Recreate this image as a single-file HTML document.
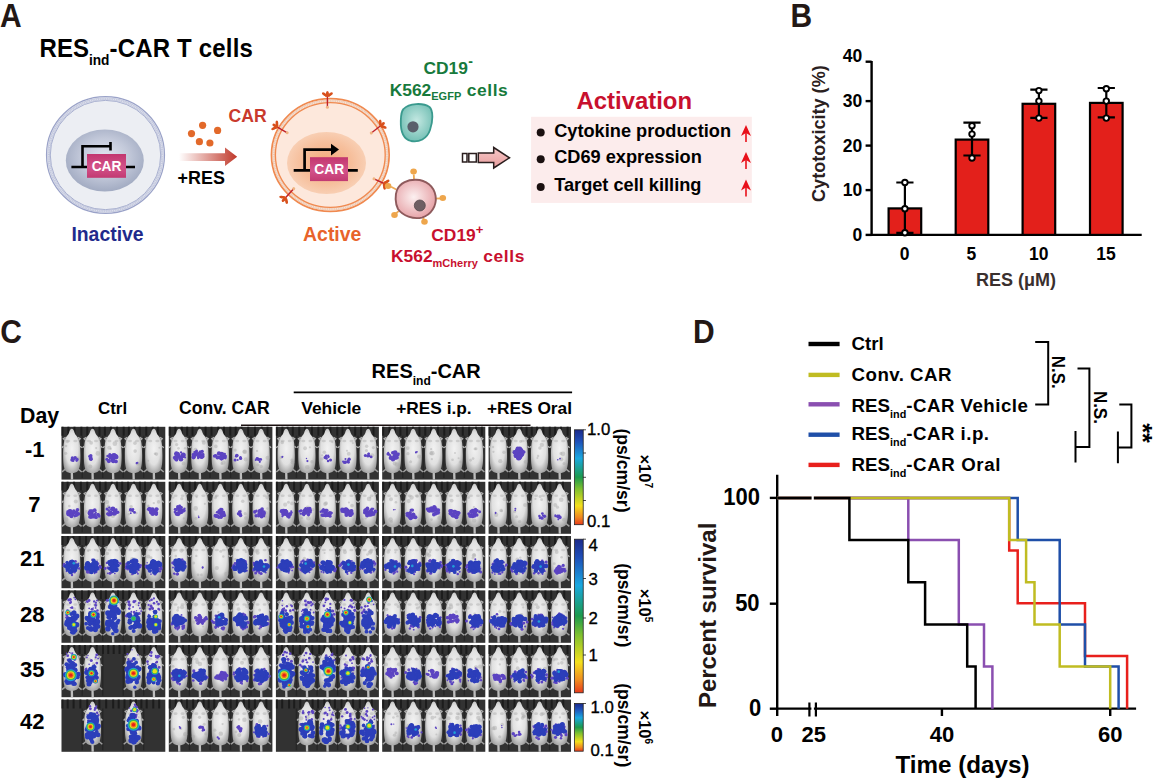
<!DOCTYPE html>
<html><head><meta charset="utf-8"><style>
html,body{margin:0;padding:0;background:#fff;width:1170px;height:782px;overflow:hidden}
svg{display:block}
text{font-family:"Liberation Sans", sans-serif}
</style></head><body>
<svg width="1170" height="782" viewBox="0 0 1170 782">
<rect width="1170" height="782" fill="#fff"/>
<text transform="translate(0,27.1) scale(1,1.09)" font-size="30" font-weight="bold" fill="#231815">A</text>
<text transform="translate(39.6,56.6) scale(1,1.05)" font-size="24" font-weight="bold" fill="#000">RES<tspan font-size="13.7" dy="7.6">ind</tspan><tspan dy="-7.6" letter-spacing="0.2">-CAR T cells</tspan></text>
<defs>
<radialGradient id="nucI" cx="50%" cy="45%" r="55%"><stop offset="0" stop-color="#e2e6f0"/><stop offset="0.55" stop-color="#c3c9da"/><stop offset="1" stop-color="#a2abc2"/></radialGradient>
<radialGradient id="nucA" cx="50%" cy="50%" r="55%"><stop offset="0" stop-color="#f3a979"/><stop offset="0.6" stop-color="#f6bf9c"/><stop offset="1" stop-color="#f9d3ba"/></radialGradient>
<linearGradient id="carG" x1="0" y1="0" x2="0" y2="1"><stop offset="0" stop-color="#c2366e"/><stop offset="0.55" stop-color="#d3528a"/><stop offset="1" stop-color="#c23a72"/></linearGradient>
<linearGradient id="arrG" x1="179" y1="0" x2="237" y2="0" gradientUnits="userSpaceOnUse"><stop offset="0" stop-color="#c0392b" stop-opacity="0"/><stop offset="1" stop-color="#c0392b"/></linearGradient>
<radialGradient id="pinkG" cx="45%" cy="45%" r="60%"><stop offset="0" stop-color="#fcf0f0"/><stop offset="1" stop-color="#e59ea3"/></radialGradient>
<radialGradient id="tealG" cx="50%" cy="45%" r="60%"><stop offset="0" stop-color="#c4e8e2"/><stop offset="1" stop-color="#6fbdb2"/></radialGradient>
<linearGradient id="hollowG" x1="0" y1="0" x2="0" y2="1"><stop offset="0" stop-color="#f7c9c9"/><stop offset="1" stop-color="#e79c9c"/></linearGradient>
</defs>
<ellipse cx="105.5" cy="155" rx="59" ry="58.4" fill="#eceef3" stroke="#9aa2c8" stroke-width="1.2"/>
<ellipse cx="105.5" cy="155" rx="56.8" ry="56.2" fill="none" stroke="#c3c8de" stroke-width="2.6"/><ellipse cx="105.5" cy="155" rx="56.8" ry="56.2" fill="none" stroke="#fff" stroke-opacity="0.5" stroke-width="1.3" stroke-dasharray="0.9 0.9"/>
<ellipse cx="105.5" cy="155" rx="55.2" ry="54.6" fill="none" stroke="#a2a9cc" stroke-width="0.9"/>
<ellipse cx="104.8" cy="160.5" rx="39" ry="31" fill="url(#nucI)"/>
<path d="M71.4,167 H135 M82.5,167 V146.2 H110.5 M110.5,142 V150.5" stroke="#000" stroke-width="2.6" fill="none"/>
<rect x="87" y="154" width="39" height="23.8" fill="url(#carG)"/>
<text transform="translate(106.6,170.9) scale(1,1.12)" font-size="13.8" font-weight="bold" fill="#fff" text-anchor="middle">CAR</text>
<text x="107.5" y="241" font-size="19.4" fill="#1f2a8c" text-anchor="middle" font-weight="bold" >Inactive</text>
<path d="M179,153.2 H225 V147.5 L237.2,156.8 L225,166 V160.9 H179 Z" fill="url(#arrG)"/>
<circle cx="202.6" cy="125.3" r="3.6" fill="#e2692a"/>
<circle cx="191.5" cy="133.6" r="3.6" fill="#e2692a"/>
<circle cx="217.6" cy="130.4" r="3.6" fill="#e2692a"/>
<circle cx="199.4" cy="141.7" r="3.6" fill="#e2692a"/>
<circle cx="209.9" cy="143" r="3.6" fill="#e2692a"/>
<text x="228.6" y="122.2" font-size="17.6" fill="#c9392c" text-anchor="start" font-weight="bold" >CAR</text>
<text x="177.6" y="184" font-size="17.9" fill="#000" text-anchor="start" font-weight="bold" >+RES</text>
<ellipse cx="330.3" cy="155" rx="58.8" ry="56.3" fill="#fde8dc" stroke="#f0894f" stroke-width="1.8"/>
<ellipse cx="330.3" cy="155" rx="56.6" ry="54.1" fill="none" stroke="#eecab4" stroke-width="2.8"/><ellipse cx="330.3" cy="155" rx="56.6" ry="54.1" fill="none" stroke="#fff" stroke-opacity="0.55" stroke-width="1.4" stroke-dasharray="0.9 0.9"/>
<ellipse cx="330.3" cy="155" rx="54.9" ry="52.4" fill="none" stroke="#f0894f" stroke-width="1.3"/>
<ellipse cx="326.5" cy="163" rx="39.5" ry="31" fill="url(#nucA)"/>
<path d="M293.7,170.4 H357.8 M304.6,170.4 V149.6 H332" stroke="#000" stroke-width="2.7" fill="none"/>
<path d="M331,143.8 L339,149.6 L331,155.6 Z" fill="#000"/>
<rect x="310" y="157.2" width="38" height="23.9" fill="url(#carG)"/>
<text transform="translate(329.2,174.3) scale(1,1.12)" font-size="13.8" font-weight="bold" fill="#fff" text-anchor="middle">CAR</text>
<text x="332.2" y="241" font-size="19.4" fill="#e8632a" text-anchor="middle" font-weight="bold" >Active</text>
<g transform="translate(327.4,107.2) rotate(0.0)"><line x1="0" y1="0" x2="0" y2="-11.0" stroke="#c0202a" stroke-width="1.4"/><circle cx="0" cy="0" r="1.5" fill="#f0b482"/><ellipse cx="0" cy="-13.6" rx="1.5" ry="2.6" fill="#d8501c"/><ellipse cx="-3.2" cy="-13.0" rx="1.4" ry="2.6" transform="rotate(-55 -3.2 -13.0)" fill="#d8501c"/><ellipse cx="3.2" cy="-13.0" rx="1.4" ry="2.6" transform="rotate(55 3.2 -13.0)" fill="#d8501c"/><ellipse cx="0" cy="-11.6" rx="2.8" ry="1.5" fill="#d8501c"/></g>
<g transform="translate(287.2,132.8) rotate(-59.53445508054003)"><line x1="0" y1="0" x2="0" y2="-11.83384975398961" stroke="#c0202a" stroke-width="1.4"/><circle cx="0" cy="0" r="1.5" fill="#f0b482"/><ellipse cx="0" cy="-14.433849753989609" rx="1.5" ry="2.6" fill="#d8501c"/><ellipse cx="-3.2" cy="-13.83384975398961" rx="1.4" ry="2.6" transform="rotate(-55 -3.2 -13.83384975398961)" fill="#d8501c"/><ellipse cx="3.2" cy="-13.83384975398961" rx="1.4" ry="2.6" transform="rotate(55 3.2 -13.83384975398961)" fill="#d8501c"/><ellipse cx="0" cy="-12.433849753989609" rx="2.8" ry="1.5" fill="#d8501c"/></g>
<g transform="translate(371.3,133) rotate(52.25319461272536)"><line x1="0" y1="0" x2="0" y2="-11.761377470347606" stroke="#c0202a" stroke-width="1.4"/><circle cx="0" cy="0" r="1.5" fill="#f0b482"/><ellipse cx="0" cy="-14.361377470347605" rx="1.5" ry="2.6" fill="#d8501c"/><ellipse cx="-3.2" cy="-13.761377470347606" rx="1.4" ry="2.6" transform="rotate(-55 -3.2 -13.761377470347606)" fill="#d8501c"/><ellipse cx="3.2" cy="-13.761377470347606" rx="1.4" ry="2.6" transform="rotate(55 3.2 -13.761377470347606)" fill="#d8501c"/><ellipse cx="0" cy="-12.361377470347605" rx="2.8" ry="1.5" fill="#d8501c"/></g>
<g transform="translate(293.7,188.7) rotate(222.02197934805014)"><line x1="0" y1="0" x2="0" y2="-12.24948978529311" stroke="#c0202a" stroke-width="1.4"/><circle cx="0" cy="0" r="1.5" fill="#f0b482"/><ellipse cx="0" cy="-14.849489785293109" rx="1.5" ry="2.6" fill="#d8501c"/><ellipse cx="-3.2" cy="-14.24948978529311" rx="1.4" ry="2.6" transform="rotate(-55 -3.2 -14.24948978529311)" fill="#d8501c"/><ellipse cx="3.2" cy="-14.24948978529311" rx="1.4" ry="2.6" transform="rotate(55 3.2 -14.24948978529311)" fill="#d8501c"/><ellipse cx="0" cy="-12.849489785293109" rx="2.8" ry="1.5" fill="#d8501c"/></g>
<g transform="translate(374.0,178.8) rotate(115.17352452453011)"><line x1="0" y1="0" x2="0" y2="-11.049434374663704" stroke="#c0202a" stroke-width="1.4"/><circle cx="0" cy="0" r="1.5" fill="#f0b482"/><ellipse cx="0" cy="-13.649434374663704" rx="1.5" ry="2.6" fill="#d8501c"/><ellipse cx="-3.2" cy="-13.049434374663704" rx="1.4" ry="2.6" transform="rotate(-55 -3.2 -13.049434374663704)" fill="#d8501c"/><ellipse cx="3.2" cy="-13.049434374663704" rx="1.4" ry="2.6" transform="rotate(55 3.2 -13.049434374663704)" fill="#d8501c"/><ellipse cx="0" cy="-11.649434374663704" rx="2.8" ry="1.5" fill="#d8501c"/></g>
<text x="423.4" y="73.9" font-size="17.4" fill="#177a3c" text-anchor="start" font-weight="bold" >CD19<tspan font-size="14" dy="-8" dx="0.5">-</tspan></text>
<text x="389.7" y="95.8" font-size="17.4" font-weight="bold" fill="#177a3c">K562<tspan font-size="11" dy="4.5">EGFP</tspan><tspan dy="-4.5" letter-spacing="0.6"> cells</tspan></text>
<path d="M403.5,109 C409,103 423,102.5 429.5,107 C433.5,111 433,121 430,130 C427,139 419,142.5 411,141 C403,139 400.5,130 400.8,121 C401,115 401,111.5 403.5,109 Z" fill="url(#tealG)" stroke="#3a9a8e" stroke-width="1.8"/>
<circle cx="413" cy="126.8" r="5.6" fill="#5a5f6b"/>
<rect x="462.5" y="153.5" width="4.5" height="8.5" fill="#fff" stroke="#2a1e1e" stroke-width="1.5"/>
<rect x="468.8" y="153.5" width="7.5" height="8.5" fill="#fff" stroke="#2a1e1e" stroke-width="1.5"/>
<path d="M478.3,153 H493.7 V147.5 L509.5,157.8 L493.7,168 V162.5 H478.3 Z" fill="url(#hollowG)" stroke="#2a1e1e" stroke-width="1.5"/>
<line x1="414" y1="180" x2="413.8" y2="174.5" stroke="#eeaa55" stroke-width="1.8"/>
<ellipse cx="413.6" cy="171.6" rx="3.3" ry="3" fill="#eea64c"/>
<line x1="396.3" y1="189.5" x2="391" y2="186.8" stroke="#eeaa55" stroke-width="1.8"/>
<ellipse cx="388.1" cy="186" rx="3.3" ry="3" fill="#eea64c"/>
<line x1="435.7" y1="198.5" x2="440.2" y2="198.5" stroke="#eeaa55" stroke-width="1.8"/>
<ellipse cx="442.8" cy="198" rx="3.3" ry="3" fill="#eea64c"/>
<line x1="399.4" y1="210.6" x2="395.4" y2="213.7" stroke="#eeaa55" stroke-width="1.8"/>
<ellipse cx="394.5" cy="215" rx="3.3" ry="3" fill="#eea64c"/>
<line x1="423.2" y1="217.3" x2="424" y2="220.8" stroke="#eeaa55" stroke-width="1.8"/>
<ellipse cx="424.5" cy="221.7" rx="3.3" ry="3" fill="#eea64c"/>
<path d="M397,190 C400,183 408,179.5 416,179.8 C426,180 434,186 435.6,196 C437,206 431,215 422,217.6 C413,219.5 403,216 398,209 C395,203 395,195 397,190 Z" fill="url(#pinkG)" stroke="#8e5a5c" stroke-width="1.9"/>
<circle cx="419.8" cy="205.5" r="5.5" fill="#6e5f63" stroke="#574a4e" stroke-width="0.8"/>
<text x="431.3" y="241.2" font-size="17.4" fill="#c8102e" text-anchor="start" font-weight="bold" >CD19<tspan font-size="13" dy="-7.5">+</tspan></text>
<text x="391" y="262.3" font-size="17.4" font-weight="bold" fill="#c8102e">K562<tspan font-size="11" dy="4.5">mCherry</tspan><tspan dy="-4.5" letter-spacing="0.6"> cells</tspan></text>
<text x="634.3" y="108.8" font-size="23.9" fill="#c8102e" text-anchor="middle" font-weight="bold" >Activation</text>
<rect x="531.1" y="116.8" width="220.7" height="86.1" fill="#fcecec"/>
<circle cx="540.7" cy="132.5" r="4" fill="#1a1010"/>
<text x="554.2" y="136.6" font-size="18.2" fill="#000" text-anchor="start" font-weight="bold" >Cytokine production</text>
<path d="M746,141.9 V128.9" stroke="#e8101a" stroke-width="1.6"/>
<path d="M746,124.9 L751,135.9 L746,132.9 L741,135.9 Z" fill="#e8101a"/>
<circle cx="540.7" cy="159.20000000000002" r="4" fill="#1a1010"/>
<text x="554.2" y="163.3" font-size="18.2" fill="#000" text-anchor="start" font-weight="bold" >CD69 expression</text>
<path d="M746,169 V156" stroke="#e8101a" stroke-width="1.6"/>
<path d="M746,152 L751,163 L746,160 L741,163 Z" fill="#e8101a"/>
<circle cx="540.7" cy="187.0" r="4" fill="#1a1010"/>
<text x="554.2" y="191.1" font-size="18.2" fill="#000" text-anchor="start" font-weight="bold" >Target cell killing</text>
<path d="M746,196.4 V183.4" stroke="#e8101a" stroke-width="1.6"/>
<path d="M746,179.4 L751,190.4 L746,187.4 L741,190.4 Z" fill="#e8101a"/>
<text transform="translate(790.6,27) scale(1,1.09)" font-size="30" font-weight="bold" fill="#231815">B</text>
<path d="M871.6,61 V234.9 H1141.7" stroke="#000" stroke-width="2.4" fill="none"/>
<line x1="865.6" y1="61.7" x2="871.6" y2="61.7" stroke="#000" stroke-width="2.4"/>
<line x1="865.6" y1="101.1" x2="871.6" y2="101.1" stroke="#000" stroke-width="2.4"/>
<line x1="865.6" y1="145.6" x2="871.6" y2="145.6" stroke="#000" stroke-width="2.4"/>
<line x1="865.6" y1="190.1" x2="871.6" y2="190.1" stroke="#000" stroke-width="2.4"/>
<line x1="865.6" y1="234.9" x2="871.6" y2="234.9" stroke="#000" stroke-width="2.4"/>
<text x="862.2" y="62.2" font-size="17.5" fill="#000" text-anchor="end" font-weight="bold" >40</text>
<text x="862.2" y="107" font-size="17.5" fill="#000" text-anchor="end" font-weight="bold" >30</text>
<text x="862.2" y="151.5" font-size="17.5" fill="#000" text-anchor="end" font-weight="bold" >20</text>
<text x="862.2" y="196" font-size="17.5" fill="#000" text-anchor="end" font-weight="bold" >10</text>
<text x="862.2" y="240.8" font-size="17.5" fill="#000" text-anchor="end" font-weight="bold" >0</text>
<text transform="translate(825.3,133.6) rotate(-90)" x="0" y="0" font-size="18.1" font-weight="bold" fill="#2a2020" text-anchor="middle">Cytotoxicity (%)</text>
<rect x="888.6" y="208.4" width="32.6" height="26.499999999999993" fill="#e3201b" stroke="#000" stroke-width="2.2"/>
<path d="M904.9,182.5 V232.8 M896.3,182.5 H913.5 M896.3,232.8 H913.5" stroke="#000" stroke-width="2.2" fill="none"/>
<circle cx="904.9" cy="182.5" r="2.75" fill="#fff" stroke="#000" stroke-width="1.9"/>
<circle cx="904.9" cy="208.7" r="2.75" fill="#fff" stroke="#000" stroke-width="1.9"/>
<circle cx="904.9" cy="232.8" r="2.75" fill="#fff" stroke="#000" stroke-width="1.9"/>
<rect x="955.7" y="139.6" width="32.6" height="95.30000000000001" fill="#e3201b" stroke="#000" stroke-width="2.2"/>
<path d="M972,122.6 V155.5 M963.4,122.6 H980.6 M963.4,155.5 H980.6" stroke="#000" stroke-width="2.2" fill="none"/>
<circle cx="972" cy="125.8" r="2.75" fill="#fff" stroke="#000" stroke-width="1.9"/>
<circle cx="972" cy="134.1" r="2.75" fill="#fff" stroke="#000" stroke-width="1.9"/>
<circle cx="972" cy="158" r="2.75" fill="#fff" stroke="#000" stroke-width="1.9"/>
<rect x="1022.6000000000001" y="103.8" width="32.6" height="131.1" fill="#e3201b" stroke="#000" stroke-width="2.2"/>
<path d="M1038.9,89.6 V117.8 M1030.3000000000002,89.6 H1047.5 M1030.3000000000002,117.8 H1047.5" stroke="#000" stroke-width="2.2" fill="none"/>
<circle cx="1038.9" cy="90.6" r="2.75" fill="#fff" stroke="#000" stroke-width="1.9"/>
<circle cx="1038.9" cy="101.1" r="2.75" fill="#fff" stroke="#000" stroke-width="1.9"/>
<circle cx="1038.9" cy="118.1" r="2.75" fill="#fff" stroke="#000" stroke-width="1.9"/>
<rect x="1090.0" y="102.89999999999999" width="32.6" height="132.00000000000003" fill="#e3201b" stroke="#000" stroke-width="2.2"/>
<path d="M1106.3,88 V117.4 M1097.7,88 H1114.8999999999999 M1097.7,117.4 H1114.8999999999999" stroke="#000" stroke-width="2.2" fill="none"/>
<circle cx="1106.3" cy="88.7" r="2.75" fill="#fff" stroke="#000" stroke-width="1.9"/>
<circle cx="1106.3" cy="101.1" r="2.75" fill="#fff" stroke="#000" stroke-width="1.9"/>
<circle cx="1106.3" cy="118.1" r="2.75" fill="#fff" stroke="#000" stroke-width="1.9"/>
<text x="904.6" y="259.6" font-size="17.5" fill="#000" text-anchor="middle" font-weight="bold" >0</text>
<text x="971.4" y="259.6" font-size="17.5" fill="#000" text-anchor="middle" font-weight="bold" >5</text>
<text x="1038.8" y="259.6" font-size="17.5" fill="#000" text-anchor="middle" font-weight="bold" >10</text>
<text x="1105.9" y="259.6" font-size="17.5" fill="#000" text-anchor="middle" font-weight="bold" >15</text>
<text x="1016" y="285.5" font-size="18" fill="#3a302e" text-anchor="middle" font-weight="bold" >RES (μM)</text>
<text transform="translate(0.2,342.9) scale(1,1.09)" font-size="30" font-weight="bold" fill="#231815">C</text>
<text x="20" y="422.8" font-size="21.3" fill="#000" text-anchor="start" font-weight="bold" >Day</text>
<text x="112.6" y="413.8" font-size="16.9" fill="#000" text-anchor="middle" font-weight="bold" >Ctrl</text>
<text x="224.4" y="413.8" font-size="17.6" fill="#000" text-anchor="middle" font-weight="bold" >Conv. CAR</text>
<text x="331.3" y="413.8" font-size="17.4" fill="#000" text-anchor="middle" font-weight="bold" >Vehicle</text>
<text x="433.9" y="413.8" font-size="17.3" fill="#000" text-anchor="middle" font-weight="bold" >+RES i.p.</text>
<text x="529.5" y="413.8" font-size="17.3" fill="#000" text-anchor="middle" font-weight="bold" >+RES Oral</text>
<text x="371.6" y="378.2" font-size="20" font-weight="bold" fill="#000">RES<tspan font-size="12" dy="6.5">ind</tspan><tspan dy="-6.5">-CAR</tspan></text>
<line x1="293.7" y1="392.4" x2="572.1" y2="392.4" stroke="#000" stroke-width="1.6"/>
<text x="44.6" y="456.6" font-size="22" fill="#000" text-anchor="end" font-weight="bold" >-1</text>
<text x="44.6" y="566.2" font-size="22" fill="#000" text-anchor="end" font-weight="bold" >21</text>
<text x="44.6" y="622" font-size="22" fill="#000" text-anchor="end" font-weight="bold" >28</text>
<text x="44.6" y="677.3" font-size="22" fill="#000" text-anchor="end" font-weight="bold" >35</text>
<text x="44.6" y="729.3" font-size="22" fill="#000" text-anchor="end" font-weight="bold" >42</text>
<text x="34.4" y="511.6" font-size="22" fill="#000" text-anchor="middle" font-weight="bold" >7</text>
<style>.p{fill:#5c44c2}.b{fill:#2c3eba}.c{fill:#1f9fd8}.g{fill:#3cb850}.y{fill:#e8e020}.o{fill:#f07820}.r{fill:#e82018}.s{fill:#a8a8a8;opacity:.45}</style>
<defs><radialGradient id="mouseG" cx="50%" cy="45%" r="60%"><stop offset="0" stop-color="#f2f2f2"/><stop offset="0.6" stop-color="#e0e0e0"/><stop offset="1" stop-color="#9c9c9c"/></radialGradient>
<g id="mb"><path d="M-5.5,41 L-9.8,44.5 M5.5,41 L9.8,44.5" stroke="#a0a0a0" stroke-width="1.5"/><path d="M0,44 L0.2,52" stroke="#bdbdbd" stroke-width="2.3"/><path d="M0,2 C1.2,2 2,3.5 2.8,6 C3.5,8 5.5,9.5 6.8,12 C8,14.5 8.4,20 8.5,28 C8.5,36 8,41 6,43.5 C4.5,45 2.5,45.5 0,45.5 C-2.5,45.5 -4.5,45 -6,43.5 C-8,41 -8.5,36 -8.5,28 C-8.4,20 -8,14.5 -6.8,12 C-5.5,9.5 -3.5,8 -2.8,6 C-2,3.5 -1.2,2 0,2 Z" fill="url(#mouseG)"/><path d="M-6,10.5 l-2.2,1.2 l1.6,1.8 M6,10.5 l2.2,1.2 l-1.6,1.8 M-8.3,19 l-1.5,1.8 M8.3,19 l1.5,1.8" stroke="#b0b0b0" stroke-width="1.4" fill="none"/><ellipse cx="-3.5" cy="14" rx="2" ry="1.3" fill="#9a9a9a" opacity="0.35"/><ellipse cx="3.5" cy="14" rx="2" ry="1.3" fill="#9a9a9a" opacity="0.35"/></g>
<linearGradient id="cb" x1="0" y1="0" x2="0" y2="1"><stop offset="0" stop-color="#1c2a8a"/><stop offset="0.12" stop-color="#1f4fb8"/><stop offset="0.3" stop-color="#1aa8e0"/><stop offset="0.5" stop-color="#1c9a4c"/><stop offset="0.62" stop-color="#7cc030"/><stop offset="0.8" stop-color="#f4e01c"/><stop offset="0.92" stop-color="#f08a20"/><stop offset="1" stop-color="#e83a1c"/></linearGradient></defs>
<rect x="61.5" y="426.8" width="103.8" height="52.8" fill="#323232"/><path d="M62.5,426.8v9M68.4,426.8v9M74.5,426.8v9M81.4,426.8v9M87.3,426.8v9M93.3,426.8v9M99.5,426.8v9M104.9,426.8v9M110.9,426.8v9M117.1,426.8v9M123.7,426.8v9M128.9,426.8v9M134.5,426.8v9M139.7,426.8v9M146.3,426.8v9M152.7,426.8v9M157.8,426.8v9" stroke="#1c1c1c" stroke-width="2"/><path d="M82.2,435.8v42.2M102.8,435.8v42.2M123.2,435.8v42.2M143.7,435.8v42.2" stroke="#262626" stroke-width="1.4"/><g transform="translate(71.8,426.8) scale(1.015)"><use href="#mb"/><circle class="s" cx="6" cy="31" r="1.8"/><circle class="s" cx="-4.5" cy="14.4" r="1.7"/><circle class="s" cx="-5.7" cy="18.9" r="1.3"/><circle class="s" cx="-6.1" cy="26.1" r="1.6"/><circle class="p" cx="0.5" cy="30.5" r="1.5"/><circle class="p" cx="0.3" cy="32.6" r="1.8"/><circle class="p" cx="5.3" cy="32.1" r="1.5"/><circle class="p" cx="1.4" cy="33.5" r="1.2"/><circle class="p" cx="4.8" cy="33.3" r="1.3"/><circle class="p" cx="3.3" cy="30.6" r="1.8"/><circle class="p" cx="2.1" cy="32.1" r="1.1"/></g><g transform="translate(92.5,426.8) scale(1.015)"><use href="#mb"/><circle class="s" cx="5.3" cy="26.2" r="2.3"/><circle class="s" cx="-1.3" cy="15.9" r="1.8"/><circle class="s" cx="3.6" cy="21" r="1.1"/><circle class="s" cx="-2.2" cy="39.1" r="2"/><circle class="p" cx="-1.6" cy="30.4" r="1.6"/><circle class="p" cx="-1.1" cy="32" r="1.3"/><circle class="p" cx="-1.2" cy="32.4" r="1"/><circle class="p" cx="-3" cy="29.2" r="1.3"/><circle class="p" cx="-1.9" cy="31.5" r="1.8"/><circle class="p" cx="-1.7" cy="28.4" r="1.7"/><circle class="p" cx="-1.8" cy="31.8" r="1.7"/></g><g transform="translate(113,426.8) scale(1.015)"><use href="#mb"/><circle class="s" cx="1.8" cy="16.6" r="2.3"/><circle class="s" cx="-3.7" cy="20.7" r="2"/><circle class="s" cx="-2.2" cy="21.7" r="1.1"/><circle class="s" cx="-5.3" cy="29.2" r="1.3"/><circle class="p" cx="-6" cy="31.9" r="1.5"/><circle class="p" cx="-5.4" cy="28.7" r="1.2"/><circle class="p" cx="2.9" cy="34.1" r="1.9"/><circle class="p" cx="-0.4" cy="32.6" r="1.8"/><circle class="p" cx="2.1" cy="29.9" r="2"/><circle class="p" cx="3.1" cy="28.2" r="1.5"/><circle class="p" cx="0.6" cy="31.1" r="2.1"/><circle class="p" cx="-0" cy="34.4" r="1.3"/><circle class="p" cx="1.7" cy="27.5" r="1.3"/><circle class="p" cx="1.9" cy="34" r="1.1"/><circle class="p" cx="0.2" cy="33.9" r="1.9"/><circle class="p" cx="-2.8" cy="29" r="2"/><circle class="p" cx="-0.2" cy="31.2" r="1.3"/><circle class="p" cx="-1.8" cy="31" r="1.2"/><circle class="p" cx="-3.5" cy="33.1" r="1.1"/><circle class="p" cx="-4.1" cy="33.8" r="2.1"/><circle class="p" cx="-3.1" cy="27.5" r="1.6"/><circle class="p" cx="0.3" cy="31.3" r="1"/><circle class="p" cx="0" cy="27.8" r="1.5"/><circle class="p" cx="-0.6" cy="29" r="2.2"/><circle class="p" cx="-0.4" cy="33.3" r="1.6"/><circle class="p" cx="-2.1" cy="29.9" r="2.4"/><circle class="p" cx="1" cy="28.1" r="2.3"/><circle class="p" cx="3.3" cy="29.7" r="2.2"/></g><g transform="translate(133.5,426.8) scale(1.015)"><use href="#mb"/><circle class="s" cx="5.2" cy="36.6" r="1.5"/><circle class="s" cx="3.8" cy="36.5" r="1.7"/><circle class="s" cx="1.6" cy="23.9" r="1.8"/><circle class="s" cx="1.4" cy="16.1" r="1.8"/><circle class="p" cx="3.8" cy="35.4" r="1"/><circle class="p" cx="3.1" cy="35.8" r="1"/></g><g transform="translate(153.8,426.8) scale(1.015)"><use href="#mb"/><circle class="s" cx="-5.4" cy="33.5" r="1"/><circle class="s" cx="1.3" cy="26.5" r="1.3"/><circle class="s" cx="2.6" cy="26.9" r="1.8"/><circle class="s" cx="5.5" cy="20.7" r="1"/></g>
<rect x="168.8" y="426.8" width="103.6" height="52.8" fill="#323232"/><path d="M169.8,426.8v9M175.4,426.8v9M181.8,426.8v9M187.2,426.8v9M192.5,426.8v9M199.3,426.8v9M205.6,426.8v9M211.5,426.8v9M218.3,426.8v9M224,426.8v9M230.3,426.8v9M235.7,426.8v9M241.5,426.8v9M248.2,426.8v9M255,426.8v9M261.7,426.8v9M267.5,426.8v9" stroke="#1c1c1c" stroke-width="2"/><path d="M189.5,435.8v42.2M210.1,435.8v42.2M230.6,435.8v42.2M251,435.8v42.2" stroke="#262626" stroke-width="1.4"/><g transform="translate(179.1,426.8) scale(1.015)"><use href="#mb"/><circle class="s" cx="-2.4" cy="17.5" r="1.6"/><circle class="s" cx="4.4" cy="36.1" r="1.9"/><circle class="s" cx="5.9" cy="21.2" r="1.2"/><circle class="s" cx="-0.6" cy="21.2" r="1.3"/><circle class="p" cx="-3" cy="29.6" r="1.9"/><circle class="p" cx="4.4" cy="29.1" r="1.1"/><circle class="p" cx="5.9" cy="30.3" r="1"/><circle class="p" cx="-0.8" cy="26.2" r="1.3"/><circle class="p" cx="0.6" cy="28.9" r="1.1"/><circle class="p" cx="-0.5" cy="29.7" r="1.9"/><circle class="p" cx="0.6" cy="31.2" r="1.1"/><circle class="p" cx="-2.4" cy="27.3" r="1.7"/><circle class="p" cx="-2.7" cy="26.1" r="2.1"/><circle class="p" cx="-0.7" cy="27.6" r="1.5"/><circle class="p" cx="0.6" cy="29.9" r="1.5"/><circle class="p" cx="-0.2" cy="27.6" r="1.3"/><circle class="p" cx="-2.5" cy="32.6" r="1.6"/><circle class="p" cx="-3.5" cy="26.9" r="1.4"/><circle class="p" cx="1.9" cy="25.3" r="1.1"/><circle class="p" cx="5" cy="27.9" r="1.1"/><circle class="p" cx="-4.2" cy="30.5" r="2"/><circle class="p" cx="-2.9" cy="31.9" r="2"/><circle class="p" cx="3.4" cy="28.8" r="2.2"/><circle class="p" cx="1.8" cy="31.9" r="2.3"/><circle class="p" cx="-1.2" cy="27.5" r="1.7"/><circle class="p" cx="4.1" cy="27.7" r="2.5"/><circle class="p" cx="-2.6" cy="28.9" r="1.8"/><circle class="p" cx="4" cy="28" r="1.8"/></g><g transform="translate(199.8,426.8) scale(1.015)"><use href="#mb"/><circle class="s" cx="-5.4" cy="25.5" r="1.7"/><circle class="s" cx="3.5" cy="26.7" r="1"/><circle class="s" cx="4" cy="15.7" r="2"/><circle class="s" cx="-4.3" cy="22.7" r="2"/><circle class="p" cx="-6.1" cy="27.4" r="1.9"/><circle class="p" cx="-3.2" cy="23.8" r="1.5"/><circle class="p" cx="0.6" cy="27.4" r="1.2"/><circle class="p" cx="-4.2" cy="27.4" r="1.8"/><circle class="p" cx="-3.8" cy="25.4" r="1.9"/><circle class="p" cx="-4.2" cy="26.9" r="1.4"/><circle class="p" cx="2.2" cy="24.3" r="1.2"/><circle class="p" cx="2.4" cy="24.3" r="1.6"/><circle class="p" cx="-3.5" cy="26.9" r="1.6"/><circle class="p" cx="-5.7" cy="27.8" r="1"/><circle class="p" cx="3.2" cy="27.2" r="1.4"/><circle class="p" cx="0.4" cy="24.6" r="1.5"/><circle class="p" cx="-1.6" cy="26.8" r="1.6"/><circle class="p" cx="-6.1" cy="30.1" r="2"/><circle class="p" cx="-1.6" cy="30.9" r="1.1"/><circle class="p" cx="-6" cy="29.5" r="2"/><circle class="p" cx="-4.4" cy="28.2" r="1.2"/><circle class="p" cx="-5.3" cy="24.9" r="1.1"/><circle class="p" cx="2.6" cy="28" r="1.7"/><circle class="p" cx="-0" cy="26.3" r="1.9"/><circle class="p" cx="-0.1" cy="27.2" r="2.2"/><circle class="p" cx="2.9" cy="29.3" r="1.8"/><circle class="p" cx="1.8" cy="29.9" r="1.9"/><circle class="p" cx="-1" cy="29.2" r="2"/></g><g transform="translate(220.3,426.8) scale(1.015)"><use href="#mb"/><circle class="s" cx="-4.4" cy="19.3" r="1.8"/><circle class="s" cx="1.8" cy="27.8" r="2.1"/><circle class="s" cx="1.5" cy="36.3" r="1.3"/><circle class="s" cx="3.1" cy="35.1" r="2.2"/><circle class="p" cx="1.9" cy="27.9" r="2.1"/><circle class="p" cx="1.1" cy="27.8" r="1.3"/><circle class="p" cx="-1" cy="26.6" r="1.1"/><circle class="p" cx="1.4" cy="26.4" r="1.9"/><circle class="p" cx="2.1" cy="30.9" r="1.8"/><circle class="p" cx="2.1" cy="29.1" r="1.8"/><circle class="p" cx="4.5" cy="26.6" r="1.1"/><circle class="p" cx="-5.8" cy="28.8" r="1.6"/><circle class="p" cx="-1.6" cy="27.1" r="1.1"/><circle class="p" cx="0.4" cy="29.4" r="1.6"/><circle class="p" cx="-5.1" cy="28.6" r="1.2"/><circle class="p" cx="0.5" cy="30.8" r="1.9"/><circle class="p" cx="5.2" cy="28.6" r="1.1"/><circle class="p" cx="4.9" cy="30.6" r="1.5"/><circle class="p" cx="-0.2" cy="26.3" r="1.5"/><circle class="p" cx="-4.5" cy="28.6" r="1.7"/><circle class="p" cx="4.5" cy="29.2" r="1.9"/><circle class="p" cx="1.1" cy="31.6" r="1.8"/><circle class="p" cx="0.3" cy="30" r="2"/><circle class="p" cx="3.5" cy="29.2" r="2.3"/><circle class="p" cx="-1.3" cy="26.2" r="2.1"/><circle class="p" cx="-2.8" cy="30.2" r="2"/><circle class="p" cx="3.3" cy="28.6" r="1.8"/><circle class="p" cx="2.6" cy="27.5" r="2.3"/></g><g transform="translate(240.8,426.8) scale(1.015)"><use href="#mb"/><circle class="s" cx="4.1" cy="24.5" r="2.2"/><circle class="s" cx="4.9" cy="32.1" r="2"/><circle class="s" cx="3.4" cy="24.5" r="1.9"/><circle class="s" cx="-5.6" cy="22.9" r="1.6"/><circle class="p" cx="-4.7" cy="29" r="1.1"/><circle class="p" cx="-0.3" cy="30" r="1.2"/><circle class="p" cx="-4.4" cy="28.9" r="1.4"/><circle class="p" cx="-5.6" cy="32.8" r="1.5"/><circle class="p" cx="-3.9" cy="28.3" r="1.8"/><circle class="p" cx="-0.2" cy="31.2" r="1.6"/><circle class="p" cx="-3" cy="32.7" r="0.9"/></g><g transform="translate(261.1,426.8) scale(1.015)"><use href="#mb"/><circle class="s" cx="-4" cy="23.8" r="1.1"/><circle class="s" cx="-3.2" cy="37.5" r="1.7"/><circle class="s" cx="0.1" cy="39.1" r="1.7"/><circle class="s" cx="6.4" cy="30.6" r="2.1"/><circle class="p" cx="-2.5" cy="32.1" r="1.7"/><circle class="p" cx="-1.3" cy="34.5" r="1.1"/><circle class="p" cx="-5.3" cy="32.8" r="1"/><circle class="p" cx="-0.4" cy="32.1" r="1.4"/><circle class="p" cx="-4.3" cy="31.7" r="1.2"/><circle class="p" cx="-4" cy="30.9" r="1.2"/><circle class="p" cx="-2.9" cy="31.2" r="0.9"/></g>
<rect x="275.9" y="426.8" width="103" height="52.8" fill="#323232"/><path d="M276.9,426.8v9M282.4,426.8v9M287.5,426.8v9M292.8,426.8v9M299.3,426.8v9M305.1,426.8v9M311.9,426.8v9M318.4,426.8v9M323.5,426.8v9M330.4,426.8v9M337.3,426.8v9M342.5,426.8v9M349.3,426.8v9M355.2,426.8v9M361.1,426.8v9M368.1,426.8v9M373.5,426.8v9" stroke="#1c1c1c" stroke-width="2"/><path d="M296.5,435.8v42.2M317.1,435.8v42.2M337.6,435.8v42.2M358,435.8v42.2" stroke="#262626" stroke-width="1.4"/><g transform="translate(286.2,426.8) scale(1.015)"><use href="#mb"/><circle class="s" cx="5.7" cy="32.8" r="1.6"/><circle class="s" cx="6.2" cy="35.2" r="1.8"/><circle class="s" cx="-5" cy="30.2" r="1.6"/><circle class="s" cx="-3.9" cy="15.4" r="1.7"/><circle class="p" cx="-3.5" cy="29.3" r="0.7"/><circle class="p" cx="-3.9" cy="29.7" r="1"/></g><g transform="translate(306.9,426.8) scale(1.015)"><use href="#mb"/><circle class="s" cx="0.4" cy="39.9" r="2.2"/><circle class="s" cx="3" cy="20.2" r="1.1"/><circle class="s" cx="5.1" cy="34.4" r="1.8"/><circle class="s" cx="-1.8" cy="21.1" r="1.9"/><circle class="p" cx="-0.4" cy="31.3" r="0.7"/><circle class="p" cx="0.5" cy="33.8" r="1.1"/></g><g transform="translate(327.4,426.8) scale(1.015)"><use href="#mb"/><circle class="s" cx="4.9" cy="15" r="1.1"/><circle class="s" cx="-3" cy="25.1" r="1.8"/><circle class="s" cx="-5.2" cy="28.1" r="1.1"/><circle class="s" cx="-5.4" cy="31.6" r="1.7"/><circle class="p" cx="-0.8" cy="31.2" r="1.2"/><circle class="p" cx="0.7" cy="28.2" r="1"/><circle class="p" cx="3.1" cy="32.8" r="1.5"/><circle class="p" cx="1" cy="29.6" r="1.3"/><circle class="p" cx="0.6" cy="33.7" r="1.2"/><circle class="p" cx="-1.2" cy="28.5" r="1.2"/><circle class="p" cx="-2.1" cy="30.2" r="1.7"/></g><g transform="translate(347.9,426.8) scale(1.015)"><use href="#mb"/><circle class="s" cx="-0.9" cy="23.6" r="1.1"/><circle class="s" cx="4.9" cy="16" r="1.1"/><circle class="s" cx="0.8" cy="26.6" r="1.9"/><circle class="s" cx="-2.6" cy="34.2" r="1.1"/><circle class="p" cx="-0" cy="34.1" r="1.6"/><circle class="p" cx="-2.4" cy="31.8" r="1"/><circle class="p" cx="-3.6" cy="35.3" r="1.2"/><circle class="p" cx="0.5" cy="35" r="1.4"/><circle class="p" cx="1.2" cy="31.9" r="1.7"/><circle class="p" cx="-4.6" cy="34.3" r="1.2"/><circle class="p" cx="-2.6" cy="35" r="1.7"/></g><g transform="translate(368.2,426.8) scale(1.015)"><use href="#mb"/><circle class="s" cx="5.1" cy="20.5" r="1.5"/><circle class="s" cx="-1.7" cy="23.4" r="1.5"/><circle class="s" cx="-1.5" cy="19.1" r="1.7"/><circle class="s" cx="3.9" cy="28.1" r="2.1"/><circle class="p" cx="0.6" cy="26.6" r="1.2"/><circle class="p" cx="2.9" cy="29.7" r="1.4"/><circle class="p" cx="-2.8" cy="28.2" r="1.5"/><circle class="p" cx="0.7" cy="28.7" r="1.4"/><circle class="p" cx="0.6" cy="28.6" r="1"/><circle class="p" cx="0.1" cy="26.6" r="1"/><circle class="p" cx="-0.5" cy="28.6" r="1.6"/></g>
<rect x="382.2" y="426.8" width="103.1" height="52.8" fill="#323232"/><path d="M383.2,426.8v9M389.5,426.8v9M395,426.8v9M400.4,426.8v9M407,426.8v9M413,426.8v9M419.5,426.8v9M425.3,426.8v9M431,426.8v9M437.9,426.8v9M444.3,426.8v9M450.3,426.8v9M456.3,426.8v9M462.8,426.8v9M469.2,426.8v9M476,426.8v9M481.9,426.8v9" stroke="#1c1c1c" stroke-width="2"/><path d="M402.8,435.8v42.2M423.4,435.8v42.2M443.9,435.8v42.2M464.4,435.8v42.2" stroke="#262626" stroke-width="1.4"/><g transform="translate(392.5,426.8) scale(1.015)"><use href="#mb"/><circle class="s" cx="2.2" cy="36.2" r="2"/><circle class="s" cx="4.3" cy="37.1" r="2.2"/><circle class="s" cx="1.8" cy="27.6" r="1.9"/><circle class="s" cx="3.9" cy="25" r="1.5"/><circle class="p" cx="4.4" cy="27.7" r="1.2"/><circle class="p" cx="1.8" cy="30.7" r="1.3"/><circle class="p" cx="2.2" cy="27.7" r="1.3"/><circle class="p" cx="4.4" cy="30.3" r="1.9"/><circle class="p" cx="1.4" cy="28.9" r="1.5"/><circle class="p" cx="-4.2" cy="25.7" r="1"/><circle class="p" cx="2.7" cy="29.1" r="1.2"/><circle class="p" cx="1.2" cy="31.7" r="1.7"/><circle class="p" cx="1.1" cy="29.8" r="1.3"/><circle class="p" cx="3.2" cy="31.3" r="1.3"/><circle class="p" cx="-4.5" cy="26.7" r="1.5"/><circle class="p" cx="0.4" cy="32.1" r="2"/><circle class="p" cx="-1.7" cy="30.7" r="2.1"/><circle class="p" cx="-2.1" cy="28.1" r="1.1"/><circle class="p" cx="5.8" cy="26.6" r="1.4"/><circle class="p" cx="-3.5" cy="27.3" r="1.3"/><circle class="p" cx="5.6" cy="27.7" r="1.3"/><circle class="p" cx="4.8" cy="28.1" r="1.4"/><circle class="p" cx="0.2" cy="25.6" r="1.7"/><circle class="p" cx="2.1" cy="29.3" r="1.8"/><circle class="p" cx="2.8" cy="26.3" r="2.1"/><circle class="p" cx="3" cy="27.8" r="2"/><circle class="p" cx="2.9" cy="30" r="1.5"/><circle class="p" cx="2.5" cy="25.4" r="2.3"/></g><g transform="translate(413.2,426.8) scale(1.015)"><use href="#mb"/><circle class="s" cx="-5.4" cy="21" r="1.9"/><circle class="s" cx="-5.2" cy="26.5" r="1.6"/><circle class="s" cx="5.9" cy="29.3" r="2.1"/><circle class="s" cx="-2.6" cy="34.5" r="1.5"/><circle class="p" cx="3.7" cy="24.7" r="0.9"/><circle class="p" cx="2.7" cy="25.2" r="1"/></g><g transform="translate(433.7,426.8) scale(1.015)"><use href="#mb"/><circle class="s" cx="-2.5" cy="22.1" r="1.1"/><circle class="s" cx="-2.5" cy="26.1" r="1.9"/><circle class="s" cx="-1.8" cy="31.9" r="1.1"/><circle class="s" cx="-1.4" cy="26" r="2.3"/></g><g transform="translate(454.2,426.8) scale(1.015)"><use href="#mb"/><circle class="s" cx="4.3" cy="31" r="1"/><circle class="s" cx="-1.6" cy="32.5" r="1.3"/><circle class="s" cx="0.8" cy="25.9" r="1"/><circle class="s" cx="6.4" cy="34.8" r="1.3"/></g><g transform="translate(474.5,426.8) scale(1.015)"><use href="#mb"/><circle class="s" cx="1.5" cy="21.6" r="1.5"/><circle class="s" cx="0.5" cy="21.8" r="1.4"/><circle class="s" cx="-1.4" cy="31.3" r="1.3"/><circle class="s" cx="-3.9" cy="33" r="1.4"/></g>
<rect x="488.6" y="426.8" width="82.4" height="52.8" fill="#323232"/><path d="M489.6,426.8v9M496.5,426.8v9M502.6,426.8v9M509.1,426.8v9M514.7,426.8v9M521.4,426.8v9M526.6,426.8v9M531.8,426.8v9M537,426.8v9M543.4,426.8v9M549.8,426.8v9M555.2,426.8v9M561,426.8v9M567.6,426.8v9" stroke="#1c1c1c" stroke-width="2"/><path d="M508.8,435.8v42.2M529.4,435.8v42.2M549.6,435.8v42.2" stroke="#262626" stroke-width="1.4"/><g transform="translate(498.4,426.8) scale(1.015)"><use href="#mb"/><circle class="s" cx="-5.3" cy="19.9" r="1.2"/><circle class="s" cx="-4.9" cy="24.6" r="1.1"/><circle class="s" cx="5.5" cy="25.1" r="1.7"/><circle class="s" cx="1.9" cy="33.9" r="2.1"/></g><g transform="translate(519.2,426.8) scale(1.015)"><use href="#mb"/><circle class="s" cx="-1.5" cy="22.6" r="1.5"/><circle class="s" cx="-6.3" cy="24.4" r="1.9"/><circle class="s" cx="6.3" cy="34.5" r="1.9"/><circle class="s" cx="1.4" cy="14.5" r="1.4"/><circle class="p" cx="-2.7" cy="29" r="1.7"/><circle class="p" cx="-3.1" cy="28.2" r="2.5"/><circle class="p" cx="2.1" cy="22.9" r="1.8"/><circle class="p" cx="0.6" cy="21.7" r="2.3"/><circle class="p" cx="-2.5" cy="28.5" r="1.8"/><circle class="p" cx="-1.4" cy="21.6" r="2.2"/><circle class="p" cx="-1.2" cy="22" r="1.8"/><circle class="p" cx="4.5" cy="24.8" r="1.8"/><circle class="p" cx="2.6" cy="27.1" r="2.3"/><circle class="p" cx="-1.1" cy="23.6" r="2.7"/><circle class="p" cx="-2.6" cy="28.3" r="1.7"/><circle class="p" cx="2.2" cy="25.7" r="2.7"/><circle class="p" cx="-4.3" cy="25.1" r="2.3"/><circle class="p" cx="-0.5" cy="30.3" r="2.8"/><circle class="p" cx="1.9" cy="22.8" r="1.7"/><circle class="p" cx="1.5" cy="23.8" r="2.7"/><circle class="p" cx="0.3" cy="29.4" r="2.6"/><circle class="p" cx="1.7" cy="29.1" r="1.7"/><circle class="p" cx="1.2" cy="26.3" r="3.5"/><circle class="p" cx="2.3" cy="25.1" r="2.8"/><circle class="p" cx="-1.2" cy="23.7" r="2.9"/><circle class="p" cx="-2.3" cy="24.5" r="2.5"/><circle class="p" cx="0.6" cy="28" r="2.6"/></g><g transform="translate(539.6,426.8) scale(1.015)"><use href="#mb"/><circle class="s" cx="-1.5" cy="28.8" r="1.2"/><circle class="s" cx="0.3" cy="20.9" r="1.7"/><circle class="s" cx="-2.2" cy="30.7" r="1"/><circle class="s" cx="2.2" cy="17.8" r="2.2"/></g><g transform="translate(559.6,426.8) scale(1.015)"><use href="#mb"/><circle class="s" cx="1.3" cy="26.2" r="1.5"/><circle class="s" cx="1.6" cy="31.9" r="2"/><circle class="s" cx="3.3" cy="26.6" r="2.3"/><circle class="s" cx="4.4" cy="36.2" r="1.5"/><circle class="p" cx="0.4" cy="31.3" r="0.9"/><circle class="p" cx="-1.8" cy="32.5" r="0.8"/></g>
<rect x="61.5" y="481.8" width="103.8" height="52" fill="#323232"/><path d="M62.5,481.8v8.8M67.6,481.8v8.8M74.1,481.8v8.8M80.9,481.8v8.8M87.3,481.8v8.8M93.5,481.8v8.8M100,481.8v8.8M105.6,481.8v8.8M111.8,481.8v8.8M117,481.8v8.8M122.2,481.8v8.8M128.1,481.8v8.8M134.1,481.8v8.8M139.9,481.8v8.8M145,481.8v8.8M151.4,481.8v8.8M157.4,481.8v8.8" stroke="#1c1c1c" stroke-width="2"/><path d="M82.2,490.6v41.6M102.8,490.6v41.6M123.2,490.6v41.6M143.7,490.6v41.6" stroke="#262626" stroke-width="1.4"/><g transform="translate(71.8,481.8) scale(1.000)"><use href="#mb"/><circle class="s" cx="-2.5" cy="24.3" r="1.3"/><circle class="s" cx="-5.6" cy="37.7" r="2.3"/><circle class="s" cx="2.2" cy="36.5" r="1.5"/><circle class="s" cx="4" cy="19.8" r="2"/><circle class="p" cx="5.6" cy="32.7" r="1.1"/><circle class="p" cx="-4.5" cy="29.4" r="1"/><circle class="p" cx="1.3" cy="32.9" r="1.4"/><circle class="p" cx="6.5" cy="32" r="1.9"/><circle class="p" cx="-1.7" cy="32" r="1.6"/><circle class="p" cx="2.2" cy="30.6" r="2"/><circle class="p" cx="-0.3" cy="33.4" r="2"/><circle class="p" cx="5.3" cy="30" r="1.2"/><circle class="p" cx="-0.4" cy="34.5" r="2"/><circle class="p" cx="3.1" cy="34.3" r="1.4"/><circle class="p" cx="-1.2" cy="30.7" r="2"/><circle class="p" cx="3.9" cy="30.3" r="1.7"/><circle class="p" cx="3.2" cy="34.3" r="1.1"/><circle class="p" cx="5.2" cy="32.8" r="1.3"/><circle class="p" cx="5.7" cy="27.9" r="1.8"/><circle class="p" cx="4.5" cy="33.2" r="2"/><circle class="p" cx="-0.4" cy="30.8" r="1.2"/><circle class="p" cx="-0.6" cy="34" r="1.2"/><circle class="p" cx="-0.7" cy="32.8" r="2.3"/><circle class="p" cx="-3.2" cy="32.2" r="2.4"/><circle class="p" cx="-2.6" cy="29.6" r="1.8"/><circle class="p" cx="2" cy="29.3" r="1.8"/><circle class="p" cx="-1.7" cy="29.7" r="2.5"/><circle class="p" cx="-3.7" cy="31.2" r="2"/></g><g transform="translate(92.5,481.8) scale(1.000)"><use href="#mb"/><circle class="s" cx="-5.9" cy="29.6" r="1.4"/><circle class="s" cx="-3.2" cy="34.9" r="1.1"/><circle class="s" cx="-2.8" cy="33.6" r="1.3"/><circle class="s" cx="-2.9" cy="28.3" r="1.2"/><circle class="p" cx="5.4" cy="33" r="1.8"/><circle class="p" cx="-2.9" cy="35.3" r="1.5"/><circle class="p" cx="3.4" cy="35.4" r="1.7"/><circle class="p" cx="-1.6" cy="35.2" r="1.9"/><circle class="p" cx="-2.8" cy="32" r="1.9"/><circle class="p" cx="-0.3" cy="29.4" r="2"/><circle class="p" cx="3.9" cy="35.9" r="1.2"/><circle class="p" cx="-0.8" cy="31" r="1.5"/><circle class="p" cx="2.2" cy="28.4" r="1.9"/><circle class="p" cx="1.8" cy="35.5" r="1.2"/><circle class="p" cx="-2.2" cy="30.8" r="1"/><circle class="p" cx="-2.7" cy="30.2" r="1.6"/><circle class="p" cx="3.2" cy="31" r="1.2"/><circle class="p" cx="5.7" cy="32.7" r="1.5"/><circle class="p" cx="-1.4" cy="33.2" r="1.9"/><circle class="p" cx="6.6" cy="34.3" r="1.6"/><circle class="p" cx="-3.7" cy="31.3" r="1.3"/><circle class="p" cx="3.5" cy="34.4" r="1"/><circle class="p" cx="-2.7" cy="30.9" r="1.8"/><circle class="p" cx="-1.6" cy="31.9" r="2.3"/><circle class="p" cx="0.4" cy="33.7" r="1.7"/><circle class="p" cx="-1.9" cy="29.8" r="2.3"/><circle class="p" cx="1.8" cy="33.1" r="1.9"/><circle class="p" cx="0.3" cy="35.3" r="1.5"/></g><g transform="translate(113,481.8) scale(1.000)"><use href="#mb"/><circle class="s" cx="-0.1" cy="33.8" r="2.3"/><circle class="s" cx="-4.6" cy="25.8" r="2"/><circle class="s" cx="-6" cy="20.3" r="2.2"/><circle class="s" cx="-4.7" cy="24.2" r="1.4"/><circle class="p" cx="4.6" cy="30.5" r="1.8"/><circle class="p" cx="-1.6" cy="27.4" r="1.3"/><circle class="p" cx="-4.1" cy="28.8" r="1.5"/><circle class="p" cx="2" cy="28.4" r="1.4"/><circle class="p" cx="3.4" cy="29.1" r="1"/><circle class="p" cx="-5.2" cy="31.6" r="1.1"/><circle class="p" cx="-4" cy="32.7" r="2"/><circle class="p" cx="-6" cy="27.3" r="1.5"/><circle class="p" cx="-5.6" cy="32.1" r="1.4"/><circle class="p" cx="-0.7" cy="27.5" r="1.4"/><circle class="p" cx="0.5" cy="32.6" r="1.2"/><circle class="p" cx="-0.5" cy="31.5" r="1.5"/><circle class="p" cx="-2.7" cy="32.4" r="2.1"/><circle class="p" cx="-3.7" cy="25.8" r="1.2"/><circle class="p" cx="-2.5" cy="30.4" r="1.8"/><circle class="p" cx="-3.3" cy="31.3" r="1"/><circle class="p" cx="0" cy="31.6" r="1.4"/><circle class="p" cx="3.2" cy="27.8" r="1.3"/><circle class="p" cx="1.8" cy="31.9" r="1.9"/><circle class="p" cx="-0.1" cy="27" r="2.4"/><circle class="p" cx="1.8" cy="29.8" r="1.9"/><circle class="p" cx="2.8" cy="31" r="1.8"/><circle class="p" cx="-0" cy="27.4" r="1.6"/><circle class="p" cx="-2" cy="30.5" r="1.5"/></g><g transform="translate(133.5,481.8) scale(1.000)"><use href="#mb"/><circle class="s" cx="-4.5" cy="29.5" r="1"/><circle class="s" cx="-2.4" cy="25" r="1.7"/><circle class="s" cx="-4.7" cy="32.4" r="1.3"/><circle class="s" cx="2.9" cy="31.3" r="1.2"/><circle class="p" cx="-2.3" cy="28.4" r="1.2"/><circle class="p" cx="-0.7" cy="29.2" r="1.2"/><circle class="p" cx="-2.7" cy="31.4" r="0.9"/><circle class="p" cx="1" cy="30.6" r="1.4"/><circle class="p" cx="-0.5" cy="27.5" r="1.2"/><circle class="p" cx="-3.4" cy="27.7" r="1.1"/><circle class="p" cx="-2.8" cy="28" r="1.8"/></g><g transform="translate(153.8,481.8) scale(1.000)"><use href="#mb"/><circle class="s" cx="4.8" cy="20.1" r="1.8"/><circle class="s" cx="-5.3" cy="25.1" r="1.5"/><circle class="s" cx="-5.7" cy="24" r="1.4"/><circle class="s" cx="-0" cy="21.3" r="1.2"/><circle class="p" cx="2.4" cy="32.6" r="1.3"/><circle class="p" cx="2.9" cy="30.9" r="1.5"/><circle class="p" cx="2.6" cy="32.2" r="1.8"/><circle class="p" cx="-4.8" cy="28.2" r="1"/><circle class="p" cx="-2.9" cy="31.1" r="1.1"/><circle class="p" cx="-1.2" cy="30" r="1.5"/><circle class="p" cx="-3.6" cy="27.8" r="1.4"/><circle class="p" cx="-0.1" cy="30.1" r="1.4"/><circle class="p" cx="3.4" cy="27.3" r="1.3"/><circle class="p" cx="-1.3" cy="27.7" r="1.5"/><circle class="p" cx="-4.5" cy="26.5" r="1.4"/><circle class="p" cx="-5.2" cy="27.4" r="1.8"/><circle class="p" cx="-3.4" cy="26.9" r="1.5"/><circle class="p" cx="-2.8" cy="30.6" r="1.9"/><circle class="p" cx="2.6" cy="27.5" r="2"/><circle class="p" cx="2.1" cy="29.8" r="1.6"/><circle class="p" cx="-1.4" cy="31.9" r="2.1"/><circle class="p" cx="1.5" cy="31" r="1.3"/><circle class="p" cx="0.6" cy="29.5" r="2"/><circle class="p" cx="-1" cy="30.3" r="2"/><circle class="p" cx="-1.2" cy="27.6" r="2.1"/><circle class="p" cx="-2.8" cy="28.4" r="2.5"/><circle class="p" cx="-0.6" cy="30.9" r="2.4"/><circle class="p" cx="-0.8" cy="31.8" r="2.2"/></g>
<rect x="168.8" y="481.8" width="103.6" height="52" fill="#323232"/><path d="M169.8,481.8v8.8M176.2,481.8v8.8M183.1,481.8v8.8M189.7,481.8v8.8M195.1,481.8v8.8M201.3,481.8v8.8M207.3,481.8v8.8M213.4,481.8v8.8M219.2,481.8v8.8M224.7,481.8v8.8M231.2,481.8v8.8M237.3,481.8v8.8M242.8,481.8v8.8M248.3,481.8v8.8M253.9,481.8v8.8M259.3,481.8v8.8M265.3,481.8v8.8" stroke="#1c1c1c" stroke-width="2"/><path d="M189.5,490.6v41.6M210.1,490.6v41.6M230.6,490.6v41.6M251,490.6v41.6" stroke="#262626" stroke-width="1.4"/><g transform="translate(179.1,481.8) scale(1.000)"><use href="#mb"/><circle class="s" cx="-5.7" cy="15.8" r="1.1"/><circle class="s" cx="2.7" cy="16.9" r="1.6"/><circle class="s" cx="3.5" cy="26.5" r="1.2"/><circle class="s" cx="4.8" cy="36.6" r="1.1"/><circle class="p" cx="1.1" cy="25.8" r="1.8"/><circle class="p" cx="-0" cy="32.3" r="1.4"/><circle class="p" cx="-2.6" cy="31.9" r="1.9"/><circle class="p" cx="2.2" cy="25.5" r="1.5"/><circle class="p" cx="-1.2" cy="25.1" r="1.9"/><circle class="p" cx="0.7" cy="27" r="1.4"/><circle class="p" cx="-1.4" cy="26.6" r="1.2"/><circle class="p" cx="4.6" cy="28.8" r="2"/><circle class="p" cx="2.2" cy="28.2" r="1.8"/><circle class="p" cx="-4.1" cy="30.3" r="1.4"/><circle class="p" cx="5.5" cy="26.7" r="1.1"/><circle class="p" cx="-0.4" cy="27" r="1"/><circle class="p" cx="-1.1" cy="32.3" r="2.1"/><circle class="p" cx="2.5" cy="30.3" r="1"/><circle class="p" cx="-4" cy="27.7" r="1.4"/><circle class="p" cx="-1.9" cy="32.3" r="1.9"/><circle class="p" cx="-0.8" cy="31.3" r="1.7"/><circle class="p" cx="0.6" cy="24.1" r="1.4"/><circle class="p" cx="-2.8" cy="27.8" r="1.6"/><circle class="p" cx="1.2" cy="29.4" r="2.4"/><circle class="p" cx="0.6" cy="30.6" r="1.6"/><circle class="p" cx="0.3" cy="28.9" r="2.1"/><circle class="p" cx="2.5" cy="30.4" r="1.8"/><circle class="p" cx="1" cy="30.6" r="1.9"/></g><g transform="translate(199.8,481.8) scale(1.000)"><use href="#mb"/><circle class="s" cx="-3.1" cy="15.3" r="1.1"/><circle class="s" cx="5.1" cy="22" r="1.1"/><circle class="s" cx="-4.1" cy="26.6" r="2.3"/><circle class="s" cx="-3.9" cy="36.5" r="1.6"/><circle class="p" cx="-1" cy="35.5" r="0.9"/><circle class="p" cx="-1.3" cy="34.3" r="0.7"/></g><g transform="translate(220.3,481.8) scale(1.000)"><use href="#mb"/><circle class="s" cx="5.7" cy="36.5" r="2.3"/><circle class="s" cx="-0.7" cy="35.7" r="1.9"/><circle class="s" cx="-4.2" cy="14.7" r="1.2"/><circle class="s" cx="-5" cy="15.9" r="1.5"/><circle class="p" cx="-1.2" cy="31.5" r="1.2"/><circle class="p" cx="0" cy="31.4" r="1.6"/><circle class="p" cx="1.4" cy="27.8" r="1.8"/><circle class="p" cx="-4.9" cy="33.9" r="1.9"/><circle class="p" cx="0.1" cy="27.1" r="1.1"/><circle class="p" cx="3.1" cy="30.6" r="1.8"/><circle class="p" cx="-0.6" cy="35.8" r="1"/><circle class="p" cx="-3.1" cy="30.5" r="1.4"/><circle class="p" cx="-3.9" cy="34.2" r="1.9"/><circle class="p" cx="-3.7" cy="34.2" r="1.4"/><circle class="p" cx="-1.6" cy="35.7" r="1.4"/><circle class="p" cx="2.3" cy="33" r="1.8"/><circle class="p" cx="0.7" cy="35.3" r="1.6"/><circle class="p" cx="-1.6" cy="29.8" r="1.1"/><circle class="p" cx="1.6" cy="33.6" r="1.5"/><circle class="p" cx="3.7" cy="31.7" r="1.4"/><circle class="p" cx="-2.5" cy="34.5" r="2"/><circle class="p" cx="1" cy="35.6" r="1.4"/><circle class="p" cx="3.9" cy="33.4" r="1.9"/><circle class="p" cx="2.6" cy="31.2" r="1.9"/><circle class="p" cx="0.3" cy="30.3" r="1.8"/><circle class="p" cx="-1" cy="28.9" r="1.8"/><circle class="p" cx="1.7" cy="33.2" r="2.5"/><circle class="p" cx="2.7" cy="33.4" r="1.9"/></g><g transform="translate(240.8,481.8) scale(1.000)"><use href="#mb"/><circle class="s" cx="1.9" cy="19.5" r="1.8"/><circle class="s" cx="5" cy="36.3" r="1.8"/><circle class="s" cx="0.1" cy="28.8" r="1.1"/><circle class="s" cx="4.4" cy="31.9" r="1.6"/><circle class="p" cx="-0.3" cy="32.3" r="1.4"/><circle class="p" cx="-1.3" cy="30.4" r="0.9"/><circle class="p" cx="-0.6" cy="29.9" r="1.4"/><circle class="p" cx="-1.8" cy="29.7" r="1"/><circle class="p" cx="-2.4" cy="31.9" r="1.6"/><circle class="p" cx="-0.2" cy="33.7" r="1.8"/><circle class="p" cx="-1.7" cy="33" r="1"/></g><g transform="translate(261.1,481.8) scale(1.000)"><use href="#mb"/><circle class="s" cx="6.4" cy="26.8" r="1.3"/><circle class="s" cx="4.4" cy="30.9" r="2.2"/><circle class="s" cx="4.3" cy="34.7" r="1.7"/><circle class="s" cx="6.4" cy="15.7" r="2.1"/><circle class="p" cx="0.7" cy="28.4" r="1.6"/><circle class="p" cx="1" cy="29.8" r="1.3"/><circle class="p" cx="-1.8" cy="30.3" r="1.6"/><circle class="p" cx="0.2" cy="28.2" r="1.3"/><circle class="p" cx="1" cy="27.3" r="1.8"/><circle class="p" cx="-6.2" cy="30" r="1.9"/><circle class="p" cx="1.4" cy="33.5" r="1.1"/><circle class="p" cx="2.7" cy="31.9" r="2"/><circle class="p" cx="0.3" cy="29.9" r="1.2"/><circle class="p" cx="-5" cy="33.9" r="1.7"/><circle class="p" cx="0.6" cy="30.6" r="2.1"/><circle class="p" cx="0.5" cy="34.7" r="2"/><circle class="p" cx="-1.1" cy="29.3" r="1.7"/><circle class="p" cx="-1.4" cy="31.5" r="1.4"/><circle class="p" cx="-2.6" cy="34.5" r="1.3"/><circle class="p" cx="-4.7" cy="29" r="1.2"/><circle class="p" cx="2.7" cy="34" r="1.5"/><circle class="p" cx="0.7" cy="32.4" r="2"/><circle class="p" cx="-0.8" cy="32.3" r="2.5"/><circle class="p" cx="-0.9" cy="28.9" r="1.9"/><circle class="p" cx="-0.6" cy="33.1" r="1.6"/><circle class="p" cx="-1.4" cy="29.8" r="2.3"/><circle class="p" cx="-1.9" cy="32.4" r="2"/><circle class="p" cx="2.5" cy="30.6" r="2.2"/></g>
<rect x="275.9" y="481.8" width="103" height="52" fill="#323232"/><path d="M276.9,481.8v8.8M282.4,481.8v8.8M288.5,481.8v8.8M294.1,481.8v8.8M300.8,481.8v8.8M306.4,481.8v8.8M313.1,481.8v8.8M319.5,481.8v8.8M325.4,481.8v8.8M332.3,481.8v8.8M338,481.8v8.8M344.5,481.8v8.8M350.7,481.8v8.8M356.6,481.8v8.8M361.7,481.8v8.8M367.6,481.8v8.8M373.1,481.8v8.8" stroke="#1c1c1c" stroke-width="2"/><path d="M296.5,490.6v41.6M317.1,490.6v41.6M337.6,490.6v41.6M358,490.6v41.6" stroke="#262626" stroke-width="1.4"/><g transform="translate(286.2,481.8) scale(1.000)"><use href="#mb"/><circle class="s" cx="5.9" cy="21.6" r="1.9"/><circle class="s" cx="2.2" cy="20.4" r="1.5"/><circle class="s" cx="-4.8" cy="37.3" r="1.3"/><circle class="s" cx="-1" cy="22.9" r="2.1"/><circle class="p" cx="-1.5" cy="31.7" r="2"/><circle class="p" cx="3.3" cy="33.5" r="1.4"/><circle class="p" cx="-0.6" cy="28.5" r="1.4"/><circle class="p" cx="5" cy="29.5" r="1"/><circle class="p" cx="-2.5" cy="29.8" r="1.4"/><circle class="p" cx="-3" cy="32.7" r="1.7"/><circle class="p" cx="-4.4" cy="29.4" r="2.1"/><circle class="p" cx="4" cy="32" r="1.9"/><circle class="p" cx="-2.7" cy="29.1" r="2.1"/><circle class="p" cx="4" cy="33.3" r="1.4"/><circle class="p" cx="-1.3" cy="30.4" r="2.1"/><circle class="p" cx="1.2" cy="34.8" r="1.2"/><circle class="p" cx="-3.8" cy="34.5" r="1.1"/><circle class="p" cx="2.7" cy="35.2" r="1.7"/><circle class="p" cx="0.1" cy="29.8" r="1.9"/><circle class="p" cx="-0.4" cy="28.2" r="1.1"/><circle class="p" cx="-0.5" cy="32.2" r="1.9"/><circle class="p" cx="5.6" cy="30.6" r="1"/><circle class="p" cx="-3.3" cy="31.6" r="1.6"/><circle class="p" cx="0.1" cy="30.5" r="2"/><circle class="p" cx="1.7" cy="33.7" r="1.6"/><circle class="p" cx="2" cy="33.2" r="1.8"/><circle class="p" cx="-0.1" cy="30.6" r="1.9"/><circle class="p" cx="1.3" cy="32.6" r="2"/></g><g transform="translate(306.9,481.8) scale(1.000)"><use href="#mb"/><circle class="s" cx="0.8" cy="25.9" r="2.1"/><circle class="s" cx="-5.1" cy="36.1" r="1.2"/><circle class="s" cx="6.1" cy="27.6" r="1.5"/><circle class="s" cx="1.5" cy="36.5" r="2.3"/><circle class="p" cx="1.6" cy="32.8" r="1.8"/><circle class="p" cx="-2" cy="27.7" r="1.6"/><circle class="p" cx="0.5" cy="29.7" r="1.3"/><circle class="p" cx="3.2" cy="28.7" r="1.9"/><circle class="p" cx="2.2" cy="30.3" r="1.1"/><circle class="p" cx="-1.6" cy="31" r="2"/><circle class="p" cx="-3.5" cy="32.2" r="1.7"/><circle class="p" cx="3" cy="26.6" r="1.6"/><circle class="p" cx="-7.2" cy="29.5" r="1.4"/><circle class="p" cx="-3" cy="33.2" r="1.3"/><circle class="p" cx="-4.1" cy="31.7" r="1.5"/><circle class="p" cx="-3.9" cy="31.8" r="1.5"/><circle class="p" cx="3.8" cy="30.7" r="1.1"/><circle class="p" cx="-5.8" cy="28.9" r="1.4"/><circle class="p" cx="-1.1" cy="30.9" r="1.4"/><circle class="p" cx="-3.1" cy="32.4" r="1.3"/><circle class="p" cx="-1.5" cy="26.3" r="1"/><circle class="p" cx="-6.4" cy="31.9" r="1"/><circle class="p" cx="2.6" cy="29" r="2.1"/><circle class="p" cx="-1.2" cy="30.7" r="2.1"/><circle class="p" cx="-1.6" cy="28.6" r="2"/><circle class="p" cx="-3.2" cy="29.2" r="1.6"/><circle class="p" cx="2" cy="30.3" r="1.8"/><circle class="p" cx="1" cy="27.6" r="2.4"/></g><g transform="translate(327.4,481.8) scale(1.000)"><use href="#mb"/><circle class="s" cx="-1.3" cy="21.4" r="1.9"/><circle class="s" cx="-5.4" cy="39.6" r="2.1"/><circle class="s" cx="-2.2" cy="22.3" r="2.1"/><circle class="s" cx="3.7" cy="30.7" r="1.1"/><circle class="p" cx="-4.5" cy="29.2" r="2"/><circle class="p" cx="-1.9" cy="31.1" r="2"/><circle class="p" cx="-1.3" cy="28.2" r="1"/><circle class="p" cx="-1.7" cy="28.7" r="1.7"/><circle class="p" cx="4.4" cy="31.1" r="1.1"/><circle class="p" cx="-0.6" cy="28.7" r="1.8"/><circle class="p" cx="-4.2" cy="33.7" r="1.5"/><circle class="p" cx="1.1" cy="33.3" r="1.8"/><circle class="p" cx="0.5" cy="32.2" r="1.9"/><circle class="p" cx="-3.6" cy="28.7" r="1.1"/><circle class="p" cx="1.1" cy="33.3" r="2"/><circle class="p" cx="-6.7" cy="30" r="1.2"/><circle class="p" cx="-5.1" cy="33.3" r="1.9"/><circle class="p" cx="2.7" cy="34.5" r="1.5"/><circle class="p" cx="2.5" cy="32.2" r="1.4"/><circle class="p" cx="-4" cy="27.7" r="1.5"/><circle class="p" cx="-2.7" cy="29" r="1.9"/><circle class="p" cx="2.7" cy="34" r="1.2"/><circle class="p" cx="1" cy="33.3" r="1.7"/><circle class="p" cx="-1.5" cy="33.5" r="2"/><circle class="p" cx="-2.1" cy="33" r="2.3"/><circle class="p" cx="-1.7" cy="33.4" r="2"/><circle class="p" cx="2.5" cy="31.4" r="2.2"/><circle class="p" cx="0.5" cy="33.1" r="2.2"/></g><g transform="translate(347.9,481.8) scale(1.000)"><use href="#mb"/><circle class="s" cx="1" cy="20.7" r="1.1"/><circle class="s" cx="4.2" cy="23.8" r="1.9"/><circle class="s" cx="-0.9" cy="30.1" r="1.7"/><circle class="s" cx="6.2" cy="37.7" r="1.6"/><circle class="p" cx="-0.8" cy="28.5" r="1.3"/><circle class="p" cx="-0.2" cy="29.2" r="1.8"/><circle class="p" cx="-4.9" cy="28.5" r="1.4"/><circle class="p" cx="2.6" cy="33.5" r="1.8"/><circle class="p" cx="-0.2" cy="28.6" r="1.9"/><circle class="p" cx="-0.3" cy="31.9" r="1.6"/><circle class="p" cx="-2.4" cy="28.9" r="1.8"/><circle class="p" cx="-5.7" cy="27.8" r="2"/><circle class="p" cx="-2.2" cy="27.4" r="2"/><circle class="p" cx="-1.4" cy="27.5" r="1.9"/><circle class="p" cx="-1.3" cy="27.6" r="1.3"/><circle class="p" cx="3.6" cy="30.3" r="1.3"/><circle class="p" cx="-1.6" cy="32.1" r="1.1"/><circle class="p" cx="-3.9" cy="30.1" r="1.3"/><circle class="p" cx="-1.5" cy="33.1" r="2"/><circle class="p" cx="2.2" cy="33.4" r="1.9"/><circle class="p" cx="-4.2" cy="27.8" r="1.8"/><circle class="p" cx="-5.6" cy="29.1" r="2"/><circle class="p" cx="0.8" cy="30.6" r="2.4"/><circle class="p" cx="-1.5" cy="31.9" r="1.7"/><circle class="p" cx="-1.5" cy="30.5" r="2.2"/><circle class="p" cx="3.5" cy="29.2" r="2.1"/><circle class="p" cx="-0.3" cy="31.1" r="2.4"/><circle class="p" cx="3.8" cy="31.8" r="2.2"/></g><g transform="translate(368.2,481.8) scale(1.000)"><use href="#mb"/><circle class="s" cx="-5.6" cy="37.4" r="1.1"/><circle class="s" cx="0.9" cy="17.1" r="2.3"/><circle class="s" cx="-2.5" cy="36.7" r="1.1"/><circle class="s" cx="2.2" cy="15.8" r="1"/><circle class="p" cx="-0.8" cy="26.6" r="1.9"/><circle class="p" cx="-0.2" cy="30.3" r="1.6"/><circle class="p" cx="3.2" cy="33.4" r="1.4"/><circle class="p" cx="-1.2" cy="30.4" r="1.8"/><circle class="p" cx="-2.2" cy="32" r="1.1"/><circle class="p" cx="-3" cy="30.7" r="2.1"/><circle class="p" cx="-0.6" cy="29.8" r="1.3"/><circle class="p" cx="-1.1" cy="33.7" r="2"/><circle class="p" cx="7.2" cy="29.8" r="2"/><circle class="p" cx="5.1" cy="27" r="1"/><circle class="p" cx="-3.2" cy="30.6" r="1.8"/><circle class="p" cx="-2.1" cy="28.1" r="2"/><circle class="p" cx="5.2" cy="32.1" r="2.1"/><circle class="p" cx="3.4" cy="30.7" r="2"/><circle class="p" cx="2.3" cy="30.2" r="1"/><circle class="p" cx="3.8" cy="27.2" r="1.6"/><circle class="p" cx="-3.1" cy="28.5" r="1.9"/><circle class="p" cx="3" cy="30.4" r="1.9"/><circle class="p" cx="2.7" cy="28.8" r="1.8"/><circle class="p" cx="1.1" cy="30.7" r="2.3"/><circle class="p" cx="1.2" cy="32.7" r="2"/><circle class="p" cx="-0.3" cy="32.5" r="2"/><circle class="p" cx="1.8" cy="33.2" r="1.7"/><circle class="p" cx="2.6" cy="31.6" r="2"/></g>
<rect x="382.2" y="481.8" width="103.1" height="52" fill="#323232"/><path d="M383.2,481.8v8.8M389.8,481.8v8.8M395.4,481.8v8.8M400.9,481.8v8.8M407.2,481.8v8.8M412.7,481.8v8.8M418.8,481.8v8.8M424.3,481.8v8.8M431,481.8v8.8M436.4,481.8v8.8M441.9,481.8v8.8M447.5,481.8v8.8M453.1,481.8v8.8M459.6,481.8v8.8M465.9,481.8v8.8M472.5,481.8v8.8M478.6,481.8v8.8" stroke="#1c1c1c" stroke-width="2"/><path d="M402.8,490.6v41.6M423.4,490.6v41.6M443.9,490.6v41.6M464.4,490.6v41.6" stroke="#262626" stroke-width="1.4"/><g transform="translate(392.5,481.8) scale(1.000)"><use href="#mb"/><circle class="s" cx="3.4" cy="20.4" r="1.3"/><circle class="s" cx="-1.1" cy="39.7" r="1.5"/><circle class="s" cx="-1.9" cy="37.7" r="2.3"/><circle class="s" cx="-1.5" cy="17.5" r="2"/><circle class="p" cx="2.5" cy="27.8" r="0.7"/><circle class="p" cx="1.2" cy="28" r="0.8"/></g><g transform="translate(413.2,481.8) scale(1.000)"><use href="#mb"/><circle class="s" cx="4.1" cy="14.4" r="1.6"/><circle class="s" cx="-1.6" cy="15.7" r="2.2"/><circle class="s" cx="-4.6" cy="19.3" r="2.1"/><circle class="s" cx="6" cy="38.2" r="1.4"/><circle class="p" cx="-2.4" cy="28.3" r="1.2"/><circle class="p" cx="2.2" cy="35.4" r="2"/><circle class="p" cx="-1.9" cy="28.2" r="1.5"/><circle class="p" cx="-2.5" cy="33.7" r="1.3"/><circle class="p" cx="0.4" cy="32.1" r="1.2"/><circle class="p" cx="-1.8" cy="33.4" r="1.3"/><circle class="p" cx="-0.2" cy="34" r="1.6"/><circle class="p" cx="-5.5" cy="31.7" r="1.8"/><circle class="p" cx="-6.8" cy="31.9" r="1.1"/><circle class="p" cx="-0.8" cy="33.8" r="1.3"/><circle class="p" cx="-0.7" cy="28.3" r="1.6"/><circle class="p" cx="0.8" cy="34.8" r="1.6"/><circle class="p" cx="-2.5" cy="36.4" r="2.1"/><circle class="p" cx="-5.6" cy="33.5" r="1.9"/><circle class="p" cx="-3.6" cy="33" r="2"/><circle class="p" cx="-0.1" cy="32.5" r="1.8"/><circle class="p" cx="-2.2" cy="33.2" r="1.2"/><circle class="p" cx="1.3" cy="36" r="1.2"/><circle class="p" cx="-0.8" cy="35.2" r="2"/><circle class="p" cx="-3" cy="30.9" r="1.7"/><circle class="p" cx="0.8" cy="32.7" r="1.5"/><circle class="p" cx="-1.7" cy="34.9" r="1.9"/><circle class="p" cx="-4.6" cy="33" r="1.8"/><circle class="p" cx="-3.8" cy="34.8" r="2.1"/></g><g transform="translate(433.7,481.8) scale(1.000)"><use href="#mb"/><circle class="s" cx="-1.1" cy="28" r="1.6"/><circle class="s" cx="-2.2" cy="37.8" r="1.3"/><circle class="s" cx="5.7" cy="36.2" r="2.1"/><circle class="s" cx="-4.4" cy="27.2" r="2.3"/><circle class="p" cx="-1.5" cy="26.6" r="1.6"/><circle class="p" cx="2.2" cy="32.4" r="1.3"/><circle class="p" cx="3.1" cy="30.9" r="1.4"/><circle class="p" cx="-4.9" cy="27.6" r="2"/><circle class="p" cx="-4.7" cy="28.5" r="1"/><circle class="p" cx="-4.1" cy="28.8" r="1.6"/><circle class="p" cx="-3.7" cy="26.5" r="1.1"/><circle class="p" cx="-5.2" cy="28.8" r="1.7"/><circle class="p" cx="2.1" cy="28.3" r="1.5"/><circle class="p" cx="3.6" cy="30.8" r="1.3"/><circle class="p" cx="1.6" cy="25.2" r="1.3"/><circle class="p" cx="2.5" cy="26.9" r="1.5"/><circle class="p" cx="-6.5" cy="27.2" r="1.5"/><circle class="p" cx="-4.2" cy="29" r="1.9"/><circle class="p" cx="-4.5" cy="28.7" r="1.2"/><circle class="p" cx="0.2" cy="32.7" r="1.9"/><circle class="p" cx="4.7" cy="28.2" r="1.8"/><circle class="p" cx="0.5" cy="25.1" r="1.9"/><circle class="p" cx="2.5" cy="31.2" r="1.8"/><circle class="p" cx="1" cy="31.6" r="1.5"/><circle class="p" cx="-1.4" cy="28.6" r="2.3"/><circle class="p" cx="-2" cy="26.9" r="2.4"/><circle class="p" cx="0.3" cy="28.1" r="2.2"/><circle class="p" cx="4" cy="30.6" r="2.4"/></g><g transform="translate(454.2,481.8) scale(1.000)"><use href="#mb"/><circle class="s" cx="-2.5" cy="18.8" r="1.9"/><circle class="s" cx="3.4" cy="39.6" r="1.8"/><circle class="s" cx="-4.9" cy="32.9" r="1.1"/><circle class="s" cx="4.8" cy="34" r="2"/><circle class="p" cx="4.7" cy="31" r="1.5"/><circle class="p" cx="-2.5" cy="34" r="1"/><circle class="p" cx="3" cy="35.6" r="1.3"/><circle class="p" cx="-2.8" cy="29" r="1.8"/><circle class="p" cx="-3.1" cy="32" r="1.3"/><circle class="p" cx="2.1" cy="35.6" r="1.8"/><circle class="p" cx="3.4" cy="31.3" r="2"/><circle class="p" cx="3" cy="31" r="2"/><circle class="p" cx="-4.1" cy="29.2" r="1.9"/><circle class="p" cx="-1.4" cy="34.3" r="1.6"/><circle class="p" cx="-0.9" cy="32.3" r="1.9"/><circle class="p" cx="-3.8" cy="31.6" r="1.8"/><circle class="p" cx="0.2" cy="34.3" r="1.6"/><circle class="p" cx="0.4" cy="34.8" r="1.1"/><circle class="p" cx="3.6" cy="33.1" r="1.6"/><circle class="p" cx="4.8" cy="31.1" r="1.5"/><circle class="p" cx="-2.2" cy="33.4" r="1.5"/><circle class="p" cx="2.2" cy="31.8" r="1.5"/><circle class="p" cx="0.8" cy="30" r="2.1"/><circle class="p" cx="4.1" cy="31.2" r="1.8"/><circle class="p" cx="-3.3" cy="31.5" r="2"/><circle class="p" cx="1.9" cy="34.7" r="1.6"/><circle class="p" cx="2.3" cy="34" r="1.8"/><circle class="p" cx="-0.1" cy="29.7" r="1.8"/></g><g transform="translate(474.5,481.8) scale(1.000)"><use href="#mb"/><circle class="s" cx="3.5" cy="30.8" r="1.9"/><circle class="s" cx="-0.6" cy="25.2" r="1.1"/><circle class="s" cx="-0.3" cy="38.8" r="2.2"/><circle class="s" cx="-5.8" cy="15.8" r="1.4"/><circle class="p" cx="2.5" cy="33.3" r="1.6"/><circle class="p" cx="-0.3" cy="28.3" r="1.7"/><circle class="p" cx="-2.2" cy="28" r="1.1"/><circle class="p" cx="-0.7" cy="29.6" r="1.1"/><circle class="p" cx="-1" cy="31.3" r="1.1"/><circle class="p" cx="-3.4" cy="33.1" r="1.1"/><circle class="p" cx="5.1" cy="30" r="1.5"/><circle class="p" cx="-3.1" cy="29.8" r="2.1"/><circle class="p" cx="2.2" cy="32.9" r="1.2"/><circle class="p" cx="2.7" cy="28.8" r="1.5"/><circle class="p" cx="-4.7" cy="33.7" r="1.3"/><circle class="p" cx="1.1" cy="27.5" r="1.5"/><circle class="p" cx="-2.8" cy="33.4" r="1.5"/><circle class="p" cx="-2.1" cy="34.4" r="1.5"/><circle class="p" cx="-1.9" cy="34.9" r="1.5"/><circle class="p" cx="-5.7" cy="31.9" r="1.5"/><circle class="p" cx="-4.2" cy="34.2" r="2.1"/><circle class="p" cx="0.7" cy="28.4" r="1.7"/><circle class="p" cx="-0.3" cy="33.6" r="2.4"/><circle class="p" cx="-1.1" cy="29.1" r="1.9"/><circle class="p" cx="-0.4" cy="30" r="2.3"/><circle class="p" cx="-3.1" cy="30.4" r="1.8"/><circle class="p" cx="0.6" cy="30.8" r="1.9"/><circle class="p" cx="0.9" cy="29.6" r="2.1"/></g>
<rect x="488.6" y="481.8" width="82.4" height="52" fill="#323232"/><path d="M489.6,481.8v8.8M495,481.8v8.8M500.8,481.8v8.8M507.8,481.8v8.8M513.2,481.8v8.8M520,481.8v8.8M525.2,481.8v8.8M531.3,481.8v8.8M538,481.8v8.8M544.6,481.8v8.8M550.4,481.8v8.8M556.6,481.8v8.8M563,481.8v8.8" stroke="#1c1c1c" stroke-width="2"/><path d="M508.8,490.6v41.6M529.4,490.6v41.6M549.6,490.6v41.6" stroke="#262626" stroke-width="1.4"/><g transform="translate(498.4,481.8) scale(1.000)"><use href="#mb"/><circle class="s" cx="3.2" cy="29.1" r="1.3"/><circle class="s" cx="2.7" cy="28.6" r="1.7"/><circle class="s" cx="6.3" cy="17.5" r="2"/><circle class="s" cx="-2.3" cy="32.9" r="2.2"/><circle class="p" cx="-2.8" cy="31.8" r="0.7"/><circle class="p" cx="-2.8" cy="30.9" r="0.9"/></g><g transform="translate(519.2,481.8) scale(1.000)"><use href="#mb"/><circle class="s" cx="-2.7" cy="35" r="1.5"/><circle class="s" cx="-4.6" cy="29.8" r="1.6"/><circle class="s" cx="0.4" cy="39.8" r="1.7"/><circle class="s" cx="5.9" cy="23.2" r="2"/><circle class="p" cx="-3.8" cy="27" r="1"/><circle class="p" cx="-4" cy="28.7" r="0.8"/></g><g transform="translate(539.6,481.8) scale(1.000)"><use href="#mb"/><circle class="s" cx="0.5" cy="14.6" r="1.5"/><circle class="s" cx="2" cy="17.9" r="1.4"/><circle class="s" cx="4.8" cy="38.3" r="1.3"/><circle class="s" cx="-4.2" cy="17.1" r="1.1"/><circle class="p" cx="1.5" cy="36" r="1.5"/><circle class="p" cx="4.9" cy="34.4" r="1.7"/><circle class="p" cx="2.5" cy="36.4" r="1.5"/><circle class="p" cx="0.1" cy="36.3" r="1.1"/><circle class="p" cx="-0.2" cy="34.2" r="1.3"/><circle class="p" cx="2.8" cy="31.8" r="1.4"/><circle class="p" cx="3.4" cy="33.8" r="1.1"/></g><g transform="translate(559.6,481.8) scale(1.000)"><use href="#mb"/><circle class="s" cx="1.6" cy="17.9" r="2.3"/><circle class="s" cx="-2.1" cy="25.4" r="1.6"/><circle class="s" cx="4.3" cy="37.8" r="1.9"/><circle class="s" cx="-4.3" cy="23.2" r="1.9"/><circle class="p" cx="-0.5" cy="34" r="1.2"/><circle class="p" cx="-1.3" cy="37.6" r="0.9"/><circle class="p" cx="-2" cy="34.4" r="1.7"/><circle class="p" cx="-4.3" cy="34.4" r="1"/><circle class="p" cx="0.3" cy="35.6" r="1.8"/><circle class="p" cx="-4.3" cy="33.4" r="1"/><circle class="p" cx="-1.3" cy="35.3" r="1.5"/></g>
<rect x="61.5" y="536" width="103.8" height="52.2" fill="#323232"/><path d="M62.5,536v8.9M67.9,536v8.9M73.4,536v8.9M79.7,536v8.9M86.1,536v8.9M91.8,536v8.9M97.7,536v8.9M103.3,536v8.9M109.4,536v8.9M115.1,536v8.9M120.8,536v8.9M126.3,536v8.9M131.9,536v8.9M137.4,536v8.9M142.5,536v8.9M148.1,536v8.9M154.3,536v8.9M159.8,536v8.9" stroke="#1c1c1c" stroke-width="2"/><path d="M82.2,544.9v41.8M102.8,544.9v41.8M123.2,544.9v41.8M143.7,544.9v41.8" stroke="#262626" stroke-width="1.4"/><g transform="translate(71.8,536) scale(1.004)"><use href="#mb"/><circle class="s" cx="4.5" cy="26.2" r="1.7"/><circle class="s" cx="-2.4" cy="37.1" r="2"/><circle class="s" cx="1.6" cy="31.1" r="1.9"/><circle class="s" cx="0" cy="24.7" r="1.5"/><circle class="p" cx="-5.8" cy="30.9" r="1.2"/><circle class="p" cx="-7.4" cy="29.5" r="1.5"/><circle class="p" cx="0.2" cy="32.2" r="1"/><circle class="p" cx="7.4" cy="32.4" r="1.3"/><circle class="p" cx="-0.8" cy="34.4" r="1.5"/><circle class="p" cx="3.6" cy="25.3" r="1.4"/><circle class="p" cx="-0.2" cy="25.6" r="1.1"/><circle class="p" cx="-7.5" cy="28.6" r="1.6"/><circle class="p" cx="6.7" cy="27.4" r="0.9"/><circle class="p" cx="0.2" cy="38.9" r="1.2"/><circle class="p" cx="-4.7" cy="30.6" r="1.5"/><circle class="p" cx="-8.4" cy="30.2" r="0.9"/><circle class="p" cx="1" cy="31" r="0.9"/><circle class="p" cx="-5.2" cy="35.1" r="0.9"/><circle class="p" cx="-7.6" cy="28" r="1.1"/><circle class="p" cx="0.5" cy="24.9" r="1.3"/><circle class="p" cx="2.7" cy="35.8" r="1.5"/><circle class="p" cx="-1.8" cy="27.7" r="1.2"/><circle class="p" cx="-4.7" cy="29.7" r="1.3"/><circle class="p" cx="-0.8" cy="30.2" r="1"/><circle class="p" cx="-2.2" cy="27.9" r="0.9"/><circle class="p" cx="0.4" cy="26.4" r="1.6"/><circle class="b" cx="-1.9" cy="29.3" r="2.2"/><circle class="b" cx="-0.5" cy="35.4" r="2.3"/><circle class="b" cx="0.1" cy="28.6" r="1.6"/><circle class="b" cx="0.7" cy="27.9" r="1.8"/><circle class="b" cx="2.6" cy="30.5" r="2.1"/><circle class="b" cx="3.6" cy="29.1" r="1.9"/><circle class="b" cx="1.3" cy="27.7" r="2.2"/><circle class="b" cx="-4.7" cy="26.2" r="1.6"/><circle class="b" cx="-3.7" cy="28.6" r="2.4"/><circle class="b" cx="-0.1" cy="35.1" r="1.8"/><circle class="b" cx="-6.4" cy="30.2" r="1.8"/><circle class="b" cx="-1.1" cy="35.7" r="2.3"/><circle class="b" cx="2.6" cy="31" r="1.8"/><circle class="b" cx="-1.5" cy="35.3" r="2.3"/><circle class="b" cx="5.3" cy="29.4" r="2.2"/><circle class="b" cx="-4.1" cy="33.4" r="2.1"/><circle class="b" cx="4.3" cy="31.5" r="2"/><circle class="b" cx="-1.4" cy="29.7" r="1.6"/><circle class="b" cx="3.9" cy="29.6" r="1.9"/><circle class="b" cx="3" cy="33.7" r="2.5"/><circle class="b" cx="1.9" cy="33.8" r="2.1"/><circle class="b" cx="0.5" cy="25.5" r="1.8"/><circle class="b" cx="1.3" cy="32.8" r="2.6"/><circle class="b" cx="0.5" cy="29.5" r="2.7"/><circle class="b" cx="-3.6" cy="30.6" r="3.1"/><circle class="b" cx="-0.1" cy="26.9" r="3.2"/><circle class="c" cx="2" cy="27.2" r="1.3"/></g><g transform="translate(92.5,536) scale(1.004)"><use href="#mb"/><circle class="s" cx="-4.4" cy="15" r="1"/><circle class="s" cx="4.9" cy="23.9" r="1.1"/><circle class="s" cx="-5.9" cy="36" r="1.8"/><circle class="s" cx="5.4" cy="15" r="1.1"/><circle class="p" cx="-0.8" cy="34.4" r="0.9"/><circle class="p" cx="2.1" cy="37.1" r="0.9"/><circle class="p" cx="3" cy="36.1" r="1.1"/><circle class="p" cx="3.8" cy="35.9" r="1.2"/><circle class="p" cx="-4.5" cy="34.6" r="0.8"/><circle class="p" cx="-2.8" cy="28.7" r="1.1"/><circle class="p" cx="8" cy="31.4" r="1.3"/><circle class="p" cx="-4.9" cy="34.7" r="1.6"/><circle class="p" cx="3.6" cy="34.7" r="1.4"/><circle class="p" cx="-5" cy="35.8" r="1.5"/><circle class="p" cx="4.4" cy="32.1" r="1"/><circle class="p" cx="0" cy="23.9" r="1.4"/><circle class="p" cx="3.3" cy="29.4" r="1.1"/><circle class="p" cx="4.5" cy="25.4" r="0.9"/><circle class="p" cx="7.3" cy="30.1" r="1.5"/><circle class="p" cx="-4.3" cy="35.7" r="1.6"/><circle class="p" cx="5.2" cy="27.4" r="1.5"/><circle class="p" cx="7.8" cy="31" r="1.3"/><circle class="p" cx="3.1" cy="30.3" r="1.1"/><circle class="p" cx="-2.8" cy="29.9" r="1.4"/><circle class="p" cx="6.2" cy="33.4" r="1"/><circle class="p" cx="-2.9" cy="36.6" r="1"/><circle class="b" cx="-5.7" cy="31.8" r="2.6"/><circle class="b" cx="-0.3" cy="33.6" r="2.3"/><circle class="b" cx="2.2" cy="35.1" r="1.8"/><circle class="b" cx="-3.5" cy="28.8" r="1.6"/><circle class="b" cx="0.3" cy="30" r="1.9"/><circle class="b" cx="-1" cy="35.9" r="2.2"/><circle class="b" cx="5" cy="32" r="1.8"/><circle class="b" cx="-5.5" cy="30.6" r="2.5"/><circle class="b" cx="3.9" cy="28.5" r="1.9"/><circle class="b" cx="-2.9" cy="32" r="2.3"/><circle class="b" cx="-5.2" cy="31.1" r="1.8"/><circle class="b" cx="1.3" cy="24.2" r="1.8"/><circle class="b" cx="-1.9" cy="28.4" r="1.6"/><circle class="b" cx="-2.4" cy="31.3" r="2.3"/><circle class="b" cx="-4.8" cy="27.8" r="2.6"/><circle class="b" cx="1.9" cy="30.7" r="1.6"/><circle class="b" cx="-5.7" cy="31.4" r="2.3"/><circle class="b" cx="-5.7" cy="28.4" r="2"/><circle class="b" cx="3.9" cy="33.1" r="1.6"/><circle class="b" cx="0.1" cy="31" r="1.8"/><circle class="b" cx="4.4" cy="31.7" r="1.7"/><circle class="b" cx="-4.7" cy="26.7" r="1.9"/><circle class="b" cx="2.4" cy="32" r="3.2"/><circle class="b" cx="2.2" cy="28.3" r="3.1"/><circle class="b" cx="2.1" cy="27.8" r="3.5"/><circle class="b" cx="-0.8" cy="33" r="3.1"/></g><g transform="translate(113,536) scale(1.004)"><use href="#mb"/><circle class="s" cx="-6.4" cy="26.4" r="1.3"/><circle class="s" cx="1.3" cy="27.2" r="1.7"/><circle class="s" cx="-5.7" cy="17.4" r="1.8"/><circle class="s" cx="2.4" cy="39.8" r="2"/><circle class="p" cx="-1.4" cy="36.2" r="1.2"/><circle class="p" cx="1.8" cy="26.3" r="1.5"/><circle class="p" cx="-5.3" cy="31.5" r="1.2"/><circle class="p" cx="-5.3" cy="37.2" r="0.8"/><circle class="p" cx="-1.9" cy="32.3" r="1.3"/><circle class="p" cx="1.9" cy="33.5" r="1.1"/><circle class="p" cx="-6" cy="26.8" r="1.2"/><circle class="p" cx="-1.4" cy="35.7" r="1.5"/><circle class="p" cx="0.2" cy="31.8" r="1.5"/><circle class="p" cx="-3.1" cy="31.3" r="0.9"/><circle class="p" cx="5.7" cy="26.6" r="0.9"/><circle class="p" cx="-1.8" cy="27.7" r="1.2"/><circle class="p" cx="-1.5" cy="29.9" r="1.5"/><circle class="p" cx="-1.6" cy="33.6" r="1.4"/><circle class="p" cx="1.3" cy="32" r="1.3"/><circle class="p" cx="-7.9" cy="32.4" r="1.4"/><circle class="p" cx="0.5" cy="32.6" r="1.3"/><circle class="p" cx="-4.6" cy="31.8" r="1.5"/><circle class="p" cx="1.8" cy="37.2" r="0.9"/><circle class="p" cx="7.3" cy="27.4" r="1.3"/><circle class="p" cx="-3.1" cy="37.2" r="1.5"/><circle class="p" cx="0.5" cy="29.4" r="1.2"/><circle class="b" cx="3.1" cy="33.4" r="2.6"/><circle class="b" cx="2.1" cy="27.8" r="2.2"/><circle class="b" cx="-1.1" cy="32.2" r="2.3"/><circle class="b" cx="0.2" cy="26.5" r="2"/><circle class="b" cx="-1.8" cy="25.2" r="2.1"/><circle class="b" cx="1.5" cy="31.3" r="1.8"/><circle class="b" cx="2.1" cy="26.3" r="2.2"/><circle class="b" cx="-2.6" cy="32.7" r="1.8"/><circle class="b" cx="5" cy="29.3" r="1.7"/><circle class="b" cx="-1.5" cy="25.6" r="2.2"/><circle class="b" cx="0.6" cy="25.4" r="2.5"/><circle class="b" cx="4.1" cy="29.3" r="2.2"/><circle class="b" cx="-2.9" cy="32.7" r="2"/><circle class="b" cx="-2.3" cy="27.2" r="2"/><circle class="b" cx="3.3" cy="25.6" r="2.3"/><circle class="b" cx="2.2" cy="26.9" r="2.2"/><circle class="b" cx="-0" cy="33.4" r="1.7"/><circle class="b" cx="1.9" cy="24.5" r="1.9"/><circle class="b" cx="-1.6" cy="31.4" r="1.7"/><circle class="b" cx="-4" cy="25.7" r="1.7"/><circle class="b" cx="-0.2" cy="35.2" r="1.8"/><circle class="b" cx="2.8" cy="27.5" r="2.1"/><circle class="b" cx="0.6" cy="31.8" r="2.9"/><circle class="b" cx="-0.6" cy="32.9" r="2.5"/><circle class="b" cx="-2.3" cy="27.6" r="2.8"/><circle class="b" cx="0.5" cy="31.1" r="2.6"/></g><g transform="translate(133.5,536) scale(1.004)"><use href="#mb"/><circle class="s" cx="1.3" cy="14.4" r="1.6"/><circle class="s" cx="1.3" cy="22.3" r="1"/><circle class="s" cx="-1" cy="23.2" r="2.3"/><circle class="s" cx="-1.8" cy="38" r="2.1"/><circle class="p" cx="-2.7" cy="29.7" r="1.4"/><circle class="p" cx="5.4" cy="34.2" r="0.9"/><circle class="p" cx="4.6" cy="33.8" r="0.9"/><circle class="p" cx="6.5" cy="30.7" r="1.5"/><circle class="p" cx="7.1" cy="29.1" r="1.3"/><circle class="p" cx="-7.4" cy="32.2" r="1.3"/><circle class="p" cx="3.4" cy="35.9" r="1.1"/><circle class="p" cx="-7.1" cy="30.3" r="1.4"/><circle class="p" cx="-6.8" cy="28" r="1.5"/><circle class="p" cx="2.7" cy="32.7" r="0.8"/><circle class="p" cx="4.4" cy="37.6" r="1"/><circle class="p" cx="-5.4" cy="33" r="1.3"/><circle class="p" cx="-1.4" cy="37.9" r="1.1"/><circle class="p" cx="4.3" cy="25.1" r="0.8"/><circle class="p" cx="-2.5" cy="30.3" r="1.5"/><circle class="p" cx="4" cy="32.7" r="1.4"/><circle class="p" cx="-5.8" cy="27.5" r="1.1"/><circle class="p" cx="-3.8" cy="30.5" r="1.2"/><circle class="p" cx="-0.3" cy="37.6" r="0.9"/><circle class="p" cx="2.5" cy="33.7" r="1.2"/><circle class="p" cx="-0.4" cy="30.8" r="1.6"/><circle class="p" cx="2.7" cy="26.8" r="0.9"/><circle class="b" cx="2.9" cy="24.7" r="1.8"/><circle class="b" cx="0.2" cy="24.6" r="2.5"/><circle class="b" cx="0.6" cy="32" r="1.8"/><circle class="b" cx="0.7" cy="35.7" r="2.5"/><circle class="b" cx="-2.3" cy="30.4" r="2"/><circle class="b" cx="0.3" cy="34.8" r="2.3"/><circle class="b" cx="0.7" cy="26.1" r="2.1"/><circle class="b" cx="-3.9" cy="30.7" r="2.1"/><circle class="b" cx="-2.2" cy="25.4" r="1.9"/><circle class="b" cx="-2.3" cy="29.1" r="1.6"/><circle class="b" cx="-3" cy="32.3" r="1.6"/><circle class="b" cx="3.7" cy="31.9" r="2.5"/><circle class="b" cx="0.6" cy="29.1" r="1.9"/><circle class="b" cx="-2.5" cy="32.5" r="1.7"/><circle class="b" cx="-5" cy="27" r="2"/><circle class="b" cx="0.9" cy="31.7" r="1.6"/><circle class="b" cx="0.3" cy="27.1" r="2.3"/><circle class="b" cx="0.5" cy="28.3" r="1.8"/><circle class="b" cx="-2.3" cy="34.8" r="2.3"/><circle class="b" cx="-1.4" cy="33.8" r="2"/><circle class="b" cx="-5.7" cy="30.9" r="1.9"/><circle class="b" cx="2.3" cy="24.7" r="2.2"/><circle class="b" cx="3.7" cy="29.1" r="2.7"/><circle class="b" cx="1.8" cy="29.9" r="3.3"/><circle class="b" cx="1.6" cy="31.3" r="2.9"/><circle class="b" cx="1.8" cy="27.6" r="2.7"/></g><g transform="translate(153.8,536) scale(1.004)"><use href="#mb"/><circle class="s" cx="4.8" cy="27.3" r="1.1"/><circle class="s" cx="-2.8" cy="21.6" r="1.5"/><circle class="s" cx="5.8" cy="29.5" r="2.1"/><circle class="s" cx="-5.6" cy="20.4" r="2"/><circle class="p" cx="-2.2" cy="34.2" r="0.9"/><circle class="p" cx="5.2" cy="32.6" r="1.2"/><circle class="p" cx="-5.2" cy="34.5" r="1"/><circle class="p" cx="6.9" cy="31.7" r="1.1"/><circle class="p" cx="-5.2" cy="31.3" r="1"/><circle class="p" cx="4.4" cy="32.4" r="1"/><circle class="p" cx="1.1" cy="31.9" r="1.2"/><circle class="p" cx="7.9" cy="31.9" r="1.1"/><circle class="p" cx="-5.8" cy="33" r="0.8"/><circle class="p" cx="6.1" cy="35.2" r="1.2"/><circle class="p" cx="-5" cy="31.2" r="1.4"/><circle class="p" cx="-7.6" cy="30.9" r="1.5"/><circle class="p" cx="5.7" cy="26.8" r="1.3"/><circle class="p" cx="-6" cy="32.4" r="1.3"/><circle class="p" cx="-7.6" cy="29.9" r="1.5"/><circle class="p" cx="7" cy="33.2" r="1.3"/><circle class="p" cx="-6.6" cy="26.6" r="0.8"/><circle class="p" cx="-5.1" cy="31.8" r="1.6"/><circle class="p" cx="3.3" cy="36.2" r="0.9"/><circle class="p" cx="0.1" cy="25.4" r="1.4"/><circle class="p" cx="-2.8" cy="38" r="0.8"/><circle class="p" cx="1.2" cy="37.8" r="1.5"/><circle class="b" cx="0.6" cy="26.9" r="1.7"/><circle class="b" cx="-1.4" cy="25" r="1.7"/><circle class="b" cx="4.3" cy="28.3" r="1.6"/><circle class="b" cx="-3.7" cy="30.4" r="1.7"/><circle class="b" cx="4.7" cy="26.2" r="1.7"/><circle class="b" cx="-3.2" cy="31.1" r="2.3"/><circle class="b" cx="2.9" cy="32.2" r="2"/><circle class="b" cx="-4.2" cy="30.7" r="2.2"/><circle class="b" cx="5.8" cy="27.9" r="2.5"/><circle class="b" cx="1.5" cy="27.5" r="1.8"/><circle class="b" cx="-5" cy="31.2" r="2.2"/><circle class="b" cx="-3.8" cy="34.8" r="1.9"/><circle class="b" cx="1.9" cy="30.2" r="1.8"/><circle class="b" cx="-0.7" cy="24.5" r="1.6"/><circle class="b" cx="0.3" cy="32.9" r="2.4"/><circle class="b" cx="2.7" cy="28.2" r="1.7"/><circle class="b" cx="6.3" cy="28.8" r="2.3"/><circle class="b" cx="-5.5" cy="30.9" r="2.4"/><circle class="b" cx="-3.4" cy="29.8" r="2.1"/><circle class="b" cx="-1.9" cy="27.1" r="2.2"/><circle class="b" cx="3.9" cy="34.7" r="1.8"/><circle class="b" cx="0.9" cy="35.8" r="2.6"/><circle class="b" cx="3.3" cy="28.5" r="3.3"/><circle class="b" cx="1.3" cy="27.6" r="2.6"/><circle class="b" cx="-0.4" cy="26.8" r="3.3"/><circle class="b" cx="1" cy="30.2" r="3.2"/></g>
<rect x="168.8" y="536" width="103.6" height="52.2" fill="#323232"/><path d="M169.8,536v8.9M176.6,536v8.9M183.6,536v8.9M189.5,536v8.9M195.8,536v8.9M202.1,536v8.9M208.5,536v8.9M214.3,536v8.9M220.5,536v8.9M225.7,536v8.9M232.5,536v8.9M238.9,536v8.9M245.5,536v8.9M251.5,536v8.9M256.9,536v8.9M262.8,536v8.9M269.1,536v8.9" stroke="#1c1c1c" stroke-width="2"/><path d="M189.5,544.9v41.8M210.1,544.9v41.8M230.6,544.9v41.8M251,544.9v41.8" stroke="#262626" stroke-width="1.4"/><g transform="translate(179.1,536) scale(1.004)"><use href="#mb"/><circle class="s" cx="-5.1" cy="14.1" r="1.5"/><circle class="s" cx="-3.3" cy="19.9" r="1.3"/><circle class="s" cx="-1.1" cy="32.1" r="2.2"/><circle class="s" cx="2.3" cy="14.5" r="2.1"/><circle class="p" cx="-5.6" cy="26.7" r="1.3"/><circle class="p" cx="-3" cy="34.7" r="0.9"/><circle class="p" cx="-1" cy="29.4" r="1.3"/><circle class="p" cx="5.9" cy="27.5" r="1.3"/><circle class="p" cx="3" cy="23.7" r="1.5"/><circle class="p" cx="5.8" cy="30.7" r="0.8"/><circle class="p" cx="-5.1" cy="26.8" r="1.5"/><circle class="p" cx="-3.9" cy="27.9" r="0.8"/><circle class="p" cx="3.3" cy="25.5" r="1.6"/><circle class="p" cx="-6.5" cy="26.9" r="1.4"/><circle class="p" cx="5.8" cy="30.7" r="1.5"/><circle class="p" cx="-0.7" cy="31.5" r="1.1"/><circle class="p" cx="-5" cy="37.4" r="1.1"/><circle class="p" cx="-1.1" cy="37.6" r="0.9"/><circle class="p" cx="-1.8" cy="35.7" r="0.9"/><circle class="p" cx="-4.5" cy="28" r="1.4"/><circle class="p" cx="-4.5" cy="37.7" r="1"/><circle class="p" cx="-4" cy="30.3" r="0.8"/><circle class="p" cx="-2.6" cy="38.2" r="1"/><circle class="p" cx="-6.1" cy="31.4" r="1"/><circle class="p" cx="-2.1" cy="30.6" r="1.1"/><circle class="p" cx="-1.7" cy="38.1" r="1.4"/><circle class="b" cx="-1.5" cy="25.6" r="2.5"/><circle class="b" cx="-0.1" cy="28.6" r="1.7"/><circle class="b" cx="-0.1" cy="24.5" r="2.6"/><circle class="b" cx="0.4" cy="27.6" r="2.2"/><circle class="b" cx="-3.6" cy="26.7" r="1.7"/><circle class="b" cx="4.6" cy="29.2" r="1.9"/><circle class="b" cx="4" cy="29.6" r="1.7"/><circle class="b" cx="-1.6" cy="27.3" r="1.8"/><circle class="b" cx="-1.6" cy="34.4" r="1.9"/><circle class="b" cx="-3.2" cy="25.1" r="2.6"/><circle class="b" cx="4.8" cy="26.3" r="1.9"/><circle class="b" cx="0.9" cy="28.4" r="2.2"/><circle class="b" cx="1.8" cy="30.9" r="2.5"/><circle class="b" cx="3.8" cy="33.6" r="2.1"/><circle class="b" cx="5.8" cy="30" r="1.7"/><circle class="b" cx="4.5" cy="26.5" r="2.1"/><circle class="b" cx="-1" cy="30.3" r="2.3"/><circle class="b" cx="4.6" cy="31.1" r="2.5"/><circle class="b" cx="-1" cy="28.2" r="2.3"/><circle class="b" cx="-1.1" cy="26.7" r="2.4"/><circle class="b" cx="-3.7" cy="28.2" r="2.1"/><circle class="b" cx="-0.6" cy="33.2" r="2.5"/><circle class="b" cx="-2.1" cy="32.5" r="2.9"/><circle class="b" cx="0.1" cy="30.1" r="3.5"/><circle class="b" cx="0" cy="26.5" r="3.1"/><circle class="b" cx="1.5" cy="30.5" r="2.5"/></g><g transform="translate(199.8,536) scale(1.004)"><use href="#mb"/><circle class="s" cx="1.6" cy="38.8" r="1.4"/><circle class="s" cx="-3.5" cy="19.8" r="1.2"/><circle class="s" cx="-6.1" cy="26.8" r="1.5"/><circle class="s" cx="-1.7" cy="38.7" r="1.4"/><circle class="p" cx="2.8" cy="31.6" r="0.9"/><circle class="p" cx="2.9" cy="31.2" r="1"/></g><g transform="translate(220.3,536) scale(1.004)"><use href="#mb"/><circle class="s" cx="-3.5" cy="31.9" r="2.1"/><circle class="s" cx="3" cy="20.4" r="1.2"/><circle class="s" cx="6.1" cy="37.8" r="2.2"/><circle class="s" cx="0.5" cy="15.3" r="1.5"/></g><g transform="translate(240.8,536) scale(1.004)"><use href="#mb"/><circle class="s" cx="5.3" cy="15.7" r="1.4"/><circle class="s" cx="-6" cy="36.9" r="1.5"/><circle class="s" cx="-5.4" cy="23.3" r="1.3"/><circle class="s" cx="-0.9" cy="30" r="1.9"/><circle class="p" cx="5.1" cy="34.3" r="0.8"/><circle class="p" cx="-7.1" cy="33.6" r="1"/><circle class="p" cx="1.8" cy="27.5" r="1.1"/><circle class="p" cx="0.1" cy="30.5" r="1.2"/><circle class="p" cx="-7" cy="29.5" r="1.6"/><circle class="p" cx="-1.4" cy="27.4" r="1"/><circle class="p" cx="-4.5" cy="31.5" r="1.2"/><circle class="p" cx="6" cy="34.6" r="1.1"/><circle class="p" cx="2.8" cy="31.9" r="1.5"/><circle class="p" cx="4.7" cy="24.9" r="1.1"/><circle class="p" cx="3.5" cy="30.7" r="1.4"/><circle class="p" cx="3.6" cy="29.7" r="0.8"/><circle class="p" cx="1.7" cy="32.6" r="1.4"/><circle class="p" cx="-4.6" cy="27.6" r="0.9"/><circle class="p" cx="-2" cy="28.7" r="0.9"/><circle class="p" cx="-5.7" cy="27.4" r="1.4"/><circle class="p" cx="1.5" cy="28.4" r="1"/><circle class="p" cx="3.7" cy="35.4" r="0.8"/><circle class="p" cx="4.7" cy="26.1" r="1.4"/><circle class="p" cx="-8.1" cy="31.6" r="1.5"/><circle class="p" cx="3.6" cy="24.7" r="1"/><circle class="p" cx="-1.1" cy="32.6" r="1.4"/><circle class="b" cx="-6.4" cy="31" r="1.9"/><circle class="b" cx="-5.5" cy="32.3" r="2.6"/><circle class="b" cx="0.3" cy="24.4" r="2.5"/><circle class="b" cx="-0.7" cy="34.7" r="1.7"/><circle class="b" cx="-2.8" cy="24.8" r="2.1"/><circle class="b" cx="3" cy="33.6" r="1.7"/><circle class="b" cx="-1.8" cy="30.4" r="2"/><circle class="b" cx="2.3" cy="25.3" r="2.5"/><circle class="b" cx="-4.2" cy="31.1" r="1.7"/><circle class="b" cx="1.2" cy="25.6" r="2"/><circle class="b" cx="2.7" cy="33.2" r="1.7"/><circle class="b" cx="1.3" cy="31.2" r="2"/><circle class="b" cx="3.8" cy="34.1" r="2.2"/><circle class="b" cx="3.2" cy="26.7" r="1.8"/><circle class="b" cx="-1" cy="35.4" r="2.2"/><circle class="b" cx="-3.1" cy="26.2" r="1.6"/><circle class="b" cx="1.3" cy="33.7" r="2.4"/><circle class="b" cx="4.7" cy="28.4" r="1.9"/><circle class="b" cx="4.7" cy="31.3" r="2"/><circle class="b" cx="2.7" cy="28.9" r="1.8"/><circle class="b" cx="1.1" cy="30.1" r="2.4"/><circle class="b" cx="1.8" cy="28.3" r="1.6"/><circle class="b" cx="-1.8" cy="29.2" r="3.1"/><circle class="b" cx="2.9" cy="28.4" r="2.8"/><circle class="b" cx="-1.7" cy="28.8" r="3.3"/><circle class="b" cx="-0.2" cy="33.3" r="3.2"/></g><g transform="translate(261.1,536) scale(1.004)"><use href="#mb"/><circle class="s" cx="-2" cy="38.8" r="1.8"/><circle class="s" cx="-3.2" cy="30.8" r="1.4"/><circle class="s" cx="-5" cy="15" r="1.8"/><circle class="s" cx="-3.4" cy="16.6" r="2"/><circle class="p" cx="4.6" cy="36.4" r="1"/><circle class="p" cx="-5.4" cy="36.8" r="1.5"/><circle class="p" cx="4.3" cy="24.2" r="1.3"/><circle class="p" cx="6.2" cy="28.5" r="1.3"/><circle class="p" cx="-2.3" cy="35.4" r="1.3"/><circle class="p" cx="0.1" cy="37.4" r="1.5"/><circle class="p" cx="-0.7" cy="27.3" r="0.8"/><circle class="p" cx="-3.8" cy="34.9" r="1.5"/><circle class="p" cx="-5.9" cy="29.3" r="1.3"/><circle class="p" cx="-6.6" cy="28.8" r="1.2"/><circle class="p" cx="-3.9" cy="29.7" r="0.9"/><circle class="p" cx="-7.4" cy="33.8" r="1.6"/><circle class="p" cx="-1.7" cy="36.8" r="1.2"/><circle class="p" cx="-3.4" cy="32" r="1.4"/><circle class="p" cx="3.5" cy="33" r="1"/><circle class="p" cx="1.1" cy="34.4" r="0.9"/><circle class="p" cx="-3.5" cy="30.5" r="1.3"/><circle class="p" cx="-5.4" cy="27.3" r="1.2"/><circle class="p" cx="-3.5" cy="28.2" r="1.2"/><circle class="p" cx="-1.5" cy="27.6" r="1.4"/><circle class="p" cx="-7.2" cy="27" r="1.3"/><circle class="p" cx="-7.1" cy="28.9" r="1"/><circle class="b" cx="-3" cy="32.8" r="2.3"/><circle class="b" cx="-0.5" cy="27.5" r="2.6"/><circle class="b" cx="4.5" cy="29.5" r="2.6"/><circle class="b" cx="-2.9" cy="27.4" r="1.7"/><circle class="b" cx="5" cy="30.5" r="2.3"/><circle class="b" cx="-4.3" cy="26.5" r="2"/><circle class="b" cx="-0.3" cy="25.3" r="2.2"/><circle class="b" cx="-5.1" cy="28.5" r="2.2"/><circle class="b" cx="4.5" cy="32.7" r="2.3"/><circle class="b" cx="-5.8" cy="32.6" r="2.1"/><circle class="b" cx="2.3" cy="33.7" r="2"/><circle class="b" cx="3.1" cy="34.9" r="1.8"/><circle class="b" cx="-0.6" cy="27.6" r="2.1"/><circle class="b" cx="1.9" cy="30" r="2.5"/><circle class="b" cx="6.4" cy="30.2" r="2.5"/><circle class="b" cx="-4.9" cy="31.5" r="2.1"/><circle class="b" cx="2" cy="33.1" r="2"/><circle class="b" cx="1.5" cy="28.5" r="2.1"/><circle class="b" cx="-4.8" cy="30.8" r="2.4"/><circle class="b" cx="-3" cy="28" r="2.6"/><circle class="b" cx="-2.8" cy="28.2" r="2.1"/><circle class="b" cx="0.9" cy="29" r="2.2"/><circle class="b" cx="-2.1" cy="30.1" r="2.7"/><circle class="b" cx="0.3" cy="32.3" r="2.9"/><circle class="b" cx="-1.7" cy="28.9" r="3.1"/><circle class="b" cx="-3.5" cy="30.5" r="3.3"/><circle class="c" cx="2.9" cy="30.4" r="1.3"/></g>
<rect x="275.9" y="536" width="103" height="52.2" fill="#323232"/><path d="M276.9,536v8.9M282.6,536v8.9M288.1,536v8.9M294.5,536v8.9M300.4,536v8.9M306.7,536v8.9M312.3,536v8.9M319,536v8.9M324.5,536v8.9M331.2,536v8.9M337.1,536v8.9M342.9,536v8.9M349.1,536v8.9M355.1,536v8.9M361.2,536v8.9M367.3,536v8.9M374.2,536v8.9" stroke="#1c1c1c" stroke-width="2"/><path d="M296.5,544.9v41.8M317.1,544.9v41.8M337.6,544.9v41.8M358,544.9v41.8" stroke="#262626" stroke-width="1.4"/><g transform="translate(286.2,536) scale(1.004)"><use href="#mb"/><circle class="s" cx="-5.3" cy="39.7" r="1"/><circle class="s" cx="-5.8" cy="35.3" r="1.4"/><circle class="s" cx="-6.1" cy="18.6" r="1.6"/><circle class="s" cx="4.5" cy="14.5" r="1.2"/><circle class="p" cx="2" cy="31.1" r="1.1"/><circle class="p" cx="-8.4" cy="31.4" r="1.3"/><circle class="p" cx="4" cy="26.1" r="1.5"/><circle class="p" cx="-1.9" cy="27.5" r="1.1"/><circle class="p" cx="-2.8" cy="31.3" r="1.5"/><circle class="p" cx="-3.8" cy="31.4" r="1.2"/><circle class="p" cx="1.5" cy="27.1" r="1.3"/><circle class="p" cx="3.5" cy="33.1" r="0.9"/><circle class="p" cx="-7" cy="30.8" r="1"/><circle class="p" cx="-2.4" cy="25.3" r="1.4"/><circle class="p" cx="4.9" cy="30.9" r="1.6"/><circle class="p" cx="-5.8" cy="32.6" r="0.9"/><circle class="p" cx="5.9" cy="34.3" r="0.9"/><circle class="p" cx="2.4" cy="31.5" r="1.2"/><circle class="p" cx="1.5" cy="34.9" r="1.4"/><circle class="p" cx="-3.1" cy="32" r="1.3"/><circle class="p" cx="6.7" cy="30.8" r="1.2"/><circle class="p" cx="-6.9" cy="29.4" r="1.5"/><circle class="p" cx="0.9" cy="27.1" r="1.4"/><circle class="p" cx="2.4" cy="32.7" r="1.2"/><circle class="p" cx="2.5" cy="36.5" r="1"/><circle class="p" cx="5.2" cy="29.2" r="1.5"/><circle class="b" cx="4.1" cy="28.6" r="2.4"/><circle class="b" cx="-4.1" cy="30.2" r="1.7"/><circle class="b" cx="-3.4" cy="25.2" r="2.3"/><circle class="b" cx="-1.9" cy="34" r="2"/><circle class="b" cx="-4.4" cy="33.3" r="1.6"/><circle class="b" cx="-4.6" cy="30.5" r="1.7"/><circle class="b" cx="-0.4" cy="27" r="2"/><circle class="b" cx="0.1" cy="34.6" r="2"/><circle class="b" cx="-1.7" cy="26.4" r="2.4"/><circle class="b" cx="-2" cy="29.4" r="2.1"/><circle class="b" cx="-0.1" cy="33.3" r="2.5"/><circle class="b" cx="-5.5" cy="30.6" r="1.8"/><circle class="b" cx="-1.5" cy="28.5" r="1.8"/><circle class="b" cx="0.7" cy="30.7" r="2.5"/><circle class="b" cx="3.8" cy="29.2" r="1.6"/><circle class="b" cx="-0.5" cy="25.1" r="1.6"/><circle class="b" cx="0.2" cy="28.4" r="1.8"/><circle class="b" cx="1" cy="24.8" r="1.8"/><circle class="b" cx="-5.8" cy="29.7" r="2.2"/><circle class="b" cx="-2.8" cy="29.6" r="1.7"/><circle class="b" cx="1.8" cy="34" r="2.2"/><circle class="b" cx="-5" cy="31.2" r="2.2"/><circle class="b" cx="-1.6" cy="28.2" r="3.3"/><circle class="b" cx="-3.7" cy="29.4" r="3.5"/><circle class="b" cx="1.7" cy="27.3" r="3.2"/><circle class="b" cx="-1.9" cy="29.4" r="2.6"/></g><g transform="translate(306.9,536) scale(1.004)"><use href="#mb"/><circle class="s" cx="-3.3" cy="29.9" r="1.7"/><circle class="s" cx="1.4" cy="25.2" r="1.3"/><circle class="s" cx="-2.6" cy="32.1" r="2.2"/><circle class="s" cx="-2.4" cy="22.2" r="1.6"/><circle class="p" cx="-6.1" cy="33.7" r="1.4"/><circle class="p" cx="0.8" cy="23.8" r="1.4"/><circle class="p" cx="5.6" cy="30.1" r="1.2"/><circle class="p" cx="-2.8" cy="27.4" r="1.5"/><circle class="p" cx="-5.5" cy="33.9" r="1.2"/><circle class="p" cx="-0.6" cy="31.6" r="1"/><circle class="p" cx="-8.2" cy="32.2" r="0.9"/><circle class="p" cx="6.9" cy="26.5" r="1.4"/><circle class="p" cx="-0.2" cy="32.1" r="1.5"/><circle class="p" cx="4.2" cy="32.8" r="1.6"/><circle class="p" cx="-3.6" cy="24.6" r="1.5"/><circle class="p" cx="2.6" cy="36.1" r="0.9"/><circle class="p" cx="-4.3" cy="34.9" r="1.5"/><circle class="p" cx="-1.7" cy="37.3" r="0.9"/><circle class="p" cx="-0.1" cy="32.9" r="1.3"/><circle class="p" cx="-6.1" cy="27.5" r="1.1"/><circle class="p" cx="6.7" cy="28.4" r="1.3"/><circle class="p" cx="2.5" cy="28.6" r="1"/><circle class="p" cx="-6.2" cy="29" r="1.6"/><circle class="p" cx="-0.8" cy="29.4" r="1.6"/><circle class="p" cx="-3.8" cy="31.7" r="1.4"/><circle class="p" cx="-5.4" cy="25.7" r="1.2"/><circle class="b" cx="-0.2" cy="34.1" r="2.1"/><circle class="b" cx="-3" cy="33.7" r="1.7"/><circle class="b" cx="-0" cy="32.1" r="1.6"/><circle class="b" cx="-5.5" cy="29.2" r="2"/><circle class="b" cx="4.1" cy="27.3" r="2.3"/><circle class="b" cx="-1.4" cy="35.5" r="1.9"/><circle class="b" cx="1.8" cy="27.5" r="2.6"/><circle class="b" cx="-1.1" cy="27.7" r="2.3"/><circle class="b" cx="2.3" cy="33.1" r="2"/><circle class="b" cx="-2" cy="33.1" r="1.8"/><circle class="b" cx="-1.6" cy="31.1" r="2.4"/><circle class="b" cx="-3.3" cy="34" r="2"/><circle class="b" cx="6" cy="29.1" r="2.3"/><circle class="b" cx="3.4" cy="25.2" r="2.5"/><circle class="b" cx="-4.3" cy="32.4" r="1.7"/><circle class="b" cx="-2.5" cy="32.6" r="2.2"/><circle class="b" cx="5.6" cy="30.2" r="1.7"/><circle class="b" cx="-4" cy="31.9" r="2.4"/><circle class="b" cx="-1.7" cy="28.3" r="2.3"/><circle class="b" cx="0.5" cy="34.7" r="2"/><circle class="b" cx="4.2" cy="28.9" r="1.9"/><circle class="b" cx="-2.3" cy="35.5" r="1.9"/><circle class="b" cx="0.1" cy="32.6" r="3.2"/><circle class="b" cx="1.1" cy="29.6" r="2.8"/><circle class="b" cx="-0.5" cy="27.6" r="3.2"/><circle class="b" cx="-0.6" cy="29.1" r="2.6"/><circle class="c" cx="-1.2" cy="27.5" r="1.3"/></g><g transform="translate(327.4,536) scale(1.004)"><use href="#mb"/><circle class="s" cx="-2.8" cy="17" r="1"/><circle class="s" cx="0.3" cy="33.7" r="1.2"/><circle class="s" cx="-5.3" cy="32.9" r="1.1"/><circle class="s" cx="-4.7" cy="26.8" r="1.4"/><circle class="p" cx="1.3" cy="25.4" r="1.2"/><circle class="p" cx="-1" cy="31.9" r="1.5"/><circle class="p" cx="-5.9" cy="35.7" r="0.9"/><circle class="p" cx="-5.7" cy="33.4" r="0.9"/><circle class="p" cx="7.3" cy="34.5" r="1.6"/><circle class="p" cx="6.3" cy="31" r="1.4"/><circle class="p" cx="-4.7" cy="27.7" r="0.9"/><circle class="p" cx="-3.6" cy="26.9" r="1.3"/><circle class="p" cx="4.4" cy="32.1" r="0.9"/><circle class="p" cx="0.5" cy="25.5" r="1"/><circle class="p" cx="1.2" cy="25.3" r="1"/><circle class="p" cx="-0.3" cy="31.2" r="0.8"/><circle class="p" cx="8.1" cy="32.8" r="1.5"/><circle class="p" cx="-7.9" cy="28.9" r="1.2"/><circle class="p" cx="-1.1" cy="28.6" r="1.1"/><circle class="p" cx="-4.2" cy="27.7" r="1.3"/><circle class="p" cx="-3.8" cy="36.4" r="1"/><circle class="p" cx="-5.5" cy="31.3" r="1.2"/><circle class="p" cx="3.9" cy="32.3" r="1.4"/><circle class="p" cx="3" cy="35.8" r="1.6"/><circle class="p" cx="-5.6" cy="26.6" r="1.4"/><circle class="p" cx="5.2" cy="30" r="1.1"/><circle class="b" cx="0" cy="29" r="2.1"/><circle class="b" cx="-0.7" cy="34.4" r="2.3"/><circle class="b" cx="3" cy="26.7" r="2.3"/><circle class="b" cx="4.6" cy="32.3" r="2.5"/><circle class="b" cx="-3.4" cy="27.2" r="2.1"/><circle class="b" cx="-2.3" cy="31.3" r="1.8"/><circle class="b" cx="1.3" cy="25.9" r="1.6"/><circle class="b" cx="-4.4" cy="26.4" r="2.3"/><circle class="b" cx="2.7" cy="35.3" r="1.8"/><circle class="b" cx="-4.4" cy="29.8" r="1.8"/><circle class="b" cx="-0.3" cy="32.6" r="1.8"/><circle class="b" cx="5" cy="31.2" r="2.3"/><circle class="b" cx="-0.1" cy="35.9" r="2"/><circle class="b" cx="-6" cy="31.6" r="2.2"/><circle class="b" cx="-5.5" cy="31.1" r="2.3"/><circle class="b" cx="-0.6" cy="31.5" r="2.3"/><circle class="b" cx="-0.1" cy="25.4" r="1.7"/><circle class="b" cx="-0.1" cy="27.5" r="2.4"/><circle class="b" cx="-3.7" cy="26.7" r="1.7"/><circle class="b" cx="-3.7" cy="33.9" r="1.7"/><circle class="b" cx="4.1" cy="30.9" r="2.5"/><circle class="b" cx="-2.1" cy="27.9" r="1.7"/><circle class="b" cx="1.9" cy="27.3" r="3.2"/><circle class="b" cx="0.9" cy="32.9" r="2.5"/><circle class="b" cx="1.1" cy="31.7" r="3.5"/><circle class="b" cx="1.6" cy="30.3" r="3.2"/></g><g transform="translate(347.9,536) scale(1.004)"><use href="#mb"/><circle class="s" cx="-3" cy="16" r="2.1"/><circle class="s" cx="6.1" cy="37.6" r="1.7"/><circle class="s" cx="-5.4" cy="33.2" r="1.8"/><circle class="s" cx="4.3" cy="33.7" r="1.7"/><circle class="p" cx="5.7" cy="30.2" r="1.2"/><circle class="p" cx="-4.9" cy="25.6" r="1.3"/><circle class="p" cx="4.1" cy="29.5" r="1.5"/><circle class="p" cx="3.6" cy="27.7" r="0.8"/><circle class="p" cx="-5.4" cy="27.3" r="1.6"/><circle class="p" cx="-6.8" cy="28.6" r="1.4"/><circle class="p" cx="3.4" cy="36.7" r="1.2"/><circle class="p" cx="0.9" cy="35.1" r="1.1"/><circle class="p" cx="-0.6" cy="25.1" r="1.1"/><circle class="p" cx="7.1" cy="33.4" r="1.4"/><circle class="p" cx="3.9" cy="24.9" r="0.9"/><circle class="p" cx="-1.1" cy="36.3" r="1"/><circle class="p" cx="1.7" cy="27.8" r="0.8"/><circle class="p" cx="-1.8" cy="31.5" r="0.8"/><circle class="p" cx="-5.2" cy="27.2" r="1.2"/><circle class="p" cx="5.8" cy="33.6" r="1.2"/><circle class="p" cx="-1.3" cy="34.6" r="0.9"/><circle class="p" cx="-5.1" cy="31.5" r="1.3"/><circle class="p" cx="-2.1" cy="27.3" r="1.3"/><circle class="p" cx="-0.4" cy="37.9" r="1"/><circle class="p" cx="-6" cy="27.2" r="1.4"/><circle class="p" cx="-8" cy="29.5" r="1.6"/><circle class="b" cx="1" cy="26.5" r="1.9"/><circle class="b" cx="-1.6" cy="28.5" r="1.8"/><circle class="b" cx="4.3" cy="32.7" r="2"/><circle class="b" cx="5.1" cy="27.4" r="2.1"/><circle class="b" cx="-2" cy="32.9" r="1.7"/><circle class="b" cx="4.7" cy="33.6" r="1.9"/><circle class="b" cx="6.4" cy="30.3" r="2"/><circle class="b" cx="0.7" cy="26" r="2.6"/><circle class="b" cx="3.9" cy="32" r="2.2"/><circle class="b" cx="6.2" cy="30.9" r="1.9"/><circle class="b" cx="-0.8" cy="28.5" r="1.7"/><circle class="b" cx="4.9" cy="32.8" r="2.5"/><circle class="b" cx="4.1" cy="27.8" r="1.7"/><circle class="b" cx="0.8" cy="25.8" r="2.4"/><circle class="b" cx="-3.3" cy="26.6" r="1.8"/><circle class="b" cx="1.2" cy="31.3" r="2"/><circle class="b" cx="-1.5" cy="35.7" r="1.6"/><circle class="b" cx="0.1" cy="27.9" r="1.7"/><circle class="b" cx="2.7" cy="28.7" r="2.2"/><circle class="b" cx="-3.5" cy="28.1" r="1.9"/><circle class="b" cx="3.4" cy="33.9" r="2"/><circle class="b" cx="-4.7" cy="26.8" r="1.7"/><circle class="b" cx="-2.1" cy="31" r="3.4"/><circle class="b" cx="-1.3" cy="28.9" r="3"/><circle class="b" cx="2.9" cy="30.2" r="2.6"/><circle class="b" cx="1.8" cy="31.9" r="3"/><circle class="c" cx="0.5" cy="28.5" r="1.3"/></g><g transform="translate(368.2,536) scale(1.004)"><use href="#mb"/><circle class="s" cx="2.6" cy="15.4" r="2.1"/><circle class="s" cx="-0.7" cy="18.5" r="1.4"/><circle class="s" cx="1.7" cy="16.5" r="2.2"/><circle class="s" cx="-3.6" cy="24.7" r="1.1"/><circle class="p" cx="-8" cy="33.1" r="0.9"/><circle class="p" cx="2.7" cy="36.3" r="1.3"/><circle class="p" cx="2.5" cy="33.9" r="1.3"/><circle class="p" cx="0.1" cy="32.3" r="1.4"/><circle class="p" cx="5.2" cy="25.7" r="1.5"/><circle class="p" cx="1.1" cy="35.3" r="1.3"/><circle class="p" cx="-5" cy="26.8" r="1.2"/><circle class="p" cx="0.4" cy="34.9" r="0.9"/><circle class="p" cx="6.1" cy="33.2" r="0.9"/><circle class="p" cx="5.9" cy="25.5" r="0.9"/><circle class="p" cx="6.6" cy="29.7" r="0.8"/><circle class="p" cx="-3.8" cy="34.2" r="1"/><circle class="p" cx="3.8" cy="32.6" r="0.8"/><circle class="p" cx="-5.6" cy="32.8" r="1"/><circle class="p" cx="7.1" cy="27.6" r="1.2"/><circle class="p" cx="1.6" cy="26.5" r="1.4"/><circle class="p" cx="0.9" cy="26.3" r="1.4"/><circle class="p" cx="-2.1" cy="33.7" r="1.1"/><circle class="p" cx="5.4" cy="35.4" r="1"/><circle class="p" cx="-7.6" cy="31.1" r="1.3"/><circle class="p" cx="6.1" cy="27.3" r="1.4"/><circle class="p" cx="-0.4" cy="24.4" r="1.5"/><circle class="b" cx="-4.4" cy="27.3" r="2.1"/><circle class="b" cx="-6.2" cy="28.8" r="1.9"/><circle class="b" cx="1.7" cy="34" r="1.9"/><circle class="b" cx="-1.2" cy="25.3" r="1.6"/><circle class="b" cx="1.3" cy="34.6" r="2"/><circle class="b" cx="-1.9" cy="26.3" r="1.7"/><circle class="b" cx="-2.4" cy="24.5" r="1.7"/><circle class="b" cx="-3.8" cy="26.9" r="2.2"/><circle class="b" cx="-4.6" cy="29.9" r="2.6"/><circle class="b" cx="3" cy="27.2" r="2.4"/><circle class="b" cx="-2.9" cy="25.3" r="2.6"/><circle class="b" cx="2.7" cy="31.2" r="1.8"/><circle class="b" cx="2.6" cy="24.8" r="1.8"/><circle class="b" cx="-6.1" cy="30.5" r="2.3"/><circle class="b" cx="-5.3" cy="27.1" r="2.5"/><circle class="b" cx="5.4" cy="33.2" r="1.9"/><circle class="b" cx="-4.2" cy="26.6" r="1.9"/><circle class="b" cx="-2.1" cy="35.4" r="2.4"/><circle class="b" cx="2" cy="29.7" r="2.2"/><circle class="b" cx="-0.4" cy="24.1" r="2.3"/><circle class="b" cx="-0.4" cy="31.9" r="1.8"/><circle class="b" cx="-0.3" cy="34.5" r="1.9"/><circle class="b" cx="0.7" cy="30.8" r="3.2"/><circle class="b" cx="0.6" cy="28.9" r="3"/><circle class="b" cx="2.4" cy="29.7" r="3"/><circle class="b" cx="0.2" cy="29.5" r="3.4"/></g>
<rect x="382.2" y="536" width="103.1" height="52.2" fill="#323232"/><path d="M383.2,536v8.9M389.7,536v8.9M395.4,536v8.9M401.3,536v8.9M408.2,536v8.9M413.3,536v8.9M418.5,536v8.9M424.8,536v8.9M431.7,536v8.9M437,536v8.9M442.4,536v8.9M448.3,536v8.9M454.9,536v8.9M461,536v8.9M467.3,536v8.9M472.4,536v8.9M477.8,536v8.9" stroke="#1c1c1c" stroke-width="2"/><path d="M402.8,544.9v41.8M423.4,544.9v41.8M443.9,544.9v41.8M464.4,544.9v41.8" stroke="#262626" stroke-width="1.4"/><g transform="translate(392.5,536) scale(1.004)"><use href="#mb"/><circle class="s" cx="2.9" cy="16.4" r="1.1"/><circle class="s" cx="-2.4" cy="24.8" r="1.4"/><circle class="s" cx="-4.3" cy="15.9" r="1.8"/><circle class="s" cx="5.9" cy="30.5" r="2.2"/><circle class="p" cx="4.7" cy="35.5" r="1.1"/><circle class="p" cx="3.8" cy="25.9" r="1.3"/><circle class="p" cx="7.1" cy="27" r="0.9"/><circle class="p" cx="-2.3" cy="31.9" r="1.2"/><circle class="p" cx="1.1" cy="37.6" r="1.1"/><circle class="p" cx="8" cy="31.4" r="0.9"/><circle class="p" cx="-0.7" cy="36.7" r="0.8"/><circle class="p" cx="1" cy="24.3" r="0.9"/><circle class="p" cx="-2.2" cy="29" r="1.2"/><circle class="p" cx="3.8" cy="33.4" r="1.2"/><circle class="p" cx="-6.6" cy="29.2" r="1.5"/><circle class="p" cx="-2.6" cy="35.1" r="1"/><circle class="p" cx="-0.4" cy="26.2" r="1"/><circle class="p" cx="2" cy="35.9" r="1.5"/><circle class="p" cx="-7.1" cy="33.7" r="1.2"/><circle class="p" cx="-3.7" cy="29" r="1.1"/><circle class="p" cx="-0.4" cy="28.7" r="1.2"/><circle class="p" cx="-0.1" cy="35.3" r="1.1"/><circle class="p" cx="2.1" cy="36.8" r="0.8"/><circle class="p" cx="0.3" cy="35.1" r="0.9"/><circle class="p" cx="3.6" cy="25.3" r="1.5"/><circle class="p" cx="2.5" cy="33.6" r="1.1"/><circle class="b" cx="-5.9" cy="29.7" r="2.4"/><circle class="b" cx="0.5" cy="29.4" r="1.6"/><circle class="b" cx="-2.2" cy="33.4" r="1.6"/><circle class="b" cx="-1.4" cy="31.7" r="2.5"/><circle class="b" cx="0.9" cy="33.3" r="1.8"/><circle class="b" cx="1.3" cy="28.4" r="2"/><circle class="b" cx="0.6" cy="32.9" r="2.6"/><circle class="b" cx="-1.2" cy="25" r="2"/><circle class="b" cx="6.3" cy="29.2" r="2.2"/><circle class="b" cx="0.2" cy="31.3" r="2.1"/><circle class="b" cx="-6" cy="30.5" r="2.6"/><circle class="b" cx="1.3" cy="27.3" r="2.6"/><circle class="b" cx="-1" cy="29.2" r="1.8"/><circle class="b" cx="5.6" cy="28.6" r="2.3"/><circle class="b" cx="-0.5" cy="29.2" r="2.5"/><circle class="b" cx="-1.7" cy="35" r="2.1"/><circle class="b" cx="-4.7" cy="30.3" r="2.5"/><circle class="b" cx="2.1" cy="26.8" r="2.5"/><circle class="b" cx="1.7" cy="33.2" r="1.9"/><circle class="b" cx="3.9" cy="31.1" r="1.6"/><circle class="b" cx="5.8" cy="28.9" r="2.1"/><circle class="b" cx="3.1" cy="31.2" r="2.4"/><circle class="b" cx="-0.3" cy="31" r="2.9"/><circle class="b" cx="-1.3" cy="29.4" r="2.9"/><circle class="b" cx="-3.2" cy="28.9" r="2.9"/><circle class="b" cx="2" cy="29.9" r="3.3"/><circle class="c" cx="2.5" cy="30.4" r="1.3"/></g><g transform="translate(413.2,536) scale(1.004)"><use href="#mb"/><circle class="s" cx="-4.2" cy="35.2" r="2.1"/><circle class="s" cx="-4.8" cy="36.9" r="2.2"/><circle class="s" cx="-1.9" cy="34.6" r="1.9"/><circle class="s" cx="0.9" cy="24.1" r="1.4"/><circle class="p" cx="3" cy="24.5" r="1.6"/><circle class="p" cx="5.8" cy="33.5" r="1.4"/><circle class="p" cx="0.2" cy="32.1" r="1.5"/><circle class="p" cx="1.4" cy="24.4" r="1.1"/><circle class="p" cx="-7.1" cy="33.7" r="0.9"/><circle class="p" cx="-1.2" cy="24.4" r="1.2"/><circle class="p" cx="6.5" cy="29.1" r="1.5"/><circle class="p" cx="1.9" cy="35.8" r="1"/><circle class="p" cx="-7.4" cy="31.1" r="1.6"/><circle class="p" cx="6.6" cy="27.1" r="1.6"/><circle class="p" cx="-0.8" cy="24.2" r="0.9"/><circle class="p" cx="-5" cy="34.1" r="0.9"/><circle class="p" cx="4.2" cy="28.2" r="1"/><circle class="p" cx="5.4" cy="33.9" r="1.1"/><circle class="p" cx="6.4" cy="29" r="1.1"/><circle class="p" cx="1" cy="32.5" r="1.4"/><circle class="p" cx="-4.6" cy="27.4" r="1.2"/><circle class="p" cx="-6.8" cy="35.1" r="0.8"/><circle class="p" cx="0.9" cy="38.1" r="1.1"/><circle class="p" cx="-2.7" cy="35.6" r="1"/><circle class="p" cx="0.2" cy="28.5" r="1.2"/><circle class="p" cx="-1.1" cy="26.4" r="1.4"/><circle class="b" cx="-3.1" cy="33.7" r="1.7"/><circle class="b" cx="-2" cy="34.1" r="2.2"/><circle class="b" cx="-1.2" cy="30.3" r="2.1"/><circle class="b" cx="2.2" cy="27.7" r="1.8"/><circle class="b" cx="-2.3" cy="28" r="1.7"/><circle class="b" cx="4.6" cy="32.1" r="2.5"/><circle class="b" cx="0.7" cy="25.4" r="2.5"/><circle class="b" cx="2" cy="27.5" r="2"/><circle class="b" cx="6.2" cy="29" r="2.2"/><circle class="b" cx="-2.6" cy="27.4" r="1.7"/><circle class="b" cx="-1.5" cy="32.5" r="2.2"/><circle class="b" cx="-2.9" cy="26.1" r="2.5"/><circle class="b" cx="2.9" cy="30" r="1.7"/><circle class="b" cx="-4.2" cy="34.2" r="2.1"/><circle class="b" cx="0.8" cy="27.6" r="2"/><circle class="b" cx="1.1" cy="26.9" r="2.3"/><circle class="b" cx="-4.3" cy="27.2" r="1.6"/><circle class="b" cx="-4.1" cy="34.6" r="2"/><circle class="b" cx="-1.2" cy="35.9" r="2.2"/><circle class="b" cx="-1.5" cy="26.1" r="2.2"/><circle class="b" cx="-2.6" cy="32" r="1.9"/><circle class="b" cx="0.8" cy="34.9" r="1.7"/><circle class="b" cx="2.1" cy="31.7" r="3.5"/><circle class="b" cx="0.6" cy="27.2" r="3.2"/><circle class="b" cx="0.8" cy="32.4" r="2.5"/><circle class="b" cx="-0.7" cy="29.9" r="2.6"/><circle class="c" cx="-0.9" cy="29.8" r="1.3"/></g><g transform="translate(433.7,536) scale(1.004)"><use href="#mb"/><circle class="s" cx="-3.7" cy="16" r="1.2"/><circle class="s" cx="5.8" cy="39.6" r="2.2"/><circle class="s" cx="-4.7" cy="19.2" r="2.1"/><circle class="s" cx="-6.3" cy="17.9" r="1.8"/><circle class="p" cx="8" cy="29.3" r="1.5"/><circle class="p" cx="-3" cy="37.2" r="1.5"/><circle class="p" cx="6.8" cy="26.4" r="1.4"/><circle class="p" cx="1.6" cy="24.5" r="1.1"/><circle class="p" cx="-7.3" cy="27.6" r="1.3"/><circle class="p" cx="5.6" cy="31.9" r="1.5"/><circle class="p" cx="-1.5" cy="25.6" r="1.5"/><circle class="p" cx="0.2" cy="27.2" r="1.4"/><circle class="p" cx="0.5" cy="30.5" r="1.5"/><circle class="p" cx="-7.1" cy="34.1" r="0.8"/><circle class="p" cx="-2" cy="35" r="1"/><circle class="p" cx="-4.2" cy="25" r="1.3"/><circle class="p" cx="2.4" cy="29.6" r="1"/><circle class="p" cx="-6.2" cy="35.1" r="1.4"/><circle class="p" cx="7.9" cy="30.6" r="1.2"/><circle class="p" cx="-0.5" cy="23.8" r="1.2"/><circle class="p" cx="-3.4" cy="24.3" r="1.5"/><circle class="p" cx="0.8" cy="32.2" r="1.4"/><circle class="p" cx="1.5" cy="27.8" r="1.5"/><circle class="p" cx="0.1" cy="27.8" r="0.9"/><circle class="p" cx="-3.7" cy="25.7" r="0.9"/><circle class="p" cx="3.3" cy="29" r="1.5"/><circle class="b" cx="2.1" cy="29.3" r="2.3"/><circle class="b" cx="-5.9" cy="28.2" r="2"/><circle class="b" cx="-2.7" cy="31.5" r="2.4"/><circle class="b" cx="-2.6" cy="35.2" r="1.6"/><circle class="b" cx="0.7" cy="29.5" r="2.3"/><circle class="b" cx="3.5" cy="28.9" r="2.2"/><circle class="b" cx="-1.4" cy="30.8" r="2.4"/><circle class="b" cx="-5.8" cy="30.2" r="1.6"/><circle class="b" cx="1.6" cy="32.5" r="2.4"/><circle class="b" cx="1" cy="30.1" r="2"/><circle class="b" cx="-4.5" cy="33.6" r="2.5"/><circle class="b" cx="0.4" cy="35.2" r="2"/><circle class="b" cx="0.5" cy="25.2" r="1.7"/><circle class="b" cx="-4.2" cy="30.7" r="2.1"/><circle class="b" cx="-5.1" cy="28.3" r="2"/><circle class="b" cx="-5.9" cy="29.3" r="2.3"/><circle class="b" cx="0.8" cy="32.1" r="1.9"/><circle class="b" cx="3.9" cy="28.9" r="2.5"/><circle class="b" cx="5.3" cy="28.9" r="2"/><circle class="b" cx="-0.1" cy="25.8" r="2.6"/><circle class="b" cx="-5.2" cy="30" r="2.3"/><circle class="b" cx="-1.9" cy="28.2" r="2.2"/><circle class="b" cx="-3" cy="31.3" r="3.3"/><circle class="b" cx="0.7" cy="32" r="2.8"/><circle class="b" cx="2.7" cy="29.4" r="2.9"/><circle class="b" cx="3.5" cy="29.3" r="3.4"/></g><g transform="translate(454.2,536) scale(1.004)"><use href="#mb"/><circle class="s" cx="-4.9" cy="23.7" r="1.1"/><circle class="s" cx="-1.3" cy="25.7" r="1.6"/><circle class="s" cx="6.2" cy="27.8" r="1.2"/><circle class="s" cx="-4.2" cy="31.7" r="1.7"/><circle class="p" cx="-5" cy="34" r="1.1"/><circle class="p" cx="-2.9" cy="25.5" r="0.8"/><circle class="p" cx="-4.2" cy="31.1" r="1.3"/><circle class="p" cx="-7.2" cy="32.6" r="1.6"/><circle class="p" cx="-0.3" cy="24.7" r="1.2"/><circle class="p" cx="5.5" cy="35.5" r="1"/><circle class="p" cx="-4.7" cy="35.2" r="1"/><circle class="p" cx="4.1" cy="26.5" r="1.6"/><circle class="p" cx="5.7" cy="31.8" r="1.1"/><circle class="p" cx="-6.1" cy="28.1" r="1.3"/><circle class="p" cx="5.2" cy="29" r="1.1"/><circle class="p" cx="-0" cy="25" r="1"/><circle class="p" cx="3.6" cy="29.2" r="0.9"/><circle class="p" cx="-7.9" cy="29.2" r="1.5"/><circle class="p" cx="2.7" cy="25.3" r="1.2"/><circle class="p" cx="-0.9" cy="34.1" r="1.2"/><circle class="p" cx="3.2" cy="25.8" r="1.6"/><circle class="p" cx="1.9" cy="25.4" r="1.3"/><circle class="p" cx="-7" cy="34.8" r="1.5"/><circle class="p" cx="3.5" cy="37.8" r="1.3"/><circle class="p" cx="-4.7" cy="36.3" r="1.1"/><circle class="p" cx="-2.1" cy="25.7" r="1.3"/><circle class="b" cx="5.4" cy="27.3" r="2.1"/><circle class="b" cx="-4.2" cy="33.3" r="2.3"/><circle class="b" cx="3.8" cy="32.4" r="1.9"/><circle class="b" cx="-1.6" cy="28" r="1.9"/><circle class="b" cx="-0" cy="33.2" r="2.2"/><circle class="b" cx="3.4" cy="26.4" r="2.2"/><circle class="b" cx="0.3" cy="26.3" r="2"/><circle class="b" cx="-1.7" cy="27.8" r="2.4"/><circle class="b" cx="5.4" cy="27.3" r="1.7"/><circle class="b" cx="2.7" cy="28.6" r="1.7"/><circle class="b" cx="-2.8" cy="27.6" r="1.8"/><circle class="b" cx="-3.7" cy="27.2" r="2.1"/><circle class="b" cx="-5.1" cy="29.7" r="2.4"/><circle class="b" cx="-1" cy="25" r="2.4"/><circle class="b" cx="-5.1" cy="30.9" r="1.7"/><circle class="b" cx="3.8" cy="32" r="2.3"/><circle class="b" cx="0.6" cy="35.9" r="1.9"/><circle class="b" cx="-4.4" cy="30.2" r="2.6"/><circle class="b" cx="1.9" cy="32.5" r="2.2"/><circle class="b" cx="-2.5" cy="32.7" r="1.7"/><circle class="b" cx="3.7" cy="28" r="2.2"/><circle class="b" cx="0.2" cy="35.8" r="1.7"/><circle class="b" cx="-0.3" cy="29.2" r="3"/><circle class="b" cx="-1.8" cy="33" r="2.9"/><circle class="b" cx="0.4" cy="29.5" r="2.7"/><circle class="b" cx="2.4" cy="29.8" r="2.5"/><circle class="c" cx="-0.8" cy="30.2" r="1.3"/></g><g transform="translate(474.5,536) scale(1.004)"><use href="#mb"/><circle class="s" cx="-1.5" cy="21.9" r="1.6"/><circle class="s" cx="-0.4" cy="18.8" r="1.7"/><circle class="s" cx="1" cy="28.9" r="2"/><circle class="s" cx="-0.6" cy="19.5" r="2.2"/><circle class="p" cx="3.5" cy="34" r="1.1"/><circle class="p" cx="-3.3" cy="32.9" r="1.5"/><circle class="p" cx="-2" cy="36.6" r="1.3"/><circle class="p" cx="3.8" cy="34.8" r="0.9"/><circle class="p" cx="-7" cy="29.2" r="1.5"/><circle class="p" cx="2.7" cy="30" r="1.2"/><circle class="p" cx="-2.6" cy="26.8" r="1.6"/><circle class="p" cx="-7.9" cy="31.3" r="0.9"/><circle class="p" cx="-5.4" cy="35.3" r="1.5"/><circle class="p" cx="-7.9" cy="31.2" r="1.4"/><circle class="p" cx="-6.1" cy="34.5" r="1.2"/><circle class="p" cx="6.1" cy="35.9" r="1.5"/><circle class="p" cx="3.2" cy="28.6" r="1.4"/><circle class="p" cx="5.8" cy="32.4" r="1"/><circle class="p" cx="-5.3" cy="30.8" r="1.2"/><circle class="p" cx="-6.8" cy="33.8" r="1.3"/><circle class="p" cx="-0.7" cy="34.5" r="1"/><circle class="p" cx="-2.6" cy="35.6" r="1.2"/><circle class="p" cx="0.8" cy="23.1" r="1"/><circle class="p" cx="-1.7" cy="36.5" r="0.8"/><circle class="p" cx="-1.1" cy="29.8" r="1.3"/><circle class="p" cx="-4.5" cy="28.4" r="1.6"/><circle class="b" cx="-0.3" cy="30.7" r="1.7"/><circle class="b" cx="0.3" cy="35.1" r="2.3"/><circle class="b" cx="-3.7" cy="34.5" r="1.8"/><circle class="b" cx="0.7" cy="34.5" r="2.1"/><circle class="b" cx="0.9" cy="26.8" r="2.5"/><circle class="b" cx="-3.6" cy="26.3" r="2.2"/><circle class="b" cx="1.2" cy="34.4" r="2.5"/><circle class="b" cx="3.7" cy="30.3" r="1.9"/><circle class="b" cx="-0.2" cy="35.3" r="2.2"/><circle class="b" cx="3.6" cy="33.8" r="2.5"/><circle class="b" cx="0.8" cy="30.3" r="2.2"/><circle class="b" cx="3.5" cy="27" r="2.1"/><circle class="b" cx="-4.1" cy="32.5" r="2.5"/><circle class="b" cx="-4.6" cy="27" r="2.1"/><circle class="b" cx="4.2" cy="26.5" r="2.1"/><circle class="b" cx="-1.1" cy="33.1" r="2.6"/><circle class="b" cx="-1.1" cy="28.8" r="2.1"/><circle class="b" cx="-4.5" cy="32" r="1.9"/><circle class="b" cx="3.7" cy="27.6" r="2.4"/><circle class="b" cx="-0.4" cy="35.6" r="2.1"/><circle class="b" cx="-4.1" cy="28.9" r="2.5"/><circle class="b" cx="-4.4" cy="28.3" r="2"/><circle class="b" cx="-2" cy="30.5" r="2.9"/><circle class="b" cx="-0.1" cy="31" r="2.9"/><circle class="b" cx="3.2" cy="30.5" r="2.6"/><circle class="b" cx="1.9" cy="28.9" r="2.8"/></g>
<rect x="488.6" y="536" width="82.4" height="52.2" fill="#323232"/><path d="M489.6,536v8.9M495.2,536v8.9M501.6,536v8.9M507.2,536v8.9M514.1,536v8.9M519.2,536v8.9M524.3,536v8.9M531,536v8.9M537.4,536v8.9M542.9,536v8.9M549.2,536v8.9M555,536v8.9M561,536v8.9M566.5,536v8.9" stroke="#1c1c1c" stroke-width="2"/><path d="M508.8,544.9v41.8M529.4,544.9v41.8M549.6,544.9v41.8" stroke="#262626" stroke-width="1.4"/><g transform="translate(498.4,536) scale(1.004)"><use href="#mb"/><circle class="s" cx="1.9" cy="36" r="1.3"/><circle class="s" cx="0.9" cy="28.7" r="2.1"/><circle class="s" cx="-0.3" cy="36.5" r="2.2"/><circle class="s" cx="-1.2" cy="24.6" r="2.3"/><circle class="p" cx="-5.4" cy="28.2" r="1.4"/><circle class="p" cx="-4.8" cy="27.5" r="1.3"/><circle class="p" cx="-0.4" cy="35.9" r="0.8"/><circle class="p" cx="-1.4" cy="23.9" r="1.4"/><circle class="p" cx="7.3" cy="29.8" r="0.9"/><circle class="p" cx="-3.5" cy="37.9" r="0.9"/><circle class="p" cx="5.5" cy="26" r="0.9"/><circle class="p" cx="1.8" cy="37.6" r="1.3"/><circle class="p" cx="6.1" cy="32.1" r="1"/><circle class="p" cx="3.9" cy="26.5" r="0.8"/><circle class="p" cx="-0.7" cy="31.5" r="1.5"/><circle class="p" cx="5.5" cy="26.6" r="0.8"/><circle class="p" cx="4" cy="29.4" r="1.3"/><circle class="p" cx="0.5" cy="25" r="0.9"/><circle class="p" cx="0.2" cy="37.8" r="0.9"/><circle class="p" cx="-5.9" cy="36.4" r="1.1"/><circle class="p" cx="3.9" cy="36.3" r="1.1"/><circle class="p" cx="1.3" cy="26.3" r="1.5"/><circle class="p" cx="1.6" cy="28" r="1.2"/><circle class="p" cx="-2.8" cy="31.9" r="1.5"/><circle class="p" cx="-3.6" cy="36.2" r="0.8"/><circle class="p" cx="8" cy="28.6" r="1.3"/><circle class="b" cx="3.6" cy="33.6" r="2.1"/><circle class="b" cx="-3" cy="30.5" r="1.8"/><circle class="b" cx="2.8" cy="26.1" r="2.3"/><circle class="b" cx="-0.3" cy="26.2" r="2.1"/><circle class="b" cx="-1.7" cy="34.6" r="2"/><circle class="b" cx="0.7" cy="26.8" r="2"/><circle class="b" cx="1.1" cy="30.6" r="1.8"/><circle class="b" cx="4.2" cy="30.4" r="2"/><circle class="b" cx="1" cy="29.2" r="2.6"/><circle class="b" cx="4.9" cy="33.1" r="2"/><circle class="b" cx="0.1" cy="34.7" r="2"/><circle class="b" cx="2.3" cy="30.2" r="2.3"/><circle class="b" cx="-1.2" cy="24.1" r="1.9"/><circle class="b" cx="0.5" cy="26.5" r="2.1"/><circle class="b" cx="-0.7" cy="33.8" r="2.5"/><circle class="b" cx="-0" cy="33.9" r="2.5"/><circle class="b" cx="-5.6" cy="31.6" r="2.1"/><circle class="b" cx="-3.2" cy="34.1" r="2.3"/><circle class="b" cx="-4.7" cy="34.1" r="1.7"/><circle class="b" cx="3.2" cy="25.9" r="2.3"/><circle class="b" cx="-5.5" cy="30.9" r="1.6"/><circle class="b" cx="-2.9" cy="25.1" r="2"/><circle class="b" cx="-0.2" cy="27.1" r="3"/><circle class="b" cx="0.4" cy="27.6" r="2.6"/><circle class="b" cx="-3.4" cy="29.6" r="2.7"/><circle class="b" cx="-3.5" cy="30.8" r="2.5"/></g><g transform="translate(519.2,536) scale(1.004)"><use href="#mb"/><circle class="s" cx="-1.9" cy="23.4" r="1.9"/><circle class="s" cx="1" cy="21.5" r="1.2"/><circle class="s" cx="-1" cy="37.1" r="2.3"/><circle class="s" cx="2.8" cy="32.1" r="1.9"/><circle class="p" cx="2.9" cy="29.3" r="0.9"/><circle class="p" cx="0.7" cy="30.1" r="1.2"/><circle class="p" cx="-6.7" cy="35.4" r="1.3"/><circle class="p" cx="0.3" cy="33" r="1.2"/><circle class="p" cx="-5.5" cy="29.2" r="1.3"/><circle class="p" cx="4.7" cy="32.8" r="1.5"/><circle class="p" cx="-0.9" cy="34.4" r="0.9"/><circle class="p" cx="7.3" cy="28.2" r="1.1"/><circle class="p" cx="-2.5" cy="35.3" r="1.5"/><circle class="p" cx="7" cy="26.8" r="1.5"/><circle class="p" cx="-1.2" cy="28.5" r="1.6"/><circle class="p" cx="3.6" cy="37" r="1.1"/><circle class="p" cx="6.7" cy="32.5" r="1"/><circle class="p" cx="2.8" cy="28.8" r="1.3"/><circle class="p" cx="-1.7" cy="31.7" r="1"/><circle class="p" cx="-2.7" cy="37.6" r="1.4"/><circle class="p" cx="3.2" cy="29.7" r="1"/><circle class="p" cx="-3.4" cy="34.2" r="1"/><circle class="p" cx="0" cy="30.4" r="1.2"/><circle class="p" cx="3.2" cy="34.3" r="1"/><circle class="p" cx="-8" cy="32.8" r="1.4"/><circle class="p" cx="-7.6" cy="34.4" r="1"/><circle class="b" cx="2" cy="34.4" r="2.4"/><circle class="b" cx="-0.8" cy="25.8" r="2.3"/><circle class="b" cx="-3.1" cy="35.1" r="2.3"/><circle class="b" cx="1.5" cy="25.8" r="2.5"/><circle class="b" cx="-6.2" cy="31.1" r="2"/><circle class="b" cx="3.5" cy="29" r="2.1"/><circle class="b" cx="-4.5" cy="28.4" r="2.4"/><circle class="b" cx="1.6" cy="27.9" r="2.3"/><circle class="b" cx="-4.1" cy="29.4" r="1.7"/><circle class="b" cx="5.4" cy="26.8" r="2.3"/><circle class="b" cx="-1.7" cy="29.3" r="1.9"/><circle class="b" cx="-0.9" cy="31.6" r="2"/><circle class="b" cx="-2.8" cy="32.9" r="1.7"/><circle class="b" cx="4.3" cy="34.3" r="2.2"/><circle class="b" cx="0.5" cy="34" r="2"/><circle class="b" cx="-2.7" cy="30.2" r="2.3"/><circle class="b" cx="4.7" cy="28.1" r="2.6"/><circle class="b" cx="1.9" cy="26" r="2.1"/><circle class="b" cx="-1.4" cy="26.6" r="1.7"/><circle class="b" cx="-5.6" cy="31.6" r="2.3"/><circle class="b" cx="5.7" cy="31.4" r="1.6"/><circle class="b" cx="-2.7" cy="29.7" r="1.9"/><circle class="b" cx="0.4" cy="32.7" r="3.2"/><circle class="b" cx="2.1" cy="28.3" r="2.6"/><circle class="b" cx="1.1" cy="30.2" r="2.6"/><circle class="b" cx="1" cy="31.7" r="2.7"/></g><g transform="translate(539.6,536) scale(1.004)"><use href="#mb"/><circle class="s" cx="-1.8" cy="26.5" r="2"/><circle class="s" cx="-4.2" cy="27" r="1.1"/><circle class="s" cx="-0.2" cy="38.1" r="1.7"/><circle class="s" cx="-2.6" cy="30.5" r="1.7"/><circle class="p" cx="-6.8" cy="31.1" r="1.4"/><circle class="p" cx="6.5" cy="26" r="1.6"/><circle class="p" cx="2.6" cy="24.9" r="1.4"/><circle class="p" cx="1.3" cy="34.3" r="1.5"/><circle class="p" cx="-1.1" cy="31.5" r="1.4"/><circle class="p" cx="3" cy="34.1" r="1.5"/><circle class="p" cx="2.9" cy="37.8" r="1"/><circle class="p" cx="1.4" cy="26.2" r="1.2"/><circle class="p" cx="-2.9" cy="24.8" r="1"/><circle class="p" cx="-1.6" cy="28.1" r="1"/><circle class="p" cx="0.6" cy="27.9" r="1.1"/><circle class="p" cx="4.9" cy="35" r="0.9"/><circle class="p" cx="-5.4" cy="37.1" r="1.2"/><circle class="p" cx="-1.5" cy="31" r="1"/><circle class="p" cx="5.3" cy="34.9" r="0.9"/><circle class="p" cx="1.4" cy="33.7" r="1.4"/><circle class="p" cx="-2.6" cy="27.5" r="1.1"/><circle class="p" cx="-1" cy="36.8" r="1.3"/><circle class="p" cx="2.2" cy="33.3" r="1.3"/><circle class="p" cx="-1.3" cy="37.4" r="0.9"/><circle class="p" cx="1.8" cy="32.2" r="1.5"/><circle class="p" cx="-1.2" cy="30.7" r="1.1"/><circle class="b" cx="-2.1" cy="27.9" r="2.4"/><circle class="b" cx="4.7" cy="30.1" r="2.2"/><circle class="b" cx="2.4" cy="35.5" r="2.1"/><circle class="b" cx="3.8" cy="33.8" r="1.6"/><circle class="b" cx="-2.5" cy="25" r="2.2"/><circle class="b" cx="1.6" cy="30.2" r="2.4"/><circle class="b" cx="1.9" cy="27.4" r="2.5"/><circle class="b" cx="0.8" cy="28.2" r="2.5"/><circle class="b" cx="3.7" cy="30.3" r="1.8"/><circle class="b" cx="1.1" cy="34.1" r="1.6"/><circle class="b" cx="2.9" cy="29.4" r="2.3"/><circle class="b" cx="-3.7" cy="34.6" r="2.2"/><circle class="b" cx="-5.7" cy="30.1" r="2.2"/><circle class="b" cx="-2.6" cy="30.8" r="2.4"/><circle class="b" cx="-3.1" cy="27" r="2.6"/><circle class="b" cx="-5.5" cy="31.1" r="1.8"/><circle class="b" cx="-3.3" cy="33.7" r="1.9"/><circle class="b" cx="6.5" cy="29.9" r="2.2"/><circle class="b" cx="-0.7" cy="26.9" r="2.4"/><circle class="b" cx="2.8" cy="26.9" r="2.2"/><circle class="b" cx="-1.8" cy="27.5" r="1.6"/><circle class="b" cx="1.9" cy="34" r="2.2"/><circle class="b" cx="1.3" cy="28.6" r="2.7"/><circle class="b" cx="-1.4" cy="30.7" r="2.8"/><circle class="b" cx="-3.3" cy="30.2" r="2.6"/><circle class="b" cx="1.3" cy="32.1" r="3"/><circle class="c" cx="1" cy="30.5" r="1.3"/></g><g transform="translate(559.6,536) scale(1.004)"><use href="#mb"/><circle class="s" cx="6" cy="38.8" r="1.8"/><circle class="s" cx="-5.3" cy="27.6" r="1.4"/><circle class="s" cx="-2.9" cy="16" r="1.9"/><circle class="s" cx="2" cy="21.1" r="1.3"/><circle class="p" cx="-0.8" cy="30.8" r="2"/><circle class="p" cx="-0.7" cy="29.8" r="1.1"/><circle class="p" cx="-0.7" cy="33.2" r="1.2"/><circle class="p" cx="0.6" cy="31.5" r="1.2"/><circle class="p" cx="-3.1" cy="36.7" r="1.2"/><circle class="p" cx="-3.6" cy="34.6" r="1.1"/><circle class="p" cx="-1.3" cy="32.5" r="1.4"/><circle class="p" cx="-2.5" cy="37" r="1.5"/><circle class="p" cx="-0.9" cy="35.4" r="1.3"/><circle class="p" cx="1.9" cy="35.1" r="1.8"/><circle class="p" cx="-1.6" cy="34.7" r="1"/><circle class="p" cx="0.9" cy="30.6" r="1.3"/><circle class="p" cx="3.6" cy="29.3" r="1.6"/><circle class="p" cx="5.1" cy="34.7" r="1.8"/><circle class="p" cx="3.4" cy="33.2" r="1.9"/><circle class="p" cx="-2.3" cy="33.2" r="2.1"/><circle class="p" cx="0.8" cy="34.8" r="1.8"/><circle class="p" cx="5.2" cy="32.6" r="1"/><circle class="p" cx="-0.7" cy="35.3" r="2.5"/><circle class="p" cx="1" cy="34.6" r="2.2"/><circle class="p" cx="2.3" cy="33.5" r="1.8"/><circle class="p" cx="-3.9" cy="34.9" r="2"/><circle class="p" cx="-2.1" cy="32.4" r="2.1"/><circle class="p" cx="0.7" cy="35.1" r="2.3"/></g>
<rect x="61.5" y="590.4" width="103.8" height="52.4" fill="#323232"/><path d="M62.5,590.4v8.9M68.8,590.4v8.9M75.1,590.4v8.9M82,590.4v8.9M88.7,590.4v8.9M95.1,590.4v8.9M100.9,590.4v8.9M105.9,590.4v8.9M112.9,590.4v8.9M118,590.4v8.9M123.1,590.4v8.9M129.3,590.4v8.9M136.3,590.4v8.9M142.2,590.4v8.9M147.6,590.4v8.9M152.6,590.4v8.9M157.9,590.4v8.9" stroke="#1c1c1c" stroke-width="2"/><path d="M82.2,599.3v41.9M102.8,599.3v41.9M123.2,599.3v41.9M143.7,599.3v41.9" stroke="#262626" stroke-width="1.4"/><g transform="translate(71.8,590.4) scale(1.008)"><use href="#mb"/><circle class="s" cx="-2" cy="21" r="2.1"/><circle class="s" cx="6.5" cy="39.4" r="1.3"/><circle class="s" cx="2.6" cy="18.3" r="1.6"/><circle class="s" cx="0" cy="22.2" r="2"/><circle class="p" cx="1.2" cy="32.3" r="1.3"/><circle class="p" cx="-1.3" cy="17.2" r="0.8"/><circle class="p" cx="2.4" cy="7.1" r="0.9"/><circle class="p" cx="-3.1" cy="9.5" r="1.4"/><circle class="p" cx="2.1" cy="24.8" r="0.8"/><circle class="p" cx="-1.5" cy="12.2" r="1.3"/><circle class="p" cx="2.9" cy="29.6" r="0.9"/><circle class="p" cx="-5" cy="24.1" r="1.5"/><circle class="p" cx="2.2" cy="31.6" r="0.7"/><circle class="p" cx="2.6" cy="30.5" r="0.8"/><circle class="p" cx="3.6" cy="8.9" r="0.9"/><circle class="p" cx="-1.5" cy="9.1" r="1.5"/><circle class="p" cx="-4.2" cy="20.2" r="1.4"/><circle class="p" cx="-0.7" cy="33.3" r="1"/><circle class="p" cx="-5.3" cy="27" r="1.3"/><circle class="p" cx="2.3" cy="30.4" r="1.5"/><circle class="p" cx="-4.2" cy="26.1" r="1.2"/><circle class="p" cx="-0.8" cy="11.4" r="1"/><circle class="p" cx="2.5" cy="29.9" r="1"/><circle class="p" cx="0.3" cy="17.1" r="1.3"/><circle class="b" cx="3.2" cy="39.7" r="2.4"/><circle class="b" cx="-1.3" cy="33.7" r="1.9"/><circle class="b" cx="1.7" cy="41.5" r="2.4"/><circle class="b" cx="0.6" cy="31.2" r="2.2"/><circle class="b" cx="-4.6" cy="33.3" r="2.5"/><circle class="b" cx="1.2" cy="27.6" r="2.6"/><circle class="b" cx="-4.3" cy="32.9" r="1.8"/><circle class="b" cx="0.2" cy="35.7" r="2"/><circle class="b" cx="-3.2" cy="29.5" r="1.9"/><circle class="b" cx="1.3" cy="32.9" r="2.5"/><circle class="b" cx="-4" cy="33.8" r="1.8"/><circle class="b" cx="0.7" cy="30.9" r="2.4"/><circle class="b" cx="3.4" cy="32.6" r="2.1"/><circle class="b" cx="-5.2" cy="33.6" r="2.2"/><circle class="b" cx="-0.5" cy="28.3" r="2"/><circle class="b" cx="-0.7" cy="38.5" r="2.1"/><circle class="b" cx="1.8" cy="33.5" r="1.8"/><circle class="b" cx="4.9" cy="34" r="2.6"/><circle class="b" cx="-2.4" cy="28.3" r="2.2"/><circle class="b" cx="-3.5" cy="31.2" r="2.4"/><circle class="b" cx="-0.3" cy="37.1" r="1.7"/><circle class="b" cx="0.3" cy="41.6" r="2.1"/><circle class="b" cx="-0.6" cy="23.4" r="1.9"/><circle class="b" cx="-2.8" cy="37.2" r="2"/><circle class="b" cx="-1" cy="30.8" r="2"/><circle class="b" cx="3.4" cy="36" r="2.2"/><circle class="b" cx="5.1" cy="25.5" r="2.5"/><circle class="b" cx="-3.3" cy="33" r="2.5"/><circle class="b" cx="2.9" cy="35.6" r="1.8"/><circle class="b" cx="2.2" cy="22.2" r="2.5"/><circle class="b" cx="1.4" cy="36.9" r="3.4"/><circle class="b" cx="-2.6" cy="29.7" r="3.4"/><circle class="b" cx="-3.8" cy="32.2" r="3.5"/><circle class="b" cx="-2" cy="34.8" r="3.1"/><circle class="b" cx="3" cy="27.2" r="3.1"/><circle class="c" cx="-4" cy="22" r="2.5"/><circle class="g" cx="-4" cy="22" r="2.1"/><circle class="y" cx="-4" cy="22" r="1.6"/><circle class="o" cx="-4" cy="22" r="1.1"/><circle class="r" cx="-4" cy="22" r="0.7"/><circle class="c" cx="2" cy="34" r="2.2"/><circle class="g" cx="2" cy="34" r="1.8"/><circle class="y" cx="2" cy="34" r="1.4"/></g><g transform="translate(92.5,590.4) scale(1.008)"><use href="#mb"/><circle class="s" cx="-1.7" cy="22.2" r="1.9"/><circle class="s" cx="2.1" cy="30.1" r="1.7"/><circle class="s" cx="2.2" cy="14.2" r="1.6"/><circle class="s" cx="2.5" cy="33" r="2.1"/><circle class="p" cx="1" cy="33.3" r="1.5"/><circle class="p" cx="-4.6" cy="11.3" r="0.9"/><circle class="p" cx="1.2" cy="26" r="1.1"/><circle class="p" cx="3.2" cy="14.9" r="1.4"/><circle class="p" cx="0.7" cy="17.4" r="0.7"/><circle class="p" cx="4.9" cy="19.9" r="1.3"/><circle class="p" cx="2.5" cy="14.1" r="0.7"/><circle class="p" cx="4.5" cy="10" r="1"/><circle class="p" cx="-0.4" cy="18.7" r="1.5"/><circle class="p" cx="-5.3" cy="11.1" r="1.3"/><circle class="p" cx="-1.9" cy="24.6" r="1.1"/><circle class="p" cx="3.4" cy="12.3" r="1.1"/><circle class="p" cx="0.5" cy="25.3" r="0.9"/><circle class="p" cx="-1.6" cy="29.1" r="1.5"/><circle class="p" cx="-0.5" cy="26.6" r="1.3"/><circle class="p" cx="3.1" cy="17.4" r="0.9"/><circle class="p" cx="-1.5" cy="21.8" r="0.8"/><circle class="p" cx="-3.3" cy="17.8" r="0.9"/><circle class="p" cx="1.7" cy="10.9" r="1.2"/><circle class="p" cx="-3.4" cy="10" r="1.4"/><circle class="b" cx="2.1" cy="30.3" r="2.4"/><circle class="b" cx="2.2" cy="31.6" r="1.9"/><circle class="b" cx="1.7" cy="34.1" r="1.9"/><circle class="b" cx="2.2" cy="22" r="2.2"/><circle class="b" cx="-5.3" cy="28.1" r="2.2"/><circle class="b" cx="3.9" cy="34.5" r="1.9"/><circle class="b" cx="-6.3" cy="33" r="1.9"/><circle class="b" cx="-2.2" cy="38.5" r="2.3"/><circle class="b" cx="-1.4" cy="37.5" r="2.1"/><circle class="b" cx="1.3" cy="30" r="2.5"/><circle class="b" cx="-5.8" cy="27.3" r="2.1"/><circle class="b" cx="-0.6" cy="29.6" r="1.9"/><circle class="b" cx="-2.2" cy="25.9" r="2.2"/><circle class="b" cx="4.8" cy="30.1" r="2.3"/><circle class="b" cx="-3" cy="28.8" r="2.6"/><circle class="b" cx="-0.7" cy="32.2" r="2.1"/><circle class="b" cx="-2.5" cy="33.6" r="2.1"/><circle class="b" cx="5.7" cy="35.7" r="2.2"/><circle class="b" cx="-1.1" cy="38.9" r="2.2"/><circle class="b" cx="-4.5" cy="37.3" r="2.1"/><circle class="b" cx="5" cy="26.5" r="2.3"/><circle class="b" cx="2.8" cy="38.9" r="2.6"/><circle class="b" cx="0.5" cy="28.9" r="2"/><circle class="b" cx="5.3" cy="31.1" r="2.5"/><circle class="b" cx="-2.1" cy="22.7" r="2.2"/><circle class="b" cx="-0.6" cy="22.9" r="2.4"/><circle class="b" cx="2.5" cy="37.3" r="2.3"/><circle class="b" cx="4.4" cy="34.4" r="2.5"/><circle class="b" cx="4.7" cy="35.9" r="2.3"/><circle class="b" cx="4.9" cy="24.1" r="2.3"/><circle class="b" cx="-2.3" cy="28.2" r="3.2"/><circle class="b" cx="-1.9" cy="28.6" r="3.4"/><circle class="b" cx="-2.5" cy="29.7" r="3.2"/><circle class="b" cx="-0.9" cy="24.8" r="3.5"/><circle class="b" cx="-0.5" cy="27.7" r="2.8"/><circle class="c" cx="1" cy="24" r="3.2"/><circle class="g" cx="1" cy="24" r="2.6"/><circle class="y" cx="1" cy="24" r="2"/><circle class="o" cx="1" cy="24" r="1.5"/><circle class="r" cx="1" cy="24" r="0.9"/></g><g transform="translate(113,590.4) scale(1.008)"><use href="#mb"/><circle class="s" cx="-4.9" cy="16.2" r="1.7"/><circle class="s" cx="-5.5" cy="26.3" r="2"/><circle class="s" cx="-0.8" cy="36.7" r="1.5"/><circle class="s" cx="-0.2" cy="20.9" r="1.2"/><circle class="p" cx="-2.2" cy="12.3" r="0.8"/><circle class="p" cx="-1.5" cy="22.3" r="1.5"/><circle class="p" cx="0.7" cy="18.8" r="1.5"/><circle class="p" cx="-5.5" cy="9.7" r="1.5"/><circle class="p" cx="-1.9" cy="9.8" r="1.5"/><circle class="p" cx="0.3" cy="13.7" r="1.5"/><circle class="p" cx="-2" cy="10.1" r="1.1"/><circle class="p" cx="-2" cy="22.3" r="1"/><circle class="p" cx="5.7" cy="18.8" r="1"/><circle class="p" cx="2.7" cy="21.4" r="0.8"/><circle class="p" cx="-3.7" cy="9.9" r="0.8"/><circle class="p" cx="5.6" cy="11.7" r="0.7"/><circle class="p" cx="4.5" cy="9.3" r="1.4"/><circle class="p" cx="0.4" cy="9.9" r="1"/><circle class="b" cx="2.9" cy="39.9" r="2.7"/><circle class="b" cx="-5" cy="22.5" r="2.8"/><circle class="b" cx="-4.5" cy="26.7" r="2"/><circle class="b" cx="2.4" cy="27.5" r="1.9"/><circle class="b" cx="0.7" cy="26" r="1.9"/><circle class="b" cx="-3.3" cy="26.7" r="2.1"/><circle class="b" cx="5.5" cy="29.9" r="1.8"/><circle class="b" cx="-0.5" cy="32.6" r="2.5"/><circle class="b" cx="1" cy="38.9" r="1.7"/><circle class="b" cx="-3.6" cy="24.5" r="2.7"/><circle class="b" cx="1.3" cy="35.7" r="2.7"/><circle class="b" cx="4.4" cy="31.9" r="2.2"/><circle class="b" cx="-0.7" cy="33.9" r="2.2"/><circle class="b" cx="0.7" cy="28.3" r="2"/><circle class="b" cx="-2.5" cy="33.3" r="2.5"/><circle class="b" cx="-4.6" cy="33.9" r="2.3"/><circle class="b" cx="-1.6" cy="14" r="2.3"/><circle class="b" cx="-1.7" cy="17.5" r="1.8"/><circle class="b" cx="2.5" cy="18.6" r="1.7"/><circle class="b" cx="-0.2" cy="17.4" r="2.7"/><circle class="b" cx="-4" cy="33.1" r="2.7"/><circle class="b" cx="5.4" cy="22.3" r="2.2"/><circle class="b" cx="-5.3" cy="33.4" r="2.7"/><circle class="b" cx="-5.5" cy="31.3" r="2.3"/><circle class="b" cx="-3" cy="25.8" r="2"/><circle class="b" cx="-0.2" cy="42.9" r="1.7"/><circle class="b" cx="0.6" cy="34.6" r="2.6"/><circle class="b" cx="-1.8" cy="20.7" r="1.8"/><circle class="b" cx="-2.7" cy="16.5" r="2.4"/><circle class="b" cx="-1.2" cy="16.7" r="1.7"/><circle class="b" cx="1.8" cy="14.6" r="1.9"/><circle class="b" cx="-5" cy="38" r="2.8"/><circle class="b" cx="2.5" cy="15.4" r="1.9"/><circle class="b" cx="4.4" cy="18.4" r="1.9"/><circle class="b" cx="5.2" cy="20.9" r="2.7"/><circle class="b" cx="1.7" cy="25.3" r="1.9"/><circle class="b" cx="0.6" cy="24.1" r="3.2"/><circle class="b" cx="0.9" cy="19.2" r="3.3"/><circle class="b" cx="-2.8" cy="32.3" r="4"/><circle class="b" cx="-1.6" cy="23.8" r="3.1"/><circle class="b" cx="1.2" cy="35.2" r="3.7"/><circle class="c" cx="1" cy="10" r="5"/><circle class="g" cx="1" cy="10" r="4.1"/><circle class="y" cx="1" cy="10" r="3.2"/><circle class="o" cx="1" cy="10" r="2.3"/><circle class="r" cx="1" cy="10" r="1.4"/></g><g transform="translate(133.5,590.4) scale(1.008)"><use href="#mb"/><circle class="s" cx="-3.6" cy="33.3" r="1.8"/><circle class="s" cx="0.9" cy="27.7" r="1.5"/><circle class="s" cx="-6.3" cy="28" r="1.9"/><circle class="s" cx="5" cy="39.3" r="1.8"/><circle class="p" cx="4" cy="36.5" r="1.1"/><circle class="p" cx="7.6" cy="20.5" r="0.9"/><circle class="p" cx="1.7" cy="25.1" r="1.3"/><circle class="p" cx="-6.3" cy="24.6" r="1.1"/><circle class="p" cx="-2.1" cy="21.3" r="1"/><circle class="p" cx="-0.4" cy="16.4" r="0.9"/><circle class="p" cx="-4.7" cy="11.2" r="1.5"/><circle class="p" cx="5" cy="14.9" r="0.8"/><circle class="p" cx="3.4" cy="34.1" r="1.2"/><circle class="p" cx="0.7" cy="21.6" r="1.3"/><circle class="p" cx="6.3" cy="30.1" r="0.9"/><circle class="p" cx="-7" cy="25.2" r="1.6"/><circle class="p" cx="2" cy="10.5" r="1"/><circle class="p" cx="-3.8" cy="15" r="1.2"/><circle class="p" cx="-4.4" cy="18" r="1.1"/><circle class="p" cx="0.5" cy="11.2" r="1.6"/><circle class="p" cx="6.4" cy="17.7" r="0.9"/><circle class="p" cx="-5.6" cy="23.8" r="1.4"/><circle class="p" cx="3" cy="20.2" r="0.8"/><circle class="p" cx="5.4" cy="12.5" r="1.1"/><circle class="p" cx="-4" cy="18.1" r="1.1"/><circle class="p" cx="-4.3" cy="13.9" r="1.5"/><circle class="p" cx="-3.7" cy="32.4" r="1.2"/><circle class="p" cx="5.7" cy="23" r="1.5"/><circle class="p" cx="1.3" cy="23.5" r="1.4"/><circle class="p" cx="4.3" cy="31.3" r="1.3"/><circle class="b" cx="4.7" cy="34.6" r="2.5"/><circle class="b" cx="-3" cy="37" r="2.2"/><circle class="b" cx="2" cy="35.1" r="2.7"/><circle class="b" cx="-3.4" cy="25.4" r="2.6"/><circle class="b" cx="3.1" cy="23.6" r="2.2"/><circle class="b" cx="-3.8" cy="29.6" r="1.9"/><circle class="b" cx="1.8" cy="29.7" r="2.2"/><circle class="b" cx="2.3" cy="26.5" r="2.7"/><circle class="b" cx="2.7" cy="31.5" r="2.2"/><circle class="b" cx="-4.1" cy="24.3" r="2.7"/><circle class="b" cx="1.3" cy="27.1" r="2.8"/><circle class="b" cx="4.6" cy="33" r="2.1"/><circle class="b" cx="3.1" cy="31.7" r="2.8"/><circle class="b" cx="4" cy="29.9" r="2.8"/><circle class="b" cx="-0.1" cy="29.2" r="2.4"/><circle class="b" cx="1" cy="36.1" r="2.5"/><circle class="b" cx="1.1" cy="36.7" r="1.8"/><circle class="b" cx="-1.7" cy="36" r="1.9"/><circle class="b" cx="3.7" cy="34.7" r="1.9"/><circle class="b" cx="3.3" cy="29" r="2.2"/><circle class="b" cx="5.8" cy="34.5" r="2"/><circle class="b" cx="3.8" cy="33.8" r="2.7"/><circle class="b" cx="4.2" cy="27.6" r="2.4"/><circle class="b" cx="6" cy="35.2" r="2.6"/><circle class="b" cx="0.2" cy="40.2" r="2"/><circle class="b" cx="-3.7" cy="31.6" r="2.4"/><circle class="c" cx="0" cy="28" r="2.5"/><circle class="g" cx="0" cy="28" r="2.1"/></g><g transform="translate(153.8,590.4) scale(1.008)"><use href="#mb"/><circle class="s" cx="-3.2" cy="28.1" r="1.3"/><circle class="s" cx="-6.3" cy="16.9" r="2"/><circle class="s" cx="-0.7" cy="27.3" r="1.9"/><circle class="s" cx="-3.2" cy="18.9" r="1.5"/><circle class="p" cx="0.1" cy="8" r="1.1"/><circle class="p" cx="-2.8" cy="15.6" r="1.5"/><circle class="p" cx="-4" cy="10.3" r="1"/><circle class="p" cx="-5.2" cy="14.4" r="1.1"/><circle class="p" cx="0.2" cy="12.7" r="1.3"/><circle class="p" cx="-2.1" cy="29.1" r="0.8"/><circle class="p" cx="-5.4" cy="27.5" r="0.7"/><circle class="p" cx="2" cy="29.5" r="1.2"/><circle class="p" cx="-2.2" cy="9.3" r="1.3"/><circle class="p" cx="-2.2" cy="16.7" r="1.1"/><circle class="p" cx="-0.1" cy="21" r="1.1"/><circle class="p" cx="4.7" cy="18.5" r="1.3"/><circle class="p" cx="-1" cy="18.1" r="1.1"/><circle class="p" cx="5.6" cy="19.2" r="0.9"/><circle class="p" cx="4.7" cy="13.6" r="1.4"/><circle class="p" cx="3.1" cy="11.3" r="1.1"/><circle class="p" cx="-3.9" cy="18.5" r="1.4"/><circle class="p" cx="4.8" cy="30" r="1"/><circle class="p" cx="-5.1" cy="24" r="0.9"/><circle class="p" cx="-1.3" cy="17.9" r="1.4"/><circle class="b" cx="4.8" cy="37.3" r="2.5"/><circle class="b" cx="1.3" cy="21.7" r="1.9"/><circle class="b" cx="-1.5" cy="29.9" r="2.4"/><circle class="b" cx="0.7" cy="26.1" r="2.1"/><circle class="b" cx="4.5" cy="35.9" r="2.3"/><circle class="b" cx="4.7" cy="34.2" r="2.5"/><circle class="b" cx="2.7" cy="40.4" r="1.9"/><circle class="b" cx="1.9" cy="31.3" r="2.4"/><circle class="b" cx="2.1" cy="40.5" r="2.1"/><circle class="b" cx="5.1" cy="35.9" r="2"/><circle class="b" cx="0.3" cy="31.5" r="2"/><circle class="b" cx="-4.4" cy="32.9" r="2.2"/><circle class="b" cx="0.3" cy="31.3" r="2.5"/><circle class="b" cx="-4.9" cy="35.3" r="2.5"/><circle class="b" cx="-4.6" cy="25.7" r="1.9"/><circle class="b" cx="1.1" cy="38.7" r="2.6"/><circle class="b" cx="3.1" cy="30" r="2.3"/><circle class="b" cx="-1" cy="37.4" r="2"/><circle class="b" cx="4" cy="30.8" r="2.1"/><circle class="b" cx="5.1" cy="36.2" r="1.8"/><circle class="b" cx="1.5" cy="26.3" r="1.9"/><circle class="b" cx="3.7" cy="32.7" r="2.6"/><circle class="b" cx="-2.4" cy="35.8" r="2.4"/><circle class="b" cx="0.7" cy="40.5" r="2.6"/><circle class="b" cx="0.8" cy="29.3" r="2.4"/><circle class="b" cx="1.4" cy="21.5" r="2.2"/><circle class="b" cx="4.2" cy="36.6" r="2.2"/><circle class="b" cx="-5.7" cy="31.9" r="1.9"/><circle class="b" cx="-3.7" cy="37.2" r="2.5"/><circle class="b" cx="6.1" cy="30.4" r="1.9"/><circle class="b" cx="-2.6" cy="33.4" r="3.2"/><circle class="b" cx="2.1" cy="33" r="3.5"/><circle class="b" cx="-2.7" cy="35.6" r="3.5"/><circle class="b" cx="-3.8" cy="30.4" r="3.6"/><circle class="b" cx="3.1" cy="31.3" r="3.6"/><circle class="c" cx="2" cy="26" r="2.2"/><circle class="g" cx="2" cy="26" r="1.8"/><circle class="y" cx="2" cy="26" r="1.4"/><circle class="c" cx="2" cy="34" r="2"/><circle class="g" cx="2" cy="34" r="1.6"/><circle class="y" cx="2" cy="34" r="1.3"/></g>
<rect x="168.8" y="590.4" width="103.6" height="52.4" fill="#323232"/><path d="M169.8,590.4v8.9M175.4,590.4v8.9M181.1,590.4v8.9M186.4,590.4v8.9M193.2,590.4v8.9M199.3,590.4v8.9M205.5,590.4v8.9M211.7,590.4v8.9M218.5,590.4v8.9M224.5,590.4v8.9M230.6,590.4v8.9M236.5,590.4v8.9M242.2,590.4v8.9M249.2,590.4v8.9M255.4,590.4v8.9M261.4,590.4v8.9M266.6,590.4v8.9" stroke="#1c1c1c" stroke-width="2"/><path d="M189.5,599.3v41.9M210.1,599.3v41.9M230.6,599.3v41.9M251,599.3v41.9" stroke="#262626" stroke-width="1.4"/><g transform="translate(179.1,590.4) scale(1.008)"><use href="#mb"/><circle class="s" cx="-5.9" cy="26.3" r="1.3"/><circle class="s" cx="-1.4" cy="19.8" r="1.3"/><circle class="s" cx="-0.8" cy="17.1" r="1.3"/><circle class="s" cx="2.9" cy="16.6" r="2.1"/><circle class="p" cx="-3.3" cy="32.9" r="1.4"/><circle class="p" cx="-3.7" cy="34.4" r="0.8"/><circle class="p" cx="3.6" cy="38" r="1.2"/><circle class="p" cx="-6" cy="33.4" r="0.9"/><circle class="p" cx="4.6" cy="37" r="1.3"/><circle class="p" cx="-3.3" cy="37.7" r="1"/><circle class="p" cx="-7.1" cy="33.3" r="1.5"/><circle class="p" cx="-1.6" cy="38.8" r="1"/><circle class="p" cx="-0.6" cy="36.7" r="1.2"/><circle class="p" cx="-5.6" cy="29.6" r="1.4"/><circle class="p" cx="-0.1" cy="36.3" r="1.3"/><circle class="p" cx="3.3" cy="28.4" r="1.1"/><circle class="p" cx="-4.3" cy="31.8" r="1.2"/><circle class="p" cx="3.8" cy="29.6" r="1.5"/><circle class="p" cx="4.6" cy="27.4" r="1.1"/><circle class="p" cx="4.6" cy="35" r="1.5"/><circle class="p" cx="-3.2" cy="33.7" r="1.5"/><circle class="p" cx="3.5" cy="36" r="1.4"/><circle class="p" cx="-4.6" cy="30.7" r="1.3"/><circle class="p" cx="-3.6" cy="36.6" r="1.4"/><circle class="p" cx="2.4" cy="24.3" r="0.9"/><circle class="p" cx="-0.9" cy="37.5" r="1.3"/><circle class="b" cx="3.4" cy="27.5" r="1.7"/><circle class="b" cx="1.3" cy="30.6" r="2.1"/><circle class="b" cx="-0.6" cy="31" r="2.5"/><circle class="b" cx="3.5" cy="31.4" r="2.4"/><circle class="b" cx="-1.2" cy="27.4" r="2.6"/><circle class="b" cx="-5.6" cy="31.8" r="2"/><circle class="b" cx="-3.8" cy="25.3" r="1.7"/><circle class="b" cx="-4.6" cy="28.1" r="2.6"/><circle class="b" cx="-2.7" cy="28.2" r="1.7"/><circle class="b" cx="-2.5" cy="29.2" r="2"/><circle class="b" cx="2.7" cy="29.3" r="1.8"/><circle class="b" cx="-2.2" cy="26.3" r="2.5"/><circle class="b" cx="-2.6" cy="34.6" r="2"/><circle class="b" cx="6.2" cy="29.8" r="1.8"/><circle class="b" cx="-3.1" cy="33" r="2.1"/><circle class="b" cx="-4.5" cy="27.3" r="1.7"/><circle class="b" cx="-3.5" cy="25.6" r="2"/><circle class="b" cx="-0.4" cy="33" r="2.2"/><circle class="b" cx="2.2" cy="31.9" r="1.9"/><circle class="b" cx="-2.1" cy="25.2" r="2.1"/><circle class="b" cx="2.3" cy="32.9" r="1.7"/><circle class="b" cx="4.4" cy="29.9" r="2.4"/><circle class="b" cx="0.1" cy="31.8" r="2.6"/><circle class="b" cx="-2.5" cy="31.9" r="3.1"/><circle class="b" cx="-0.6" cy="31.1" r="2.8"/><circle class="b" cx="0.2" cy="28.5" r="3.5"/></g><g transform="translate(199.8,590.4) scale(1.008)"><use href="#mb"/><circle class="s" cx="-4.3" cy="14.1" r="2.1"/><circle class="s" cx="-5.9" cy="31.4" r="1.7"/><circle class="s" cx="-1.1" cy="29.1" r="1"/><circle class="s" cx="3.3" cy="35.9" r="1"/><circle class="p" cx="1.8" cy="30.3" r="1.9"/><circle class="p" cx="7" cy="28.4" r="1.2"/><circle class="p" cx="1.4" cy="29" r="1.1"/><circle class="p" cx="-1.8" cy="32.6" r="1.8"/><circle class="p" cx="2.6" cy="31.3" r="1.6"/><circle class="p" cx="1.8" cy="29.6" r="1.2"/><circle class="p" cx="0.7" cy="29.5" r="2.1"/><circle class="p" cx="5.1" cy="28.2" r="1.5"/><circle class="p" cx="-4.2" cy="27.3" r="1.5"/><circle class="p" cx="6.2" cy="26.6" r="1.3"/><circle class="p" cx="-4.2" cy="26.6" r="1.3"/><circle class="p" cx="5.3" cy="28.5" r="1.7"/><circle class="p" cx="4.1" cy="30.3" r="1.7"/><circle class="p" cx="2.7" cy="32.9" r="1.4"/><circle class="p" cx="-3.8" cy="27.1" r="1.3"/><circle class="p" cx="-0.5" cy="25" r="1.9"/><circle class="p" cx="-0.4" cy="31.1" r="1.6"/><circle class="p" cx="-2.9" cy="29.7" r="1.6"/><circle class="p" cx="1.9" cy="29.8" r="1.6"/><circle class="p" cx="-1" cy="28.5" r="2.4"/><circle class="p" cx="1.5" cy="30.6" r="2.3"/><circle class="p" cx="0.5" cy="29.5" r="1.7"/><circle class="p" cx="0.1" cy="27" r="2.4"/><circle class="p" cx="2" cy="30.1" r="2"/></g><g transform="translate(220.3,590.4) scale(1.008)"><use href="#mb"/><circle class="s" cx="-2.2" cy="21.7" r="1.1"/><circle class="s" cx="0.1" cy="33.5" r="1.5"/><circle class="s" cx="6.3" cy="30.2" r="1.5"/><circle class="s" cx="-1.7" cy="21.2" r="1.1"/><circle class="p" cx="-6.1" cy="32" r="1.4"/><circle class="p" cx="1.3" cy="31.7" r="1.5"/><circle class="p" cx="-4.6" cy="36.2" r="1.5"/><circle class="p" cx="-0.7" cy="34.3" r="1.4"/><circle class="p" cx="-2" cy="36.4" r="0.8"/><circle class="p" cx="-4.9" cy="28.4" r="1"/><circle class="p" cx="2.9" cy="38.2" r="1.5"/><circle class="p" cx="-1.8" cy="35.2" r="1.1"/><circle class="p" cx="-3" cy="35.1" r="1.6"/><circle class="p" cx="5.1" cy="31.5" r="1.2"/><circle class="p" cx="-3.8" cy="28" r="1.4"/><circle class="p" cx="-3" cy="32.3" r="1.5"/><circle class="p" cx="1.9" cy="37.5" r="1.5"/><circle class="p" cx="3.6" cy="37.1" r="1.4"/><circle class="p" cx="-4.6" cy="37.3" r="0.9"/><circle class="p" cx="-8.4" cy="30.1" r="1.2"/><circle class="p" cx="3.8" cy="27.4" r="1.3"/><circle class="p" cx="-7.1" cy="31.6" r="1.4"/><circle class="p" cx="-1.5" cy="24.2" r="1"/><circle class="p" cx="-4.3" cy="25.2" r="1.4"/><circle class="p" cx="2.8" cy="36.3" r="0.8"/><circle class="p" cx="6.7" cy="29.8" r="1"/><circle class="b" cx="-2.9" cy="28" r="2.2"/><circle class="b" cx="1.4" cy="24.6" r="2.6"/><circle class="b" cx="-2.6" cy="26.3" r="2.1"/><circle class="b" cx="0.7" cy="30.9" r="2.5"/><circle class="b" cx="5.8" cy="29.1" r="1.8"/><circle class="b" cx="-2" cy="28.1" r="1.9"/><circle class="b" cx="1.6" cy="24.4" r="1.6"/><circle class="b" cx="1" cy="25" r="2.3"/><circle class="b" cx="2.3" cy="32.8" r="2.3"/><circle class="b" cx="0.8" cy="32.4" r="2.1"/><circle class="b" cx="1.6" cy="32.7" r="1.8"/><circle class="b" cx="0.5" cy="31.9" r="2"/><circle class="b" cx="-1.3" cy="31.9" r="1.8"/><circle class="b" cx="-1.4" cy="30.9" r="1.9"/><circle class="b" cx="5.4" cy="31.4" r="1.7"/><circle class="b" cx="-2.4" cy="30.4" r="2.3"/><circle class="b" cx="5.4" cy="29.2" r="1.7"/><circle class="b" cx="0.9" cy="32.3" r="2.5"/><circle class="b" cx="4.9" cy="32.6" r="2.4"/><circle class="b" cx="2.1" cy="26.6" r="2"/><circle class="b" cx="-3.1" cy="33.9" r="2.1"/><circle class="b" cx="-1.2" cy="26.2" r="2.4"/><circle class="b" cx="-1.7" cy="28.9" r="2.9"/><circle class="b" cx="0.4" cy="33.3" r="2.5"/><circle class="b" cx="-2.1" cy="31.3" r="3.1"/><circle class="b" cx="2.6" cy="31.7" r="2.6"/><circle class="c" cx="-1.1" cy="26.6" r="1.3"/></g><g transform="translate(240.8,590.4) scale(1.008)"><use href="#mb"/><circle class="s" cx="6.5" cy="15.6" r="2.2"/><circle class="s" cx="2.4" cy="38.2" r="1.8"/><circle class="s" cx="0.6" cy="25.6" r="1.7"/><circle class="s" cx="-2.2" cy="18.6" r="1.8"/><circle class="p" cx="2.3" cy="23.4" r="1.5"/><circle class="p" cx="-3" cy="28.8" r="1.2"/><circle class="p" cx="4.1" cy="37.3" r="1.4"/><circle class="p" cx="-3.4" cy="34.2" r="1.5"/><circle class="p" cx="-2.2" cy="31.9" r="1.3"/><circle class="p" cx="-2.6" cy="32.3" r="1.5"/><circle class="p" cx="0.9" cy="34.4" r="1.2"/><circle class="p" cx="0" cy="35.6" r="1.2"/><circle class="p" cx="5.9" cy="28.4" r="1.1"/><circle class="p" cx="4" cy="24.3" r="1.5"/><circle class="p" cx="7.5" cy="32.1" r="1.4"/><circle class="p" cx="-1.7" cy="24.4" r="1.3"/><circle class="p" cx="2.2" cy="38.4" r="1.4"/><circle class="p" cx="0.4" cy="36.8" r="1"/><circle class="p" cx="0.6" cy="37.3" r="0.9"/><circle class="p" cx="6.7" cy="31.3" r="1.3"/><circle class="p" cx="1.2" cy="30.3" r="1"/><circle class="p" cx="5.9" cy="36.2" r="1.4"/><circle class="p" cx="3.4" cy="35.5" r="1.4"/><circle class="p" cx="-4.3" cy="27.2" r="1.2"/><circle class="p" cx="0.5" cy="32.9" r="0.9"/><circle class="p" cx="-3.2" cy="30.8" r="1.5"/><circle class="b" cx="-0.2" cy="30.7" r="2.2"/><circle class="b" cx="-2.9" cy="25.6" r="2"/><circle class="b" cx="4.6" cy="27.5" r="2.5"/><circle class="b" cx="0.9" cy="27" r="2"/><circle class="b" cx="1.4" cy="34.6" r="2"/><circle class="b" cx="-3.8" cy="30.9" r="1.8"/><circle class="b" cx="-4.7" cy="27.3" r="1.9"/><circle class="b" cx="3.5" cy="33.4" r="2.2"/><circle class="b" cx="-5.6" cy="28.4" r="2.5"/><circle class="b" cx="0.4" cy="25.4" r="2.5"/><circle class="b" cx="-4.3" cy="28.3" r="1.8"/><circle class="b" cx="-1.7" cy="33.3" r="1.9"/><circle class="b" cx="-0.4" cy="32.5" r="1.7"/><circle class="b" cx="-4" cy="28.6" r="2.4"/><circle class="b" cx="-1" cy="24.3" r="2.5"/><circle class="b" cx="4.1" cy="33.1" r="2.5"/><circle class="b" cx="2.1" cy="31.1" r="1.6"/><circle class="b" cx="2.7" cy="35.3" r="2.5"/><circle class="b" cx="0.3" cy="30.3" r="1.7"/><circle class="b" cx="2.4" cy="27.4" r="2.2"/><circle class="b" cx="-2.7" cy="33" r="2.2"/><circle class="b" cx="1.5" cy="29.4" r="2"/><circle class="b" cx="-0.8" cy="27" r="3.1"/><circle class="b" cx="-0.1" cy="30.6" r="2.7"/><circle class="b" cx="-3.5" cy="28.8" r="3.1"/><circle class="b" cx="-2" cy="28.8" r="3.3"/></g><g transform="translate(261.1,590.4) scale(1.008)"><use href="#mb"/><circle class="s" cx="-0.3" cy="30.7" r="1.7"/><circle class="s" cx="-3.2" cy="37.6" r="1.1"/><circle class="s" cx="-1" cy="38" r="1.7"/><circle class="s" cx="-1.4" cy="19.4" r="1.5"/><circle class="p" cx="-0.1" cy="24.4" r="1.3"/><circle class="p" cx="4.9" cy="29.5" r="1"/><circle class="p" cx="-5.9" cy="25.7" r="1.4"/><circle class="p" cx="4.8" cy="25.3" r="0.8"/><circle class="p" cx="-2.7" cy="28" r="1.3"/><circle class="p" cx="1.8" cy="24" r="1"/><circle class="p" cx="-2.3" cy="33.3" r="1.5"/><circle class="p" cx="-1.8" cy="25.3" r="1.2"/><circle class="p" cx="-0.5" cy="25.6" r="0.9"/><circle class="p" cx="7.2" cy="29" r="1.2"/><circle class="p" cx="-3.6" cy="29.6" r="1"/><circle class="p" cx="6.5" cy="33.2" r="1.5"/><circle class="p" cx="-0.3" cy="34.5" r="1.1"/><circle class="p" cx="-1.6" cy="37.8" r="1"/><circle class="p" cx="-0.3" cy="36.1" r="1.5"/><circle class="p" cx="-0.7" cy="28.3" r="0.9"/><circle class="p" cx="6.6" cy="33.1" r="1.3"/><circle class="p" cx="2.3" cy="34.7" r="1.5"/><circle class="p" cx="6.9" cy="33.1" r="1.5"/><circle class="p" cx="-2.7" cy="27.3" r="1.4"/><circle class="p" cx="5.6" cy="28.2" r="1.3"/><circle class="p" cx="-6.6" cy="26.4" r="1.6"/><circle class="b" cx="-2.3" cy="26.4" r="1.7"/><circle class="b" cx="-4.2" cy="30.3" r="2.3"/><circle class="b" cx="-3.2" cy="30.3" r="1.8"/><circle class="b" cx="-0" cy="25.5" r="2.4"/><circle class="b" cx="1.5" cy="33.8" r="1.7"/><circle class="b" cx="1.8" cy="33.1" r="1.9"/><circle class="b" cx="2" cy="29.4" r="2.1"/><circle class="b" cx="5.1" cy="33.1" r="1.7"/><circle class="b" cx="2.3" cy="27.4" r="2"/><circle class="b" cx="4.2" cy="32.7" r="1.7"/><circle class="b" cx="-2.3" cy="26.2" r="1.9"/><circle class="b" cx="-3.2" cy="25.9" r="1.7"/><circle class="b" cx="5.2" cy="27.1" r="2.4"/><circle class="b" cx="3.4" cy="28.4" r="1.7"/><circle class="b" cx="-5.7" cy="32.4" r="2.3"/><circle class="b" cx="4.4" cy="33.3" r="2.4"/><circle class="b" cx="-5.1" cy="31.2" r="2.5"/><circle class="b" cx="-5.1" cy="32.5" r="2.2"/><circle class="b" cx="1.3" cy="24.6" r="1.7"/><circle class="b" cx="1.9" cy="34.3" r="1.9"/><circle class="b" cx="-0" cy="30.1" r="2"/><circle class="b" cx="4.2" cy="29.9" r="1.8"/><circle class="b" cx="-2.2" cy="31.9" r="2.5"/><circle class="b" cx="1.4" cy="32.2" r="2.9"/><circle class="b" cx="-0.5" cy="28.8" r="2.6"/><circle class="b" cx="3" cy="28.4" r="3.1"/></g>
<rect x="275.9" y="590.4" width="103" height="52.4" fill="#323232"/><path d="M276.9,590.4v8.9M282.3,590.4v8.9M287.6,590.4v8.9M293.5,590.4v8.9M299.8,590.4v8.9M305.8,590.4v8.9M311.8,590.4v8.9M316.9,590.4v8.9M323.8,590.4v8.9M329.3,590.4v8.9M335.1,590.4v8.9M341.7,590.4v8.9M348.6,590.4v8.9M354.3,590.4v8.9M360.2,590.4v8.9M366.9,590.4v8.9M372.9,590.4v8.9" stroke="#1c1c1c" stroke-width="2"/><path d="M296.5,599.3v41.9M317.1,599.3v41.9M337.6,599.3v41.9M358,599.3v41.9" stroke="#262626" stroke-width="1.4"/><g transform="translate(286.2,590.4) scale(1.008)"><use href="#mb"/><circle class="s" cx="-3.7" cy="22.8" r="1"/><circle class="s" cx="-5.7" cy="37.2" r="2.1"/><circle class="s" cx="4.3" cy="21.9" r="1.5"/><circle class="s" cx="5.7" cy="15.4" r="1.6"/><circle class="p" cx="-3.9" cy="29.1" r="1.2"/><circle class="p" cx="6.9" cy="19.5" r="1.2"/><circle class="p" cx="4.7" cy="14.6" r="0.9"/><circle class="p" cx="-3.6" cy="19.6" r="1.4"/><circle class="p" cx="0.7" cy="15.8" r="1.2"/><circle class="p" cx="-3.8" cy="10.3" r="0.8"/><circle class="p" cx="-2" cy="17.7" r="1"/><circle class="p" cx="-2.7" cy="26.4" r="1"/><circle class="p" cx="-2.3" cy="19.6" r="1.1"/><circle class="p" cx="5.2" cy="25.3" r="0.7"/><circle class="p" cx="-0.4" cy="20.1" r="1.3"/><circle class="p" cx="5.7" cy="15.7" r="1.1"/><circle class="p" cx="-5.9" cy="22.8" r="0.8"/><circle class="p" cx="-3" cy="27.7" r="0.8"/><circle class="p" cx="-4" cy="22.2" r="0.8"/><circle class="p" cx="-3.9" cy="15.1" r="0.8"/><circle class="p" cx="-3.2" cy="18.6" r="1.2"/><circle class="p" cx="-2.5" cy="30.8" r="1.2"/><circle class="p" cx="4.1" cy="20.1" r="1.3"/><circle class="p" cx="-3.2" cy="30.5" r="1.4"/><circle class="b" cx="5" cy="26.7" r="2.1"/><circle class="b" cx="-1.9" cy="31.4" r="2"/><circle class="b" cx="-0.4" cy="40.8" r="2.4"/><circle class="b" cx="-3.9" cy="24" r="2.1"/><circle class="b" cx="-2.5" cy="25.9" r="1.7"/><circle class="b" cx="-6" cy="29.5" r="2.1"/><circle class="b" cx="3.3" cy="27.1" r="1.9"/><circle class="b" cx="2.3" cy="37.1" r="2"/><circle class="b" cx="2.8" cy="34.9" r="2.6"/><circle class="b" cx="0.8" cy="24" r="1.9"/><circle class="b" cx="-3.7" cy="31.1" r="2.3"/><circle class="b" cx="-1" cy="39.5" r="2.4"/><circle class="b" cx="-0.6" cy="36.1" r="2.2"/><circle class="b" cx="-5.5" cy="26.4" r="2.4"/><circle class="b" cx="-4.4" cy="32.8" r="2.4"/><circle class="b" cx="-2" cy="29.3" r="2"/><circle class="b" cx="4" cy="37" r="2.4"/><circle class="b" cx="-1" cy="29.1" r="2.1"/><circle class="b" cx="5.3" cy="32" r="2.4"/><circle class="b" cx="1.7" cy="39.9" r="1.7"/><circle class="b" cx="3.8" cy="39.4" r="1.9"/><circle class="b" cx="-3.7" cy="22.4" r="2.4"/><circle class="b" cx="-4.1" cy="33" r="2.1"/><circle class="b" cx="3.2" cy="39.1" r="2.2"/><circle class="b" cx="0.4" cy="23.4" r="1.9"/><circle class="b" cx="-0.1" cy="34.8" r="2.3"/><circle class="b" cx="-4" cy="31" r="2.6"/><circle class="b" cx="-2.6" cy="35.9" r="1.9"/><circle class="b" cx="-0.6" cy="36.4" r="2.2"/><circle class="b" cx="-3.9" cy="34.6" r="2.5"/><circle class="b" cx="-1.8" cy="35.4" r="3.2"/><circle class="b" cx="2.9" cy="29.2" r="3.5"/><circle class="b" cx="-1.1" cy="33.4" r="3"/><circle class="b" cx="0.6" cy="28.9" r="3"/><circle class="b" cx="0.6" cy="29.6" r="3.4"/><circle class="c" cx="-5" cy="26" r="2.5"/><circle class="g" cx="-5" cy="26" r="2.1"/><circle class="y" cx="-5" cy="26" r="1.6"/><circle class="o" cx="-5" cy="26" r="1.1"/><circle class="r" cx="-5" cy="26" r="0.7"/><circle class="c" cx="3" cy="34" r="2"/><circle class="g" cx="3" cy="34" r="1.6"/><circle class="y" cx="3" cy="34" r="1.3"/><circle class="o" cx="3" cy="34" r="0.9"/></g><g transform="translate(306.9,590.4) scale(1.008)"><use href="#mb"/><circle class="s" cx="-1.4" cy="19.8" r="2.2"/><circle class="s" cx="4.7" cy="19.5" r="1.2"/><circle class="s" cx="0.7" cy="15.9" r="2.2"/><circle class="s" cx="-2.2" cy="22.2" r="1.1"/><circle class="p" cx="-5.2" cy="20.8" r="0.8"/><circle class="p" cx="-1.5" cy="10.5" r="1.4"/><circle class="p" cx="5.7" cy="13.7" r="1.1"/><circle class="p" cx="-3.2" cy="29.2" r="1"/><circle class="p" cx="-3.3" cy="21.9" r="0.8"/><circle class="p" cx="4.5" cy="26.7" r="1.4"/><circle class="p" cx="3.6" cy="19.2" r="0.9"/><circle class="p" cx="1.9" cy="22.3" r="1.4"/><circle class="p" cx="-2.4" cy="27" r="0.9"/><circle class="p" cx="-0.9" cy="14.2" r="1.5"/><circle class="p" cx="6.7" cy="22" r="1"/><circle class="p" cx="-4.6" cy="23.5" r="0.9"/><circle class="p" cx="4.4" cy="14.9" r="1.1"/><circle class="p" cx="3.9" cy="11.8" r="1.4"/><circle class="p" cx="2.8" cy="25.2" r="0.9"/><circle class="p" cx="-3.6" cy="19.5" r="1.4"/><circle class="p" cx="1.1" cy="28.4" r="1"/><circle class="p" cx="-2.4" cy="30.7" r="1.1"/><circle class="p" cx="1.2" cy="12" r="1.4"/><circle class="p" cx="2.2" cy="12.3" r="1.4"/><circle class="b" cx="2.8" cy="28.7" r="2.2"/><circle class="b" cx="2.1" cy="27.2" r="2.5"/><circle class="b" cx="-1.9" cy="40.4" r="2"/><circle class="b" cx="5.7" cy="27.5" r="2"/><circle class="b" cx="5.1" cy="31.7" r="2.2"/><circle class="b" cx="-1.8" cy="41.1" r="2.1"/><circle class="b" cx="-3" cy="30.1" r="2.4"/><circle class="b" cx="-2.4" cy="30.1" r="2.5"/><circle class="b" cx="-0.4" cy="35" r="2.4"/><circle class="b" cx="-5.1" cy="35.8" r="2.1"/><circle class="b" cx="-5.2" cy="27.9" r="2.5"/><circle class="b" cx="1.1" cy="34.2" r="2.1"/><circle class="b" cx="3.3" cy="39.1" r="2"/><circle class="b" cx="-1.2" cy="33.5" r="1.9"/><circle class="b" cx="-2.2" cy="35.3" r="1.9"/><circle class="b" cx="-1.1" cy="40.2" r="1.8"/><circle class="b" cx="-5.2" cy="30.7" r="1.7"/><circle class="b" cx="2.4" cy="22.3" r="1.9"/><circle class="b" cx="1.6" cy="32.1" r="2.5"/><circle class="b" cx="4.9" cy="33.2" r="2.2"/><circle class="b" cx="-2.4" cy="24.8" r="2.1"/><circle class="b" cx="-5.5" cy="33.2" r="1.8"/><circle class="b" cx="-0.5" cy="38.7" r="2.1"/><circle class="b" cx="-3.1" cy="26.5" r="2.6"/><circle class="b" cx="1.4" cy="41.3" r="1.7"/><circle class="b" cx="0.8" cy="27.8" r="2"/><circle class="b" cx="-5.5" cy="35.8" r="1.8"/><circle class="b" cx="-5.8" cy="30.4" r="2.1"/><circle class="b" cx="-1.1" cy="20.2" r="2.4"/><circle class="b" cx="-0" cy="37.3" r="2.2"/><circle class="b" cx="0" cy="24.1" r="3.5"/><circle class="b" cx="0.6" cy="25.6" r="3.4"/><circle class="b" cx="2.5" cy="26.5" r="2.9"/><circle class="b" cx="0.4" cy="35.4" r="3.6"/><circle class="b" cx="-1.4" cy="36.8" r="3"/><circle class="c" cx="0" cy="28" r="3"/><circle class="g" cx="0" cy="28" r="2.5"/><circle class="y" cx="0" cy="28" r="1.9"/><circle class="o" cx="0" cy="28" r="1.4"/><circle class="c" cx="1" cy="36" r="2"/><circle class="g" cx="1" cy="36" r="1.6"/><circle class="y" cx="1" cy="36" r="1.3"/><circle class="o" cx="1" cy="36" r="0.9"/><circle class="r" cx="1" cy="36" r="0.6"/></g><g transform="translate(327.4,590.4) scale(1.008)"><use href="#mb"/><circle class="s" cx="2.7" cy="36.7" r="2.3"/><circle class="s" cx="0.9" cy="29.5" r="1.2"/><circle class="s" cx="4.6" cy="19.5" r="1.2"/><circle class="s" cx="4.7" cy="27.6" r="1.6"/><circle class="p" cx="2.4" cy="32.5" r="1.2"/><circle class="p" cx="2.9" cy="13.4" r="1.1"/><circle class="p" cx="-2.1" cy="19.7" r="0.7"/><circle class="p" cx="-3.5" cy="15.3" r="1.4"/><circle class="p" cx="0.5" cy="8.6" r="1.2"/><circle class="p" cx="0.3" cy="30.7" r="1.2"/><circle class="p" cx="-0.2" cy="29.5" r="0.8"/><circle class="p" cx="-2.1" cy="11.8" r="0.9"/><circle class="p" cx="-1.5" cy="7.9" r="0.9"/><circle class="p" cx="5.3" cy="20.5" r="1.5"/><circle class="p" cx="5.3" cy="26.5" r="1.2"/><circle class="p" cx="-0.2" cy="18.5" r="1"/><circle class="p" cx="6.6" cy="23.6" r="1.5"/><circle class="p" cx="-1.3" cy="9.5" r="1.3"/><circle class="p" cx="4.7" cy="30.2" r="1"/><circle class="p" cx="-0.7" cy="20.7" r="0.8"/><circle class="p" cx="2.8" cy="17.2" r="1.1"/><circle class="p" cx="-0.9" cy="8.2" r="1.1"/><circle class="p" cx="-2.3" cy="8.1" r="0.9"/><circle class="p" cx="-4" cy="27" r="1.3"/><circle class="b" cx="-1.1" cy="30.2" r="1.9"/><circle class="b" cx="-3.8" cy="39" r="2.3"/><circle class="b" cx="-0.6" cy="39.2" r="2"/><circle class="b" cx="5.3" cy="29.1" r="2.5"/><circle class="b" cx="-1.8" cy="33.5" r="2.4"/><circle class="b" cx="2.5" cy="40.2" r="2.4"/><circle class="b" cx="3.2" cy="24.7" r="2.3"/><circle class="b" cx="3.4" cy="32" r="1.8"/><circle class="b" cx="4.4" cy="34.1" r="1.8"/><circle class="b" cx="-2.6" cy="31.1" r="1.9"/><circle class="b" cx="2" cy="20.6" r="2.3"/><circle class="b" cx="-2.1" cy="27.9" r="2.1"/><circle class="b" cx="1.3" cy="29.1" r="2"/><circle class="b" cx="0.1" cy="36.2" r="1.8"/><circle class="b" cx="-0.4" cy="24.6" r="2.6"/><circle class="b" cx="-2.4" cy="39.3" r="2"/><circle class="b" cx="0.2" cy="28.3" r="2.6"/><circle class="b" cx="0.1" cy="40.5" r="2"/><circle class="b" cx="4.7" cy="31.9" r="1.8"/><circle class="b" cx="0.6" cy="26" r="1.7"/><circle class="b" cx="-4.8" cy="29" r="2.3"/><circle class="b" cx="-0.3" cy="28.6" r="2.5"/><circle class="b" cx="2" cy="22.1" r="1.7"/><circle class="b" cx="-0.7" cy="35.8" r="2.5"/><circle class="b" cx="-0.5" cy="37.9" r="1.9"/><circle class="b" cx="-0.3" cy="27.2" r="2.1"/><circle class="b" cx="0.1" cy="24.4" r="1.9"/><circle class="b" cx="-2.8" cy="30.6" r="2.4"/><circle class="b" cx="1.2" cy="26.1" r="1.7"/><circle class="b" cx="-0.5" cy="31.8" r="2.5"/><circle class="b" cx="2.9" cy="29.4" r="3.2"/><circle class="b" cx="-2" cy="28.8" r="3.2"/><circle class="b" cx="-2.8" cy="26.8" r="3"/><circle class="b" cx="1.6" cy="34.7" r="2.8"/><circle class="b" cx="-1.1" cy="35.6" r="3.5"/><circle class="c" cx="0" cy="24" r="3.5"/><circle class="g" cx="0" cy="24" r="2.9"/><circle class="y" cx="0" cy="24" r="2.2"/><circle class="o" cx="0" cy="24" r="1.6"/><circle class="r" cx="0" cy="24" r="1"/></g><g transform="translate(347.9,590.4) scale(1.008)"><use href="#mb"/><circle class="s" cx="1.1" cy="39.7" r="2"/><circle class="s" cx="6.3" cy="36.9" r="1.4"/><circle class="s" cx="-4.2" cy="32.1" r="2"/><circle class="s" cx="-1.2" cy="35.3" r="1.8"/><circle class="p" cx="0.1" cy="19.5" r="1.4"/><circle class="p" cx="2.5" cy="15.3" r="1.4"/><circle class="p" cx="-0.5" cy="32.9" r="1.4"/><circle class="p" cx="1" cy="16.2" r="0.9"/><circle class="p" cx="-3.3" cy="18" r="1"/><circle class="p" cx="6.5" cy="16.6" r="0.8"/><circle class="p" cx="3" cy="30.7" r="1.2"/><circle class="p" cx="6.8" cy="20.8" r="0.8"/><circle class="p" cx="5.7" cy="26.7" r="1.4"/><circle class="p" cx="4.3" cy="26.3" r="1.5"/><circle class="p" cx="6.7" cy="19.7" r="1.4"/><circle class="p" cx="4.1" cy="16.6" r="1.3"/><circle class="p" cx="3.9" cy="10" r="1.2"/><circle class="p" cx="3.2" cy="9.7" r="1.4"/><circle class="p" cx="5.4" cy="12.8" r="0.8"/><circle class="p" cx="-2.6" cy="28.3" r="0.7"/><circle class="p" cx="-1.4" cy="32.8" r="1.5"/><circle class="p" cx="-5" cy="20.6" r="0.8"/><circle class="p" cx="-6.6" cy="16.9" r="0.9"/><circle class="p" cx="-3.5" cy="9.5" r="1.1"/><circle class="b" cx="-5" cy="34.8" r="1.9"/><circle class="b" cx="-1.6" cy="35.5" r="1.8"/><circle class="b" cx="0.2" cy="41" r="2.4"/><circle class="b" cx="-1.8" cy="33.1" r="2.2"/><circle class="b" cx="-1.2" cy="39.5" r="2.5"/><circle class="b" cx="-2.4" cy="35.8" r="2.4"/><circle class="b" cx="3.4" cy="23.8" r="2"/><circle class="b" cx="1.5" cy="29.8" r="2.6"/><circle class="b" cx="-0.3" cy="28.3" r="1.9"/><circle class="b" cx="1.8" cy="20.8" r="1.8"/><circle class="b" cx="-4.4" cy="24.1" r="2.3"/><circle class="b" cx="5.5" cy="26.5" r="1.9"/><circle class="b" cx="5.3" cy="36.3" r="1.9"/><circle class="b" cx="4.5" cy="23.5" r="2"/><circle class="b" cx="0.3" cy="26" r="2.2"/><circle class="b" cx="3.7" cy="37.1" r="1.8"/><circle class="b" cx="-0.9" cy="31.8" r="2.6"/><circle class="b" cx="-2.8" cy="26.8" r="1.9"/><circle class="b" cx="1" cy="23.5" r="2.2"/><circle class="b" cx="3.8" cy="32.7" r="2.1"/><circle class="b" cx="1.6" cy="26.8" r="1.7"/><circle class="b" cx="-2.9" cy="29.8" r="1.7"/><circle class="b" cx="3.5" cy="35.8" r="2.1"/><circle class="b" cx="-0.5" cy="40.2" r="1.7"/><circle class="b" cx="-1.2" cy="38.5" r="1.9"/><circle class="b" cx="3.7" cy="29.7" r="2.1"/><circle class="b" cx="4.5" cy="28.6" r="1.9"/><circle class="b" cx="-6.4" cy="32.6" r="2.4"/><circle class="b" cx="-0.7" cy="33.8" r="2.5"/><circle class="b" cx="-0.6" cy="34" r="2.1"/><circle class="b" cx="0.2" cy="26.7" r="3.4"/><circle class="b" cx="3" cy="28.8" r="3.5"/><circle class="b" cx="-1" cy="29.9" r="3.3"/><circle class="b" cx="-0.1" cy="37.3" r="3.5"/><circle class="b" cx="-3.3" cy="32.2" r="2.8"/><circle class="c" cx="-2" cy="22" r="2.8"/><circle class="g" cx="-2" cy="22" r="2.3"/><circle class="y" cx="-2" cy="22" r="1.8"/><circle class="o" cx="-2" cy="22" r="1.3"/><circle class="r" cx="-2" cy="22" r="0.8"/><circle class="c" cx="2" cy="32" r="2"/><circle class="g" cx="2" cy="32" r="1.6"/><circle class="y" cx="2" cy="32" r="1.3"/></g><g transform="translate(368.2,590.4) scale(1.008)"><use href="#mb"/><circle class="s" cx="1" cy="31.2" r="2.2"/><circle class="s" cx="-5.6" cy="19.1" r="2"/><circle class="s" cx="1.5" cy="25.7" r="2.3"/><circle class="s" cx="-5.6" cy="36.6" r="1.1"/><circle class="p" cx="0.3" cy="31.3" r="0.7"/><circle class="p" cx="0.4" cy="12.3" r="1.3"/><circle class="p" cx="-2.9" cy="15.8" r="1.3"/><circle class="p" cx="5.4" cy="13.9" r="0.8"/><circle class="p" cx="-1.7" cy="21.3" r="1.1"/><circle class="p" cx="-1" cy="30" r="1.4"/><circle class="p" cx="-0.2" cy="7.5" r="0.7"/><circle class="p" cx="-4.5" cy="20.8" r="1.3"/><circle class="p" cx="0.5" cy="19.2" r="1.4"/><circle class="p" cx="-0.6" cy="22.2" r="1.2"/><circle class="p" cx="-6.7" cy="17" r="1.3"/><circle class="p" cx="-6.1" cy="22.4" r="1.4"/><circle class="p" cx="-3.9" cy="19.2" r="1.2"/><circle class="p" cx="3.5" cy="10.5" r="1.2"/><circle class="p" cx="3.1" cy="30.2" r="1.2"/><circle class="p" cx="-0.8" cy="10.6" r="0.7"/><circle class="p" cx="-0.2" cy="30.8" r="0.8"/><circle class="p" cx="-2" cy="28" r="0.8"/><circle class="p" cx="-0.9" cy="29.2" r="1.4"/><circle class="p" cx="-0.4" cy="15.6" r="1"/><circle class="b" cx="0" cy="31" r="2.3"/><circle class="b" cx="-0.6" cy="25.6" r="1.7"/><circle class="b" cx="-1.4" cy="36.9" r="2.3"/><circle class="b" cx="2.4" cy="33.1" r="2.3"/><circle class="b" cx="4.9" cy="33.1" r="2"/><circle class="b" cx="-2.1" cy="37" r="2"/><circle class="b" cx="1.7" cy="20.9" r="2.2"/><circle class="b" cx="-2.4" cy="21.7" r="1.8"/><circle class="b" cx="-1" cy="31.4" r="2.4"/><circle class="b" cx="1.9" cy="28.5" r="2.1"/><circle class="b" cx="-3.4" cy="25.5" r="1.7"/><circle class="b" cx="-3.2" cy="34.5" r="2.2"/><circle class="b" cx="1.4" cy="29.1" r="2.2"/><circle class="b" cx="-3.9" cy="32.6" r="1.9"/><circle class="b" cx="-2.1" cy="32.1" r="2.3"/><circle class="b" cx="-1.7" cy="40.9" r="1.9"/><circle class="b" cx="0.7" cy="35.6" r="2.4"/><circle class="b" cx="3.3" cy="22.4" r="2.2"/><circle class="b" cx="-2.5" cy="26" r="2.2"/><circle class="b" cx="4.6" cy="37.7" r="2.1"/><circle class="b" cx="-2.1" cy="31.4" r="2.2"/><circle class="b" cx="2.1" cy="41.3" r="1.8"/><circle class="b" cx="-1.1" cy="33.4" r="1.9"/><circle class="b" cx="-1.7" cy="31" r="2.3"/><circle class="b" cx="-4.6" cy="25.4" r="2"/><circle class="b" cx="-2.5" cy="26.2" r="2.3"/><circle class="b" cx="2.7" cy="30.6" r="2.3"/><circle class="b" cx="0.9" cy="25.8" r="1.7"/><circle class="b" cx="-4.6" cy="30.4" r="2.3"/><circle class="b" cx="0.3" cy="24.7" r="2.4"/><circle class="b" cx="-0.5" cy="27.6" r="3"/><circle class="b" cx="-3.5" cy="32.9" r="3.5"/><circle class="b" cx="-2.9" cy="30" r="3.2"/><circle class="b" cx="-0" cy="30" r="3.4"/><circle class="b" cx="-3" cy="30.5" r="3.5"/><circle class="c" cx="1" cy="9" r="3"/><circle class="g" cx="1" cy="9" r="2.5"/><circle class="y" cx="1" cy="9" r="1.9"/><circle class="o" cx="1" cy="9" r="1.4"/><circle class="r" cx="1" cy="9" r="0.8"/></g>
<rect x="382.2" y="590.4" width="103.1" height="52.4" fill="#323232"/><path d="M383.2,590.4v8.9M388.4,590.4v8.9M394.4,590.4v8.9M401.3,590.4v8.9M406.8,590.4v8.9M413.1,590.4v8.9M418.6,590.4v8.9M425.2,590.4v8.9M431.4,590.4v8.9M436.7,590.4v8.9M442,590.4v8.9M447.7,590.4v8.9M453.6,590.4v8.9M460.2,590.4v8.9M467.1,590.4v8.9M473.2,590.4v8.9M478.3,590.4v8.9" stroke="#1c1c1c" stroke-width="2"/><path d="M402.8,599.3v41.9M423.4,599.3v41.9M443.9,599.3v41.9M464.4,599.3v41.9" stroke="#262626" stroke-width="1.4"/><g transform="translate(392.5,590.4) scale(1.008)"><use href="#mb"/><circle class="s" cx="5.8" cy="16" r="1.6"/><circle class="s" cx="-3" cy="30.8" r="1.3"/><circle class="s" cx="-5.9" cy="18.8" r="1.7"/><circle class="s" cx="-1" cy="35.9" r="1.3"/><circle class="p" cx="-4.8" cy="24.7" r="0.8"/><circle class="p" cx="-3.9" cy="31.2" r="1.1"/><circle class="p" cx="-0.4" cy="38" r="1"/><circle class="p" cx="3.8" cy="30.6" r="1"/><circle class="p" cx="-1.9" cy="28.8" r="0.9"/><circle class="p" cx="-3.5" cy="36.6" r="1.5"/><circle class="p" cx="-3.8" cy="28.7" r="1.3"/><circle class="p" cx="5.1" cy="30.5" r="0.9"/><circle class="p" cx="5.6" cy="32.3" r="1.6"/><circle class="p" cx="6.6" cy="28.6" r="1"/><circle class="p" cx="-2.8" cy="33.6" r="1.2"/><circle class="p" cx="0.2" cy="29.6" r="1.2"/><circle class="p" cx="1.5" cy="37.1" r="1.4"/><circle class="p" cx="0.5" cy="26.3" r="1.5"/><circle class="p" cx="4.6" cy="31.4" r="0.9"/><circle class="p" cx="-2.4" cy="25.9" r="1.3"/><circle class="p" cx="2.6" cy="31.9" r="1.4"/><circle class="p" cx="-4.9" cy="24.8" r="1.1"/><circle class="p" cx="-4.6" cy="28" r="1.5"/><circle class="p" cx="-1.7" cy="36.4" r="1.4"/><circle class="p" cx="-3.9" cy="34.8" r="0.9"/><circle class="p" cx="5.8" cy="29.6" r="1.2"/><circle class="b" cx="2.1" cy="33.3" r="2"/><circle class="b" cx="1.5" cy="33.3" r="2"/><circle class="b" cx="-1.1" cy="28.7" r="2.6"/><circle class="b" cx="0.4" cy="29.5" r="2.1"/><circle class="b" cx="-0.1" cy="28.8" r="2.5"/><circle class="b" cx="1.7" cy="29.7" r="1.9"/><circle class="b" cx="3.4" cy="29.4" r="2.3"/><circle class="b" cx="0.1" cy="29.6" r="2.1"/><circle class="b" cx="-2.8" cy="34.8" r="1.7"/><circle class="b" cx="-0.5" cy="29.2" r="2.2"/><circle class="b" cx="-6.2" cy="30.9" r="2.6"/><circle class="b" cx="2.4" cy="25.5" r="2"/><circle class="b" cx="-3.6" cy="27.9" r="2.3"/><circle class="b" cx="5.2" cy="29.3" r="1.7"/><circle class="b" cx="-4.5" cy="28.6" r="2.5"/><circle class="b" cx="-1.8" cy="33.4" r="2.3"/><circle class="b" cx="-3.6" cy="27.4" r="2.2"/><circle class="b" cx="0.3" cy="31.8" r="2"/><circle class="b" cx="-5.5" cy="29" r="2"/><circle class="b" cx="-3.3" cy="35" r="2.5"/><circle class="b" cx="1.5" cy="35.4" r="1.9"/><circle class="b" cx="5.5" cy="31.7" r="2.1"/><circle class="b" cx="2.4" cy="29" r="2.5"/><circle class="b" cx="-2.6" cy="31.8" r="2.7"/><circle class="b" cx="-1" cy="28.6" r="3.2"/><circle class="b" cx="3.4" cy="30.2" r="2.7"/></g><g transform="translate(413.2,590.4) scale(1.008)"><use href="#mb"/><circle class="s" cx="6.1" cy="16.7" r="1.1"/><circle class="s" cx="6.1" cy="35.1" r="1.7"/><circle class="s" cx="0.3" cy="26" r="1.8"/><circle class="s" cx="4.1" cy="17.5" r="1.5"/><circle class="p" cx="-3.4" cy="30.9" r="0.9"/><circle class="p" cx="-5.2" cy="24.8" r="1.5"/><circle class="p" cx="-2" cy="35.2" r="1.6"/><circle class="p" cx="2.8" cy="25.4" r="0.9"/><circle class="p" cx="5" cy="36.1" r="1.1"/><circle class="p" cx="-1.8" cy="28.2" r="1.3"/><circle class="p" cx="-2.8" cy="30.8" r="0.9"/><circle class="p" cx="0" cy="36" r="1.2"/><circle class="p" cx="3.5" cy="29.8" r="1"/><circle class="p" cx="-3.9" cy="30.3" r="0.8"/><circle class="p" cx="-5.5" cy="30.8" r="1.3"/><circle class="p" cx="-2.3" cy="30.9" r="1.2"/><circle class="p" cx="2" cy="32.2" r="1.5"/><circle class="p" cx="6.9" cy="26.7" r="1.4"/><circle class="p" cx="-4.6" cy="27.3" r="1.2"/><circle class="p" cx="-3.3" cy="37.8" r="1.2"/><circle class="p" cx="4.4" cy="28.5" r="1"/><circle class="p" cx="-4.6" cy="25.9" r="1.2"/><circle class="p" cx="0.5" cy="33.3" r="1.3"/><circle class="p" cx="5.2" cy="36.5" r="1.2"/><circle class="p" cx="-0.7" cy="26.9" r="1.5"/><circle class="p" cx="0.5" cy="39" r="0.9"/><circle class="b" cx="-0.3" cy="26.7" r="2.5"/><circle class="b" cx="-4.4" cy="26.9" r="2.1"/><circle class="b" cx="0.3" cy="26.8" r="2"/><circle class="b" cx="-0.8" cy="28.7" r="1.9"/><circle class="b" cx="0.9" cy="32.4" r="1.9"/><circle class="b" cx="4.8" cy="30.7" r="2"/><circle class="b" cx="-0.4" cy="24.1" r="2.2"/><circle class="b" cx="-3.4" cy="25.3" r="2.6"/><circle class="b" cx="-5.7" cy="32" r="2"/><circle class="b" cx="-3.2" cy="30.7" r="2.3"/><circle class="b" cx="-0" cy="33.4" r="2"/><circle class="b" cx="5.9" cy="30.6" r="1.6"/><circle class="b" cx="4.1" cy="34.2" r="2.4"/><circle class="b" cx="3" cy="30.4" r="2"/><circle class="b" cx="3.1" cy="30.3" r="1.9"/><circle class="b" cx="1.5" cy="29.8" r="2.3"/><circle class="b" cx="1.2" cy="34.6" r="1.6"/><circle class="b" cx="0.1" cy="24.2" r="1.7"/><circle class="b" cx="5.9" cy="29.1" r="1.9"/><circle class="b" cx="-0.5" cy="30" r="1.8"/><circle class="b" cx="3.6" cy="31.2" r="1.9"/><circle class="b" cx="1.5" cy="30.6" r="1.8"/><circle class="b" cx="1.4" cy="30.5" r="3.3"/><circle class="b" cx="-1.1" cy="30.5" r="3.4"/><circle class="b" cx="0.9" cy="31.5" r="2.5"/><circle class="b" cx="1.4" cy="28" r="3.1"/></g><g transform="translate(433.7,590.4) scale(1.008)"><use href="#mb"/><circle class="s" cx="4.6" cy="37.4" r="2"/><circle class="s" cx="0.4" cy="32.1" r="1.3"/><circle class="s" cx="4.7" cy="27.4" r="1"/><circle class="s" cx="-2.2" cy="38.6" r="1.4"/><circle class="p" cx="6.2" cy="36.4" r="1.1"/><circle class="p" cx="-4.6" cy="28.8" r="1"/><circle class="p" cx="-3.6" cy="37.9" r="1.2"/><circle class="p" cx="-1.6" cy="24.9" r="1"/><circle class="p" cx="6.8" cy="26.7" r="0.9"/><circle class="p" cx="6.9" cy="33" r="0.9"/><circle class="p" cx="4" cy="26.9" r="1.2"/><circle class="p" cx="-1" cy="36.9" r="1"/><circle class="p" cx="6.2" cy="31.6" r="1.5"/><circle class="p" cx="-2.9" cy="26.3" r="1.5"/><circle class="p" cx="3.7" cy="32.1" r="1.1"/><circle class="p" cx="2.5" cy="31.3" r="1.4"/><circle class="p" cx="-6.8" cy="32.2" r="0.9"/><circle class="p" cx="6.9" cy="26.9" r="1.1"/><circle class="p" cx="1.6" cy="35.5" r="1"/><circle class="p" cx="-5.2" cy="35.4" r="1.4"/><circle class="p" cx="5.4" cy="27.3" r="1.5"/><circle class="p" cx="-1.4" cy="29.2" r="0.9"/><circle class="p" cx="0.2" cy="33.6" r="1"/><circle class="p" cx="-3.6" cy="25" r="1.2"/><circle class="p" cx="-6.5" cy="29.2" r="1.3"/><circle class="p" cx="-4.6" cy="33.1" r="1.2"/><circle class="b" cx="-2.1" cy="28.9" r="2.1"/><circle class="b" cx="-5.7" cy="30" r="1.9"/><circle class="b" cx="5.3" cy="28.7" r="2.2"/><circle class="b" cx="-2.7" cy="30" r="1.9"/><circle class="b" cx="-1.7" cy="33.9" r="1.7"/><circle class="b" cx="6.4" cy="30.8" r="1.6"/><circle class="b" cx="-1.3" cy="33.6" r="2.6"/><circle class="b" cx="-1.9" cy="32.7" r="2.1"/><circle class="b" cx="-4.2" cy="26" r="2.3"/><circle class="b" cx="5.5" cy="32.6" r="2.5"/><circle class="b" cx="4.7" cy="33.3" r="2.5"/><circle class="b" cx="3.4" cy="25.1" r="1.9"/><circle class="b" cx="-3.8" cy="26" r="2.4"/><circle class="b" cx="-4.9" cy="26.6" r="2.3"/><circle class="b" cx="-4.7" cy="33.9" r="2"/><circle class="b" cx="4.9" cy="33.5" r="2"/><circle class="b" cx="1.7" cy="24.6" r="2.4"/><circle class="b" cx="-1.4" cy="26.8" r="2.1"/><circle class="b" cx="-4.6" cy="33.3" r="1.9"/><circle class="b" cx="-5.3" cy="32" r="1.7"/><circle class="b" cx="1.1" cy="25.7" r="2.3"/><circle class="b" cx="-1.4" cy="27.3" r="2.5"/><circle class="b" cx="-1.7" cy="28.6" r="2.6"/><circle class="b" cx="0.2" cy="30.6" r="2.8"/><circle class="b" cx="0.5" cy="30.5" r="2.6"/><circle class="b" cx="1.5" cy="31" r="2.6"/></g><g transform="translate(454.2,590.4) scale(1.008)"><use href="#mb"/><circle class="s" cx="-5.1" cy="18.1" r="1.8"/><circle class="s" cx="-1.6" cy="31.8" r="1.3"/><circle class="s" cx="2" cy="21.3" r="1.6"/><circle class="s" cx="-3.2" cy="16.4" r="2.3"/><circle class="p" cx="-2.6" cy="27.8" r="1.1"/><circle class="p" cx="-1.1" cy="30.6" r="1.4"/><circle class="p" cx="-3.2" cy="30.7" r="1.9"/><circle class="p" cx="-5.7" cy="31.4" r="1.8"/><circle class="p" cx="1.5" cy="26.6" r="1.4"/><circle class="p" cx="-6.7" cy="26.4" r="1.1"/><circle class="p" cx="-3.8" cy="24.8" r="1.6"/><circle class="p" cx="2.8" cy="31.7" r="1.4"/><circle class="p" cx="2.2" cy="27.1" r="1.1"/><circle class="p" cx="-4.7" cy="28" r="1.3"/><circle class="p" cx="2.9" cy="25.8" r="1.6"/><circle class="p" cx="-4.2" cy="25.5" r="1.5"/><circle class="p" cx="-1" cy="25.1" r="2.1"/><circle class="p" cx="0.3" cy="24.5" r="1"/><circle class="p" cx="-3.8" cy="28.9" r="1.3"/><circle class="p" cx="3.5" cy="30.4" r="1.5"/><circle class="p" cx="-6.6" cy="27.1" r="1.8"/><circle class="p" cx="-0.7" cy="27.9" r="1.1"/><circle class="p" cx="-3.5" cy="27" r="1.9"/><circle class="p" cx="1.2" cy="29.7" r="1.6"/><circle class="p" cx="-0.1" cy="26.3" r="1.7"/><circle class="p" cx="0" cy="26.7" r="1.7"/><circle class="p" cx="3.1" cy="29.7" r="2.3"/><circle class="p" cx="-1" cy="25.7" r="2.5"/></g><g transform="translate(474.5,590.4) scale(1.008)"><use href="#mb"/><circle class="s" cx="-6.4" cy="17.5" r="1.7"/><circle class="s" cx="0.2" cy="23.2" r="1.3"/><circle class="s" cx="-3" cy="39.4" r="1.6"/><circle class="s" cx="-1" cy="33.2" r="2"/><circle class="p" cx="2.3" cy="24.3" r="1"/><circle class="p" cx="0.2" cy="36.7" r="1.4"/><circle class="p" cx="-0.9" cy="38.6" r="0.9"/><circle class="p" cx="0.6" cy="35.9" r="0.9"/><circle class="p" cx="3.2" cy="34.3" r="0.8"/><circle class="p" cx="-5.1" cy="27.5" r="0.9"/><circle class="p" cx="-0.3" cy="25.9" r="1.2"/><circle class="p" cx="4.5" cy="27.2" r="0.9"/><circle class="p" cx="-1.7" cy="33.7" r="1.5"/><circle class="p" cx="0.2" cy="33.1" r="1.2"/><circle class="p" cx="-3.8" cy="37.1" r="0.8"/><circle class="p" cx="0.8" cy="35.4" r="0.9"/><circle class="p" cx="-8" cy="30.4" r="1.5"/><circle class="p" cx="-0.8" cy="30.6" r="1.3"/><circle class="p" cx="3.7" cy="35.7" r="1.3"/><circle class="p" cx="6" cy="29" r="1"/><circle class="p" cx="6.3" cy="34.6" r="1.1"/><circle class="p" cx="-2.4" cy="36.4" r="1.3"/><circle class="p" cx="-0.7" cy="30.5" r="1.5"/><circle class="p" cx="-4.2" cy="24.7" r="1.3"/><circle class="p" cx="-2.4" cy="27.5" r="1.1"/><circle class="p" cx="4.4" cy="29.2" r="1.5"/><circle class="b" cx="-0.3" cy="34" r="2.6"/><circle class="b" cx="-3" cy="26.7" r="1.6"/><circle class="b" cx="-1.9" cy="31.3" r="2.2"/><circle class="b" cx="3.3" cy="29.6" r="2.5"/><circle class="b" cx="2.4" cy="28.9" r="2.5"/><circle class="b" cx="-0.6" cy="27.6" r="1.7"/><circle class="b" cx="-4.6" cy="26.3" r="1.9"/><circle class="b" cx="0.7" cy="25.2" r="1.7"/><circle class="b" cx="-1" cy="26.9" r="1.8"/><circle class="b" cx="-1.2" cy="30.3" r="2.5"/><circle class="b" cx="6.3" cy="31.3" r="2.6"/><circle class="b" cx="3.9" cy="27.1" r="2.6"/><circle class="b" cx="3.8" cy="31" r="2.1"/><circle class="b" cx="2.8" cy="34.2" r="2.4"/><circle class="b" cx="-1.4" cy="30.5" r="1.9"/><circle class="b" cx="4.1" cy="25.4" r="2"/><circle class="b" cx="6" cy="30.5" r="2.3"/><circle class="b" cx="4.4" cy="31.1" r="2"/><circle class="b" cx="4.9" cy="29.7" r="2.5"/><circle class="b" cx="-3.3" cy="31.8" r="2.1"/><circle class="b" cx="3.5" cy="32" r="1.9"/><circle class="b" cx="2.6" cy="34.9" r="2.2"/><circle class="b" cx="-0.6" cy="27.3" r="2.7"/><circle class="b" cx="-0.3" cy="31.5" r="3.1"/><circle class="b" cx="-0.5" cy="31.2" r="3.3"/><circle class="b" cx="2.7" cy="32.5" r="2.8"/></g>
<rect x="488.6" y="590.4" width="82.4" height="52.4" fill="#323232"/><path d="M489.6,590.4v8.9M496.6,590.4v8.9M502.1,590.4v8.9M508.8,590.4v8.9M514.5,590.4v8.9M520.5,590.4v8.9M526.5,590.4v8.9M532.5,590.4v8.9M538.9,590.4v8.9M545.4,590.4v8.9M551.2,590.4v8.9M557.6,590.4v8.9M564.3,590.4v8.9" stroke="#1c1c1c" stroke-width="2"/><path d="M508.8,599.3v41.9M529.4,599.3v41.9M549.6,599.3v41.9" stroke="#262626" stroke-width="1.4"/><g transform="translate(498.4,590.4) scale(1.008)"><use href="#mb"/><circle class="s" cx="-0.4" cy="26.1" r="1.2"/><circle class="s" cx="1.4" cy="20.8" r="1.5"/><circle class="s" cx="5.6" cy="21.5" r="1.4"/><circle class="s" cx="2.1" cy="29.7" r="2.1"/><circle class="p" cx="3.1" cy="33.9" r="0.9"/><circle class="p" cx="3.3" cy="34.9" r="1.4"/><circle class="p" cx="1.9" cy="27.9" r="1.4"/><circle class="p" cx="2.2" cy="36" r="0.9"/><circle class="p" cx="0.6" cy="38.2" r="1.4"/><circle class="p" cx="-8" cy="31.3" r="0.9"/><circle class="p" cx="-2" cy="37.3" r="0.9"/><circle class="p" cx="-5.3" cy="32.7" r="0.9"/><circle class="p" cx="-0.7" cy="35" r="1.2"/><circle class="p" cx="-3.4" cy="36.1" r="1.1"/><circle class="p" cx="-1.4" cy="23.6" r="1.3"/><circle class="p" cx="2.9" cy="26.3" r="0.9"/><circle class="p" cx="3" cy="28.8" r="0.9"/><circle class="p" cx="-0.1" cy="28.5" r="1.2"/><circle class="p" cx="-1.7" cy="31.8" r="1.2"/><circle class="p" cx="5.4" cy="35.4" r="1.5"/><circle class="p" cx="-5.5" cy="33.9" r="1.1"/><circle class="p" cx="-6.8" cy="26.5" r="1"/><circle class="p" cx="-0.8" cy="30.5" r="1.5"/><circle class="p" cx="5.2" cy="32.8" r="1.1"/><circle class="p" cx="-4.1" cy="29.9" r="0.9"/><circle class="p" cx="-7.6" cy="29.8" r="1.6"/><circle class="b" cx="-2.7" cy="31.5" r="1.9"/><circle class="b" cx="4.5" cy="33.8" r="2.4"/><circle class="b" cx="4" cy="34.4" r="2.1"/><circle class="b" cx="-4.3" cy="27.4" r="2.3"/><circle class="b" cx="0.9" cy="33.5" r="2.1"/><circle class="b" cx="-3.8" cy="26.3" r="1.8"/><circle class="b" cx="1.8" cy="34.6" r="2"/><circle class="b" cx="6.3" cy="29.1" r="2.6"/><circle class="b" cx="6.1" cy="29.3" r="2.4"/><circle class="b" cx="5.5" cy="31.7" r="2.4"/><circle class="b" cx="1" cy="31.8" r="2.5"/><circle class="b" cx="0.7" cy="31.2" r="2"/><circle class="b" cx="-2.1" cy="32.7" r="1.8"/><circle class="b" cx="-5.8" cy="31.5" r="1.6"/><circle class="b" cx="-6.2" cy="30.8" r="2.4"/><circle class="b" cx="4.8" cy="30.8" r="1.8"/><circle class="b" cx="3.4" cy="34.6" r="2.5"/><circle class="b" cx="0.8" cy="30" r="1.6"/><circle class="b" cx="-2.1" cy="33.1" r="1.7"/><circle class="b" cx="3.8" cy="27.9" r="2.6"/><circle class="b" cx="4.3" cy="31.2" r="1.7"/><circle class="b" cx="6.1" cy="29" r="1.7"/><circle class="b" cx="-2.4" cy="32.8" r="3.1"/><circle class="b" cx="-2.5" cy="31.6" r="3"/><circle class="b" cx="0.7" cy="29.1" r="3.1"/><circle class="b" cx="0.6" cy="29.7" r="2.8"/></g><g transform="translate(519.2,590.4) scale(1.008)"><use href="#mb"/><circle class="s" cx="1.3" cy="35.6" r="1.7"/><circle class="s" cx="-5.4" cy="38.8" r="1.2"/><circle class="s" cx="4" cy="16.9" r="1.1"/><circle class="s" cx="2.1" cy="24.4" r="2.1"/><circle class="p" cx="2.6" cy="32" r="0.9"/><circle class="p" cx="-3.3" cy="32.1" r="0.9"/><circle class="p" cx="-7.2" cy="33" r="1.4"/><circle class="p" cx="-4.1" cy="33.8" r="1"/><circle class="p" cx="-1.9" cy="26.4" r="1.4"/><circle class="p" cx="3" cy="33.5" r="1.2"/><circle class="p" cx="8" cy="31.3" r="1.5"/><circle class="p" cx="-2.5" cy="32" r="1.1"/><circle class="p" cx="-2.9" cy="34.9" r="1.1"/><circle class="p" cx="1.3" cy="32.5" r="0.9"/><circle class="p" cx="2.4" cy="33.8" r="1.1"/><circle class="p" cx="2" cy="33.4" r="1.3"/><circle class="p" cx="-4.1" cy="29.3" r="1.4"/><circle class="p" cx="-3.8" cy="30.3" r="1.5"/><circle class="p" cx="-2.9" cy="29.7" r="1.2"/><circle class="p" cx="4.5" cy="32.3" r="1.5"/><circle class="p" cx="-4.7" cy="34.5" r="0.8"/><circle class="p" cx="-7.4" cy="33.7" r="1.5"/><circle class="p" cx="-8.2" cy="33" r="1.6"/><circle class="p" cx="5.9" cy="35.7" r="1"/><circle class="p" cx="-4.7" cy="27.6" r="1"/><circle class="p" cx="2.8" cy="38.5" r="1.5"/><circle class="b" cx="-5" cy="32.8" r="2.3"/><circle class="b" cx="-4.2" cy="33.8" r="2.4"/><circle class="b" cx="-3.3" cy="34.9" r="2"/><circle class="b" cx="1.3" cy="35.5" r="2.4"/><circle class="b" cx="0.9" cy="34.3" r="1.8"/><circle class="b" cx="0.3" cy="28" r="2.6"/><circle class="b" cx="3.2" cy="28" r="2.5"/><circle class="b" cx="-4.8" cy="31.4" r="2.5"/><circle class="b" cx="0.5" cy="30.1" r="1.9"/><circle class="b" cx="-5.4" cy="28.8" r="1.8"/><circle class="b" cx="0.3" cy="30.1" r="1.6"/><circle class="b" cx="1.7" cy="35.6" r="2"/><circle class="b" cx="-0.3" cy="32.6" r="2"/><circle class="b" cx="0.1" cy="32.8" r="2.1"/><circle class="b" cx="-5.6" cy="32.9" r="2"/><circle class="b" cx="1.5" cy="30.4" r="2.3"/><circle class="b" cx="-4.9" cy="29.2" r="2.6"/><circle class="b" cx="-0.8" cy="32.4" r="2"/><circle class="b" cx="5.9" cy="28.4" r="2.2"/><circle class="b" cx="-0.1" cy="26.7" r="2.1"/><circle class="b" cx="1.2" cy="34.5" r="2.4"/><circle class="b" cx="-5.6" cy="28" r="1.8"/><circle class="b" cx="0.8" cy="27.1" r="3.4"/><circle class="b" cx="-2.1" cy="29.4" r="2.9"/><circle class="b" cx="-0.4" cy="28.1" r="3.5"/><circle class="b" cx="-1.2" cy="26.7" r="2.9"/></g><g transform="translate(539.6,590.4) scale(1.008)"><use href="#mb"/><circle class="s" cx="3.6" cy="39.2" r="1.1"/><circle class="s" cx="5" cy="38.3" r="1.5"/><circle class="s" cx="-1.8" cy="16.7" r="1.9"/><circle class="s" cx="-0.9" cy="23.7" r="1.3"/><circle class="p" cx="0.9" cy="29.7" r="1.5"/><circle class="p" cx="3.7" cy="35" r="1"/><circle class="p" cx="2.1" cy="31.8" r="0.9"/><circle class="p" cx="4.2" cy="31.5" r="1.1"/><circle class="p" cx="-7.6" cy="28.3" r="1.2"/><circle class="p" cx="3.5" cy="27.1" r="1.5"/><circle class="p" cx="0.4" cy="35.9" r="1"/><circle class="p" cx="-4.3" cy="34.9" r="1.6"/><circle class="p" cx="0.1" cy="25.9" r="1"/><circle class="p" cx="-0.8" cy="24.7" r="1.6"/><circle class="p" cx="2" cy="30" r="1.5"/><circle class="p" cx="4.1" cy="33.4" r="1"/><circle class="p" cx="0.5" cy="35.9" r="1"/><circle class="p" cx="-4.4" cy="31.6" r="1.2"/><circle class="p" cx="1.9" cy="30.8" r="0.9"/><circle class="p" cx="2.1" cy="34.1" r="1.6"/><circle class="p" cx="2.3" cy="25.9" r="1.6"/><circle class="p" cx="1.7" cy="31.5" r="0.9"/><circle class="p" cx="2.5" cy="24.2" r="1.1"/><circle class="p" cx="4.3" cy="27.9" r="1.3"/><circle class="p" cx="1.3" cy="24.1" r="1.3"/><circle class="p" cx="-1.8" cy="33.8" r="1.1"/><circle class="b" cx="6.3" cy="28.5" r="2.5"/><circle class="b" cx="-0.1" cy="29.2" r="2.1"/><circle class="b" cx="4.6" cy="29.6" r="2.2"/><circle class="b" cx="-3.8" cy="27.2" r="2.3"/><circle class="b" cx="-4.2" cy="30.1" r="2.6"/><circle class="b" cx="-3.8" cy="33.2" r="2.6"/><circle class="b" cx="-0.6" cy="32.1" r="1.6"/><circle class="b" cx="2.4" cy="31.8" r="2.1"/><circle class="b" cx="6.1" cy="30.9" r="2.2"/><circle class="b" cx="-4" cy="25.4" r="1.9"/><circle class="b" cx="-5.6" cy="32.8" r="2.5"/><circle class="b" cx="0.9" cy="26.9" r="2.5"/><circle class="b" cx="2.2" cy="30.2" r="2.1"/><circle class="b" cx="2.1" cy="30.5" r="2.6"/><circle class="b" cx="-1.4" cy="31.8" r="2.5"/><circle class="b" cx="2.7" cy="34.9" r="2"/><circle class="b" cx="-0.5" cy="35.4" r="1.8"/><circle class="b" cx="1.7" cy="29.6" r="1.7"/><circle class="b" cx="3.9" cy="34.6" r="1.9"/><circle class="b" cx="0.2" cy="33.6" r="1.6"/><circle class="b" cx="-3.4" cy="27.8" r="2.4"/><circle class="b" cx="2.6" cy="26.5" r="2.2"/><circle class="b" cx="2.3" cy="29.3" r="3.4"/><circle class="b" cx="-1.1" cy="29.8" r="2.7"/><circle class="b" cx="0.3" cy="26.5" r="2.5"/><circle class="b" cx="2.2" cy="32.4" r="3.3"/><circle class="c" cx="-0.7" cy="30.8" r="1.3"/></g><g transform="translate(559.6,590.4) scale(1.008)"><use href="#mb"/><circle class="s" cx="1" cy="24.6" r="1.8"/><circle class="s" cx="5.7" cy="37.3" r="1.4"/><circle class="s" cx="6.3" cy="21.4" r="1.4"/><circle class="s" cx="-0.8" cy="36" r="1.1"/><circle class="p" cx="6.6" cy="27.4" r="1.2"/><circle class="p" cx="-6.8" cy="33.6" r="1.4"/><circle class="p" cx="-1.5" cy="29.9" r="1.2"/><circle class="p" cx="-2.1" cy="36.1" r="1.5"/><circle class="p" cx="3.5" cy="38.1" r="1.1"/><circle class="p" cx="-1.4" cy="24.6" r="1.4"/><circle class="p" cx="0.1" cy="27.1" r="1.3"/><circle class="p" cx="-5.5" cy="36.9" r="0.9"/><circle class="p" cx="2.6" cy="32.5" r="0.8"/><circle class="p" cx="4.3" cy="34.2" r="1.3"/><circle class="p" cx="-2" cy="31.6" r="0.9"/><circle class="p" cx="6.5" cy="32.2" r="1"/><circle class="p" cx="-4.8" cy="29.7" r="1.5"/><circle class="p" cx="-3.9" cy="31.8" r="1.4"/><circle class="p" cx="-6.6" cy="31.5" r="1.5"/><circle class="p" cx="4.5" cy="33.1" r="1.1"/><circle class="p" cx="-0.5" cy="32.6" r="1.1"/><circle class="p" cx="-0.3" cy="23.1" r="1.5"/><circle class="p" cx="2.6" cy="28.4" r="0.8"/><circle class="p" cx="-7.1" cy="26.8" r="0.8"/><circle class="p" cx="-4.9" cy="32.4" r="1.4"/><circle class="p" cx="2.1" cy="24.3" r="1.4"/><circle class="b" cx="5.4" cy="30.6" r="2.5"/><circle class="b" cx="-0.5" cy="31" r="2.4"/><circle class="b" cx="0.7" cy="29.5" r="2.2"/><circle class="b" cx="-1.7" cy="34.8" r="2.1"/><circle class="b" cx="3.6" cy="25.7" r="1.8"/><circle class="b" cx="-2" cy="28.6" r="1.7"/><circle class="b" cx="-1.5" cy="26.4" r="2.5"/><circle class="b" cx="5.1" cy="27.4" r="2.1"/><circle class="b" cx="2.4" cy="32.6" r="1.6"/><circle class="b" cx="-5.8" cy="29.6" r="1.6"/><circle class="b" cx="0.3" cy="29.9" r="2.6"/><circle class="b" cx="-1.2" cy="32.8" r="2.5"/><circle class="b" cx="-4.4" cy="30.6" r="2.5"/><circle class="b" cx="1.1" cy="29.9" r="2.3"/><circle class="b" cx="4.1" cy="32.5" r="2"/><circle class="b" cx="0.5" cy="24.9" r="2.3"/><circle class="b" cx="2.1" cy="26.5" r="1.9"/><circle class="b" cx="3.8" cy="31.6" r="2.3"/><circle class="b" cx="3.4" cy="30.6" r="2.6"/><circle class="b" cx="-4.1" cy="34.5" r="2.3"/><circle class="b" cx="1.1" cy="32.9" r="2.4"/><circle class="b" cx="-1.1" cy="27" r="2.1"/><circle class="b" cx="-1" cy="27.3" r="3.3"/><circle class="b" cx="-3.2" cy="31.8" r="3.1"/><circle class="b" cx="-3.5" cy="28.5" r="3.1"/><circle class="b" cx="-0.9" cy="29.9" r="2.6"/></g>
<rect x="61.5" y="645.1" width="103.8" height="52.1" fill="#323232"/><path d="M62.5,645.1v8.9M68.5,645.1v8.9M74.3,645.1v8.9M79.6,645.1v8.9M85,645.1v8.9M90.7,645.1v8.9M96.7,645.1v8.9M103,645.1v8.9M108.3,645.1v8.9M113.7,645.1v8.9M119.5,645.1v8.9M124.6,645.1v8.9M130.8,645.1v8.9M137.5,645.1v8.9M144.3,645.1v8.9M150.5,645.1v8.9M156,645.1v8.9" stroke="#1c1c1c" stroke-width="2"/><path d="M82.2,654v41.7M102.8,654v41.7M123.2,654v41.7M143.7,654v41.7" stroke="#262626" stroke-width="1.4"/><g transform="translate(71.8,645.1) scale(1.002)"><use href="#mb"/><circle class="s" cx="1.1" cy="35.2" r="1.2"/><circle class="s" cx="-5.7" cy="17.4" r="1"/><circle class="s" cx="0.5" cy="27.4" r="2.1"/><circle class="s" cx="1.8" cy="27.1" r="1"/><circle class="p" cx="3.9" cy="10.1" r="0.7"/><circle class="p" cx="-5.3" cy="8.2" r="0.7"/><circle class="p" cx="-2.5" cy="7.3" r="0.7"/><circle class="p" cx="-0.1" cy="17.4" r="1.1"/><circle class="p" cx="-3.8" cy="14.9" r="1.3"/><circle class="p" cx="0.5" cy="12.8" r="1"/><circle class="p" cx="0.5" cy="21.2" r="1"/><circle class="p" cx="-0.9" cy="7.9" r="0.8"/><circle class="p" cx="0.4" cy="8.8" r="1"/><circle class="p" cx="0.8" cy="8" r="0.8"/><circle class="p" cx="-2.1" cy="15.7" r="1.1"/><circle class="p" cx="2.9" cy="14.4" r="1.4"/><circle class="p" cx="-4.1" cy="10.6" r="1.4"/><circle class="p" cx="2.6" cy="17.5" r="0.9"/><circle class="b" cx="0.1" cy="18.7" r="1.7"/><circle class="b" cx="-0.8" cy="31.1" r="1.8"/><circle class="b" cx="-5.3" cy="36.1" r="2.1"/><circle class="b" cx="-3.9" cy="22.1" r="2.2"/><circle class="b" cx="1.4" cy="22.4" r="1.9"/><circle class="b" cx="0.6" cy="36.8" r="2"/><circle class="b" cx="0.5" cy="34.6" r="2.4"/><circle class="b" cx="-3.5" cy="37.1" r="1.9"/><circle class="b" cx="-1.6" cy="33.6" r="2.6"/><circle class="b" cx="-0.5" cy="36.2" r="1.8"/><circle class="b" cx="-3.3" cy="24.9" r="2.4"/><circle class="b" cx="-4.1" cy="35.2" r="2.3"/><circle class="b" cx="3" cy="24.6" r="2.6"/><circle class="b" cx="1.9" cy="38.3" r="2.5"/><circle class="b" cx="3.7" cy="29.1" r="2.1"/><circle class="b" cx="3.3" cy="38.8" r="1.8"/><circle class="b" cx="-2.6" cy="31.1" r="2.5"/><circle class="b" cx="-2.1" cy="15.5" r="2.3"/><circle class="b" cx="-5.1" cy="19.2" r="2.2"/><circle class="b" cx="3.5" cy="25.4" r="2.2"/><circle class="b" cx="1.5" cy="25" r="2.2"/><circle class="b" cx="-1" cy="16.7" r="1.7"/><circle class="b" cx="-4.4" cy="37.5" r="2.2"/><circle class="b" cx="-1.6" cy="34.6" r="2.5"/><circle class="b" cx="5.7" cy="31.7" r="2"/><circle class="b" cx="-6.2" cy="29.5" r="2.6"/><circle class="b" cx="0.3" cy="21.8" r="1.9"/><circle class="b" cx="3.5" cy="19.9" r="2"/><circle class="b" cx="-3.5" cy="33.4" r="2.6"/><circle class="b" cx="0.3" cy="18.1" r="2.5"/><circle class="b" cx="1.2" cy="20.6" r="1.9"/><circle class="b" cx="-1.6" cy="27.6" r="2.5"/><circle class="b" cx="-2.5" cy="36" r="2.7"/><circle class="b" cx="0.3" cy="33.2" r="2.7"/><circle class="b" cx="6.5" cy="29" r="2.3"/><circle class="b" cx="5.7" cy="32.2" r="2"/><circle class="b" cx="-2.3" cy="35.6" r="2.9"/><circle class="b" cx="-2.1" cy="36.1" r="3.4"/><circle class="b" cx="-0.7" cy="27.1" r="4"/><circle class="b" cx="-2.4" cy="21" r="2.9"/><circle class="b" cx="1.3" cy="32.1" r="3.7"/><circle class="c" cx="-1" cy="30" r="6"/><circle class="g" cx="-1" cy="30" r="4.9"/><circle class="y" cx="-1" cy="30" r="3.8"/><circle class="o" cx="-1" cy="30" r="2.8"/><circle class="r" cx="-1" cy="30" r="1.7"/><circle class="c" cx="2" cy="12" r="3"/><circle class="g" cx="2" cy="12" r="2.5"/><circle class="y" cx="2" cy="12" r="1.9"/><circle class="o" cx="2" cy="12" r="1.4"/><circle class="r" cx="2" cy="12" r="0.8"/></g><g transform="translate(92.5,645.1) scale(1.002)"><use href="#mb"/><circle class="s" cx="-5.8" cy="38.2" r="2.2"/><circle class="s" cx="-1.7" cy="24.2" r="1.8"/><circle class="s" cx="0.9" cy="18.5" r="1.6"/><circle class="s" cx="-5" cy="39.7" r="1.3"/><circle class="p" cx="3.2" cy="12.2" r="1.1"/><circle class="p" cx="-4.6" cy="29.2" r="1"/><circle class="p" cx="2.5" cy="27.2" r="0.8"/><circle class="p" cx="-1.3" cy="26.7" r="1.5"/><circle class="p" cx="-5.9" cy="23" r="0.7"/><circle class="p" cx="-2.6" cy="31.4" r="1.2"/><circle class="p" cx="4.3" cy="17.9" r="1.4"/><circle class="p" cx="2.6" cy="28.9" r="1.1"/><circle class="p" cx="-6.4" cy="24.1" r="1.5"/><circle class="p" cx="-5.6" cy="12.3" r="0.9"/><circle class="p" cx="-3.8" cy="31.6" r="1"/><circle class="p" cx="1.8" cy="19.7" r="0.9"/><circle class="p" cx="-4.5" cy="10.4" r="0.7"/><circle class="p" cx="0.3" cy="22.1" r="0.8"/><circle class="p" cx="-3.4" cy="19.2" r="0.8"/><circle class="p" cx="-1.2" cy="15.3" r="1.5"/><circle class="p" cx="4.2" cy="9.8" r="1.4"/><circle class="p" cx="5.6" cy="13.3" r="0.9"/><circle class="p" cx="2.1" cy="20.2" r="0.7"/><circle class="p" cx="-2.8" cy="27.3" r="1.3"/><circle class="b" cx="-1.5" cy="32.9" r="2.1"/><circle class="b" cx="-2.2" cy="23.3" r="1.7"/><circle class="b" cx="-4.8" cy="35.5" r="1.9"/><circle class="b" cx="-3.5" cy="38.7" r="2.5"/><circle class="b" cx="-0.4" cy="33.9" r="1.9"/><circle class="b" cx="0.7" cy="21.6" r="1.8"/><circle class="b" cx="-2.1" cy="37.2" r="2.1"/><circle class="b" cx="-0.8" cy="32.9" r="2.1"/><circle class="b" cx="-6" cy="28.1" r="1.7"/><circle class="b" cx="1.4" cy="24.4" r="1.9"/><circle class="b" cx="0.2" cy="30.2" r="1.9"/><circle class="b" cx="-3.5" cy="32.8" r="2.4"/><circle class="b" cx="4.6" cy="32.5" r="1.8"/><circle class="b" cx="3" cy="31.9" r="1.8"/><circle class="b" cx="2.9" cy="35.7" r="2.6"/><circle class="b" cx="3.2" cy="30.4" r="1.9"/><circle class="b" cx="-2.2" cy="34" r="2.4"/><circle class="b" cx="-5.1" cy="32.2" r="2.1"/><circle class="b" cx="0.5" cy="35" r="1.8"/><circle class="b" cx="-3.5" cy="35.9" r="1.7"/><circle class="b" cx="-2.8" cy="33.5" r="2.3"/><circle class="b" cx="4" cy="28.3" r="1.8"/><circle class="b" cx="-4.5" cy="27.3" r="2.1"/><circle class="b" cx="-5.5" cy="27.1" r="1.9"/><circle class="b" cx="-3.7" cy="38.2" r="1.8"/><circle class="b" cx="-1" cy="26.8" r="2"/><circle class="b" cx="2" cy="21.9" r="2.1"/><circle class="b" cx="-0.2" cy="26.4" r="2.2"/><circle class="b" cx="-5.8" cy="27" r="2.5"/><circle class="b" cx="-3.2" cy="30.2" r="1.9"/><circle class="b" cx="1.2" cy="30.3" r="3"/><circle class="b" cx="-0.8" cy="30.4" r="3.5"/><circle class="b" cx="-1.3" cy="25" r="3.2"/><circle class="b" cx="-0.2" cy="30.4" r="3.5"/><circle class="b" cx="1.7" cy="27.1" r="3.3"/><circle class="c" cx="-1" cy="28" r="3.2"/><circle class="g" cx="-1" cy="28" r="2.6"/><circle class="y" cx="-1" cy="28" r="2"/><circle class="o" cx="-1" cy="28" r="1.5"/><circle class="r" cx="-1" cy="28" r="0.9"/><circle class="c" cx="3" cy="36" r="2"/><circle class="g" cx="3" cy="36" r="1.6"/><circle class="y" cx="3" cy="36" r="1.3"/><circle class="o" cx="3" cy="36" r="0.9"/><circle class="r" cx="3" cy="36" r="0.6"/></g><g transform="translate(133.5,645.1) scale(1.002)"><use href="#mb"/><circle class="s" cx="-3.7" cy="21.6" r="1.5"/><circle class="s" cx="3.4" cy="39" r="1.2"/><circle class="s" cx="5.8" cy="31.5" r="1.2"/><circle class="s" cx="3.8" cy="21.6" r="1"/><circle class="p" cx="-1.9" cy="15.8" r="1.4"/><circle class="p" cx="1.2" cy="18.6" r="0.8"/><circle class="p" cx="-5" cy="14.8" r="0.9"/><circle class="p" cx="-1.6" cy="4.6" r="0.8"/><circle class="p" cx="-0.2" cy="18.4" r="1"/><circle class="p" cx="-3.8" cy="16.5" r="1.1"/><circle class="p" cx="4.4" cy="9.9" r="0.8"/><circle class="p" cx="-5.1" cy="14" r="1.1"/><circle class="p" cx="-0.1" cy="20.2" r="1"/><circle class="p" cx="-6" cy="8.9" r="1.1"/><circle class="p" cx="-1.1" cy="16.1" r="0.8"/><circle class="p" cx="0.1" cy="21.5" r="1.2"/><circle class="p" cx="-4.8" cy="19.9" r="1.5"/><circle class="p" cx="-4" cy="21.2" r="1.1"/><circle class="b" cx="0.3" cy="33.6" r="2.2"/><circle class="b" cx="-1.9" cy="19.7" r="2.4"/><circle class="b" cx="-0.3" cy="24.9" r="2.1"/><circle class="b" cx="-3.9" cy="17.7" r="1.8"/><circle class="b" cx="-2.2" cy="21" r="2.7"/><circle class="b" cx="-6.5" cy="24" r="2.6"/><circle class="b" cx="-3.7" cy="26.2" r="2"/><circle class="b" cx="-0.2" cy="32.8" r="2.8"/><circle class="b" cx="2.6" cy="17.3" r="1.9"/><circle class="b" cx="4.6" cy="24.5" r="2.4"/><circle class="b" cx="1.3" cy="42" r="1.7"/><circle class="b" cx="-3.8" cy="33.2" r="2.7"/><circle class="b" cx="-4.6" cy="23.6" r="2.2"/><circle class="b" cx="-0.5" cy="26" r="2.7"/><circle class="b" cx="3.9" cy="22.4" r="2.2"/><circle class="b" cx="-5.1" cy="26.6" r="2.6"/><circle class="b" cx="0.6" cy="19.2" r="1.9"/><circle class="b" cx="2.5" cy="25.6" r="2.5"/><circle class="b" cx="-3.4" cy="26.6" r="2"/><circle class="b" cx="3.3" cy="36.9" r="2.3"/><circle class="b" cx="4.2" cy="34.1" r="1.8"/><circle class="b" cx="6" cy="23.7" r="2"/><circle class="b" cx="-2.5" cy="20" r="1.8"/><circle class="b" cx="-4.7" cy="17.6" r="2.5"/><circle class="b" cx="5" cy="23.9" r="2.6"/><circle class="b" cx="1.3" cy="30.7" r="1.9"/><circle class="b" cx="0.4" cy="13.8" r="1.9"/><circle class="b" cx="-6" cy="32.3" r="2.4"/><circle class="b" cx="-5.5" cy="36.2" r="2.6"/><circle class="b" cx="4.9" cy="31.8" r="2.3"/><circle class="b" cx="-4.3" cy="22" r="2.6"/><circle class="b" cx="0.4" cy="23.3" r="2.7"/><circle class="b" cx="-5.9" cy="29.8" r="1.9"/><circle class="b" cx="-3" cy="35.4" r="2.8"/><circle class="b" cx="5.4" cy="23.8" r="2"/><circle class="b" cx="-2.8" cy="31.5" r="2.6"/><circle class="b" cx="-2.4" cy="21.7" r="3.3"/><circle class="b" cx="2.4" cy="28.7" r="3.1"/><circle class="b" cx="-1.7" cy="31.8" r="3.2"/><circle class="b" cx="0.5" cy="26.5" r="3.2"/><circle class="b" cx="-2" cy="26" r="3.6"/><circle class="c" cx="0" cy="28" r="5.5"/><circle class="g" cx="0" cy="28" r="4.5"/><circle class="y" cx="0" cy="28" r="3.5"/><circle class="o" cx="0" cy="28" r="2.5"/><circle class="r" cx="0" cy="28" r="1.5"/></g><g transform="translate(153.8,645.1) scale(1.002)"><use href="#mb"/><circle class="s" cx="3.2" cy="23.3" r="1.9"/><circle class="s" cx="-2.6" cy="25.2" r="2.1"/><circle class="s" cx="-5.1" cy="28.1" r="1.6"/><circle class="s" cx="3.4" cy="19.9" r="1.9"/><circle class="p" cx="-6.3" cy="16.4" r="1.4"/><circle class="p" cx="2" cy="10.5" r="0.9"/><circle class="p" cx="2" cy="11.9" r="1"/><circle class="p" cx="-3.5" cy="31.3" r="0.8"/><circle class="p" cx="3.8" cy="11.3" r="1.3"/><circle class="p" cx="-4.1" cy="10.1" r="0.7"/><circle class="p" cx="-5.9" cy="19" r="0.9"/><circle class="p" cx="2.1" cy="17.5" r="1"/><circle class="p" cx="3" cy="29.6" r="1.3"/><circle class="p" cx="3.4" cy="31.3" r="1.1"/><circle class="p" cx="3.6" cy="12.3" r="1.3"/><circle class="p" cx="-1.7" cy="28.3" r="1"/><circle class="p" cx="3.1" cy="16.8" r="1.3"/><circle class="p" cx="-2.5" cy="7.4" r="1.4"/><circle class="p" cx="-1" cy="19.1" r="1.5"/><circle class="p" cx="4" cy="11.9" r="1"/><circle class="p" cx="5.3" cy="22.3" r="1.4"/><circle class="p" cx="0.8" cy="25" r="0.9"/><circle class="p" cx="4.7" cy="11.1" r="1.5"/><circle class="p" cx="-2.6" cy="10.6" r="1.2"/><circle class="b" cx="-4.4" cy="29.6" r="2.5"/><circle class="b" cx="4" cy="38.3" r="2.1"/><circle class="b" cx="1.3" cy="20.9" r="1.9"/><circle class="b" cx="5.5" cy="34.6" r="1.7"/><circle class="b" cx="-2.2" cy="29.1" r="2.1"/><circle class="b" cx="-3.1" cy="22.2" r="2.4"/><circle class="b" cx="-4.8" cy="37.2" r="2.3"/><circle class="b" cx="1.7" cy="22.9" r="1.7"/><circle class="b" cx="3.1" cy="25.2" r="2.2"/><circle class="b" cx="0.3" cy="20.3" r="2.1"/><circle class="b" cx="-4.8" cy="29.9" r="2"/><circle class="b" cx="4.5" cy="37.5" r="1.9"/><circle class="b" cx="1" cy="32.3" r="2.4"/><circle class="b" cx="-5.4" cy="32.3" r="2.2"/><circle class="b" cx="-2.4" cy="22" r="1.7"/><circle class="b" cx="-0.5" cy="36.6" r="2"/><circle class="b" cx="5.7" cy="35" r="2"/><circle class="b" cx="-1.3" cy="28.7" r="2.2"/><circle class="b" cx="-0.7" cy="29.3" r="1.8"/><circle class="b" cx="-5.1" cy="35.1" r="1.8"/><circle class="b" cx="-0.8" cy="31" r="2.2"/><circle class="b" cx="2.5" cy="29.6" r="2.2"/><circle class="b" cx="-1.8" cy="32.3" r="1.8"/><circle class="b" cx="-2.7" cy="26.1" r="2.2"/><circle class="b" cx="-0.2" cy="37.4" r="1.9"/><circle class="b" cx="-0.4" cy="20.5" r="2.5"/><circle class="b" cx="-0.8" cy="34.6" r="2.6"/><circle class="b" cx="4" cy="29.5" r="2.4"/><circle class="b" cx="-3.8" cy="22.4" r="2.3"/><circle class="b" cx="4" cy="33.6" r="1.7"/><circle class="b" cx="1.8" cy="25.8" r="2.9"/><circle class="b" cx="-3.4" cy="32.6" r="3.1"/><circle class="b" cx="-0.7" cy="30.7" r="3.2"/><circle class="b" cx="3.8" cy="32.1" r="3.5"/><circle class="b" cx="-3.8" cy="32.9" r="3"/><circle class="c" cx="1" cy="26" r="3.5"/><circle class="g" cx="1" cy="26" r="2.9"/><circle class="y" cx="1" cy="26" r="2.2"/><circle class="c" cx="0" cy="34" r="2.5"/><circle class="g" cx="0" cy="34" r="2.1"/><circle class="y" cx="0" cy="34" r="1.6"/><circle class="o" cx="0" cy="34" r="1.1"/></g>
<rect x="168.8" y="645.1" width="103.6" height="52.1" fill="#323232"/><path d="M169.8,645.1v8.9M176.8,645.1v8.9M183.1,645.1v8.9M189,645.1v8.9M195.9,645.1v8.9M202.6,645.1v8.9M209.1,645.1v8.9M214.6,645.1v8.9M219.8,645.1v8.9M226.5,645.1v8.9M232.6,645.1v8.9M238.7,645.1v8.9M244.5,645.1v8.9M250.7,645.1v8.9M256.3,645.1v8.9M262.8,645.1v8.9M269,645.1v8.9" stroke="#1c1c1c" stroke-width="2"/><path d="M189.5,654v41.7M210.1,654v41.7M230.6,654v41.7M251,654v41.7" stroke="#262626" stroke-width="1.4"/><g transform="translate(179.1,645.1) scale(1.002)"><use href="#mb"/><circle class="s" cx="-1.1" cy="30.6" r="1.4"/><circle class="s" cx="-6.1" cy="21.2" r="1.5"/><circle class="s" cx="-3.9" cy="26.1" r="1.6"/><circle class="s" cx="-5.8" cy="14.4" r="1.6"/><circle class="p" cx="-2.1" cy="29.5" r="1"/><circle class="p" cx="-2.5" cy="36" r="0.9"/><circle class="p" cx="3.4" cy="28.9" r="1.4"/><circle class="p" cx="-3.2" cy="24.3" r="1.3"/><circle class="p" cx="-6" cy="32.6" r="1"/><circle class="p" cx="1.8" cy="29.3" r="1.2"/><circle class="p" cx="-7.3" cy="33.4" r="1.2"/><circle class="p" cx="-6.8" cy="29.1" r="1"/><circle class="p" cx="7.7" cy="30.8" r="1"/><circle class="p" cx="-2" cy="27.7" r="1"/><circle class="p" cx="7.1" cy="27.7" r="1"/><circle class="p" cx="0.6" cy="38.9" r="1.3"/><circle class="p" cx="-6.4" cy="32.5" r="1"/><circle class="p" cx="-7.7" cy="27.9" r="1"/><circle class="p" cx="-1.7" cy="37.1" r="1.4"/><circle class="p" cx="-1.7" cy="24.9" r="1.2"/><circle class="p" cx="4.6" cy="25" r="0.9"/><circle class="p" cx="2.3" cy="33.8" r="1.6"/><circle class="p" cx="-1.4" cy="38.3" r="1"/><circle class="p" cx="1" cy="35.4" r="0.8"/><circle class="p" cx="1.6" cy="24.8" r="1"/><circle class="p" cx="-5.6" cy="34.5" r="1.5"/><circle class="b" cx="-3" cy="26.5" r="1.7"/><circle class="b" cx="-4.6" cy="26.5" r="2.5"/><circle class="b" cx="-0.6" cy="31.7" r="1.8"/><circle class="b" cx="4.9" cy="27.8" r="2.6"/><circle class="b" cx="-1.7" cy="27.4" r="2.2"/><circle class="b" cx="-2" cy="26" r="2.5"/><circle class="b" cx="0.1" cy="33.8" r="2.5"/><circle class="b" cx="-2.8" cy="32.9" r="2.3"/><circle class="b" cx="-0.6" cy="35.2" r="2.2"/><circle class="b" cx="4" cy="26.7" r="1.8"/><circle class="b" cx="4.3" cy="28.6" r="1.6"/><circle class="b" cx="-4" cy="34.2" r="1.7"/><circle class="b" cx="4.6" cy="31.3" r="2.3"/><circle class="b" cx="-0.7" cy="28.2" r="2.3"/><circle class="b" cx="3.3" cy="28.5" r="2.5"/><circle class="b" cx="1.4" cy="33.2" r="2"/><circle class="b" cx="1.3" cy="25.5" r="1.8"/><circle class="b" cx="0.7" cy="29.4" r="2.4"/><circle class="b" cx="-5.5" cy="28.8" r="2.1"/><circle class="b" cx="5.4" cy="26.7" r="1.7"/><circle class="b" cx="1.9" cy="25.7" r="1.6"/><circle class="b" cx="-0.7" cy="31.9" r="1.7"/><circle class="b" cx="0.2" cy="30.9" r="2.8"/><circle class="b" cx="-2.2" cy="31.3" r="3.2"/><circle class="b" cx="-3.8" cy="29.5" r="2.6"/><circle class="b" cx="-3.8" cy="31" r="2.8"/><circle class="c" cx="0.2" cy="30.7" r="1.3"/></g><g transform="translate(199.8,645.1) scale(1.002)"><use href="#mb"/><circle class="s" cx="0.2" cy="18.9" r="2.2"/><circle class="s" cx="1.9" cy="30.2" r="1.2"/><circle class="s" cx="3.7" cy="32.9" r="2.1"/><circle class="s" cx="-2.4" cy="16.9" r="2.1"/><circle class="p" cx="-1.9" cy="27.6" r="1.3"/><circle class="p" cx="-1.1" cy="34.2" r="1.5"/><circle class="p" cx="-5.9" cy="27.4" r="0.9"/><circle class="p" cx="7.5" cy="32.3" r="1.3"/><circle class="p" cx="4.3" cy="29.2" r="1.6"/><circle class="p" cx="2.2" cy="35.7" r="1.4"/><circle class="p" cx="-1.3" cy="27.8" r="1.2"/><circle class="p" cx="-1.8" cy="28.7" r="1.4"/><circle class="p" cx="3.7" cy="28.1" r="0.9"/><circle class="p" cx="6.4" cy="32.3" r="1"/><circle class="p" cx="1.1" cy="26.2" r="1.4"/><circle class="p" cx="-6.6" cy="31.6" r="1"/><circle class="p" cx="2.1" cy="34" r="1.2"/><circle class="p" cx="0.8" cy="38.3" r="1.6"/><circle class="p" cx="-0.7" cy="24.5" r="0.8"/><circle class="p" cx="-2.4" cy="29.9" r="0.9"/><circle class="p" cx="-6.5" cy="35.3" r="1.3"/><circle class="p" cx="5.6" cy="33" r="1.3"/><circle class="p" cx="-6" cy="25.8" r="1.6"/><circle class="p" cx="2.4" cy="30.1" r="1.6"/><circle class="p" cx="4.4" cy="24.5" r="0.8"/><circle class="p" cx="-0.2" cy="26.7" r="1.5"/><circle class="b" cx="3.3" cy="33" r="2.1"/><circle class="b" cx="-6.3" cy="31" r="1.8"/><circle class="b" cx="-6" cy="30.5" r="2.3"/><circle class="b" cx="5.7" cy="31.7" r="1.8"/><circle class="b" cx="3.8" cy="25.5" r="2"/><circle class="b" cx="-1.5" cy="32" r="2.4"/><circle class="b" cx="3.6" cy="26.2" r="2.5"/><circle class="b" cx="-1.3" cy="31.4" r="2.4"/><circle class="b" cx="-3.7" cy="28.9" r="2.4"/><circle class="b" cx="-4.7" cy="29.4" r="2.3"/><circle class="b" cx="2.5" cy="34.5" r="1.7"/><circle class="b" cx="2.6" cy="32.2" r="2.2"/><circle class="b" cx="-5" cy="31.8" r="1.7"/><circle class="b" cx="1.2" cy="25.3" r="2.2"/><circle class="b" cx="-1.6" cy="33" r="2.6"/><circle class="b" cx="5.3" cy="33.4" r="1.9"/><circle class="b" cx="-0.6" cy="35.2" r="2"/><circle class="b" cx="3.1" cy="32.5" r="1.9"/><circle class="b" cx="-2.5" cy="32.7" r="2.1"/><circle class="b" cx="1.3" cy="30.2" r="2.5"/><circle class="b" cx="3.9" cy="28.6" r="1.9"/><circle class="b" cx="-0.7" cy="31.5" r="2"/><circle class="b" cx="1.8" cy="27" r="2.7"/><circle class="b" cx="-1.6" cy="30.2" r="3.1"/><circle class="b" cx="-2.3" cy="31.1" r="3.2"/><circle class="b" cx="0.2" cy="29.2" r="3.3"/></g><g transform="translate(220.3,645.1) scale(1.002)"><use href="#mb"/><circle class="s" cx="3.3" cy="33" r="1.3"/><circle class="s" cx="5.6" cy="29.7" r="1.8"/><circle class="s" cx="-3.6" cy="30.8" r="1.4"/><circle class="s" cx="5.4" cy="37.4" r="1.9"/><circle class="p" cx="-0.2" cy="29.8" r="1.8"/><circle class="p" cx="2.4" cy="35.4" r="1.3"/><circle class="p" cx="6.5" cy="30.4" r="1.8"/><circle class="p" cx="3.7" cy="30.3" r="2"/><circle class="p" cx="4.5" cy="28" r="1.9"/><circle class="p" cx="2.9" cy="27.5" r="1.5"/><circle class="p" cx="4.8" cy="30.7" r="1.8"/><circle class="p" cx="1.6" cy="29.4" r="1.2"/><circle class="p" cx="5.2" cy="29.2" r="1.3"/><circle class="p" cx="1.4" cy="28.2" r="1.8"/><circle class="p" cx="-4.3" cy="32.4" r="1.9"/><circle class="p" cx="5.3" cy="33.8" r="1.6"/><circle class="p" cx="4.5" cy="32.2" r="1.9"/><circle class="p" cx="-1.1" cy="32" r="1.5"/><circle class="p" cx="2.8" cy="32.3" r="1.3"/><circle class="p" cx="5.2" cy="31.4" r="1.9"/><circle class="p" cx="1.4" cy="27.6" r="1.9"/><circle class="p" cx="4.6" cy="31.3" r="1.6"/><circle class="p" cx="1.3" cy="33.7" r="1.9"/><circle class="p" cx="1.2" cy="33" r="2.5"/><circle class="p" cx="-2.2" cy="32.7" r="2.2"/><circle class="p" cx="0.1" cy="32.5" r="2.4"/><circle class="p" cx="2.9" cy="31.5" r="2.4"/><circle class="p" cx="-2.9" cy="31.2" r="2"/></g><g transform="translate(240.8,645.1) scale(1.002)"><use href="#mb"/><circle class="s" cx="1.2" cy="17.6" r="2"/><circle class="s" cx="-3.1" cy="32.7" r="2.3"/><circle class="s" cx="-5.4" cy="34.8" r="1.1"/><circle class="s" cx="-4.8" cy="30.2" r="2.1"/><circle class="p" cx="-2.3" cy="28.2" r="1.5"/><circle class="p" cx="0.6" cy="36.4" r="1.6"/><circle class="p" cx="-3.3" cy="33.3" r="1"/><circle class="p" cx="1.2" cy="38.5" r="1"/><circle class="p" cx="1.5" cy="31.3" r="1.4"/><circle class="p" cx="-5" cy="27.9" r="1"/><circle class="p" cx="-1.3" cy="23.5" r="1.6"/><circle class="p" cx="-0.2" cy="37.7" r="1.1"/><circle class="p" cx="-4.4" cy="31" r="0.9"/><circle class="p" cx="1.4" cy="27.3" r="0.8"/><circle class="p" cx="1.1" cy="35" r="0.9"/><circle class="p" cx="-3.5" cy="28.7" r="1.1"/><circle class="p" cx="-7.1" cy="27.2" r="0.9"/><circle class="p" cx="-2.6" cy="35.1" r="1.2"/><circle class="p" cx="-1.5" cy="30" r="1.4"/><circle class="p" cx="6.4" cy="35.9" r="1.2"/><circle class="p" cx="-3.8" cy="34.7" r="1.2"/><circle class="p" cx="-6.2" cy="31.3" r="1"/><circle class="p" cx="-7" cy="29.1" r="1.2"/><circle class="p" cx="0.9" cy="24" r="1.1"/><circle class="p" cx="-6.4" cy="27.4" r="1.1"/><circle class="p" cx="0.9" cy="23.6" r="1.1"/><circle class="b" cx="3.2" cy="31.1" r="2.2"/><circle class="b" cx="3.9" cy="26.7" r="2.3"/><circle class="b" cx="-3.3" cy="27.7" r="2.4"/><circle class="b" cx="3.1" cy="24.9" r="2.5"/><circle class="b" cx="-3.9" cy="27.1" r="2"/><circle class="b" cx="-2.2" cy="25.5" r="2.6"/><circle class="b" cx="-3.4" cy="31.9" r="2.1"/><circle class="b" cx="-1.9" cy="29.9" r="2.3"/><circle class="b" cx="-4.4" cy="32.5" r="2.3"/><circle class="b" cx="5.6" cy="32.8" r="2.5"/><circle class="b" cx="2.8" cy="28.2" r="2.3"/><circle class="b" cx="-0.1" cy="28.4" r="1.7"/><circle class="b" cx="5.2" cy="27.4" r="2.5"/><circle class="b" cx="-3.4" cy="27.3" r="2.2"/><circle class="b" cx="3.6" cy="28.8" r="1.8"/><circle class="b" cx="0.7" cy="29.4" r="2.3"/><circle class="b" cx="-2.7" cy="34.9" r="2.4"/><circle class="b" cx="3.1" cy="32.8" r="2.2"/><circle class="b" cx="5.7" cy="31.5" r="2.1"/><circle class="b" cx="-2.8" cy="32.6" r="1.8"/><circle class="b" cx="4.6" cy="25.9" r="2.4"/><circle class="b" cx="4.6" cy="33.5" r="1.7"/><circle class="b" cx="-2" cy="32.5" r="3.1"/><circle class="b" cx="0.8" cy="30.9" r="3.1"/><circle class="b" cx="2.4" cy="28.5" r="2.8"/><circle class="b" cx="-0" cy="32.8" r="3.1"/></g><g transform="translate(261.1,645.1) scale(1.002)"><use href="#mb"/><circle class="s" cx="0.2" cy="28.7" r="2"/><circle class="s" cx="-2.1" cy="24.2" r="1.7"/><circle class="s" cx="-0.5" cy="31.4" r="1.5"/><circle class="s" cx="0.2" cy="26.8" r="2.3"/><circle class="p" cx="2.6" cy="35.4" r="1.4"/><circle class="p" cx="0.2" cy="30.2" r="1.2"/><circle class="p" cx="-0.4" cy="29.9" r="1.4"/><circle class="p" cx="-0.4" cy="38.4" r="1.6"/><circle class="p" cx="-6.6" cy="29.9" r="1.3"/><circle class="p" cx="-1.1" cy="27.3" r="1.5"/><circle class="p" cx="-6.8" cy="34.7" r="1.4"/><circle class="p" cx="-6.6" cy="35.2" r="1.2"/><circle class="p" cx="-1.3" cy="31.8" r="0.9"/><circle class="p" cx="5.7" cy="34" r="1.4"/><circle class="p" cx="8.5" cy="31" r="1.3"/><circle class="p" cx="4.7" cy="34.4" r="1.1"/><circle class="p" cx="-1.8" cy="38.6" r="1.6"/><circle class="p" cx="3.2" cy="24" r="1.3"/><circle class="p" cx="1.2" cy="32.3" r="0.9"/><circle class="p" cx="-5.6" cy="26.1" r="1.4"/><circle class="p" cx="0.9" cy="36.2" r="0.8"/><circle class="p" cx="-0.2" cy="37.3" r="0.9"/><circle class="p" cx="4" cy="33.7" r="1.4"/><circle class="p" cx="5.8" cy="31.7" r="1.1"/><circle class="p" cx="2.4" cy="32.5" r="1.3"/><circle class="p" cx="-3.4" cy="35.2" r="1.4"/><circle class="b" cx="0.6" cy="33.3" r="1.9"/><circle class="b" cx="5.8" cy="29" r="2.1"/><circle class="b" cx="3.7" cy="33.7" r="2.2"/><circle class="b" cx="4.3" cy="26.8" r="2.1"/><circle class="b" cx="3.3" cy="31.2" r="1.9"/><circle class="b" cx="-3.6" cy="25.9" r="2.5"/><circle class="b" cx="4" cy="31" r="2.2"/><circle class="b" cx="0.8" cy="24.9" r="1.8"/><circle class="b" cx="3.9" cy="34.3" r="2"/><circle class="b" cx="-0.9" cy="29.5" r="2.4"/><circle class="b" cx="-3.1" cy="34.1" r="1.7"/><circle class="b" cx="-0.7" cy="26.8" r="1.8"/><circle class="b" cx="-4.9" cy="33.9" r="2.2"/><circle class="b" cx="1.6" cy="30.1" r="2.4"/><circle class="b" cx="-4" cy="30.4" r="2.5"/><circle class="b" cx="6.2" cy="28.4" r="1.6"/><circle class="b" cx="-3.7" cy="34.5" r="2.4"/><circle class="b" cx="0.5" cy="35.6" r="2.5"/><circle class="b" cx="5.5" cy="28.5" r="1.6"/><circle class="b" cx="5.7" cy="32.2" r="2"/><circle class="b" cx="-3.2" cy="34.2" r="2.2"/><circle class="b" cx="-2" cy="33.3" r="2"/><circle class="b" cx="1.5" cy="29.7" r="3"/><circle class="b" cx="-3.6" cy="30.9" r="3.2"/><circle class="b" cx="0.7" cy="27.7" r="2.8"/><circle class="b" cx="-0" cy="33.4" r="2.6"/></g>
<rect x="275.9" y="645.1" width="103" height="52.1" fill="#323232"/><path d="M276.9,645.1v8.9M282,645.1v8.9M287.5,645.1v8.9M293,645.1v8.9M299.9,645.1v8.9M306.3,645.1v8.9M312.3,645.1v8.9M319.3,645.1v8.9M324.5,645.1v8.9M331,645.1v8.9M337.2,645.1v8.9M343.2,645.1v8.9M348.8,645.1v8.9M354.6,645.1v8.9M359.8,645.1v8.9M364.9,645.1v8.9M371.2,645.1v8.9" stroke="#1c1c1c" stroke-width="2"/><path d="M296.5,654v41.7M317.1,654v41.7M337.6,654v41.7M358,654v41.7" stroke="#262626" stroke-width="1.4"/><g transform="translate(286.2,645.1) scale(1.002)"><use href="#mb"/><circle class="s" cx="-4.5" cy="26" r="1.8"/><circle class="s" cx="3.3" cy="19.6" r="1.5"/><circle class="s" cx="-0.8" cy="39.3" r="1.2"/><circle class="s" cx="4.3" cy="34.3" r="1.3"/><circle class="p" cx="-3.5" cy="10.1" r="0.8"/><circle class="p" cx="-1.2" cy="16.4" r="1.2"/><circle class="p" cx="0.5" cy="11.3" r="1"/><circle class="p" cx="3.9" cy="8.6" r="1.4"/><circle class="p" cx="5.2" cy="16" r="1.5"/><circle class="p" cx="1.7" cy="22.4" r="0.9"/><circle class="p" cx="0.7" cy="7.6" r="1.1"/><circle class="p" cx="-1.4" cy="7.1" r="1.4"/><circle class="p" cx="-2.8" cy="15.3" r="1"/><circle class="p" cx="-3" cy="9.6" r="1.2"/><circle class="p" cx="1.6" cy="14.2" r="1.4"/><circle class="p" cx="-3" cy="14.9" r="1.2"/><circle class="p" cx="2" cy="14.5" r="1.1"/><circle class="p" cx="-1.4" cy="19" r="0.8"/><circle class="b" cx="-3.7" cy="29.5" r="2.5"/><circle class="b" cx="5.2" cy="21.5" r="1.8"/><circle class="b" cx="-2.6" cy="28.5" r="2.1"/><circle class="b" cx="-1" cy="25.5" r="1.8"/><circle class="b" cx="4" cy="28" r="2.8"/><circle class="b" cx="3.4" cy="28.7" r="1.9"/><circle class="b" cx="-0.1" cy="21.2" r="1.8"/><circle class="b" cx="5" cy="21" r="2.2"/><circle class="b" cx="-2.5" cy="14.3" r="2.5"/><circle class="b" cx="2" cy="23.5" r="2.5"/><circle class="b" cx="6.4" cy="28.7" r="2.8"/><circle class="b" cx="-2.3" cy="17" r="1.9"/><circle class="b" cx="4.2" cy="20.2" r="2.8"/><circle class="b" cx="2.8" cy="26.8" r="2.2"/><circle class="b" cx="5.9" cy="28.5" r="1.8"/><circle class="b" cx="-1.9" cy="28.8" r="2.4"/><circle class="b" cx="0.5" cy="33.2" r="2.1"/><circle class="b" cx="3.7" cy="37.2" r="1.9"/><circle class="b" cx="0.8" cy="24.7" r="1.9"/><circle class="b" cx="-5.8" cy="34.8" r="2.7"/><circle class="b" cx="4" cy="34.5" r="2.5"/><circle class="b" cx="-4.3" cy="26.8" r="2.7"/><circle class="b" cx="5.2" cy="31.4" r="1.7"/><circle class="b" cx="5.9" cy="21.9" r="2.6"/><circle class="b" cx="-3.4" cy="31.3" r="2.3"/><circle class="b" cx="-4.3" cy="27.3" r="2.1"/><circle class="b" cx="1.2" cy="22.2" r="2"/><circle class="b" cx="-0.4" cy="37.8" r="2.2"/><circle class="b" cx="-3.2" cy="21.3" r="2.8"/><circle class="b" cx="-2.7" cy="23.4" r="2.8"/><circle class="b" cx="-5.3" cy="20" r="2"/><circle class="b" cx="-1.8" cy="37.1" r="2.4"/><circle class="b" cx="-2.2" cy="41.6" r="1.9"/><circle class="b" cx="-5.6" cy="26.3" r="2.7"/><circle class="b" cx="1.5" cy="18.9" r="2.6"/><circle class="b" cx="-2.2" cy="22.3" r="1.7"/><circle class="b" cx="2" cy="24" r="3.5"/><circle class="b" cx="-0.6" cy="37.8" r="3.9"/><circle class="b" cx="2.1" cy="33.1" r="2.9"/><circle class="b" cx="-1.8" cy="32.6" r="3.9"/><circle class="b" cx="2" cy="27.3" r="3"/><circle class="c" cx="-2" cy="30" r="6"/><circle class="g" cx="-2" cy="30" r="4.9"/><circle class="y" cx="-2" cy="30" r="3.8"/><circle class="o" cx="-2" cy="30" r="2.8"/><circle class="r" cx="-2" cy="30" r="1.7"/><circle class="c" cx="3" cy="40" r="2"/><circle class="g" cx="3" cy="40" r="1.6"/><circle class="y" cx="3" cy="40" r="1.3"/><circle class="o" cx="3" cy="40" r="0.9"/><circle class="r" cx="3" cy="40" r="0.6"/></g><g transform="translate(306.9,645.1) scale(1.002)"><use href="#mb"/><circle class="s" cx="-3.2" cy="24.7" r="1"/><circle class="s" cx="-1.3" cy="22.8" r="1.7"/><circle class="s" cx="1.6" cy="23.1" r="1.5"/><circle class="s" cx="-5.9" cy="28.9" r="1.2"/><circle class="p" cx="0.9" cy="29.5" r="1.2"/><circle class="p" cx="-5.1" cy="21.4" r="1.2"/><circle class="p" cx="0.8" cy="25.5" r="1.3"/><circle class="p" cx="-3.8" cy="15.5" r="1.3"/><circle class="p" cx="2.9" cy="26.8" r="0.7"/><circle class="p" cx="-3.8" cy="28.7" r="1.1"/><circle class="p" cx="0.2" cy="17.2" r="1.2"/><circle class="p" cx="-4.3" cy="16.4" r="1.2"/><circle class="p" cx="0.5" cy="30.8" r="1.3"/><circle class="p" cx="1.7" cy="20.7" r="0.9"/><circle class="p" cx="-6.6" cy="19.8" r="1.2"/><circle class="p" cx="2.4" cy="13" r="1.3"/><circle class="p" cx="6.1" cy="17" r="0.8"/><circle class="p" cx="-2.4" cy="24.6" r="1.4"/><circle class="p" cx="-0.8" cy="14.7" r="1.2"/><circle class="p" cx="-0.8" cy="8" r="1.4"/><circle class="p" cx="3.4" cy="8.8" r="1.2"/><circle class="p" cx="-2.6" cy="10.3" r="0.8"/><circle class="p" cx="-1.2" cy="32.3" r="1"/><circle class="p" cx="-1" cy="27.9" r="1.4"/><circle class="b" cx="-0.9" cy="32.7" r="2.2"/><circle class="b" cx="-2.5" cy="22.5" r="2.3"/><circle class="b" cx="1.9" cy="32.7" r="2.1"/><circle class="b" cx="6.1" cy="30.4" r="2.2"/><circle class="b" cx="1.2" cy="40.4" r="2.3"/><circle class="b" cx="1.2" cy="31.1" r="2.4"/><circle class="b" cx="4.7" cy="25.6" r="2"/><circle class="b" cx="1.8" cy="34.3" r="2.1"/><circle class="b" cx="3.7" cy="28.9" r="2.3"/><circle class="b" cx="1.9" cy="33.5" r="2.1"/><circle class="b" cx="-3" cy="34.2" r="2.3"/><circle class="b" cx="0.8" cy="36.2" r="2"/><circle class="b" cx="-1.5" cy="24.8" r="1.8"/><circle class="b" cx="4.9" cy="30.5" r="2"/><circle class="b" cx="-0.2" cy="31.4" r="2.2"/><circle class="b" cx="5.4" cy="34.5" r="2.3"/><circle class="b" cx="-2.4" cy="39.4" r="2"/><circle class="b" cx="-5.3" cy="32.2" r="1.9"/><circle class="b" cx="-4.7" cy="33.5" r="2.4"/><circle class="b" cx="3.6" cy="30.4" r="2.3"/><circle class="b" cx="3.6" cy="35.2" r="2.1"/><circle class="b" cx="-2.8" cy="37.3" r="2"/><circle class="b" cx="2.8" cy="38.3" r="2.1"/><circle class="b" cx="3.9" cy="22.7" r="2.5"/><circle class="b" cx="0.1" cy="37.7" r="1.9"/><circle class="b" cx="-1.5" cy="35.6" r="1.9"/><circle class="b" cx="6" cy="35.3" r="2.3"/><circle class="b" cx="0" cy="40.9" r="2.1"/><circle class="b" cx="-4.8" cy="27.4" r="2.4"/><circle class="b" cx="4.7" cy="36.7" r="2.1"/><circle class="b" cx="2.6" cy="32" r="3.4"/><circle class="b" cx="-1.9" cy="35.8" r="2.9"/><circle class="b" cx="-0.5" cy="25.5" r="2.8"/><circle class="b" cx="0.4" cy="32.9" r="3.5"/><circle class="b" cx="-2.9" cy="28.2" r="2.9"/><circle class="c" cx="-1" cy="25" r="2"/><circle class="g" cx="-1" cy="25" r="1.6"/><circle class="y" cx="-1" cy="25" r="1.3"/><circle class="o" cx="-1" cy="25" r="0.9"/><circle class="r" cx="-1" cy="25" r="0.6"/></g><g transform="translate(327.4,645.1) scale(1.002)"><use href="#mb"/><circle class="s" cx="-4.5" cy="37.4" r="1"/><circle class="s" cx="-4.2" cy="29.9" r="1.7"/><circle class="s" cx="0.5" cy="30.6" r="2"/><circle class="s" cx="-1.6" cy="28.8" r="1.2"/><circle class="p" cx="5.2" cy="8.3" r="0.8"/><circle class="p" cx="-0.3" cy="17.1" r="1.1"/><circle class="p" cx="4" cy="18.9" r="1"/><circle class="p" cx="0.5" cy="14.5" r="0.9"/><circle class="p" cx="-2" cy="12.1" r="1"/><circle class="p" cx="-3" cy="19.7" r="1.5"/><circle class="p" cx="4.5" cy="9.6" r="1.5"/><circle class="p" cx="4.6" cy="18.6" r="1.3"/><circle class="p" cx="6.8" cy="15" r="1.2"/><circle class="p" cx="3.2" cy="12.4" r="0.8"/><circle class="p" cx="-1.2" cy="10.4" r="1.2"/><circle class="p" cx="-1.2" cy="17.6" r="0.9"/><circle class="p" cx="2" cy="11.4" r="0.8"/><circle class="p" cx="-2.6" cy="16.8" r="1.1"/><circle class="b" cx="-0.5" cy="13.6" r="2.4"/><circle class="b" cx="-1.3" cy="35.2" r="2.2"/><circle class="b" cx="-1.3" cy="38.8" r="2.2"/><circle class="b" cx="4.1" cy="18.4" r="2.4"/><circle class="b" cx="6.2" cy="24.1" r="2"/><circle class="b" cx="4.2" cy="17.1" r="2.5"/><circle class="b" cx="1.3" cy="26.3" r="2.7"/><circle class="b" cx="-1.6" cy="22.6" r="2.5"/><circle class="b" cx="4" cy="20.6" r="2.7"/><circle class="b" cx="-2.2" cy="17.6" r="2.6"/><circle class="b" cx="6.1" cy="25.3" r="2.3"/><circle class="b" cx="-1.2" cy="21.1" r="1.9"/><circle class="b" cx="3.2" cy="33.9" r="2.6"/><circle class="b" cx="-3.2" cy="16.5" r="2"/><circle class="b" cx="-2.6" cy="40.9" r="1.8"/><circle class="b" cx="4.9" cy="19.7" r="2.1"/><circle class="b" cx="2.9" cy="14.9" r="2.3"/><circle class="b" cx="0.4" cy="22.5" r="2.7"/><circle class="b" cx="5.3" cy="31.1" r="2.5"/><circle class="b" cx="-0.5" cy="20.7" r="2.4"/><circle class="b" cx="1" cy="35.4" r="2.5"/><circle class="b" cx="1.4" cy="21.8" r="2.6"/><circle class="b" cx="-4.1" cy="23.3" r="2.1"/><circle class="b" cx="-3.5" cy="19.5" r="1.8"/><circle class="b" cx="5.6" cy="21.8" r="2.4"/><circle class="b" cx="-5.6" cy="21.8" r="2.4"/><circle class="b" cx="-1.5" cy="19.1" r="1.9"/><circle class="b" cx="6" cy="22.1" r="2.5"/><circle class="b" cx="-0.3" cy="23.6" r="2.5"/><circle class="b" cx="1.4" cy="20.1" r="2.1"/><circle class="b" cx="4.6" cy="31.4" r="2.7"/><circle class="b" cx="2.2" cy="18.7" r="2.7"/><circle class="b" cx="-2.3" cy="24.8" r="2.1"/><circle class="b" cx="2.4" cy="17.6" r="1.9"/><circle class="b" cx="1.5" cy="39.9" r="2.3"/><circle class="b" cx="0.4" cy="34.9" r="1.8"/><circle class="b" cx="2.4" cy="21.4" r="3.8"/><circle class="b" cx="-0.2" cy="25.4" r="2.9"/><circle class="b" cx="-0.8" cy="20.3" r="3.8"/><circle class="b" cx="0.4" cy="21.5" r="3.5"/><circle class="b" cx="0.8" cy="27.4" r="3.5"/><circle class="c" cx="1" cy="26" r="5"/><circle class="g" cx="1" cy="26" r="4.1"/><circle class="y" cx="1" cy="26" r="3.2"/><circle class="o" cx="1" cy="26" r="2.3"/><circle class="r" cx="1" cy="26" r="1.4"/></g><g transform="translate(347.9,645.1) scale(1.002)"><use href="#mb"/><circle class="s" cx="0.4" cy="27" r="1.9"/><circle class="s" cx="-1.2" cy="17.6" r="2"/><circle class="s" cx="5.8" cy="26.5" r="2.1"/><circle class="s" cx="4.5" cy="28.5" r="2.1"/><circle class="p" cx="-2.7" cy="32.2" r="1.2"/><circle class="p" cx="-3" cy="25.5" r="0.9"/><circle class="p" cx="-2.9" cy="19.4" r="1.2"/><circle class="p" cx="-2.8" cy="32.6" r="1.1"/><circle class="p" cx="1.4" cy="22.5" r="0.9"/><circle class="p" cx="3.1" cy="24.5" r="1.3"/><circle class="p" cx="-6.4" cy="32.5" r="0.9"/><circle class="p" cx="-4.9" cy="36.1" r="1.2"/><circle class="p" cx="-4.1" cy="32.9" r="1.6"/><circle class="p" cx="2.5" cy="14.8" r="1.5"/><circle class="p" cx="4.6" cy="22.5" r="1.1"/><circle class="p" cx="4.1" cy="18" r="0.9"/><circle class="p" cx="-2.7" cy="36.5" r="1"/><circle class="p" cx="-2.4" cy="22" r="1.1"/><circle class="p" cx="-1.2" cy="20.3" r="1.3"/><circle class="p" cx="0.5" cy="34.5" r="1.3"/><circle class="p" cx="5.3" cy="24.8" r="1.2"/><circle class="p" cx="5.8" cy="22.8" r="1.5"/><circle class="p" cx="5.5" cy="13.9" r="1.2"/><circle class="p" cx="2.5" cy="30.7" r="0.9"/><circle class="p" cx="4.8" cy="28.5" r="1.4"/><circle class="p" cx="-1.9" cy="10.5" r="1"/><circle class="p" cx="0.9" cy="26.2" r="1.2"/><circle class="p" cx="-1.9" cy="37.3" r="1.4"/><circle class="p" cx="-1.9" cy="31.2" r="1.2"/><circle class="p" cx="4.8" cy="12.4" r="1.4"/><circle class="b" cx="-1.4" cy="23.1" r="1.8"/><circle class="b" cx="-0.2" cy="29.9" r="1.8"/><circle class="b" cx="0.4" cy="36.4" r="2.6"/><circle class="b" cx="-1" cy="26.5" r="2.8"/><circle class="b" cx="5" cy="32" r="2.6"/><circle class="b" cx="4.2" cy="36.2" r="2.1"/><circle class="b" cx="-1.1" cy="30.5" r="2.5"/><circle class="b" cx="-4" cy="27.7" r="2"/><circle class="b" cx="3" cy="35.4" r="2.2"/><circle class="b" cx="-2" cy="35" r="2.3"/><circle class="b" cx="-2.1" cy="38.6" r="2.2"/><circle class="b" cx="2.6" cy="31.5" r="1.8"/><circle class="b" cx="-3.9" cy="34.8" r="2.1"/><circle class="b" cx="-5.6" cy="27.9" r="2.3"/><circle class="b" cx="-5.8" cy="26.1" r="1.8"/><circle class="b" cx="-0.1" cy="34.2" r="2.4"/><circle class="b" cx="2.4" cy="24.1" r="2.6"/><circle class="b" cx="-5.5" cy="36.6" r="2.5"/><circle class="b" cx="1.5" cy="27.9" r="2"/><circle class="b" cx="-0.9" cy="26.5" r="2.5"/><circle class="b" cx="-6.6" cy="27.9" r="2.3"/><circle class="b" cx="-4" cy="30.1" r="2.7"/><circle class="b" cx="0.8" cy="34" r="2.8"/><circle class="b" cx="3.9" cy="29.7" r="2"/><circle class="b" cx="-2.7" cy="33.9" r="2.3"/><circle class="b" cx="-2.8" cy="25.7" r="2.4"/><circle class="c" cx="0" cy="28" r="2.5"/><circle class="g" cx="0" cy="28" r="2.1"/><circle class="y" cx="0" cy="28" r="1.6"/></g><g transform="translate(368.2,645.1) scale(1.002)"><use href="#mb"/><circle class="s" cx="-1.7" cy="32.2" r="1.5"/><circle class="s" cx="-2.9" cy="25.1" r="1.7"/><circle class="s" cx="2.1" cy="40" r="1.5"/><circle class="s" cx="0.7" cy="18.5" r="2"/><circle class="p" cx="0.9" cy="12.9" r="1"/><circle class="p" cx="3.6" cy="31.3" r="1"/><circle class="p" cx="3.4" cy="16" r="1.5"/><circle class="p" cx="3.1" cy="14" r="0.9"/><circle class="p" cx="-0.7" cy="14.5" r="1.6"/><circle class="p" cx="-4.3" cy="14.1" r="1.2"/><circle class="p" cx="2.5" cy="26.2" r="1.1"/><circle class="p" cx="0.1" cy="24.5" r="1.5"/><circle class="p" cx="-6.2" cy="28.9" r="1.6"/><circle class="p" cx="-0.9" cy="14.1" r="1.1"/><circle class="p" cx="-1.4" cy="33.3" r="0.9"/><circle class="p" cx="3.7" cy="29.1" r="1.1"/><circle class="p" cx="1.1" cy="18" r="1.5"/><circle class="p" cx="0.2" cy="25.9" r="1.3"/><circle class="p" cx="-0.5" cy="31.5" r="1.3"/><circle class="p" cx="0.4" cy="30.6" r="1.4"/><circle class="p" cx="2.4" cy="9.9" r="1"/><circle class="p" cx="-4.2" cy="30.9" r="1"/><circle class="p" cx="-1.2" cy="35" r="0.9"/><circle class="p" cx="-5" cy="23" r="1.6"/><circle class="p" cx="-0.8" cy="25.6" r="1.3"/><circle class="p" cx="-5.4" cy="13.5" r="1.3"/><circle class="p" cx="1" cy="32.8" r="1"/><circle class="p" cx="-1.1" cy="12.3" r="1.1"/><circle class="p" cx="2.2" cy="10.8" r="1.1"/><circle class="p" cx="1.8" cy="30" r="1.1"/><circle class="b" cx="-1.6" cy="35.1" r="1.8"/><circle class="b" cx="-4.3" cy="28.2" r="2.4"/><circle class="b" cx="6.6" cy="28.5" r="2.2"/><circle class="b" cx="-3.4" cy="37.9" r="2.1"/><circle class="b" cx="0.8" cy="38.7" r="2"/><circle class="b" cx="-6" cy="30.1" r="2.1"/><circle class="b" cx="4.5" cy="31.1" r="1.9"/><circle class="b" cx="-0.8" cy="28.7" r="1.9"/><circle class="b" cx="-0.8" cy="21.3" r="2.5"/><circle class="b" cx="3.6" cy="33.3" r="2.1"/><circle class="b" cx="-1.5" cy="25.5" r="2.6"/><circle class="b" cx="-1.5" cy="30" r="2.2"/><circle class="b" cx="3" cy="38.8" r="1.9"/><circle class="b" cx="-1.2" cy="26.3" r="2.7"/><circle class="b" cx="1.1" cy="32.6" r="2.5"/><circle class="b" cx="1.4" cy="34" r="2.6"/><circle class="b" cx="3.9" cy="23.9" r="2.6"/><circle class="b" cx="-0.2" cy="24.9" r="2.7"/><circle class="b" cx="0.8" cy="40.2" r="2.7"/><circle class="b" cx="3.7" cy="28.1" r="2.7"/><circle class="b" cx="-4" cy="29.3" r="2"/><circle class="b" cx="-5.4" cy="26" r="2.5"/><circle class="b" cx="0.4" cy="31.5" r="2.7"/><circle class="b" cx="-0.9" cy="27.7" r="2.6"/><circle class="b" cx="0" cy="29.3" r="1.9"/><circle class="b" cx="4.8" cy="26.6" r="2.7"/><circle class="c" cx="0" cy="22" r="1.8"/><circle class="g" cx="0" cy="22" r="1.5"/><circle class="y" cx="0" cy="22" r="1.2"/><circle class="o" cx="0" cy="22" r="0.8"/><circle class="r" cx="0" cy="22" r="0.5"/></g>
<rect x="382.2" y="645.1" width="103.1" height="52.1" fill="#323232"/><path d="M383.2,645.1v8.9M388.7,645.1v8.9M394.1,645.1v8.9M400.5,645.1v8.9M406.9,645.1v8.9M412.7,645.1v8.9M418.5,645.1v8.9M424.2,645.1v8.9M430.6,645.1v8.9M437.5,645.1v8.9M442.5,645.1v8.9M448.8,645.1v8.9M455.7,645.1v8.9M461.2,645.1v8.9M466.4,645.1v8.9M471.8,645.1v8.9M478.3,645.1v8.9" stroke="#1c1c1c" stroke-width="2"/><path d="M402.8,654v41.7M423.4,654v41.7M443.9,654v41.7M464.4,654v41.7" stroke="#262626" stroke-width="1.4"/><g transform="translate(392.5,645.1) scale(1.002)"><use href="#mb"/><circle class="s" cx="-6.4" cy="19.3" r="1.9"/><circle class="s" cx="-2.9" cy="31.4" r="2"/><circle class="s" cx="6.5" cy="19.2" r="2.1"/><circle class="s" cx="-3.4" cy="28.8" r="1.3"/><circle class="p" cx="4.3" cy="28.3" r="1.9"/><circle class="p" cx="-3.4" cy="30.5" r="1.1"/><circle class="p" cx="-5.7" cy="28.5" r="1.6"/><circle class="p" cx="-2.2" cy="29.5" r="1.7"/><circle class="p" cx="2.2" cy="25.5" r="2.1"/><circle class="p" cx="-0.5" cy="27.9" r="1.2"/><circle class="p" cx="-2" cy="24.4" r="1.8"/><circle class="p" cx="-1.4" cy="31.9" r="1.7"/><circle class="p" cx="2.9" cy="24.6" r="1.2"/><circle class="p" cx="3.9" cy="28.2" r="1.3"/><circle class="p" cx="-2" cy="24.4" r="2"/><circle class="p" cx="3" cy="24.4" r="1.7"/><circle class="p" cx="0.1" cy="28.3" r="1.9"/><circle class="p" cx="1.1" cy="30.5" r="1.4"/><circle class="p" cx="-3.7" cy="24.6" r="2"/><circle class="p" cx="-3.7" cy="24.8" r="1.1"/><circle class="p" cx="-0.6" cy="28.9" r="1.8"/><circle class="p" cx="-4.3" cy="24.4" r="1.5"/><circle class="p" cx="-3.5" cy="26" r="2.3"/><circle class="p" cx="-2.2" cy="27.5" r="1.5"/><circle class="p" cx="-3.7" cy="28.6" r="2.5"/><circle class="p" cx="-1.4" cy="28.2" r="1.5"/><circle class="p" cx="0.6" cy="25.1" r="2.2"/><circle class="p" cx="-2.1" cy="29.8" r="2.2"/></g><g transform="translate(413.2,645.1) scale(1.002)"><use href="#mb"/><circle class="s" cx="2.7" cy="29.5" r="2.2"/><circle class="s" cx="3.5" cy="24.5" r="1.7"/><circle class="s" cx="5.9" cy="28.3" r="2.3"/><circle class="s" cx="-5.2" cy="24.8" r="1.1"/><circle class="p" cx="4" cy="32.2" r="1.4"/><circle class="p" cx="2.6" cy="32.5" r="1.4"/><circle class="p" cx="-5" cy="31.8" r="1.6"/><circle class="p" cx="-2.2" cy="34.4" r="1.4"/><circle class="p" cx="1.5" cy="25.5" r="1.3"/><circle class="p" cx="-3.7" cy="34.6" r="0.8"/><circle class="p" cx="1.6" cy="29.3" r="1.3"/><circle class="p" cx="-1.4" cy="23.1" r="1"/><circle class="p" cx="-0.5" cy="29.9" r="1.6"/><circle class="p" cx="0.3" cy="23.5" r="0.9"/><circle class="p" cx="3.8" cy="26.3" r="0.9"/><circle class="p" cx="0.4" cy="37.3" r="0.9"/><circle class="p" cx="2.1" cy="38.5" r="1.6"/><circle class="p" cx="-4.3" cy="24.6" r="1.5"/><circle class="p" cx="1.1" cy="36.9" r="1.1"/><circle class="p" cx="3.8" cy="38" r="1.1"/><circle class="p" cx="3.2" cy="23.7" r="1"/><circle class="p" cx="6.4" cy="33.3" r="1.2"/><circle class="p" cx="-1.3" cy="31.7" r="1"/><circle class="p" cx="6.1" cy="31.1" r="1.6"/><circle class="p" cx="3.1" cy="33.2" r="0.9"/><circle class="p" cx="-7.5" cy="27.3" r="1.5"/><circle class="b" cx="6.4" cy="31" r="2.4"/><circle class="b" cx="-3.3" cy="29.6" r="2.1"/><circle class="b" cx="5.7" cy="31.5" r="2"/><circle class="b" cx="-4.9" cy="31.7" r="2.4"/><circle class="b" cx="5.4" cy="28.2" r="2.5"/><circle class="b" cx="0.3" cy="24.7" r="2.1"/><circle class="b" cx="3.1" cy="34.5" r="2.4"/><circle class="b" cx="4.9" cy="31.8" r="2.4"/><circle class="b" cx="4.8" cy="28.2" r="2"/><circle class="b" cx="-3.3" cy="28.3" r="1.7"/><circle class="b" cx="-4.4" cy="31.5" r="2.1"/><circle class="b" cx="0.5" cy="26.9" r="1.8"/><circle class="b" cx="-4.3" cy="30.4" r="1.6"/><circle class="b" cx="5.1" cy="30" r="2.5"/><circle class="b" cx="4.5" cy="28.7" r="1.9"/><circle class="b" cx="3" cy="31.2" r="1.8"/><circle class="b" cx="-4" cy="32.4" r="2.5"/><circle class="b" cx="2" cy="25.7" r="2.1"/><circle class="b" cx="4.8" cy="26.3" r="2.3"/><circle class="b" cx="-2.1" cy="28.2" r="1.8"/><circle class="b" cx="4.1" cy="26.8" r="1.9"/><circle class="b" cx="-0.1" cy="27.9" r="1.6"/><circle class="b" cx="-3.7" cy="29.4" r="3"/><circle class="b" cx="1.6" cy="29.8" r="2.7"/><circle class="b" cx="-0.2" cy="32.2" r="3.5"/><circle class="b" cx="-1.7" cy="29.8" r="3.3"/></g><g transform="translate(433.7,645.1) scale(1.002)"><use href="#mb"/><circle class="s" cx="6" cy="18.3" r="2"/><circle class="s" cx="4.8" cy="30.2" r="1"/><circle class="s" cx="-5.9" cy="39.3" r="1"/><circle class="s" cx="0.3" cy="28.1" r="1.3"/><circle class="p" cx="-6.9" cy="28.9" r="1.3"/><circle class="p" cx="-1.5" cy="29.1" r="1.4"/><circle class="p" cx="-1" cy="26.4" r="2"/><circle class="p" cx="3.4" cy="29" r="1"/><circle class="p" cx="2.3" cy="31.6" r="1.9"/><circle class="p" cx="-1.9" cy="25.7" r="2.1"/><circle class="p" cx="-0.1" cy="31.6" r="1.5"/><circle class="p" cx="2.9" cy="28.8" r="1.5"/><circle class="p" cx="-1.5" cy="27.7" r="1.7"/><circle class="p" cx="4.1" cy="27.6" r="1.5"/><circle class="p" cx="-5.5" cy="29.3" r="1.5"/><circle class="p" cx="-1.5" cy="31.3" r="1"/><circle class="p" cx="1" cy="31.9" r="1.4"/><circle class="p" cx="1.3" cy="29.7" r="1.7"/><circle class="p" cx="2" cy="29" r="1.5"/><circle class="p" cx="-3.4" cy="31.4" r="1"/><circle class="p" cx="-1.8" cy="26.4" r="1.1"/><circle class="p" cx="-4.8" cy="25.7" r="1"/><circle class="p" cx="0.3" cy="31.2" r="2.3"/><circle class="p" cx="-1.6" cy="26.9" r="1.6"/><circle class="p" cx="2.9" cy="27.7" r="1.8"/><circle class="p" cx="-0.8" cy="30.9" r="1.7"/><circle class="p" cx="3" cy="29.7" r="2.4"/><circle class="p" cx="2" cy="30.6" r="2"/></g><g transform="translate(454.2,645.1) scale(1.002)"><use href="#mb"/><circle class="s" cx="4.9" cy="35.3" r="1.3"/><circle class="s" cx="-4.5" cy="15.3" r="1.1"/><circle class="s" cx="-4.2" cy="33.2" r="1.8"/><circle class="s" cx="-2.7" cy="36.9" r="1.7"/><circle class="p" cx="-2.3" cy="38.5" r="1.5"/><circle class="p" cx="0" cy="27.2" r="1"/><circle class="p" cx="6" cy="34.7" r="1.3"/><circle class="p" cx="-0.9" cy="31.5" r="1.1"/><circle class="p" cx="-4.1" cy="33.8" r="1.5"/><circle class="p" cx="-4.4" cy="34.3" r="0.9"/><circle class="p" cx="4.5" cy="32.1" r="1.4"/><circle class="p" cx="5.4" cy="26.9" r="1.4"/><circle class="p" cx="-0.5" cy="25.8" r="1.4"/><circle class="p" cx="-2.2" cy="27.9" r="1.3"/><circle class="p" cx="-1" cy="26" r="1"/><circle class="p" cx="4.4" cy="25.8" r="1.3"/><circle class="p" cx="6.3" cy="30.9" r="1.3"/><circle class="p" cx="-1.8" cy="23.8" r="1.4"/><circle class="p" cx="-3.7" cy="36.5" r="1.4"/><circle class="p" cx="-2.9" cy="27.9" r="1.2"/><circle class="p" cx="-6.7" cy="35.1" r="0.9"/><circle class="p" cx="6.1" cy="36.5" r="1"/><circle class="p" cx="-7.8" cy="30.8" r="1"/><circle class="p" cx="6.2" cy="27.9" r="1.2"/><circle class="p" cx="4.1" cy="25.8" r="1.3"/><circle class="p" cx="-0.9" cy="37" r="1"/><circle class="b" cx="-0.4" cy="24.9" r="2"/><circle class="b" cx="-4.4" cy="33.2" r="2"/><circle class="b" cx="-2.3" cy="33" r="2.4"/><circle class="b" cx="2" cy="29.2" r="2.2"/><circle class="b" cx="-1.8" cy="32.1" r="1.8"/><circle class="b" cx="5.3" cy="28.5" r="2.6"/><circle class="b" cx="0.7" cy="30.4" r="2.1"/><circle class="b" cx="1.5" cy="29.8" r="1.8"/><circle class="b" cx="-1" cy="27.7" r="1.9"/><circle class="b" cx="-0" cy="30.3" r="2"/><circle class="b" cx="-3.2" cy="29.4" r="2.1"/><circle class="b" cx="-6.3" cy="30.7" r="2"/><circle class="b" cx="2.4" cy="24.9" r="1.6"/><circle class="b" cx="4.4" cy="28.5" r="1.9"/><circle class="b" cx="-4.7" cy="30" r="1.9"/><circle class="b" cx="-0.1" cy="28.3" r="2"/><circle class="b" cx="-1.9" cy="26.7" r="1.9"/><circle class="b" cx="-0.9" cy="25.9" r="2.2"/><circle class="b" cx="-1.9" cy="30.1" r="1.8"/><circle class="b" cx="-0.9" cy="30.7" r="1.9"/><circle class="b" cx="-3" cy="26.7" r="2"/><circle class="b" cx="0.4" cy="31.2" r="1.9"/><circle class="b" cx="2.3" cy="30.2" r="3.1"/><circle class="b" cx="-0.8" cy="29.9" r="3.1"/><circle class="b" cx="0.6" cy="29.4" r="2.6"/><circle class="b" cx="2" cy="31.7" r="2.6"/></g><g transform="translate(474.5,645.1) scale(1.002)"><use href="#mb"/><circle class="s" cx="-2.6" cy="33.9" r="1.6"/><circle class="s" cx="5.6" cy="21.5" r="2.1"/><circle class="s" cx="1.5" cy="22.3" r="2.2"/><circle class="s" cx="-6.1" cy="31.7" r="1.1"/><circle class="p" cx="-0.4" cy="28.5" r="0.9"/><circle class="p" cx="6.5" cy="35" r="1.2"/><circle class="p" cx="-6.2" cy="30.8" r="1.4"/><circle class="p" cx="-1.2" cy="34.9" r="1.6"/><circle class="p" cx="-2.7" cy="34" r="1.2"/><circle class="p" cx="0.3" cy="28.1" r="1"/><circle class="p" cx="-1.7" cy="28" r="0.8"/><circle class="p" cx="0.1" cy="33.8" r="1"/><circle class="p" cx="-1.6" cy="30.8" r="1.3"/><circle class="p" cx="-6.1" cy="35.6" r="0.8"/><circle class="p" cx="5.6" cy="32" r="1.5"/><circle class="p" cx="1.2" cy="23.1" r="1"/><circle class="p" cx="1.7" cy="30.7" r="1.4"/><circle class="p" cx="-1" cy="27.7" r="0.9"/><circle class="p" cx="2.2" cy="24.7" r="1.3"/><circle class="p" cx="3.6" cy="29.1" r="0.9"/><circle class="p" cx="3.3" cy="29.2" r="1"/><circle class="p" cx="2.2" cy="26.4" r="0.9"/><circle class="p" cx="-6.2" cy="28.9" r="0.9"/><circle class="p" cx="2.5" cy="30.1" r="0.9"/><circle class="p" cx="-0.5" cy="29.4" r="1.2"/><circle class="p" cx="-0.3" cy="37.3" r="0.9"/><circle class="b" cx="0.3" cy="35.8" r="2.3"/><circle class="b" cx="-5.4" cy="29.1" r="1.8"/><circle class="b" cx="-5.2" cy="31.3" r="1.7"/><circle class="b" cx="-2.5" cy="29.7" r="1.9"/><circle class="b" cx="-4.5" cy="25.7" r="2.6"/><circle class="b" cx="0.5" cy="28.9" r="2.4"/><circle class="b" cx="0" cy="35.1" r="1.8"/><circle class="b" cx="-0.4" cy="27.5" r="2.5"/><circle class="b" cx="-0.8" cy="29.6" r="2.3"/><circle class="b" cx="-3.9" cy="26" r="2.3"/><circle class="b" cx="0.2" cy="27" r="2.5"/><circle class="b" cx="-0.5" cy="32.8" r="2.5"/><circle class="b" cx="1.3" cy="30.3" r="2.4"/><circle class="b" cx="-4.8" cy="30.3" r="2.1"/><circle class="b" cx="-3" cy="29.4" r="2.2"/><circle class="b" cx="1" cy="27.3" r="1.8"/><circle class="b" cx="3.6" cy="32.8" r="1.8"/><circle class="b" cx="2.7" cy="35.4" r="2.4"/><circle class="b" cx="-2.4" cy="35.3" r="2.1"/><circle class="b" cx="-3" cy="29.4" r="1.9"/><circle class="b" cx="1.1" cy="30" r="1.7"/><circle class="b" cx="2.6" cy="26.1" r="2.1"/><circle class="b" cx="3.9" cy="29.4" r="2.7"/><circle class="b" cx="-1.9" cy="30.8" r="2.8"/><circle class="b" cx="-1.6" cy="28.9" r="2.7"/><circle class="b" cx="-3.3" cy="28.7" r="2.9"/></g>
<rect x="488.6" y="645.1" width="82.4" height="52.1" fill="#323232"/><path d="M489.6,645.1v8.9M495.8,645.1v8.9M501.7,645.1v8.9M507.8,645.1v8.9M514,645.1v8.9M520.2,645.1v8.9M526.9,645.1v8.9M532.2,645.1v8.9M537.8,645.1v8.9M543,645.1v8.9M549.8,645.1v8.9M554.9,645.1v8.9M561.2,645.1v8.9M567.5,645.1v8.9" stroke="#1c1c1c" stroke-width="2"/><path d="M508.8,654v41.7M529.4,654v41.7M549.6,654v41.7" stroke="#262626" stroke-width="1.4"/><g transform="translate(498.4,645.1) scale(1.002)"><use href="#mb"/><circle class="s" cx="-4.6" cy="28.8" r="1.5"/><circle class="s" cx="1.4" cy="19.3" r="1.1"/><circle class="s" cx="2.4" cy="37.9" r="1.7"/><circle class="s" cx="1.3" cy="38.7" r="1.4"/><circle class="p" cx="6" cy="33" r="1.7"/><circle class="p" cx="1.9" cy="36.4" r="1.7"/><circle class="p" cx="-3.5" cy="32.3" r="2"/><circle class="p" cx="1.9" cy="34.6" r="1.5"/><circle class="p" cx="0.8" cy="32.3" r="1.1"/><circle class="p" cx="5.4" cy="31.1" r="1.7"/><circle class="p" cx="-3.1" cy="33.8" r="2"/><circle class="p" cx="2.3" cy="35.9" r="1.3"/><circle class="p" cx="1.8" cy="35" r="1.6"/><circle class="p" cx="0.2" cy="31.3" r="1.3"/><circle class="p" cx="-0.2" cy="31.8" r="1.6"/><circle class="p" cx="5.5" cy="32" r="1.1"/><circle class="p" cx="-2.3" cy="31.5" r="1.8"/><circle class="p" cx="-2.7" cy="32.3" r="1"/><circle class="p" cx="0.8" cy="33.2" r="1.2"/><circle class="p" cx="3.9" cy="30.7" r="2.1"/><circle class="p" cx="1.3" cy="34.4" r="1.4"/><circle class="p" cx="4.5" cy="33.9" r="1.1"/><circle class="p" cx="0.5" cy="31.2" r="2.2"/><circle class="p" cx="-1.9" cy="30.3" r="1.9"/><circle class="p" cx="-2" cy="30.9" r="1.7"/><circle class="p" cx="-4.2" cy="30.4" r="1.8"/><circle class="p" cx="-0.4" cy="33.8" r="2.1"/><circle class="p" cx="-1.7" cy="30.4" r="1.6"/></g><g transform="translate(519.2,645.1) scale(1.002)"><use href="#mb"/><circle class="s" cx="-2.4" cy="16.4" r="1.2"/><circle class="s" cx="-0.7" cy="31.7" r="1.9"/><circle class="s" cx="2.6" cy="33.3" r="1"/><circle class="s" cx="-1.5" cy="23" r="1.9"/><circle class="p" cx="-1.7" cy="30.7" r="1.3"/><circle class="p" cx="5" cy="35.8" r="1"/><circle class="p" cx="-4" cy="26.6" r="1.5"/><circle class="p" cx="6.8" cy="26.8" r="1.2"/><circle class="p" cx="3.4" cy="25.5" r="1"/><circle class="p" cx="-1.5" cy="27.9" r="1.5"/><circle class="p" cx="8" cy="33.1" r="1"/><circle class="p" cx="-2.2" cy="32.5" r="1.2"/><circle class="p" cx="-7.8" cy="32.7" r="1"/><circle class="p" cx="4.9" cy="29.6" r="1"/><circle class="p" cx="1.4" cy="31.3" r="0.8"/><circle class="p" cx="-7.7" cy="31" r="1.5"/><circle class="p" cx="6.7" cy="30.6" r="1"/><circle class="p" cx="2.1" cy="26.4" r="1.3"/><circle class="p" cx="4.4" cy="34.8" r="1.3"/><circle class="p" cx="6.3" cy="31.6" r="1.3"/><circle class="p" cx="7" cy="32.1" r="1.4"/><circle class="p" cx="-0" cy="34.7" r="1.3"/><circle class="p" cx="4" cy="30.3" r="1.4"/><circle class="p" cx="6.6" cy="32.6" r="1.1"/><circle class="p" cx="5.9" cy="26.8" r="1"/><circle class="p" cx="-4.7" cy="36.3" r="1"/><circle class="b" cx="-2.5" cy="33.2" r="2.1"/><circle class="b" cx="-2.9" cy="33.6" r="2"/><circle class="b" cx="2.6" cy="26.2" r="2"/><circle class="b" cx="-3.8" cy="34.2" r="2.1"/><circle class="b" cx="5" cy="30.1" r="1.9"/><circle class="b" cx="-0.3" cy="29.4" r="2"/><circle class="b" cx="1.8" cy="30.7" r="2.1"/><circle class="b" cx="0.8" cy="30.4" r="2"/><circle class="b" cx="-4.9" cy="29.5" r="2.2"/><circle class="b" cx="3.5" cy="25.2" r="2.1"/><circle class="b" cx="2.7" cy="30.9" r="2"/><circle class="b" cx="0.5" cy="36" r="2.2"/><circle class="b" cx="-3.1" cy="32.7" r="2"/><circle class="b" cx="4.8" cy="31.6" r="1.9"/><circle class="b" cx="0.6" cy="32.4" r="2.3"/><circle class="b" cx="-5.6" cy="30.6" r="1.6"/><circle class="b" cx="-4.2" cy="29.9" r="2.2"/><circle class="b" cx="-2.1" cy="31.1" r="2.6"/><circle class="b" cx="3.5" cy="28.5" r="1.8"/><circle class="b" cx="-3.2" cy="31.8" r="2"/><circle class="b" cx="-3.5" cy="31.7" r="2.6"/><circle class="b" cx="4.3" cy="30.7" r="1.6"/><circle class="b" cx="1.6" cy="27.3" r="2.8"/><circle class="b" cx="0.6" cy="28.8" r="3.2"/><circle class="b" cx="1.6" cy="29.9" r="2.7"/><circle class="b" cx="1.6" cy="27.6" r="3.2"/></g><g transform="translate(539.6,645.1) scale(1.002)"><use href="#mb"/><circle class="s" cx="5.4" cy="23.3" r="1.8"/><circle class="s" cx="0.6" cy="24" r="1.6"/><circle class="s" cx="1.9" cy="31.6" r="2.1"/><circle class="s" cx="4.6" cy="26.7" r="1.1"/><circle class="p" cx="-1.9" cy="35.2" r="1.1"/><circle class="p" cx="3.2" cy="33.9" r="1.4"/><circle class="p" cx="2.2" cy="36.9" r="1.5"/><circle class="p" cx="-2.9" cy="34.7" r="0.8"/><circle class="p" cx="-1.4" cy="24.2" r="1.4"/><circle class="p" cx="6" cy="35.9" r="0.9"/><circle class="p" cx="2.3" cy="25.9" r="1.2"/><circle class="p" cx="-7.7" cy="32.6" r="1.1"/><circle class="p" cx="-3.5" cy="26.3" r="1.2"/><circle class="p" cx="7" cy="29.6" r="1.4"/><circle class="p" cx="2.4" cy="31.9" r="0.8"/><circle class="p" cx="1.7" cy="29.8" r="1.1"/><circle class="p" cx="7.6" cy="32" r="0.8"/><circle class="p" cx="-0.9" cy="37.6" r="1.3"/><circle class="p" cx="5.9" cy="34.1" r="1.5"/><circle class="p" cx="2.8" cy="26.3" r="1.6"/><circle class="p" cx="-8.2" cy="29.9" r="1.3"/><circle class="p" cx="-5.4" cy="27.7" r="1.5"/><circle class="p" cx="-7.1" cy="31" r="1.2"/><circle class="p" cx="-1.5" cy="35.6" r="1.6"/><circle class="p" cx="7" cy="32.7" r="0.9"/><circle class="p" cx="-1.7" cy="25.6" r="1.1"/><circle class="b" cx="3.9" cy="25.3" r="1.7"/><circle class="b" cx="0.5" cy="33.4" r="1.8"/><circle class="b" cx="1.8" cy="28" r="2.5"/><circle class="b" cx="1.1" cy="31.3" r="2.1"/><circle class="b" cx="-1.9" cy="35.4" r="2"/><circle class="b" cx="2.5" cy="32.3" r="2.1"/><circle class="b" cx="-3" cy="27.2" r="2.4"/><circle class="b" cx="-0.3" cy="26.9" r="1.8"/><circle class="b" cx="4.7" cy="26.2" r="2.2"/><circle class="b" cx="0" cy="27.6" r="2"/><circle class="b" cx="-1.9" cy="34.3" r="2"/><circle class="b" cx="-0.6" cy="33.1" r="2.4"/><circle class="b" cx="4.5" cy="33.5" r="2.3"/><circle class="b" cx="0.1" cy="25.2" r="1.8"/><circle class="b" cx="-2.9" cy="27.3" r="2"/><circle class="b" cx="0.8" cy="31.9" r="2.3"/><circle class="b" cx="3.8" cy="25.3" r="1.8"/><circle class="b" cx="2.1" cy="29.6" r="2.2"/><circle class="b" cx="3.9" cy="29.7" r="2.3"/><circle class="b" cx="3.1" cy="33.5" r="1.7"/><circle class="b" cx="-2.2" cy="34.9" r="1.8"/><circle class="b" cx="-1.1" cy="29.9" r="2.4"/><circle class="b" cx="2.4" cy="28.6" r="2.7"/><circle class="b" cx="-0.9" cy="32.1" r="3.1"/><circle class="b" cx="0.2" cy="28.9" r="2.5"/><circle class="b" cx="-1.2" cy="28.6" r="2.8"/></g><g transform="translate(559.6,645.1) scale(1.002)"><use href="#mb"/><circle class="s" cx="2.2" cy="17.7" r="1.8"/><circle class="s" cx="-1.1" cy="18.5" r="1.3"/><circle class="s" cx="-5.8" cy="14.7" r="1.6"/><circle class="s" cx="-4.7" cy="27.4" r="1.4"/><circle class="p" cx="4.4" cy="35.1" r="0.8"/><circle class="p" cx="6.2" cy="27.8" r="1.6"/><circle class="p" cx="-1.2" cy="36.1" r="0.9"/><circle class="p" cx="-2.4" cy="24.5" r="0.9"/><circle class="p" cx="-5" cy="26.3" r="1.2"/><circle class="p" cx="-3.7" cy="37.6" r="1.3"/><circle class="p" cx="-7.7" cy="33" r="1.6"/><circle class="p" cx="-5.3" cy="26.9" r="1.4"/><circle class="p" cx="6.1" cy="26.9" r="1.3"/><circle class="p" cx="-6.5" cy="32.7" r="1.1"/><circle class="p" cx="-4.2" cy="33.2" r="1.5"/><circle class="p" cx="-5.9" cy="32.6" r="1.1"/><circle class="p" cx="2.4" cy="25.7" r="1.5"/><circle class="p" cx="1.1" cy="29" r="1.4"/><circle class="p" cx="4.3" cy="34.1" r="0.9"/><circle class="p" cx="7.7" cy="33" r="1.5"/><circle class="p" cx="-0" cy="36.5" r="1"/><circle class="p" cx="-2.7" cy="37.8" r="1"/><circle class="p" cx="0.1" cy="26.8" r="1.2"/><circle class="p" cx="-5.1" cy="37.1" r="1.2"/><circle class="p" cx="-6.2" cy="29.4" r="0.8"/><circle class="p" cx="4.3" cy="26.9" r="1.4"/><circle class="b" cx="-0.6" cy="26.2" r="2.4"/><circle class="b" cx="4.7" cy="27" r="2.5"/><circle class="b" cx="0.4" cy="31.2" r="2.4"/><circle class="b" cx="5.9" cy="29.1" r="2.6"/><circle class="b" cx="1.2" cy="28.9" r="2.5"/><circle class="b" cx="-4.6" cy="33.4" r="1.8"/><circle class="b" cx="-4" cy="32.6" r="1.9"/><circle class="b" cx="-3.6" cy="34.6" r="2.4"/><circle class="b" cx="1.3" cy="29.5" r="1.9"/><circle class="b" cx="6.4" cy="29.6" r="2.5"/><circle class="b" cx="1.5" cy="33.8" r="2.6"/><circle class="b" cx="-2" cy="33.2" r="2.4"/><circle class="b" cx="2.9" cy="28.6" r="2"/><circle class="b" cx="3.8" cy="33.5" r="2.3"/><circle class="b" cx="-5.4" cy="27.9" r="2.1"/><circle class="b" cx="5.2" cy="29.6" r="1.7"/><circle class="b" cx="-1.2" cy="31.3" r="2"/><circle class="b" cx="2.2" cy="31.1" r="2.3"/><circle class="b" cx="1" cy="26.3" r="2.5"/><circle class="b" cx="-2.8" cy="31.9" r="2.1"/><circle class="b" cx="1.2" cy="28.3" r="2.6"/><circle class="b" cx="3.2" cy="31.3" r="1.8"/><circle class="b" cx="2.6" cy="29.1" r="3"/><circle class="b" cx="-0.6" cy="26.6" r="2.7"/><circle class="b" cx="-3.3" cy="30.2" r="3"/><circle class="b" cx="3.2" cy="29" r="3.2"/><circle class="c" cx="-0.9" cy="26.5" r="1.3"/></g>
<rect x="61.5" y="699.6" width="103.8" height="52.2" fill="#323232"/><path d="M62.5,699.6v8.9M67.7,699.6v8.9M73.6,699.6v8.9M80.4,699.6v8.9M87.3,699.6v8.9M94.2,699.6v8.9M99.4,699.6v8.9M106.2,699.6v8.9M113.2,699.6v8.9M118.7,699.6v8.9M124.5,699.6v8.9M130.5,699.6v8.9M136,699.6v8.9M141.4,699.6v8.9M146.7,699.6v8.9M153.3,699.6v8.9M159.2,699.6v8.9" stroke="#1c1c1c" stroke-width="2"/><path d="M82.2,708.5v41.8M102.8,708.5v41.8M123.2,708.5v41.8M143.7,708.5v41.8" stroke="#262626" stroke-width="1.4"/><g transform="translate(92.5,699.6) scale(1.004)"><use href="#mb"/><circle class="s" cx="6" cy="30" r="1.7"/><circle class="s" cx="-2.3" cy="14.9" r="1.1"/><circle class="s" cx="6.5" cy="20.5" r="1.1"/><circle class="s" cx="-5.6" cy="33.6" r="2"/><circle class="p" cx="2.9" cy="8.6" r="1.4"/><circle class="p" cx="5.1" cy="13.9" r="0.7"/><circle class="p" cx="4.5" cy="13" r="1.2"/><circle class="p" cx="-3.8" cy="20.9" r="1.2"/><circle class="p" cx="2.7" cy="17.2" r="1.3"/><circle class="p" cx="-4.7" cy="20.5" r="0.8"/><circle class="p" cx="2.2" cy="10.3" r="1.1"/><circle class="p" cx="-2.1" cy="9.2" r="1.4"/><circle class="p" cx="3.9" cy="6.5" r="0.9"/><circle class="p" cx="-1.5" cy="14.5" r="0.9"/><circle class="p" cx="-2.5" cy="6.7" r="1.2"/><circle class="p" cx="-5.4" cy="14.7" r="0.7"/><circle class="p" cx="6.1" cy="15.4" r="1.1"/><circle class="p" cx="1.8" cy="19.9" r="1.1"/><circle class="b" cx="-2.6" cy="16.2" r="1.7"/><circle class="b" cx="-3.4" cy="22.5" r="2.1"/><circle class="b" cx="3.8" cy="19.8" r="2.5"/><circle class="b" cx="-5.7" cy="30" r="2.1"/><circle class="b" cx="-3" cy="26.8" r="1.8"/><circle class="b" cx="3.6" cy="28.4" r="2.2"/><circle class="b" cx="5.5" cy="35.2" r="2.4"/><circle class="b" cx="-0.8" cy="41.3" r="1.9"/><circle class="b" cx="-3.6" cy="17.1" r="2.6"/><circle class="b" cx="-1.5" cy="17" r="2.8"/><circle class="b" cx="1.6" cy="29" r="2"/><circle class="b" cx="-1.4" cy="38.9" r="2.4"/><circle class="b" cx="1.5" cy="25.7" r="2.2"/><circle class="b" cx="3" cy="19.9" r="1.8"/><circle class="b" cx="-2.2" cy="30.7" r="1.7"/><circle class="b" cx="-0.7" cy="33.3" r="2.1"/><circle class="b" cx="3.8" cy="19.5" r="2.4"/><circle class="b" cx="5.2" cy="27.9" r="2.2"/><circle class="b" cx="-0.2" cy="18.7" r="2"/><circle class="b" cx="-5" cy="27.7" r="2"/><circle class="b" cx="1.4" cy="19.5" r="2.5"/><circle class="b" cx="4.1" cy="32.1" r="2"/><circle class="b" cx="1.3" cy="36.4" r="2.4"/><circle class="b" cx="-5" cy="37.4" r="2.4"/><circle class="b" cx="1" cy="34.7" r="2.6"/><circle class="b" cx="-0.1" cy="42.3" r="2"/><circle class="b" cx="3.9" cy="34.2" r="2.4"/><circle class="b" cx="-0.3" cy="22.3" r="2.3"/><circle class="b" cx="-1.3" cy="22.4" r="2"/><circle class="b" cx="4.5" cy="17" r="1.8"/><circle class="b" cx="2.7" cy="23.5" r="2.4"/><circle class="b" cx="1.2" cy="15.4" r="2.6"/><circle class="b" cx="-1.5" cy="14.7" r="2.4"/><circle class="b" cx="-5.4" cy="35.2" r="2.4"/><circle class="b" cx="-0.1" cy="29.3" r="2.6"/><circle class="b" cx="5.9" cy="26.4" r="2.5"/><circle class="b" cx="2.9" cy="21.3" r="3.5"/><circle class="b" cx="2.5" cy="24.2" r="3.4"/><circle class="b" cx="2.3" cy="20.9" r="4"/><circle class="b" cx="-2.4" cy="34.6" r="4"/><circle class="b" cx="0.2" cy="23.7" r="3.1"/><circle class="c" cx="-2" cy="27" r="4.5"/><circle class="g" cx="-2" cy="27" r="3.7"/><circle class="y" cx="-2" cy="27" r="2.9"/><circle class="o" cx="-2" cy="27" r="2.1"/><circle class="r" cx="-2" cy="27" r="1.3"/></g><g transform="translate(133.5,699.6) scale(1.004)"><use href="#mb"/><circle class="s" cx="4" cy="27.6" r="1.2"/><circle class="s" cx="5.2" cy="17.5" r="1"/><circle class="s" cx="-1.6" cy="22" r="2.2"/><circle class="s" cx="-2.2" cy="29.9" r="2.2"/><circle class="p" cx="2.7" cy="15.4" r="1.3"/><circle class="p" cx="3.6" cy="10.8" r="1.4"/><circle class="p" cx="-4" cy="8.4" r="0.8"/><circle class="p" cx="0.4" cy="7.4" r="0.8"/><circle class="p" cx="2.2" cy="17.6" r="1.1"/><circle class="p" cx="2.4" cy="16.8" r="1.3"/><circle class="p" cx="1.5" cy="5.2" r="1.2"/><circle class="p" cx="-2.2" cy="11.2" r="1.3"/><circle class="p" cx="2.1" cy="6.9" r="1.1"/><circle class="p" cx="1.3" cy="14.8" r="1"/><circle class="p" cx="3.6" cy="11.1" r="1.4"/><circle class="p" cx="3.4" cy="12.1" r="1.1"/><circle class="p" cx="3.3" cy="7.5" r="1.2"/><circle class="p" cx="-0.1" cy="17.6" r="1.1"/><circle class="b" cx="-5.7" cy="26" r="1.9"/><circle class="b" cx="-2.8" cy="29.6" r="2.4"/><circle class="b" cx="-2" cy="21.3" r="1.9"/><circle class="b" cx="0.4" cy="28.3" r="2.8"/><circle class="b" cx="-0.7" cy="18.1" r="2.6"/><circle class="b" cx="4.7" cy="38.6" r="1.9"/><circle class="b" cx="-3.4" cy="19.6" r="2.3"/><circle class="b" cx="1.6" cy="38.5" r="2.8"/><circle class="b" cx="-0.4" cy="16.2" r="2.7"/><circle class="b" cx="0.2" cy="31.5" r="1.9"/><circle class="b" cx="-1.6" cy="39.2" r="2.6"/><circle class="b" cx="-1.7" cy="15.8" r="2.4"/><circle class="b" cx="-2.9" cy="26.6" r="2.3"/><circle class="b" cx="1.4" cy="33.6" r="2.3"/><circle class="b" cx="2.4" cy="36.9" r="2.3"/><circle class="b" cx="0" cy="42.4" r="2.2"/><circle class="b" cx="2.3" cy="29.2" r="1.9"/><circle class="b" cx="-5" cy="20.7" r="1.9"/><circle class="b" cx="-2.5" cy="40.8" r="2.6"/><circle class="b" cx="-0.8" cy="15.9" r="2.8"/><circle class="b" cx="0.1" cy="21.3" r="2.2"/><circle class="b" cx="3.3" cy="26.4" r="2.6"/><circle class="b" cx="0.3" cy="15.8" r="1.8"/><circle class="b" cx="5.4" cy="28.3" r="2.6"/><circle class="b" cx="-3" cy="27.4" r="2.7"/><circle class="b" cx="-2.8" cy="24.7" r="2.6"/><circle class="b" cx="-3.7" cy="18.7" r="2.1"/><circle class="b" cx="-1.2" cy="36.8" r="2.4"/><circle class="b" cx="-2.9" cy="21.5" r="1.9"/><circle class="b" cx="-3" cy="36.9" r="1.8"/><circle class="b" cx="2.8" cy="40.6" r="2.1"/><circle class="b" cx="-1.7" cy="30.4" r="2.3"/><circle class="b" cx="0.8" cy="30.7" r="2.3"/><circle class="b" cx="-5.2" cy="29.4" r="2.1"/><circle class="b" cx="0.6" cy="41.9" r="2.6"/><circle class="b" cx="4.7" cy="37.7" r="2.5"/><circle class="b" cx="2.2" cy="23.1" r="3.1"/><circle class="b" cx="2.4" cy="22" r="3.1"/><circle class="b" cx="-0.5" cy="32" r="3.3"/><circle class="b" cx="2.6" cy="27.6" r="3.4"/><circle class="b" cx="1.5" cy="22.8" r="3.1"/><circle class="c" cx="0" cy="25" r="6"/><circle class="g" cx="0" cy="25" r="4.9"/><circle class="y" cx="0" cy="25" r="3.8"/><circle class="o" cx="0" cy="25" r="2.8"/><circle class="r" cx="0" cy="25" r="1.7"/><circle class="c" cx="1" cy="10" r="2.5"/><circle class="g" cx="1" cy="10" r="2.1"/><circle class="y" cx="1" cy="10" r="1.6"/></g>
<rect x="168.8" y="699.6" width="103.6" height="52.2" fill="#323232"/><path d="M169.8,699.6v8.9M175.8,699.6v8.9M181.4,699.6v8.9M187,699.6v8.9M193.2,699.6v8.9M198.2,699.6v8.9M203.6,699.6v8.9M208.7,699.6v8.9M214.3,699.6v8.9M220.3,699.6v8.9M225.6,699.6v8.9M230.7,699.6v8.9M236.9,699.6v8.9M243.8,699.6v8.9M249.1,699.6v8.9M254.9,699.6v8.9M260.3,699.6v8.9M266.4,699.6v8.9" stroke="#1c1c1c" stroke-width="2"/><path d="M189.5,708.5v41.8M210.1,708.5v41.8M230.6,708.5v41.8M251,708.5v41.8" stroke="#262626" stroke-width="1.4"/><g transform="translate(179.1,699.6) scale(1.004)"><use href="#mb"/><circle class="s" cx="4.3" cy="17.6" r="1.6"/><circle class="s" cx="-5.2" cy="29.4" r="1.3"/><circle class="s" cx="1.8" cy="29" r="1.4"/><circle class="s" cx="6.1" cy="34.4" r="2.2"/><circle class="p" cx="1.1" cy="28.2" r="1"/><circle class="p" cx="0.5" cy="27.1" r="0.9"/></g><g transform="translate(199.8,699.6) scale(1.004)"><use href="#mb"/><circle class="s" cx="-6.4" cy="36.7" r="1.8"/><circle class="s" cx="6.1" cy="34.1" r="1.6"/><circle class="s" cx="-0.3" cy="17.7" r="1.6"/><circle class="s" cx="4.4" cy="24.6" r="1.5"/><circle class="p" cx="3.8" cy="30" r="1.5"/><circle class="p" cx="0.9" cy="27.2" r="1.4"/><circle class="p" cx="3.2" cy="29.3" r="1.1"/><circle class="p" cx="2.7" cy="27.7" r="1.6"/><circle class="p" cx="4.3" cy="30.3" r="1"/><circle class="p" cx="2.8" cy="30.8" r="1.1"/><circle class="p" cx="0" cy="27.6" r="1.6"/></g><g transform="translate(220.3,699.6) scale(1.004)"><use href="#mb"/><circle class="s" cx="4.6" cy="14.5" r="1.4"/><circle class="s" cx="0.5" cy="33.9" r="2.2"/><circle class="s" cx="-5.5" cy="30.5" r="1.6"/><circle class="s" cx="2.3" cy="24.4" r="1.1"/><circle class="p" cx="-1.4" cy="38.9" r="1.1"/><circle class="p" cx="-2.6" cy="37.6" r="1.1"/></g><g transform="translate(240.8,699.6) scale(1.004)"><use href="#mb"/><circle class="s" cx="-1.8" cy="19.7" r="1.2"/><circle class="s" cx="-1.6" cy="35.3" r="2.1"/><circle class="s" cx="-4.8" cy="32.2" r="1.4"/><circle class="s" cx="3.6" cy="20.1" r="2.2"/><circle class="p" cx="-0.4" cy="30.7" r="1.7"/><circle class="p" cx="-3.1" cy="27.5" r="1.3"/><circle class="p" cx="0.1" cy="29" r="1.7"/><circle class="p" cx="-0.5" cy="31.6" r="1.2"/><circle class="p" cx="-2.2" cy="28.6" r="1"/><circle class="p" cx="-2.3" cy="29.1" r="1.1"/><circle class="p" cx="-2" cy="27" r="1.6"/></g><g transform="translate(261.1,699.6) scale(1.004)"><use href="#mb"/><circle class="s" cx="-3.4" cy="39.6" r="1.4"/><circle class="s" cx="3.5" cy="33.3" r="1.1"/><circle class="s" cx="-2.7" cy="27.8" r="2.2"/><circle class="s" cx="-0.9" cy="21.8" r="2.3"/><circle class="p" cx="2.5" cy="30.6" r="1.5"/><circle class="p" cx="-2" cy="25.5" r="1.1"/><circle class="p" cx="-1.8" cy="34.9" r="1"/><circle class="p" cx="2.1" cy="31.1" r="1"/><circle class="p" cx="4" cy="35.2" r="0.9"/><circle class="p" cx="-4.1" cy="33" r="0.9"/><circle class="p" cx="-7.1" cy="32.4" r="1"/><circle class="p" cx="-2.9" cy="34.4" r="1.1"/><circle class="p" cx="1.3" cy="34.3" r="1.1"/><circle class="p" cx="-3.8" cy="37" r="1.1"/><circle class="p" cx="1.7" cy="27.8" r="1.3"/><circle class="p" cx="-1.9" cy="33.4" r="1.3"/><circle class="p" cx="-2.5" cy="36" r="1.4"/><circle class="p" cx="-2.1" cy="36.8" r="1.5"/><circle class="p" cx="1.5" cy="29.9" r="1.3"/><circle class="p" cx="-4.2" cy="24.8" r="1.4"/><circle class="p" cx="7.5" cy="34.1" r="1.2"/><circle class="p" cx="6.2" cy="26" r="1"/><circle class="p" cx="2.1" cy="32.1" r="1.5"/><circle class="p" cx="-2.4" cy="34.3" r="0.9"/><circle class="p" cx="2" cy="37.1" r="1"/><circle class="p" cx="-5.1" cy="26.2" r="0.9"/><circle class="b" cx="-0.4" cy="33.5" r="2.1"/><circle class="b" cx="-4.5" cy="28.2" r="2.3"/><circle class="b" cx="-4.4" cy="30.3" r="2.1"/><circle class="b" cx="-1.6" cy="30.1" r="2.3"/><circle class="b" cx="-2.7" cy="35.4" r="2.2"/><circle class="b" cx="3.7" cy="34.9" r="2.5"/><circle class="b" cx="-0.1" cy="29.9" r="2.6"/><circle class="b" cx="3.1" cy="27.2" r="2.1"/><circle class="b" cx="0.8" cy="29.3" r="1.7"/><circle class="b" cx="4.9" cy="32.6" r="1.8"/><circle class="b" cx="3.3" cy="28.8" r="1.9"/><circle class="b" cx="4.3" cy="29.1" r="1.8"/><circle class="b" cx="-2.4" cy="26.6" r="2.3"/><circle class="b" cx="1.7" cy="33.8" r="1.8"/><circle class="b" cx="1.3" cy="32.3" r="2.4"/><circle class="b" cx="-0" cy="31.8" r="1.9"/><circle class="b" cx="-4.3" cy="33.1" r="2.3"/><circle class="b" cx="-4.4" cy="28.4" r="2.2"/><circle class="b" cx="-2.8" cy="30.8" r="1.6"/><circle class="b" cx="-2.4" cy="34.4" r="1.6"/><circle class="b" cx="-3.5" cy="35" r="2"/><circle class="b" cx="1" cy="34.4" r="1.6"/><circle class="b" cx="1.6" cy="32.2" r="3.2"/><circle class="b" cx="-1.7" cy="31.6" r="2.7"/><circle class="b" cx="2.4" cy="31.1" r="3.2"/><circle class="b" cx="1.2" cy="32.8" r="3.3"/></g>
<rect x="275.9" y="699.6" width="103" height="52.2" fill="#323232"/><path d="M276.9,699.6v8.9M282.2,699.6v8.9M289.1,699.6v8.9M294.2,699.6v8.9M300.3,699.6v8.9M306.7,699.6v8.9M312.6,699.6v8.9M318.1,699.6v8.9M324.4,699.6v8.9M329.5,699.6v8.9M334.9,699.6v8.9M341.5,699.6v8.9M347.2,699.6v8.9M353.1,699.6v8.9M359.8,699.6v8.9M365.8,699.6v8.9M371.8,699.6v8.9" stroke="#1c1c1c" stroke-width="2"/><path d="M296.5,708.5v41.8M317.1,708.5v41.8M337.6,708.5v41.8M358,708.5v41.8" stroke="#262626" stroke-width="1.4"/><g transform="translate(306.9,699.6) scale(1.004)"><use href="#mb"/><circle class="s" cx="0.4" cy="26.5" r="1.5"/><circle class="s" cx="0.6" cy="17.5" r="2.3"/><circle class="s" cx="-5.7" cy="18.7" r="2.1"/><circle class="s" cx="2.3" cy="39.8" r="1.9"/><circle class="p" cx="2.1" cy="12.7" r="1.3"/><circle class="p" cx="-0.6" cy="20.1" r="0.9"/><circle class="p" cx="-6.1" cy="24.7" r="1.4"/><circle class="p" cx="4.9" cy="19.6" r="1.2"/><circle class="p" cx="1.8" cy="15.1" r="0.8"/><circle class="p" cx="-3.7" cy="27.7" r="1"/><circle class="p" cx="3.5" cy="27.1" r="1.1"/><circle class="p" cx="5.3" cy="11.5" r="1.5"/><circle class="p" cx="2.3" cy="21.5" r="1"/><circle class="p" cx="4.4" cy="22.7" r="1"/><circle class="p" cx="5.9" cy="13.1" r="1.4"/><circle class="p" cx="-1.9" cy="25.1" r="1.1"/><circle class="p" cx="-0.8" cy="18.2" r="0.8"/><circle class="p" cx="-0.5" cy="28.7" r="0.9"/><circle class="p" cx="-3.8" cy="11.3" r="0.9"/><circle class="p" cx="4" cy="26.7" r="1.2"/><circle class="p" cx="1.2" cy="13.2" r="1"/><circle class="p" cx="-1.1" cy="16.9" r="0.9"/><circle class="p" cx="-3.8" cy="13.1" r="1.4"/><circle class="p" cx="-3.7" cy="24.6" r="0.8"/><circle class="b" cx="4.8" cy="24.4" r="1.8"/><circle class="b" cx="4.8" cy="29.5" r="2"/><circle class="b" cx="-1.8" cy="33.7" r="2.2"/><circle class="b" cx="-5.3" cy="29.2" r="2"/><circle class="b" cx="5" cy="35.6" r="2.1"/><circle class="b" cx="-4.5" cy="25" r="2"/><circle class="b" cx="5.2" cy="27.2" r="2.5"/><circle class="b" cx="-3.9" cy="32.1" r="1.8"/><circle class="b" cx="2.5" cy="21.7" r="2.2"/><circle class="b" cx="2.2" cy="24.3" r="2.6"/><circle class="b" cx="5.4" cy="36.4" r="2.4"/><circle class="b" cx="4.6" cy="36.1" r="2.3"/><circle class="b" cx="0.9" cy="26.8" r="1.8"/><circle class="b" cx="-4.7" cy="33.9" r="2"/><circle class="b" cx="3.9" cy="28.3" r="2"/><circle class="b" cx="-1.8" cy="36.6" r="2.4"/><circle class="b" cx="0.4" cy="28.4" r="1.8"/><circle class="b" cx="-2.7" cy="36.6" r="1.9"/><circle class="b" cx="-4.4" cy="31.1" r="2.5"/><circle class="b" cx="-1.4" cy="31.3" r="1.7"/><circle class="b" cx="3.9" cy="22.7" r="2.3"/><circle class="b" cx="-1.2" cy="25.6" r="2.2"/><circle class="b" cx="6.1" cy="33" r="2.3"/><circle class="b" cx="5" cy="27.8" r="2.6"/><circle class="b" cx="3.1" cy="26.3" r="1.9"/><circle class="b" cx="-0.1" cy="26.8" r="1.8"/><circle class="b" cx="-6" cy="29.7" r="2.4"/><circle class="b" cx="3.4" cy="22.2" r="2.5"/><circle class="b" cx="2.8" cy="36" r="2"/><circle class="b" cx="-3.7" cy="27.6" r="2"/><circle class="b" cx="-0.3" cy="30.4" r="3.2"/><circle class="b" cx="0.6" cy="28.7" r="2.9"/><circle class="b" cx="-1.1" cy="25.6" r="3.1"/><circle class="b" cx="2.9" cy="27.3" r="2.9"/><circle class="b" cx="-1.6" cy="27.3" r="3.3"/><circle class="c" cx="0" cy="28" r="3"/><circle class="g" cx="0" cy="28" r="2.5"/><circle class="y" cx="0" cy="28" r="1.9"/><circle class="o" cx="0" cy="28" r="1.4"/></g><g transform="translate(327.4,699.6) scale(1.004)"><use href="#mb"/><circle class="s" cx="-4.4" cy="29.8" r="2.2"/><circle class="s" cx="3.8" cy="17" r="1.4"/><circle class="s" cx="-5.9" cy="32.3" r="2.1"/><circle class="s" cx="0.9" cy="15.1" r="1.2"/><circle class="p" cx="2.3" cy="10.5" r="1"/><circle class="p" cx="1.6" cy="27.3" r="1.2"/><circle class="p" cx="4.2" cy="18.6" r="0.7"/><circle class="p" cx="-0.1" cy="15.6" r="0.9"/><circle class="p" cx="6.3" cy="15.9" r="0.8"/><circle class="p" cx="-2.8" cy="13.7" r="1.1"/><circle class="p" cx="-0" cy="14.4" r="1"/><circle class="p" cx="5.4" cy="24" r="0.9"/><circle class="p" cx="0.9" cy="20.9" r="1.2"/><circle class="p" cx="-4.3" cy="26.2" r="1"/><circle class="p" cx="4.6" cy="24.7" r="1.1"/><circle class="p" cx="-0.5" cy="27.5" r="0.8"/><circle class="p" cx="1.8" cy="8.1" r="1.1"/><circle class="p" cx="-3.7" cy="19.4" r="1"/><circle class="p" cx="-2.3" cy="7.8" r="0.8"/><circle class="p" cx="3.7" cy="19.8" r="1.3"/><circle class="p" cx="-1.9" cy="13.3" r="1.4"/><circle class="p" cx="5" cy="14.9" r="1.3"/><circle class="p" cx="5.4" cy="12.7" r="0.8"/><circle class="p" cx="2.5" cy="21.2" r="0.8"/><circle class="b" cx="4.4" cy="34" r="2.1"/><circle class="b" cx="2" cy="33.5" r="1.9"/><circle class="b" cx="5.1" cy="30.2" r="2.3"/><circle class="b" cx="5.4" cy="25.2" r="1.9"/><circle class="b" cx="3.7" cy="25.1" r="2.4"/><circle class="b" cx="2.2" cy="39" r="2.3"/><circle class="b" cx="-0.4" cy="26.7" r="1.8"/><circle class="b" cx="-6.1" cy="33.7" r="2"/><circle class="b" cx="3" cy="30.3" r="2.2"/><circle class="b" cx="-1.2" cy="25.8" r="1.9"/><circle class="b" cx="-3.3" cy="40.1" r="2.4"/><circle class="b" cx="2.2" cy="40.5" r="1.8"/><circle class="b" cx="1" cy="22" r="1.8"/><circle class="b" cx="-1.4" cy="41.7" r="2.6"/><circle class="b" cx="1.8" cy="40.1" r="2"/><circle class="b" cx="-6" cy="31.3" r="1.9"/><circle class="b" cx="-2" cy="41.3" r="1.9"/><circle class="b" cx="-2.2" cy="40.1" r="2.5"/><circle class="b" cx="0.2" cy="29.2" r="1.8"/><circle class="b" cx="2.3" cy="24.3" r="2.1"/><circle class="b" cx="-6.2" cy="32.2" r="1.9"/><circle class="b" cx="-5.9" cy="28.1" r="2.3"/><circle class="b" cx="2.4" cy="30.3" r="1.9"/><circle class="b" cx="3.3" cy="31" r="2.2"/><circle class="b" cx="-0.4" cy="41.8" r="2.2"/><circle class="b" cx="4.1" cy="24.7" r="1.9"/><circle class="b" cx="-5.3" cy="25" r="2.4"/><circle class="b" cx="-3" cy="40.6" r="2.5"/><circle class="b" cx="1.6" cy="24.1" r="2"/><circle class="b" cx="2.8" cy="24.9" r="2.1"/><circle class="b" cx="1.5" cy="31" r="2.9"/><circle class="b" cx="-0.4" cy="27.5" r="3.1"/><circle class="b" cx="3.1" cy="32.5" r="3.5"/><circle class="b" cx="2.4" cy="25.6" r="3.5"/><circle class="b" cx="1.2" cy="34.3" r="3"/><circle class="c" cx="0" cy="28" r="3"/><circle class="g" cx="0" cy="28" r="2.5"/><circle class="y" cx="0" cy="28" r="1.9"/></g><g transform="translate(347.9,699.6) scale(1.004)"><use href="#mb"/><circle class="s" cx="6.5" cy="20.4" r="1.7"/><circle class="s" cx="-0.5" cy="35.6" r="1.8"/><circle class="s" cx="6.3" cy="23.5" r="1.9"/><circle class="s" cx="4.7" cy="14.2" r="1.9"/><circle class="p" cx="-4.5" cy="30.3" r="1.1"/><circle class="p" cx="-7.5" cy="28.8" r="1.3"/><circle class="p" cx="4.5" cy="25.2" r="1.3"/><circle class="p" cx="-1.5" cy="34.9" r="1.2"/><circle class="p" cx="-2.3" cy="23.3" r="1"/><circle class="p" cx="-0.8" cy="12.9" r="1.5"/><circle class="p" cx="2.4" cy="20.3" r="1.6"/><circle class="p" cx="-4" cy="31.3" r="1.5"/><circle class="p" cx="2.3" cy="16.4" r="1.5"/><circle class="p" cx="4.7" cy="34.8" r="1.3"/><circle class="p" cx="5.8" cy="30.6" r="1.5"/><circle class="p" cx="0.1" cy="38.8" r="1"/><circle class="p" cx="-5.7" cy="16.7" r="1.2"/><circle class="p" cx="-2.4" cy="9.8" r="1.4"/><circle class="p" cx="3.1" cy="19.3" r="1.4"/><circle class="p" cx="-2" cy="26.2" r="1.5"/><circle class="p" cx="4.7" cy="24.1" r="0.9"/><circle class="p" cx="-7.5" cy="25.7" r="1.2"/><circle class="p" cx="2.4" cy="14.3" r="1.3"/><circle class="p" cx="0.9" cy="29.5" r="1.2"/><circle class="p" cx="1" cy="37.8" r="0.9"/><circle class="p" cx="-4" cy="33.5" r="1.1"/><circle class="p" cx="5.3" cy="31.8" r="1"/><circle class="p" cx="6.9" cy="19.2" r="0.9"/><circle class="p" cx="2.7" cy="25.8" r="1.1"/><circle class="p" cx="-6.3" cy="27.4" r="1.2"/><circle class="b" cx="-6.1" cy="33.3" r="2.7"/><circle class="b" cx="3.6" cy="35.3" r="2.2"/><circle class="b" cx="4.2" cy="23.4" r="2.3"/><circle class="b" cx="-4.3" cy="35.6" r="2.5"/><circle class="b" cx="3.7" cy="27.3" r="2"/><circle class="b" cx="5.1" cy="27.4" r="2.4"/><circle class="b" cx="5.6" cy="31.5" r="1.8"/><circle class="b" cx="4.1" cy="33.6" r="2.7"/><circle class="b" cx="5.2" cy="25.1" r="2.4"/><circle class="b" cx="-4.1" cy="32.3" r="2"/><circle class="b" cx="-4.4" cy="28.9" r="2.2"/><circle class="b" cx="4.2" cy="24.7" r="2.8"/><circle class="b" cx="2.4" cy="24.5" r="2.6"/><circle class="b" cx="3.9" cy="30" r="1.9"/><circle class="b" cx="-4.7" cy="36.2" r="2.5"/><circle class="b" cx="1.7" cy="23.9" r="1.9"/><circle class="b" cx="-0.9" cy="35.8" r="1.9"/><circle class="b" cx="2" cy="27.2" r="2.4"/><circle class="b" cx="3.4" cy="30" r="2.7"/><circle class="b" cx="-2.5" cy="26.9" r="2.3"/><circle class="b" cx="-2.7" cy="35.7" r="1.8"/><circle class="b" cx="0.4" cy="21.5" r="2.3"/><circle class="b" cx="5.7" cy="26.9" r="2.1"/><circle class="b" cx="0.7" cy="36" r="2.3"/><circle class="b" cx="-0.4" cy="23" r="1.9"/><circle class="b" cx="-1.3" cy="21.4" r="2"/><circle class="c" cx="0" cy="27" r="2.5"/><circle class="g" cx="0" cy="27" r="2.1"/><circle class="y" cx="0" cy="27" r="1.6"/></g><g transform="translate(368.2,699.6) scale(1.004)"><use href="#mb"/><circle class="s" cx="-4.9" cy="26.9" r="1.3"/><circle class="s" cx="1.3" cy="18.4" r="2.2"/><circle class="s" cx="-3.6" cy="14.9" r="2.3"/><circle class="s" cx="-0.7" cy="30.6" r="2.1"/><circle class="p" cx="6.3" cy="16.5" r="1"/><circle class="p" cx="-1.1" cy="16.2" r="1.1"/><circle class="p" cx="-0.3" cy="8.2" r="0.7"/><circle class="p" cx="-5.2" cy="18.7" r="1.3"/><circle class="p" cx="-1.2" cy="20.9" r="1"/><circle class="p" cx="4.4" cy="17.8" r="0.9"/><circle class="p" cx="-3.6" cy="8.5" r="0.8"/><circle class="p" cx="-1.2" cy="27.2" r="1.3"/><circle class="p" cx="1.4" cy="27.8" r="1"/><circle class="p" cx="-3.7" cy="19.9" r="1.3"/><circle class="p" cx="4.7" cy="9.9" r="1.1"/><circle class="p" cx="-2.7" cy="27.7" r="0.9"/><circle class="p" cx="2.5" cy="20.2" r="1.1"/><circle class="p" cx="1.3" cy="25.4" r="1.2"/><circle class="p" cx="-6.7" cy="17" r="1"/><circle class="p" cx="-2.7" cy="29.9" r="0.7"/><circle class="p" cx="-2.1" cy="14.5" r="1.2"/><circle class="p" cx="-1.3" cy="11.8" r="1.4"/><circle class="p" cx="5.8" cy="25.6" r="0.9"/><circle class="p" cx="6.1" cy="19.7" r="0.8"/><circle class="b" cx="-6.4" cy="32.4" r="2.6"/><circle class="b" cx="-1.2" cy="35" r="1.8"/><circle class="b" cx="-0.9" cy="35.6" r="2.3"/><circle class="b" cx="4.5" cy="36.8" r="2.2"/><circle class="b" cx="4.5" cy="27.1" r="2.1"/><circle class="b" cx="-1.2" cy="41.2" r="2.4"/><circle class="b" cx="-2.7" cy="29.5" r="2"/><circle class="b" cx="5.5" cy="31" r="2.3"/><circle class="b" cx="-3.6" cy="38.2" r="1.7"/><circle class="b" cx="-4.6" cy="25.7" r="1.8"/><circle class="b" cx="3.6" cy="28.2" r="2.5"/><circle class="b" cx="3.2" cy="22.7" r="1.9"/><circle class="b" cx="4.4" cy="34.2" r="2.6"/><circle class="b" cx="-1.8" cy="37.9" r="2.1"/><circle class="b" cx="2.9" cy="39.6" r="2.2"/><circle class="b" cx="-4.9" cy="34.9" r="1.8"/><circle class="b" cx="-5.6" cy="32" r="1.9"/><circle class="b" cx="-4.4" cy="39" r="2.1"/><circle class="b" cx="2.6" cy="22.5" r="2.4"/><circle class="b" cx="-0.5" cy="34.9" r="2.5"/><circle class="b" cx="-2.2" cy="38.3" r="1.9"/><circle class="b" cx="1" cy="30.8" r="2.2"/><circle class="b" cx="5" cy="31" r="1.9"/><circle class="b" cx="1.8" cy="24.4" r="2.2"/><circle class="b" cx="1.3" cy="27.1" r="2"/><circle class="b" cx="4.5" cy="34.9" r="1.9"/><circle class="b" cx="-5.7" cy="32.8" r="2.5"/><circle class="b" cx="6.2" cy="32.3" r="2.3"/><circle class="b" cx="3.8" cy="37.5" r="2.2"/><circle class="b" cx="2.4" cy="27.1" r="2.4"/><circle class="b" cx="-0.3" cy="28.8" r="3.2"/><circle class="b" cx="2.5" cy="33.4" r="2.8"/><circle class="b" cx="-0.4" cy="33.8" r="3.2"/><circle class="b" cx="0.6" cy="25.8" r="2.9"/><circle class="b" cx="0.6" cy="31.4" r="3.5"/><circle class="c" cx="1" cy="26" r="3"/><circle class="g" cx="1" cy="26" r="2.5"/><circle class="y" cx="1" cy="26" r="1.9"/></g>
<rect x="382.2" y="699.6" width="103.1" height="52.2" fill="#323232"/><path d="M383.2,699.6v8.9M389.3,699.6v8.9M395.5,699.6v8.9M401,699.6v8.9M407.8,699.6v8.9M414.7,699.6v8.9M420.3,699.6v8.9M426,699.6v8.9M432.2,699.6v8.9M437.6,699.6v8.9M442.8,699.6v8.9M448.7,699.6v8.9M454,699.6v8.9M459.2,699.6v8.9M466,699.6v8.9M472.7,699.6v8.9M478.1,699.6v8.9" stroke="#1c1c1c" stroke-width="2"/><path d="M402.8,708.5v41.8M423.4,708.5v41.8M443.9,708.5v41.8M464.4,708.5v41.8" stroke="#262626" stroke-width="1.4"/><g transform="translate(392.5,699.6) scale(1.004)"><use href="#mb"/><circle class="s" cx="2" cy="35.4" r="1.7"/><circle class="s" cx="4.9" cy="16.5" r="1.2"/><circle class="s" cx="0.9" cy="17.8" r="1.3"/><circle class="s" cx="3.3" cy="33.1" r="1.3"/><circle class="p" cx="-1.1" cy="24.6" r="1"/><circle class="p" cx="1.2" cy="24.4" r="0.7"/></g><g transform="translate(413.2,699.6) scale(1.004)"><use href="#mb"/><circle class="s" cx="-4.7" cy="38.1" r="2.1"/><circle class="s" cx="-5.8" cy="29.5" r="1.8"/><circle class="s" cx="-6.5" cy="27.4" r="1.5"/><circle class="s" cx="-5.1" cy="25.4" r="1.4"/><circle class="p" cx="-5.1" cy="28.5" r="0.9"/><circle class="p" cx="6.2" cy="28" r="1"/><circle class="p" cx="-1.2" cy="33.1" r="1.4"/><circle class="p" cx="-5.6" cy="36.4" r="1.1"/><circle class="p" cx="-5" cy="31.2" r="0.9"/><circle class="p" cx="-4.6" cy="37.4" r="1"/><circle class="p" cx="1.1" cy="28.3" r="1.1"/><circle class="p" cx="-6.9" cy="28.4" r="0.8"/><circle class="p" cx="-3.2" cy="33.5" r="1.4"/><circle class="p" cx="1.7" cy="28.9" r="1.4"/><circle class="p" cx="-1.2" cy="34" r="0.9"/><circle class="p" cx="-1.3" cy="30.2" r="1"/><circle class="p" cx="8.3" cy="32.7" r="1.1"/><circle class="p" cx="-2.9" cy="27.3" r="1.3"/><circle class="p" cx="5.6" cy="36.1" r="1"/><circle class="p" cx="-1.4" cy="37.7" r="1.4"/><circle class="p" cx="-3.7" cy="26.2" r="0.9"/><circle class="p" cx="-0.1" cy="34.4" r="0.9"/><circle class="p" cx="0.6" cy="35.8" r="1.5"/><circle class="p" cx="-3.3" cy="29.2" r="1"/><circle class="p" cx="5.5" cy="35.7" r="1.3"/><circle class="p" cx="5.2" cy="26.5" r="1.2"/><circle class="b" cx="-2.2" cy="31.2" r="1.6"/><circle class="b" cx="-3" cy="27.7" r="2.2"/><circle class="b" cx="-0.5" cy="32.4" r="1.9"/><circle class="b" cx="3.8" cy="33.1" r="2.1"/><circle class="b" cx="4" cy="28.4" r="2"/><circle class="b" cx="-4.4" cy="31.2" r="2.5"/><circle class="b" cx="-1.5" cy="27.3" r="2"/><circle class="b" cx="-3.4" cy="28.3" r="2.5"/><circle class="b" cx="-4.4" cy="33.8" r="2.3"/><circle class="b" cx="2.2" cy="31.6" r="2.2"/><circle class="b" cx="-1.7" cy="26.7" r="1.9"/><circle class="b" cx="-2.4" cy="30.4" r="1.9"/><circle class="b" cx="1.3" cy="29.1" r="2"/><circle class="b" cx="-1.6" cy="30.8" r="2.1"/><circle class="b" cx="-1.7" cy="25.8" r="2.5"/><circle class="b" cx="0.2" cy="35.3" r="1.7"/><circle class="b" cx="-0.5" cy="29.6" r="2.4"/><circle class="b" cx="3.4" cy="28.8" r="1.6"/><circle class="b" cx="2" cy="33.8" r="2.5"/><circle class="b" cx="5.2" cy="27.2" r="1.8"/><circle class="b" cx="-0.4" cy="26.6" r="1.7"/><circle class="b" cx="-2" cy="26.7" r="2.6"/><circle class="b" cx="-1.9" cy="31.2" r="2.9"/><circle class="b" cx="1.8" cy="31.7" r="3.5"/><circle class="b" cx="3.2" cy="28.6" r="2.7"/><circle class="b" cx="-0.9" cy="31.9" r="2.6"/><circle class="c" cx="2.5" cy="29.8" r="1.3"/></g><g transform="translate(433.7,699.6) scale(1.004)"><use href="#mb"/><circle class="s" cx="-1.2" cy="18" r="2"/><circle class="s" cx="6.3" cy="19" r="1.5"/><circle class="s" cx="2.7" cy="34.7" r="1"/><circle class="s" cx="1.5" cy="17.5" r="1.1"/><circle class="p" cx="2" cy="27.8" r="0.9"/><circle class="p" cx="2.6" cy="28.7" r="0.7"/></g><g transform="translate(454.2,699.6) scale(1.004)"><use href="#mb"/><circle class="s" cx="3.2" cy="18.2" r="2.2"/><circle class="s" cx="1.1" cy="30.1" r="2.1"/><circle class="s" cx="4.5" cy="14.5" r="1.2"/><circle class="s" cx="-5.7" cy="18.6" r="2"/><circle class="p" cx="-1.1" cy="28.4" r="1.1"/><circle class="p" cx="-1.9" cy="25.6" r="1.6"/><circle class="p" cx="6.2" cy="25.9" r="1.2"/><circle class="p" cx="0.1" cy="34" r="1.2"/><circle class="p" cx="-2.5" cy="33" r="1.5"/><circle class="p" cx="6.4" cy="35.3" r="0.9"/><circle class="p" cx="-0.2" cy="32" r="1.5"/><circle class="p" cx="-2.9" cy="33.7" r="0.8"/><circle class="p" cx="-2.7" cy="32.4" r="1.1"/><circle class="p" cx="2" cy="34.8" r="0.9"/><circle class="p" cx="-2.5" cy="29.8" r="1.3"/><circle class="p" cx="2.4" cy="29.4" r="1.5"/><circle class="p" cx="-1.9" cy="34.9" r="1.2"/><circle class="p" cx="6.7" cy="28.4" r="1.2"/><circle class="p" cx="3.9" cy="35.9" r="1.1"/><circle class="p" cx="6.4" cy="34.4" r="1.2"/><circle class="p" cx="-3.8" cy="24.3" r="1.3"/><circle class="p" cx="-4.4" cy="35.9" r="1.2"/><circle class="p" cx="0.6" cy="31.7" r="1.4"/><circle class="p" cx="7" cy="31.8" r="1"/><circle class="p" cx="7.4" cy="30.5" r="1"/><circle class="p" cx="-5.1" cy="34.3" r="1.3"/><circle class="b" cx="3.3" cy="28.8" r="1.7"/><circle class="b" cx="-3" cy="31" r="2.1"/><circle class="b" cx="4.7" cy="29.8" r="1.7"/><circle class="b" cx="-1.9" cy="25.2" r="2.1"/><circle class="b" cx="1.2" cy="32.9" r="2.2"/><circle class="b" cx="-0" cy="27.6" r="1.9"/><circle class="b" cx="0.5" cy="30.3" r="2.2"/><circle class="b" cx="2.5" cy="35.1" r="2.5"/><circle class="b" cx="-3.6" cy="33" r="1.6"/><circle class="b" cx="0.9" cy="33.6" r="1.7"/><circle class="b" cx="1.2" cy="29.7" r="2.2"/><circle class="b" cx="-3.7" cy="34.8" r="2.6"/><circle class="b" cx="6.4" cy="29.6" r="1.8"/><circle class="b" cx="1.9" cy="33.5" r="1.9"/><circle class="b" cx="2.9" cy="26.4" r="2.3"/><circle class="b" cx="-5.7" cy="32.5" r="2"/><circle class="b" cx="3.6" cy="32.6" r="2.2"/><circle class="b" cx="-0.1" cy="33.8" r="2.5"/><circle class="b" cx="1" cy="27.2" r="1.7"/><circle class="b" cx="2.4" cy="35" r="2.1"/><circle class="b" cx="3.2" cy="30.5" r="1.7"/><circle class="b" cx="-3.7" cy="27.2" r="2.4"/><circle class="b" cx="-3.1" cy="30.6" r="2.8"/><circle class="b" cx="3.4" cy="31.4" r="3.4"/><circle class="b" cx="1.3" cy="32.6" r="3.2"/><circle class="b" cx="3.4" cy="30.8" r="2.9"/><circle class="c" cx="0.4" cy="32.9" r="1.3"/></g><g transform="translate(474.5,699.6) scale(1.004)"><use href="#mb"/><circle class="s" cx="-0.3" cy="38.5" r="1.3"/><circle class="s" cx="3.8" cy="18.2" r="2.2"/><circle class="s" cx="5.4" cy="20.9" r="2"/><circle class="s" cx="-3.8" cy="15.2" r="1"/><circle class="p" cx="-0.5" cy="29.6" r="1.2"/><circle class="p" cx="-3.1" cy="31.5" r="1.2"/><circle class="p" cx="-1.6" cy="38.2" r="1"/><circle class="p" cx="-8" cy="30.3" r="1.4"/><circle class="p" cx="1.1" cy="37.6" r="0.9"/><circle class="p" cx="3" cy="29.7" r="0.9"/><circle class="p" cx="-5.8" cy="31.9" r="1.2"/><circle class="p" cx="-1" cy="31.7" r="1.4"/><circle class="p" cx="-3" cy="27.8" r="1.5"/><circle class="p" cx="-1.2" cy="33.7" r="0.9"/><circle class="p" cx="6.9" cy="32.4" r="0.8"/><circle class="p" cx="5.9" cy="35.2" r="1.4"/><circle class="p" cx="4.2" cy="33.7" r="1.6"/><circle class="p" cx="4.2" cy="27.2" r="1.3"/><circle class="p" cx="5" cy="28.2" r="1.2"/><circle class="p" cx="-0.5" cy="26.3" r="1.6"/><circle class="p" cx="-5.8" cy="29.2" r="1.3"/><circle class="p" cx="-1.8" cy="38.8" r="0.9"/><circle class="p" cx="1.9" cy="28.3" r="1.2"/><circle class="p" cx="5.2" cy="26.4" r="1.3"/><circle class="p" cx="0.1" cy="36" r="1"/><circle class="p" cx="-6.4" cy="32.9" r="0.8"/><circle class="b" cx="1.5" cy="35.7" r="2.5"/><circle class="b" cx="-0.2" cy="35" r="2.4"/><circle class="b" cx="1.6" cy="26.1" r="1.7"/><circle class="b" cx="-3" cy="27.1" r="2"/><circle class="b" cx="-0.5" cy="26.7" r="2"/><circle class="b" cx="4.7" cy="27.3" r="2.4"/><circle class="b" cx="0.5" cy="33.9" r="2"/><circle class="b" cx="3.6" cy="27.8" r="1.8"/><circle class="b" cx="2.5" cy="28.3" r="1.8"/><circle class="b" cx="0.9" cy="33.5" r="2"/><circle class="b" cx="-0.6" cy="35.2" r="2.3"/><circle class="b" cx="2.8" cy="34.8" r="2.5"/><circle class="b" cx="5.6" cy="31.7" r="2.1"/><circle class="b" cx="-3.8" cy="34.5" r="2.6"/><circle class="b" cx="4.8" cy="33.4" r="1.6"/><circle class="b" cx="-2.4" cy="30.6" r="1.7"/><circle class="b" cx="-1.5" cy="28.7" r="1.7"/><circle class="b" cx="-4.1" cy="31.1" r="2.3"/><circle class="b" cx="5" cy="31.6" r="2.5"/><circle class="b" cx="2.9" cy="26.5" r="1.8"/><circle class="b" cx="5" cy="27.3" r="2.1"/><circle class="b" cx="-2.2" cy="31.5" r="2.4"/><circle class="b" cx="0.4" cy="29.3" r="2.5"/><circle class="b" cx="-1.2" cy="31.7" r="3.3"/><circle class="b" cx="1.8" cy="32.6" r="3.3"/><circle class="b" cx="-2.2" cy="32" r="2.7"/></g>
<rect x="488.6" y="699.6" width="82.4" height="52.2" fill="#323232"/><path d="M489.6,699.6v8.9M496.3,699.6v8.9M502.8,699.6v8.9M508,699.6v8.9M514.5,699.6v8.9M520.8,699.6v8.9M527.6,699.6v8.9M534.1,699.6v8.9M540.9,699.6v8.9M545.9,699.6v8.9M551.7,699.6v8.9M557.3,699.6v8.9M563.3,699.6v8.9" stroke="#1c1c1c" stroke-width="2"/><path d="M508.8,708.5v41.8M529.4,708.5v41.8M549.6,708.5v41.8" stroke="#262626" stroke-width="1.4"/><g transform="translate(498.4,699.6) scale(1.004)"><use href="#mb"/><circle class="s" cx="-3.5" cy="28.3" r="2.2"/><circle class="s" cx="1.3" cy="36.9" r="1.5"/><circle class="s" cx="-5.1" cy="28.7" r="1.9"/><circle class="s" cx="3.8" cy="24.7" r="1.7"/><circle class="p" cx="3.5" cy="27.8" r="0.8"/><circle class="p" cx="3.3" cy="25.9" r="0.7"/></g><g transform="translate(519.2,699.6) scale(1.004)"><use href="#mb"/><circle class="s" cx="-2.1" cy="19.7" r="1.8"/><circle class="s" cx="4.9" cy="16.6" r="1.8"/><circle class="s" cx="3.4" cy="18.3" r="1.8"/><circle class="s" cx="4.1" cy="16.4" r="1.8"/><circle class="p" cx="-2.5" cy="35.3" r="1"/><circle class="p" cx="0.7" cy="34.5" r="1.6"/><circle class="p" cx="-0.3" cy="34.8" r="1.2"/><circle class="p" cx="-4" cy="36" r="1.3"/><circle class="p" cx="-5.9" cy="33.9" r="1.7"/><circle class="p" cx="-4.7" cy="35.9" r="1.1"/><circle class="p" cx="-0.1" cy="32.3" r="1.3"/></g><g transform="translate(539.6,699.6) scale(1.004)"><use href="#mb"/><circle class="s" cx="5.6" cy="31" r="1.2"/><circle class="s" cx="2" cy="14.5" r="2"/><circle class="s" cx="2.8" cy="31.3" r="1.6"/><circle class="s" cx="-1" cy="36.4" r="2.1"/><circle class="p" cx="-0.4" cy="30.8" r="1.4"/><circle class="p" cx="5.2" cy="29.3" r="1.2"/><circle class="p" cx="3.2" cy="33" r="1.5"/><circle class="p" cx="-5.3" cy="27.4" r="1.5"/><circle class="p" cx="6.3" cy="26.3" r="1.4"/><circle class="p" cx="-3" cy="37.8" r="1.4"/><circle class="p" cx="-2" cy="24.5" r="0.8"/><circle class="p" cx="5.9" cy="34.2" r="0.9"/><circle class="p" cx="-1.1" cy="27.5" r="0.9"/><circle class="p" cx="1.4" cy="30.6" r="1"/><circle class="p" cx="-5.9" cy="34.7" r="0.9"/><circle class="p" cx="2.5" cy="33.8" r="1.3"/><circle class="p" cx="7.7" cy="28.4" r="0.8"/><circle class="p" cx="5" cy="35.1" r="0.8"/><circle class="p" cx="-3.8" cy="33.9" r="1"/><circle class="p" cx="5.3" cy="28.3" r="1.4"/><circle class="p" cx="-1" cy="38.9" r="1.5"/><circle class="p" cx="6.8" cy="31.9" r="1.4"/><circle class="p" cx="-6.3" cy="26.4" r="0.9"/><circle class="p" cx="3.3" cy="26.2" r="1.6"/><circle class="p" cx="-2.4" cy="34.1" r="1.3"/><circle class="p" cx="3" cy="29" r="1.2"/><circle class="b" cx="-1.7" cy="24.6" r="1.9"/><circle class="b" cx="-2.6" cy="34.2" r="1.8"/><circle class="b" cx="2" cy="30.4" r="2"/><circle class="b" cx="2.5" cy="25" r="2"/><circle class="b" cx="4.3" cy="33.5" r="1.7"/><circle class="b" cx="5.7" cy="29.9" r="1.8"/><circle class="b" cx="1.4" cy="31.8" r="2.5"/><circle class="b" cx="-1" cy="34.6" r="2.4"/><circle class="b" cx="1.1" cy="33.3" r="1.9"/><circle class="b" cx="-5.4" cy="32.4" r="1.8"/><circle class="b" cx="1.3" cy="28" r="2.2"/><circle class="b" cx="-1.5" cy="32.6" r="1.8"/><circle class="b" cx="-0.8" cy="24.2" r="1.8"/><circle class="b" cx="1.2" cy="34.2" r="1.7"/><circle class="b" cx="-3.8" cy="25.8" r="1.6"/><circle class="b" cx="-4.7" cy="33.7" r="1.9"/><circle class="b" cx="4" cy="30.8" r="2.1"/><circle class="b" cx="-0.7" cy="26" r="1.7"/><circle class="b" cx="-3.4" cy="26.5" r="2.1"/><circle class="b" cx="-2" cy="30.9" r="2"/><circle class="b" cx="4.2" cy="34" r="2.4"/><circle class="b" cx="-0.7" cy="34.9" r="1.9"/><circle class="b" cx="-1.5" cy="28.4" r="3.2"/><circle class="b" cx="-1.5" cy="28.6" r="3.4"/><circle class="b" cx="-3.4" cy="31.9" r="3"/><circle class="b" cx="2.9" cy="31" r="2.6"/></g><g transform="translate(559.6,699.6) scale(1.004)"><use href="#mb"/><circle class="s" cx="-2.9" cy="27.2" r="1.3"/><circle class="s" cx="0.3" cy="17.8" r="1.1"/><circle class="s" cx="-3.9" cy="33.8" r="1.9"/><circle class="s" cx="-4" cy="28.5" r="1.5"/><circle class="p" cx="0.9" cy="34.1" r="1.2"/><circle class="p" cx="4.2" cy="32.3" r="1.5"/><circle class="p" cx="-8.2" cy="30.1" r="1"/><circle class="p" cx="-3.7" cy="24.8" r="1.2"/><circle class="p" cx="-6.2" cy="31.5" r="1.5"/><circle class="p" cx="-4" cy="30.6" r="1.2"/><circle class="p" cx="-5.8" cy="30.4" r="1.1"/><circle class="p" cx="3.6" cy="25.9" r="0.8"/><circle class="p" cx="6.4" cy="35" r="1.6"/><circle class="p" cx="3.5" cy="27.6" r="1.6"/><circle class="p" cx="1.3" cy="38.2" r="0.9"/><circle class="p" cx="1.4" cy="38.6" r="1.2"/><circle class="p" cx="1" cy="34.6" r="1.4"/><circle class="p" cx="-1.2" cy="34.3" r="1.1"/><circle class="p" cx="-5.3" cy="26.5" r="1.4"/><circle class="p" cx="-0.8" cy="33.8" r="1.3"/><circle class="p" cx="-6.6" cy="33.3" r="1"/><circle class="p" cx="2.2" cy="26.3" r="1.5"/><circle class="p" cx="-4.1" cy="37.6" r="1.6"/><circle class="p" cx="4.6" cy="27.1" r="1.5"/><circle class="p" cx="6.6" cy="33.3" r="1.1"/><circle class="p" cx="1.9" cy="35.9" r="1.3"/><circle class="b" cx="2.7" cy="24.9" r="2.5"/><circle class="b" cx="-4.1" cy="31.2" r="1.8"/><circle class="b" cx="-0.9" cy="27.2" r="2.3"/><circle class="b" cx="2.2" cy="30.9" r="2"/><circle class="b" cx="-2.4" cy="26.7" r="2.5"/><circle class="b" cx="5.8" cy="31.5" r="1.6"/><circle class="b" cx="-3.7" cy="32.2" r="2"/><circle class="b" cx="-5.1" cy="32.5" r="2.2"/><circle class="b" cx="-1.7" cy="33.1" r="2.5"/><circle class="b" cx="-0.1" cy="32.2" r="2"/><circle class="b" cx="4.9" cy="31.8" r="2"/><circle class="b" cx="-2.1" cy="34.3" r="2.1"/><circle class="b" cx="1" cy="30.7" r="2.5"/><circle class="b" cx="3.9" cy="29.4" r="1.8"/><circle class="b" cx="-3.5" cy="30.3" r="2.1"/><circle class="b" cx="3" cy="24.8" r="1.7"/><circle class="b" cx="2.2" cy="28.9" r="2.6"/><circle class="b" cx="3.8" cy="31" r="2.5"/><circle class="b" cx="-3.3" cy="26.9" r="2.3"/><circle class="b" cx="2.5" cy="27.3" r="2.5"/><circle class="b" cx="-0.3" cy="26.8" r="2.5"/><circle class="b" cx="-1.5" cy="33.5" r="2.2"/><circle class="b" cx="-3.2" cy="28.3" r="3.4"/><circle class="b" cx="-0.7" cy="27.2" r="3.3"/><circle class="b" cx="-1.4" cy="27.6" r="2.8"/><circle class="b" cx="-2.7" cy="30.3" r="3.5"/></g>
<line x1="241" y1="425.2" x2="530.5" y2="425.2" stroke="#1a1010" stroke-width="1.6"/>
<rect x="574.6" y="429.8" width="8.6" height="94.9" fill="url(#cb)" stroke="#222" stroke-width="0.8"/>
<line x1="583" y1="453" x2="586" y2="453" stroke="#222" stroke-width="0.8"/>
<line x1="583" y1="477.3" x2="586" y2="477.3" stroke="#222" stroke-width="0.8"/>
<line x1="583" y1="500.5" x2="586" y2="500.5" stroke="#222" stroke-width="0.8"/>
<line x1="583" y1="429.8" x2="586" y2="429.8" stroke="#222" stroke-width="0.8"/>
<rect x="574.6" y="539.2" width="8.6" height="153.6" fill="url(#cb)" stroke="#222" stroke-width="0.8"/>
<line x1="583" y1="578.5" x2="586" y2="578.5" stroke="#222" stroke-width="0.8"/>
<line x1="583" y1="618" x2="586" y2="618" stroke="#222" stroke-width="0.8"/>
<line x1="583" y1="655" x2="586" y2="655" stroke="#222" stroke-width="0.8"/>
<line x1="583" y1="539.2" x2="586" y2="539.2" stroke="#222" stroke-width="0.8"/>
<rect x="574.6" y="703.5" width="8.6" height="47.7" fill="url(#cb)" stroke="#222" stroke-width="0.8"/>
<line x1="583" y1="703.5" x2="586" y2="703.5" stroke="#222" stroke-width="0.8"/>
<text x="587" y="434.6" font-size="16.8" fill="#000" stroke="#000" stroke-width="0.35">1.0</text>
<text x="587" y="527.2" font-size="16.8" fill="#000" stroke="#000" stroke-width="0.35">0.1</text>
<text x="588.4" y="551.2" font-size="16.8" fill="#000" stroke="#000" stroke-width="0.35">4</text>
<text x="588.4" y="584.6" font-size="16.8" fill="#000" stroke="#000" stroke-width="0.35">3</text>
<text x="588.4" y="624.2" font-size="16.8" fill="#000" stroke="#000" stroke-width="0.35">2</text>
<text x="588.4" y="661" font-size="16.8" fill="#000" stroke="#000" stroke-width="0.35">1</text>
<text x="590.5" y="713" font-size="16.8" fill="#000" stroke="#000" stroke-width="0.35">1.0</text>
<text x="590.5" y="756" font-size="16.8" fill="#000" stroke="#000" stroke-width="0.35">0.1</text>
<text transform="translate(617.3,470.5) rotate(90)" font-size="17.6" font-weight="bold" fill="#000" text-anchor="middle">(ps/cm/sr)</text>
<text transform="translate(617.6,605.2) rotate(90)" font-size="17.6" font-weight="bold" fill="#000" text-anchor="middle">(ps/cm/sr)</text>
<text transform="translate(617.6,725.2) rotate(90)" font-size="17.6" font-weight="bold" fill="#000" text-anchor="middle">(ps/cm/sr)</text>
<text transform="translate(639.2,471.2) rotate(90)" font-size="16.5" font-weight="bold" fill="#000" text-anchor="middle">×10<tspan font-size="10" dy="-5.5">7</tspan></text>
<text transform="translate(639.2,605.5) rotate(90)" font-size="16.5" font-weight="bold" fill="#000" text-anchor="middle">×10<tspan font-size="10" dy="-5.5">5</tspan></text>
<text transform="translate(639.2,727.3) rotate(90)" font-size="16.5" font-weight="bold" fill="#000" text-anchor="middle">×10<tspan font-size="10" dy="-5.5">6</tspan></text>
<text transform="translate(693,343.4) scale(1,1.09)" font-size="30" font-weight="bold" fill="#231815">D</text>
<line x1="808.5" y1="344" x2="839.6" y2="344" stroke="#000000" stroke-width="4.4"/>
<text x="851.6" y="350.3" font-size="18.7" fill="#000" text-anchor="start" font-weight="bold" >Ctrl</text>
<line x1="808.5" y1="374.9" x2="839.6" y2="374.9" stroke="#c0bc22" stroke-width="4.4"/>
<text x="851.6" y="380.9" font-size="18.7" fill="#000" text-anchor="start" font-weight="bold" ><tspan letter-spacing="0.45">Conv. CAR</tspan></text>
<line x1="808.5" y1="404.3" x2="839.6" y2="404.3" stroke="#8a4fb0" stroke-width="4.4"/>
<text x="851.6" y="412.4" font-size="18.7" fill="#000" text-anchor="start" font-weight="bold" >RES<tspan font-size="10.8" dy="5.7">ind</tspan><tspan dy="-5.7" letter-spacing="0.48">-CAR Vehicle</tspan></text>
<line x1="808.5" y1="434.7" x2="839.6" y2="434.7" stroke="#1f4fa8" stroke-width="4.4"/>
<text x="851.6" y="440" font-size="18.7" fill="#000" text-anchor="start" font-weight="bold" >RES<tspan font-size="10.8" dy="5.7">ind</tspan><tspan dy="-5.7" letter-spacing="0.48">-CAR i.p.</tspan></text>
<line x1="808.5" y1="464.9" x2="839.6" y2="464.9" stroke="#e8201c" stroke-width="4.4"/>
<text x="851.6" y="471" font-size="18.7" fill="#000" text-anchor="start" font-weight="bold" >RES<tspan font-size="10.8" dy="5.7">ind</tspan><tspan dy="-5.7" letter-spacing="0.6">-CAR Oral</tspan></text>
<path d="M1035.2,342 H1048.2 V404.6 H1035.2" stroke="#000" stroke-width="2" fill="none"/>
<path d="M1077.5,368.5 H1089.4 V447 H1075.5 M1075.5,430.9 V462.5" stroke="#000" stroke-width="2" fill="none"/>
<path d="M1119.3,404.6 H1131.4 V447.5 H1117.9 M1117.9,431.4 V463.3" stroke="#000" stroke-width="2" fill="none"/>
<text transform="translate(1051.6,372.3) rotate(90)" font-size="18.4" font-weight="bold" text-anchor="middle" fill="#000" textLength="33" lengthAdjust="spacingAndGlyphs">N.S.</text>
<text transform="translate(1094.3,407.4) rotate(90)" font-size="18.4" font-weight="bold" text-anchor="middle" fill="#000" textLength="33" lengthAdjust="spacingAndGlyphs">N.S.</text>
<text transform="translate(1134,433.1) rotate(90)" font-size="25" font-weight="bold" text-anchor="middle" fill="#000">**</text>
<path d="M777.2,474.8 V708.6 H811.4 M813.9,708.6 H1136.1" stroke="#000" stroke-width="2.4" fill="none"/>
<line x1="769.8" y1="497.9" x2="777.2" y2="497.9" stroke="#000" stroke-width="2.4"/>
<line x1="769.8" y1="603.7" x2="777.2" y2="603.7" stroke="#000" stroke-width="2.4"/>
<line x1="769.8" y1="708.7" x2="777.2" y2="708.7" stroke="#000" stroke-width="2.4"/>
<path d="M809.4,702.4 V716.5 M815.9,702.4 V716.5" stroke="#000" stroke-width="2.2" fill="none"/>
<line x1="777.2" y1="708.7" x2="777.2" y2="716" stroke="#000" stroke-width="2.4"/>
<line x1="941.9250000000001" y1="708.7" x2="941.9250000000001" y2="716" stroke="#000" stroke-width="2.4"/>
<line x1="1110.225" y1="708.7" x2="1110.225" y2="716" stroke="#000" stroke-width="2.4"/>
<text transform="translate(759.9,505.2) scale(1,1.06)" font-size="22" font-weight="bold" fill="#000" text-anchor="end">100</text>
<text transform="translate(759.6,611.4) scale(1,1.06)" font-size="22" font-weight="bold" fill="#000" text-anchor="end">50</text>
<text transform="translate(761.3,715.6) scale(1,1.06)" font-size="22" font-weight="bold" fill="#000" text-anchor="end">0</text>
<text x="776.8" y="741.5" font-size="22" fill="#000" text-anchor="middle" font-weight="bold" >0</text>
<text x="813.7" y="741.5" font-size="22" fill="#000" text-anchor="middle" font-weight="bold" >25</text>
<text x="941.9" y="741.5" font-size="22" fill="#000" text-anchor="middle" font-weight="bold" >40</text>
<text x="1110.2" y="741.5" font-size="22" fill="#000" text-anchor="middle" font-weight="bold" >60</text>
<text x="962.5" y="772.6" font-size="24.2" fill="#000" text-anchor="middle" font-weight="bold" >Time (days)</text>
<text transform="translate(715.7,615.4) rotate(-90)" font-size="24" font-weight="bold" text-anchor="middle" fill="#231815">Percent survival</text>
<path d="M777.2,497.9 L1009.2,497.9 L1009.2,550.6 L1017.7,550.6 L1017.7,603.3 L1085.0,603.3 L1085.0,656.0 L1127.1,656.0 L1127.1,708.7" stroke="#e8201c" stroke-width="2.5" fill="none"/>
<path d="M777.2,497.9 L1017.7,497.9 L1017.7,540.1 L1059.7,540.1 L1059.7,624.4 L1085.0,624.4 L1085.0,666.5 L1118.6,666.5 L1118.6,708.7" stroke="#1f4fa8" stroke-width="2.5" fill="none"/>
<path d="M777.2,497.9 L908.3,497.9 L908.3,540.1 L958.8,540.1 L958.8,624.4 L984.0,624.4 L984.0,666.5 L992.4,666.5 L992.4,708.7" stroke="#8a4fb0" stroke-width="2.5" fill="none"/>
<path d="M777.2,497.9 L1009.2,497.9 L1009.2,540.1 L1026.1,540.1 L1026.1,582.2 L1034.5,582.2 L1034.5,624.4 L1059.7,624.4 L1059.7,666.5 L1110.2,666.5 L1110.2,708.7" stroke="#c0bc22" stroke-width="2.5" fill="none"/>
<path d="M777.2,497.9 L849.4,497.9 L849.4,540.1 L908.3,540.1 L908.3,582.2 L925.1,582.2 L925.1,624.4 L967.2,624.4 L967.2,666.5 L975.6,666.5 L975.6,708.7" stroke="#000000" stroke-width="2.5" fill="none"/>
<rect x="811.6" y="495" width="2.2" height="6" fill="#fff"/>
</svg></body></html>
